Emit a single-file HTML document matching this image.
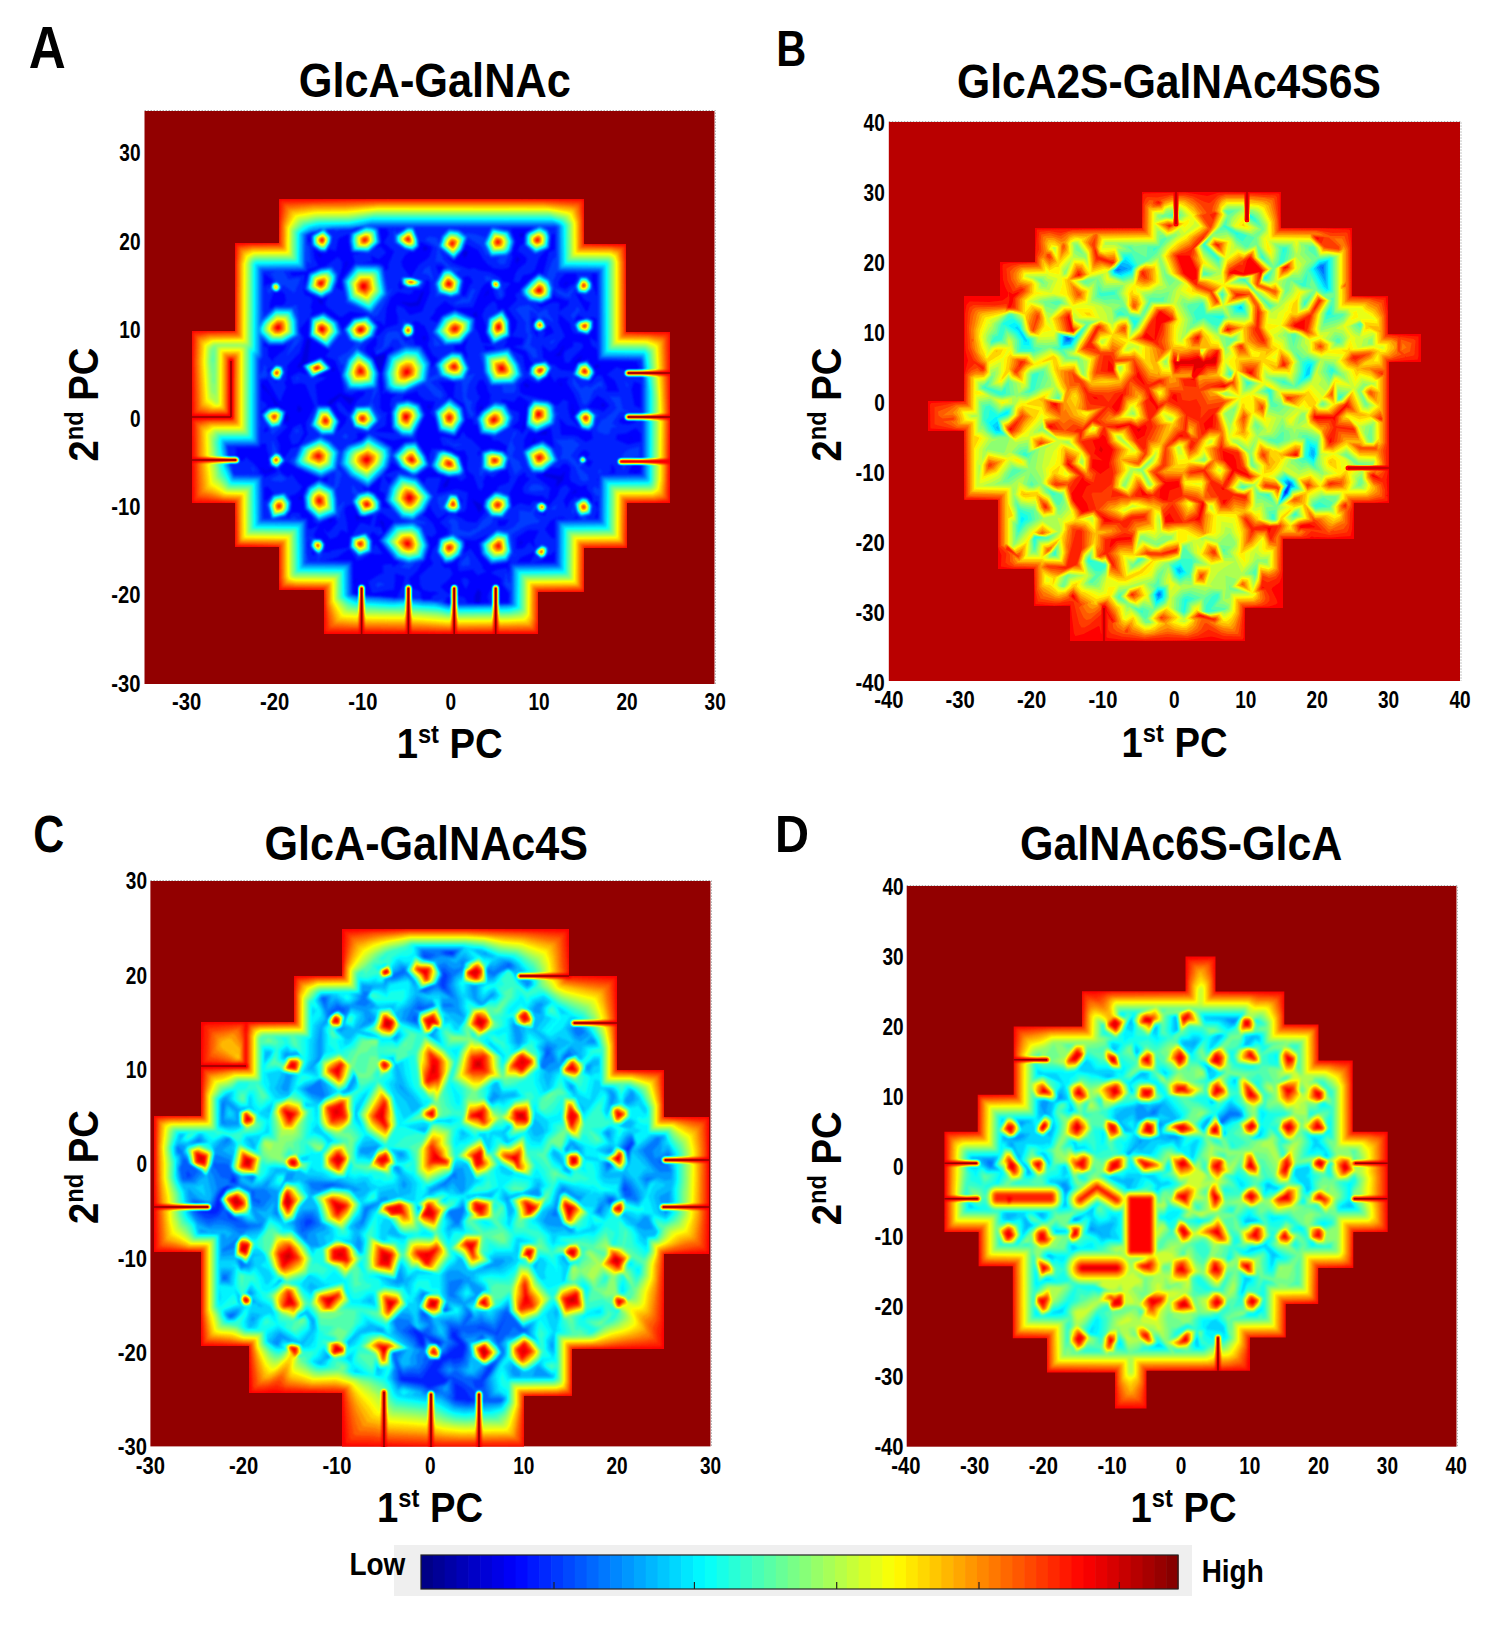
<!DOCTYPE html><html><head><meta charset="utf-8"><style>html,body{margin:0;padding:0;background:#fff;width:1500px;height:1628px;overflow:hidden}svg{display:block}text{font-family:"Liberation Sans", sans-serif}</style></head><body>
<svg width="1500" height="1628" viewBox="0 0 1500 1628">
<defs>
</defs>
<rect x="144.5" y="111.0" width="570.0" height="573.0" fill="rgb(146,0,0)"/>
<path d="M144.5 110.5H715.5V684.0" fill="none" stroke="#b0b0b0" stroke-width="1" stroke-dasharray="1.5 1.5"/>
<defs><clipPath id="clipA"><path d="M279 199 584 199 584 244 626 244 626 332 670 332 670 503 627 503 627 548 584 548 584 592 538 592 538 634 324 634 324 590 279 590 279 547 235 547 235 503 192 503 192 331 235 331 235 243 279 243Z"/></clipPath>
<filter id="fA" filterUnits="userSpaceOnUse" x="144.5" y="111.0" width="570.0" height="573.0" color-interpolation-filters="sRGB"><feGaussianBlur stdDeviation="1.30"/><feComponentTransfer><feFuncR type="table" tableValues="0 0 0 0 0.5 1 1 1 0.5"/><feFuncG type="table" tableValues="0 0 0.5 1 1 1 0.5 0 0"/><feFuncB type="table" tableValues="0.5 1 1 1 0.5 0 0 0 0"/></feComponentTransfer></filter></defs>
<g clip-path="url(#clipA)"><g filter="url(#fA)">
<rect x="144.5" y="111.0" width="570.0" height="573.0" fill="#141414"/>
<g transform="scale(.5)" fill-rule="evenodd">
<path fill="#181818" d="M1428 1368l-1139-1 1-1145 1139 1z"/>
<path fill="#202020" d="M1428 1368l-1139-1 1-1145 1139 1zM1040 475l6-1 2-8-9 1zM848 502l6-3 1-4-5-2-4 2zM930 516l6-11 0-2-8-3-4 8zM642 514l0-3-7-6 3 9zM1032 528l7-9-1-3-6-3zM682 557l13-32-1-4zM1128 569l2 1 5-3-1-3zM968 594l10-9-2-4zM802 605l18 8 18-2 9-26-1-2-3 2-9 19-14 2-16-2zM644 610l1-9-9-4 2 7zM956 642l-3-15 1-7 0 3-7 4-1 4 8 4zM847 681l4-4-1-5-4 1zM596 736l8-1-2-4 13-6 6-44-3-4-4 0-12 47-6 7zM1110 711l10 1 8-23-9 16zM760 744l2-1 10-36-22 7-5-9 0 6 4 6zM1150 729l2 1 2-7 4 0 6-12-13 12zM1189 735l1 2 10-4-8-5zM670 741l-3-6-5-3 4 5-6 4zM1059 771l-9-5-3 3 7 7zM1124 771l-2-6-2 1 0 3zM569 819l-13-10-32-42 0 6 19 20 8 18 5 0zM656 809l6 3 0-3 20-18 18 19 10-15-6 1-20-6-2-4-26 17zM1210 811l-4-5-5 5 7 2zM1146 833l2-6-4-19zM600 824l3-7-7-7-1 13zM862 811l-8 0 4 7zM960 821l5-4-1-8-4 8zM1048 857l4-46-3 2 3 2-5 36-3 4zM574 844l4-7-4-12-5 16zM1094 863l-2-2-16 8 18 0zM1063 887l7-2 0-12zM1265 877l-3-2-4 2zM547 939l-3-2-12 7-12-11 10 13zM1129 943l-7 9-30-5-7 2 3 3 24 7 2 2-2 13 14-13zM1268 945l4 0 1-2-3-1zM876 949l-6-3-9 3zM886 976l9-3 5-16-4 0-9 12zM1038 968l2-6-2 1zM1144 989l10-6-4-3zM596 998l8 2 0-10zM1178 996l-4-6-1 3zM958 1025l7-8-1-8-20-10zM711 1031l3 10 4-3 13 1 1-4-6 1-8-1-4-5zM665 1039l-5 0-3 2 3 4zM770 1061l-3-16-5-5-3 5 4 2 5 14zM1040 1090l5-5-1-4-5 4zM932 1093l8-6-8 0zM708 1167l6-11-6 7zM912 1179l-4-14-2 0-7 8 3 4zM952 1207l8 0 2-22-6-7-7 15 0 10z"/>
<path fill="#282828" d="M1428 1368l-1139-1 1-1145 1139 1zM770 542l7-5 0-10 11-24-21-18 11-18-5-10-15 0 5 28-15 14 12-7 13 13-15 14-16-8 2 12-20 2 36 2 7 4zM1056 744l3-9 7-9-5-3-9-20-26-10 18-4 4-12-25-4 9-16 2-14-18-26 18-17-4-11 10-7 0-3 20-20 18-14 8 4 12-46 12-4 0-30 0-2-8 3-2 27-10 6-11 12-9 25-8 7-16 4-8 15-11-3 4-16 5-9 16-13 2-8-12-11-7-3 5-12 8-4 1-18 3-4 13-8-39 0-4 4 9 22-8 24 2 8-7 21-14 3-18-2-6-6-4-1-10-12-10-18-24-12-5 13-19 21-17-11 15 15 32 12 10-2 13 5 19 3 20 11 6 9 16 2-12 14 1 11-7 9-11-1-6-16 0-4-4-4-3-12-11 6-7 9-16 37-36 1-20-14-19 17-1 6-10 12 1 2 13 6 9-14 27-13 40 18 0 20 6 7 8 22 18 3-11-21 1-14-8-22 6-15 14-13 6 0 4 8 2 10 10-5 14 25 2 32-10 6 3 2-7 14 10-2 6 8 22 10 3 20 3 10zM622 487l-2-16 6-4-1-2-9 10 0 6zM686 661l1-4 19-22 30-6-36-6-16 11-6-1-26-21-1-7 5-12-14 5-26-13-7-6-1-4 10-31 24-10 8-1 26-20 8 10 0 12-12 40 14 7-3-23 27-34-5-16 18-2-17-1-5-3-3-20 0-15-21 9-5 26-14-5-6 8-10 0-16-9 3 20 8 14-1 2-20 6-2 5-34 1 4 7 26-3-3 32 4 10 7 1 7 7-4 16 4 6-5 12 28-10 29 20zM820 553l2 1 16-25 20-14 7-20-23-11-2 1-2 10-10 9-9-1-9 8-7 12 2 10zM878 549l10-14-4-4-12 0zM542 570l0-3 4-2-2-5-16-13 0 26 8-6zM1118 573l14 6 8-8 8-3 6-11-1-10-22 0-10 10-4 8zM1194 593l0-44-2-2-9 0 0 14zM930 593l11-26 5-2-4-8-6-5-11 3 3 6-5 28zM800 579l10-6-7-4-1-10-5 10 1 9zM749 863l41 3-7-9-2-34 2-6-3-6 3-16 11-6-14-1-8-4-6 4-2-1 3-8-4-32 11-38 14-10-4-6-18 12-14 6-5-14 6-6 1-14-4-2 1-2 7-3 14-14 24-8 0-13-4-14 2-11 13 5 13 15 24-7 16-38 0-20-4-5-6 1 1 6-8 12-15 0-4 8-6 2-22-5-14 11-9 22-3 32-2 2-8-8-8-1-6-5 11 16-7 22-19 18 0 10 16 14 12 30-1 14 3 30-1 24 6 9 10 1-3 6-1 20zM540 617l2 1 8-7 14 0 5-4 3-6-3-14-9-6-2 3-10 0-8 21-1 8zM1176 621l5-16-11-4-9-12-5-1-2-4-2 5 20 34zM1138 601l-6 0-20-7-6-6-1 9-21 11-12-1 10 8 22-10 12 0 3 2-1 16 18-13zM1238 783l-8-21-17-13 21-16 8 5 15 3 7 10 2 0 8-6 4-12-5-10-77-1-2-23-11-8-4-16 1-1 14 11 0-47-8-4-8 3 9 4-1 16-10 14-28-4-5-8-3-12-22-19-1 17 13 28-13 14-5 9-12 8-16-13 2 24 16 14 6 0 14 11 22 2 2 2 5-7 3-12 17-4 7-5-1 7 12 16 2 8-11 17-7-1 9 3 12-15 10 0 10 22-1 10zM1150 645l6-5 14-3-14-6-5 6zM1076 676l-1-13-5-2-4-6 1-10 4-6-5-5-2 11 3 18zM568 917l14-21 14-3 7-6 13-20-3-6-1-16 17-32-18-44-9-3-16 3-5-16 17-9 18 6-12-19 36-16 4 0 20 22-32 16 22 2-22 13-1 3 5 38 24 2 20 32-6 21 16-17 4-12-16-13-7-13 7-7 20 24 18-27 12-9 2-7-13 0-15 7-14-5-7-36-11-28-19-8 8-12-42-26 1-39-18 22 0 5 8 12-8 30-25 26-3 30-4 4 5 8-11 26 2 4-6-2-23-42-13 2 0 39 11 7 0 8-11 9 0 4 14-12 20-3 16 10-6 24 10 6-23 22 6 14 0 16zM862 737l14-20-10-6-11-22 4-10-2-10-9-19-6 0-2-5-10-3-7 5 4 2 2 12-1 8-5 4 3 1 4 15 13 2 19 32zM1087 675l21-10-8-14-6 2-7 8 4 2zM807 673l5 8 10-6-8 1zM934 719l0-12-4-10 6-21-12 13-16 2 2 9 14 3zM1130 726l-3-15 3-9 16-9 1-10 13 2 6 4-1 8-21 20-4 8zM574 689l-6 2-30 1-10-7 0 8 7 0 2 20 11 12-1-8 22-18zM966 691l6 10 20-4-8-4zM540 749l-1-6 7-10-11 8zM1160 856l-12-23 12-16-12-29-14-21 0-6 4-6-22 1-6 9-8-12-2-8-4 8-10 6-8 8-9-2-15-9-15 13 1 15 7 5 51 12 12 10 7-2 9-10 10 3 0 15 5 20zM954 832l8-11 17-14 2-18-5-6-2-10-8-14-8 2-6 14 4 14 5 4-8 14-2 10zM555 763l-7-2 2 4zM846 1199l16 0 4-9 12-3-12-4-6 1-14-4-6-9-1-16 0-4 27-24-6-12 6-17 8-10 3-11 19-8 0-10-17-14 19-17 14 2 22 13 18 2 19-22-5-10 3-14 19-16 6-2 2-8 21-8 3-11-6-18-2 4-11 3-15 12-10-5-4 0-6 14 2 7-6 11-6-6-9-25-11-8-2-8 1-20-6-14-15 1-16-9-13-2-5-14 2-5 22 4 6 4 9-5 7-12 9 12 7 3 21 21-9 8 6 5 2-10 18-5 28 5 4 3 2-13-18-11-10 0-5-8-21-4-6-21-6 3-2-12-12-2-6-28-21-14 3-30-10-2-16 0-6 2 6 6 12 20-6 8 10-5 24 19 3 4 4 24-21 33-32-8-2-3-6-26-10-12 5-6 5-16-20-2-12-10-4-9-26 9-3 8 11-1 24 8 11 23-17 34-2 16 19 30 7 16 1-16 5-12 22 1 16 4 18 11 13 42-11 8-9-8-15 0-24-8-12-11-6 0-21 15 13 16 5-12 28 0 1 2-8 30 40-9 22 7-3 30-3 8-14 3-4 3-18-3-18 12-14-19-2-9-14 21 6 2 14 14 7 16 0 4-9 8-10-4 6 22-9 28-7 4-10 18-16 14 4 18 19 8 2 14zM1282 817l0-49-14-5-5 16 6 32zM1206 824l13-13-13-14-12-6-19 24 25 5zM1044 868l8-11 2-42 4-10-18-13-4 2-8 10-23-5-3 4 10 3 8 12 19 7-2 18-14 12 15 4zM524 836l-2-6 0 4zM1272 835l-14-2-16 3-5 7 7 5 14 1 14-5zM1185 877l-2-14 1-4-4 4-16-2-16-8-14-2-14-14-1 2 3 31 30 1 20 13zM584 890l-6-17 8-18 16-8 6 18-11 22zM528 865l9-4-3-8-6 6zM1048 897l38-17 22 16-6-39-4-1-26 11-14-4-9 16zM1232 879l24 10 26-6 0-15-10-12-20 11-18 2zM703 885l20-6 9-11-18-3 1 12zM828 881l-22-4-20 4-34-8 32 20 2 6 4 1 20-17zM552 945l2-6-17-8 2-4-2-10 1-4-4-12-2-14-10 1-1 5-3 2-46 0 0 26 14 1 6-8 18 15 8 10 1 8 8 2 1 6zM1180 933l5-10-12-6 7-10-10-7-6 2-8 11 4 2 6-4 3 2 5 6-5 8 9 7zM740 1051l6-20-18 3-10-1-12-23-8 0-7 5-2 8 5 22 2 21-14-6-7 13-15 6-13-20 1-1 8 8 19-21-6-10-23 8-8 6-10-4-3-10-16-18-3-26 7-16 26-18-47-21-20-13-14 15 7 9 11 7 8-6 12 17 9 8-7 10-8 6-12 4 5 10-1 18-10 14-5 0 8 0 9-10 16 1 2 9 13 2 1 21 6 0 14-8 1 1-9 18 2 6 12 2 7 10-3 17 12 1 4-4 34-6 2-3 2-19 6-2 0-4 14-21 6 0zM768 950l22-9 12-2-18-15-5 11zM1184 991l-11-14 1-7-14 3-18-10-3-8 2-20-9-8-8 2-4 7-18-1-16 12-12 1-2 5 29 22-5 26-12-10-10 1-26-5-3-10 4-8 11-12-8-4-2-9-14 10-18 35 3 4 3 24 3-4 13-7 20 5 5-8 3-1 18 2 8 5 2 5 19-23 6-16 11-6 9 10-14 22 6 16 8-16 9-7 8 2 6-3 12 3 6 8 4 1zM1230 947l0-10-8-9 1 15-7 4zM1282 932l-8-4-10 3-8 14 4 2 21 0zM656 953l-14 6 13 6zM780 1017l0-2-11-14 1-13-12-7 6-28-28 25-12-5 6 8 6-1 15 7 12 16 1 12zM778 968l6-11-14-5-1 3zM1196 962l0-4-3 1zM532 1002l14-15 4 0-6-3-8-11-8 2 0 24zM922 1008l3-7-7-8zM1196 1017l0-14-7 2zM1190 1037l6-1 0-19zM1092 1021l-6 6-10-4-1 2 15 7zM794 1195l12-26 4-16-20-6 0 16-2 17-12 1-32 6-8-24 24-15 6-1 0-18 18-1 2 6 13-9-11-5-31-39 30-38-25-18-8 6-5 22 13 1 4 11-8 9-12-10-2 0-4 7 5 10 1 18 2-8 4-3 14 20-16 1-6-3-22 13-8 2-16-23-24 17-24 6 52 0 3 2 1 64 8 2zM1157 1037l-3-5-7 5zM1102 1075l8 2 0-38 2-2 20 0-6-3-12 1-14 8-10 16zM997 1053l13-2 8-12-23 2zM1078 1061l-22-1-24 16 0 22 15-1 11-13 13 13-3-16zM1017 1207l1-20-14-18 0-11-23-13 13-6 20-3 4 10 0-17 3-10-7 7-32 4-19-19-6-24 21-18-28 12-24-2 3 4 1 8-4 16 14-9 2 0 22 32 2 7 7 6-17 8-8-8 0-4-30 4-3-16 5-12-14 10-8 3-10 0-6-9 2 10 6 7 9-1 7 12-8 12-17 14 15 14 34 8 5 12 37 0 7 0-4-14 5-12 12 1 5 7 3 14-8 4zM618 1098l0-13-2-2 0 14zM628 1112l2-7-6-7 0 12zM1034 1125l26 0 9-16-1-6 2-3-6 6-22 9zM1110 1103l-4 2-2 4-10 2-12 11-17 3 44 0zM932 1179l-8-14 0-9 10 0 5 7zM910 1207l-4-8-10-6-2 2-3 10 5 3z"/>
<path fill="#2f2f2f" d="M1428 1368l-1139-1 1-1145 1139 1zM1020 1207l1-24-12-14 2-18-2-4 4 0 3 18 4 1 2-38 90-1 1-86 51-2-11-14-3-12-2 14-5 0 5-23 16-10 12 2 10 17-4 16-11 4 4 6 23 0 0-48-6 1-7-11 3-9 10 6 2-28 84-1 1-202-3-26-85-2-1-174-82 0-7 16 0 12 3 4-4 3-3 17-21 10-24-4-15-12-1-12 20-20 16-13 16 7 2-10 10-24 6-6 0-58-23 0 8 4 4 12-3 26-28 12-21-20 1-20 4-5 16-10-78 0 26 6 11 23-5 20-7 8-7 18-10 0-7-8 8-6-21 0-4-8-2 4-2 0-9-18-27-17-11 25-17 19-30-23 9 22 13 13 23 7-11 6 14 16-6 29-16 5-18-4-14 2-2-2 2-4-4-20 17-28 8-4-9-10-13-2 4-28-26-16 9-6 16 2 4 12 5-16 15-15 20 3 14 10 2-3 16 2 22 7 10-20-154-1 9 23 1 16-12 10-18-5-20-13-1-16 1-10 6 8 18-12-58 0 3 2 4 28-23 21-35-3-4-20 1-16 22-12-8 0-10 4-22 0-12 5 1-5-19 0 12 14-1 12-11 19-12-1-17-12 0-20 19-12-28 10-1 18 6 8 3 34-8-7-2 20-44 1 9 16 23-4-1 8-9 21-2 2-22-16-4 3 2 2-6 7-8 2-6-4-6 10-4-11 8-5 1-7 7-2-4-12-6-6 11-4-25 0 0 81 2-1 0 10 22-20 30 0 14-4 4 28-1 24 5 12-4 12-24 27 0-3 14-30-22 11-28 0-13-9 0 34-6 6 1 30 7-14 1-9 6 7-2 4 4 12-5 4-9 1-3 3 1 89 2 1-3 8 0 32-3 3-62 0 6 37 5 6-1 6 4 9 42-1 15 2 1 86 15 0-8-28 13-20 25-4 11 18-1 18-9 12-18 4 26 1 6-4 4 0 4 4 19 1 0 66 5 18 17 0 1-14-9-8-7-10 3-12-7-6 8 1 1 3 17 1 7 11-2 10-6 8 3 4-4 2-3 10 66 2 1 63 10 3 22 0 2 2 24 0 2 2 34 1 10-1 4-14 2-1 13 17 17 1 2 2 18 0 12 3 2-3 8-1 0 6 8 1 2 2zM756 631l-10 2-4-4-52-24 2-6-7-38 25-33 48 1 8 4 10 50 10-8zM610 577l8-31 24-10 22-4 12 15-2 14-9 24-21 12-26-12zM866 562l-10-13-12-2 5-10 9-5 2 1 7 28zM1004 594l-5 1-4-14-11-6-3-10 2-6-11 4-4-11 12 1 9 6 9 2 4 8 4 22zM847 563l-7 12-26 0-10-6-1-12 1-3 22 2 16 4zM1174 588l-18-2-7-13 11-20 14 0 9 12 0 14zM1150 575l-9 16 2 4-11 0-16-7-7-9 1-2 11 4 11 6 16-13zM907 607l20-12 7 2 10-20 7 2-11 27-30 3zM1076 715l-10 2-4-8-12-12-7-2 5-2 9-24-4-2-2-10 1-12-21-26 7-6 20-4 18 17 18-9 3 10 10 16-1 1-20-11-4 4 5 4 5 14-10 8-10-2-2-2-3-10 2-6 7-6-2-9-14-8-1 27 2 18 3 6-4 20 12 7zM1146 638l-5-7 11-12 2-8 7 12-5 2-8 13zM986 690l-14-25 4-30 30-17 13 23 1 32zM864 665l20-33 26-12 39 17-2 24-25 28-34 3zM658 698l-40-25 3-38 27-10 28 18 9 26-5 2zM736 864l-28-8-9-23 11-20 23-2 8-6 6-26-53 4-12-30 6-25-6 2-7-15 23-13 12-13-3-4-9-4-11-22 19-23 30-5 20 22-8 20-20 12-8 8-2 4 28 20 12 30-3 34-12 24 4 2 1 6 11 16 4 2-5 12zM806 641l0-5 2 3zM1176 670l-21-7-6-14 7-8 18-5 12 5-1 16zM814 675l-7-4-5-8 6-24 3 6 9 1 7 5 1 12-4 9zM946 833l-4 0-6-8-10-28-3-34-17 0-24-7-19 7-1 2 20 17 5 9-9 10 0-6-8-2-21-24-43 19-24-1-12-8-5-32 10-38 29-16-8-14-10-1-10 15-20 14-3 0-1-4 14-8 4-24 6-7 12-2 8 1 4 4 2 8 9 12 3-1 6 4 22 3 19 32-3 30 16-7 0-5-4-14 14-15 20-11 20 2 16 32-6 14 17-4-14 22-4 22 4 8 7 4-2 14 6 12zM884 691l-14 2-2-1-2-21zM1099 685l5-4 8-2-8 9zM1028 786l-20 0-2-1-2-14-22 1-3-3-12-24-1-14-7-22 5-7 4 2 50-9 22 32 8 24-16 18 0 10zM622 756l-16-26 36-14 21 21zM1076 764l-19-15 3-14 8-9 24-4 12 13-10 18zM1180 762l-18-2-17-11 11-24 18-4 13 16 2 10zM560 760l-10 0-9-7-1-10 12-13 12 2 5 13zM591 757l3-3 7 3-9 2zM1204 778l-4-6-14 11-6 16-6 9-6 2-3-3-7-22-13-16 0-14 2 0 15 22 10-6 8 4 22-14 4 6zM1254 777l-4-18 7 12zM1195 863l-2-6 9-16 8-4 23-20-5-12-10-12 22 0 6 26 15 4-21 1-16 23 10 6-2 2-9 0-5 14-8 0zM910 872l-32-8-10-43 32-26 25 20 4 26zM1072 866l-20-13 3-38 9-14 0-3 34 4 10 7 4 17 6-1-5 8-4 16zM826 876l-24-3-18-16-1-34 8-20 25-3 24 9 9 22zM960 867l-7-30 9-14 28-20 21 4 17 28-9 20-29 18zM848 1122l-19 5-5 7-6 4-14-3-2-2 9-6-22-8-30-38 27-34 30-4-14-4-32-38 7-28 19-27 28 5-26-16-14-22-7 22-12 14-29 27-36-20-24-28 0 10 8 9-7 26-5 7 4 34 12-12 1 3-8 20-3 14-4-6-4-1-32 12-27-25-3-28 8-18 22-13 30 13 3-28-5 0-22 11-6-1-46-21-12-11 4-8 6-2 10-22 40-20-21-20 15-39 26 1 19 30-11 28-22 2 16 9 20 21 12-13 30-10 14-13 44 27 3 13 25-22 23-2 19 30 7 18-30 22 6 2 32 38-17 31-18 15 16 4 5 6-18-2 9 6 14 38zM544 870l-3-11-10-14-8-16 15-13 18-2 14 8 1 3-9 26 2 2zM1180 861l-16-2-15-26 13-14 14-3 12 9 12 6-8 5-3 17zM590 868l1-9 5-2 2 6zM962 955l-4-8 2-6-2-6 4 0 2-32 18-5 26 5 9 8-3-12 14-36 3 0 1 5-8 13 6 16-6 16 14 9 7 15-11 9-4 5-12-33-6 20-32 8-9-3-5 3zM690 879l-6-6 6-6 5 2 1 6zM1170 964l-9-3-10-26-17-16-15 0 5-12 0-12-12-13 0-8 2 6 32-2 14 11-18 22 1 2 7 6 6 10 4-4-2-6 4-5 4-2 7 7-3 6-5 2 1 3-8 5 17 14 3 10zM556 937l-14-5-4-15 7-10-1-4 0-25 9 19 1 8 7 4 9 12zM926 889l-18 4-16-11 0-3 16 10 6-2zM1064 946l-9-13-10-30 21-14 20-7 19 13 13 26-32 25zM1246 942l-2-31 6-8 4-1 1-3 24-6 0 16 3 6-6-1-18 6zM922 952l-24 2-24-8-13-15 7-16 2-14 14-2 20 5 15 9 10 30zM508 948l-5-11 1-4 4 4zM1196 948l1-9 5 0 1 6zM572 959l-8 5-18-2-5-3 19-11 12 9zM1090 977l-2 4-22 2-8-1-1-3 1-4 6-7 16 1zM761 1021l-11 7-22 6-10-3-14-28 5-12-5-6 0-14 2-1 11 15 19-4 13 6 13 16zM873 1103l5-26 25-10-1-18-6-6 6-6 6 0 8 6 2 16 20 5 10-6 4 0 14-18 11-9-10-18 4-14 19-16 10 0 19 8 4 22-15 22-22 1-2 9-6 6-36 22-26-1 12 11 1 8-6 20-21 14-12 2zM924 1017l-12 10-14-1-10-7-6 3-6-16-2-11 24-8 16 1zM963 1109l-4-22 35-28 18 2 14-6 13-14-1-21 24 4 10-18 12-2 9 5 1 8-8 9-8-2-6-6-6 9 6 9 8 5-4 6-10 0-14 5-29 17 3 38-10 16-34 6zM1103 1019l1-4 11-6-4 10-7 1zM764 1065l-2 3-5-5 7 0zM718 1114l-19-19 3-22 30-8 12 16-1 24zM1082 1117l-10-7-3-5 3-6 12-10 12 6 0 10-6 9zM1028 1113l1-4 3-1-2 5zM922 1133l0-6 2-5 12-12 3 7 1 14zM751 1169l7-5 12 5-16 6z"/>
<path fill="#373737" d="M1428 1368l-1139-1 1-1145 1139 1zM1020 1209l3-4 1-74 91-2 1-86 85-2 1-88 85-2 0-188-3-42-4-3-80-1-1-174-83-2-1-86-3-3-30 1 14 8 4 12-2 22-4 3-24 9-20-18 1-18 3-6 23-12-1-1-333 1 7 2 6 4 4 26-24 20-32-2-4-20 2-16 27-14-15 1-10 4-54 1 13 14-2 14-9 16-12-1-16-13 0-18 20-12-4-1-6 4-20 6-3 3-1 68-87 2 1 98 26-24 36 1 9 23 2 32-31 17-28 0-14-12-1 1 0 36-6 6 0 168-3 3-61 1 6 38 8 22 55 2 2 87 86 1 2 85 88 1 2 62 12 3 70 4 4 2 26-2 2 2 26 1 4 3 28 1 22 6zM826 502l-16-4-19-13-1-14 26-17 10 0 10 25 1 14zM1014 511l-34 1-12-25 16-33 35 9 9 20-6 20zM908 519l-31-26 8-22 13-13 20 2 17 13-11 28zM743 627l-48-24-9-42 26-31 44 1 9 4 9 54zM612 578l6-30 26-11 20-2 10 14-1 12-9 23-20 12-24-11zM918 589l-16 5-26-7-6-20 16-28 10-2 6 1 22 21-4 28zM1082 606l-24-4-13-13-2-10 19-19 16-12 21 11 6 18-3 20zM1172 588l-16-3-5-12 11-19 12 0 9 11 0 12zM846 563l-8 10-22 1-11-5-2-12 3-2 18 1zM996 579l-11-4-3-10 2-5 12 0 3 3 2 10zM550 584l-8-7 2-10 10-4 8 12-6 8zM986 689l-13-24 4-28 29-17 12 21 1 32zM866 665l19-32 25-11 37 15 1 2-3 22-23 26-32 3zM656 697l-37-24 3-37 26-10 26 17 7 22-6 10zM700 681l-11-22 17-21 30-6 18 21-7 20-27 14zM1080 662l-10-3-3-8 3-8 8-7 8 5 5 12-1 4zM1176 669l-21-6-6-14 7-7 18-5 11 4 0 16zM814 675l-6-4-5-10 7-14 6-1 10 5 2 12-4 8zM772 778l-5-31 10-36 33-18 30 1 20 33-6 36-48 23-24-1zM752 776l-30 4-26-1-12-28 11-34 19-21 31 23 12 28zM1045 751l-17 18-46 1-13-25-4-38 13-4 40-6 20 32zM928 760l-22 2-26-9-9-24 14-14 19-11 20 3 14 30zM622 755l-16-24 36-14 20 20zM1180 761l-18-3-16-9 10-23 18-4 12 15 3 10zM1076 763l-17-14 2-14 9-8 22-4 11 12-10 18zM560 760l-10 0-8-9-1-8 11-12 12 2 4 12zM910 871l-32-10-9-38 31-26 23 18 5 26zM824 874l-22-3-17-16-1-32 10-17 22-5 22 8 9 20-11 25zM1072 865l-17-10-2-4 3-36 12-15 30 3 9 8 3 20-2 16-18 11zM962 867l-8-30 10-14 26-18 20 3 15 27-7 19-28 17zM668 869l-26 1-21-19 15-38 22 0 20 30zM736 863l-28-8-8-22 12-20 30-1 13 21 1 10zM542 857l-11-14-7-14 14-12 18-2 14 8-4 16-6 14zM1178 861l-14-3-14-25 12-13 14-3 15 12-3 23zM736 974l-36-21-21-24 7-28 10-10 28-9 14-13 42 26 2 14-6 24-12 15zM644 954l-6-1-45-20-6-8 15-33 40-19 18 10 19 20-6 36zM834 949l-8 2-26-16-15-24 25-25 22-2 19 29 6 18zM1064 944l-7-11-10-30 19-13 20-7 18 13 12 25-30 24zM963 937l1-32 18-6 24 4 11 12-7 23-30 7zM922 950l-24 3-22-7-9-9-4-6 12-28 11-3 17 5 15 9 10 29zM554 936l-12-5-3-14 11-12 10 3 9 13zM1164 927l-5-6 2-6 5-3 7 9-3 4zM826 1041l-23-4-31-36 7-28 19-25 36 8 31 37-16 30zM638 1043l-27-26-2-24 7-18 22-14 31 16 4 20 1 32zM720 1032l-15-31 11-14 20-5 12 5 12 16 1 16-13 8-20 6zM1006 1034l-24 0-14-21 4-14 18-15 10 1 18 8 4 20zM544 1038l-9-29 11-19 24-4 12 19-2 16-10 11zM912 1026l-14-1-12-10 5-12 9-15 14 2 5 11 3 16zM1160 1033l-7-10-4-18 15-10 10 2 10 14-4 19zM1086 1025l-8-1-6-9 1-6 9-5 11 7 0 6zM848 1119l-30 8-26-8-31-38 27-34 40-2 15 10 13 36zM982 1127l-17-18-4-22 33-27 24 6 6 39-10 18zM718 1113l-18-18 2-20 30-9 11 15-1 22zM890 1126l-15-21 5-28 26-9 21 15 0 10-6 18-15 11zM638 1109l-10-8-7-10 5-13 16 1 7 10-3 10zM1082 1117l-13-12 4-6 11-9 11 5 0 8-5 11z"/>
<path fill="#3e3e3e" d="M1428 1368l-1139-1 1-1145 1139 1zM1022 1209l4-2 1-74 87 0 3-2 2-86 81 0 3-2 2-88 81 0 3-2 1-188-5-44-3-6-80-1-1-173-3-2-80-1 0-85-8-4-372 0-24 4-2 2-6 0-2 2-52 1-3 1 14 14-3 14-10 15-10-1-14-10-2-12 1-8 21-12-6-1-6 4-10 1-15 6-2 68-83 0-3 2 0 104 1 1 28-27 34 0 10 22 1 32-29 16-28 0-16-15-2 1 0 38-6 6 0 168-4 2-58 1-1 7 6 34 9 24 2 2 52 1 0 83 2 3 86 2 0 81 2 3 88 2 0 59 16 5 24 2 20 0 30 4 24-2 30 3 4 2 16 0 20 3 14 5 62 1zM706 502l-5-19 2-16 29-14 14 2 8 3 4 27-20 18zM836 493l-10 8-16-4-18-12 0-14 22-15 12 0 9 23zM1070 506l-19-17 1-18 4-6 24-12 15 8 4 12-2 22zM1014 509l-32 4-13-26 15-31 33 7 10 20-5 18zM908 518l-30-25 7-20 13-14 20 3 15 13-9 24zM742 625l-46-24-8-40 24-29 44 0 7 5 9 52zM613 577l6-28 23-11 20-2 10 13 0 12-8 22-20 11-24-10zM918 588l-16 5-25-8-5-18 14-26 10-3 6 2 22 20zM1082 605l-23-4-12-12-2-10 33-30 20 10 6 18-2 18zM1172 587l-15-2-5-12 10-19 12 1 8 10 0 12zM845 563l-7 9-22 2-10-5-2-12 18-1zM996 578l-11-3-3-10 4-5 10 1 2 2 3 10zM550 583l-7-6 0-8 11-4 7 10-5 7zM986 687l-12-22 4-28 28-15 11 19 1 30zM890 688l-22-25 18-29 24-11 36 16-3 22-21 25zM656 696l-36-23 3-36 25-10 26 18 6 20zM702 681l-12-22 18-21 28-5 17 20-7 19-24 14zM1080 662l-9-3-3-8 2-7 8-7 8 4 5 12-1 3zM1176 668l-20-5-6-14 6-6 18-5 10 3 0 16zM814 674l-6-4-4-9 5-12 7-3 9 5 2 12-3 8zM774 777l-5-30 10-36 33-17 27 3 19 30-6 35-46 23-22-2zM750 774l-28 4-25-1-12-26 10-32 19-21 31 23 10 26-3 26zM1043 751l-15 16-46 1-12-25-2-36 49-8 20 30zM937 737l-9 21-22 3-26-10-7-22 13-13 18-11 18 2zM622 754l-14-23 34-14 19 20-37 18zM1076 762l-17-13 2-14 9-8 22-3 10 11-10 18zM1180 760l-16-2-16-9 8-22 18-3 11 13 3 8zM560 759l-10 0-7-6-2-10 11-12 11 2 4 12zM910 869l-31-8-9-38 30-24 23 18 4 24zM1056 854l-3-5 4-34 11-14 28 3 10 7 3 20-3 17-34 15zM824 872l-20-2-18-15-1-30 9-18 22-5 22 9 8 20zM964 866l-2-2-7-27 10-14 25-17 20 4 14 25-6 18-28 17zM736 862l-26-7-9-22 11-19 30-1 11 20 2 10zM644 869l-22-18 13-36 23-1 19 29-9 24zM542 855l-10-12-7-14 13-11 18-2 13 9-3 14-6 12zM1178 860l-14-3-13-24 11-13 14-2 14 11-3 22zM736 972l-34-20-20-25 4-24 10-10 28-10 14-12 40 25 2 15-6 22-11 14zM642 952l-46-19-7-10 13-30 40-18 18 10 17 18-6 36zM1066 943l-8-10-10-30 20-12 18-6 17 12 11 24-28 23zM826 949l-24-14-15-24 23-23 20-3 19 28 6 16-21 18zM922 949l-24 3-21-7-9-8-4-6 12-27 10-3 16 5 16 9 8 26zM965 937l1-32 16-5 24 4 10 11-6 22-30 7zM554 935l-11-4-4-14 11-11 10 3 8 12zM1164 926l-5-5 3-6 4-2 7 8-3 3zM826 1039l-22-3-30-35 7-26 17-25 34 7 32 36-16 28zM638 1041l-26-24-2-24 8-18 20-12 30 16 4 18 1 30zM720 1030l-14-29 10-13 20-5 12 6 11 14 0 16-11 7-20 6zM544 1037l-8-28 10-18 22-4 13 18-3 16-8 10zM1004 1034l-22-2-13-19 3-12 18-16 10 1 17 7 4 20zM912 1025l-14-1-11-9 13-26 14 2 5 12 2 14zM1160 1032l-6-9-4-18 14-9 10 1 9 14-2 16zM1086 1025l-8-2-5-8 0-6 9-4 11 6 0 6zM846 1119l-28 6-26-8-29-36 27-32 36-3 16 10 13 35zM982 1125l-17-18-2-20 31-26 22 5 7 37-9 18zM718 1112l-17-17 2-20 29-8 10 14-1 22zM890 1124l-15-21 5-24 26-10 19 14 1 10-6 17-16 12zM638 1108l-10-7-6-10 4-12 16 1 6 9-2 10zM1082 1116l-12-11 3-6 11-8 10 4 0 8-4 10z"/>
<path fill="#464646" d="M1428 1368l-1139-1 1-1145 1139 1zM1027 1209l1-70 2-4 86 0 4-2 0-82 2-4 80 0 4-2 0-84 2-4 80 0 4-2 0-190-5-46-3-6-76 0-4-2 0-172-4-2-78 0-2-4 0-80-10-6-370 0-12 4-6 0-2 2-56 2-16 4-8-2-6 4-12 0-16 8 0 62-2 4-82 0-4 2 0 116 8-12 24-22 34 0 8 22 2 28-28 17-26 0-22-19 0 42-6 6 0 168-4 2-58 0-1 2 6 44 11 26 48 0 4 2 0 82 2 4 82 0 4 2 0 80 2 4 84 0 4 2 0 58 18 5 74 6 24-2 34 5 26 1 24 7 116-1zM706 501l-3-18 2-16 27-13 14 2 7 3 4 26-21 18zM1070 504l-18-15 1-18 5-6 22-11 14 8 4 11-2 20-4 4zM826 500l-16-4-17-13 0-12 23-15 10 1 8 22 1 12zM982 511l-12-24 14-29 32 5 9 20-5 19-8 7zM650 501l-10-1-13-9-2-12 1-8 22-12 14 14-2 12zM908 516l-29-23 7-20 12-13 20 3 14 12-9 24zM742 623l-45-22-7-40 22-28 42 1 8 5 8 48zM614 577l6-28 22-10 20-2 10 14-1 10-9 22-18 10-22-9zM917 587l-15 5-24-7-5-18 15-26 8-1 6 1 21 20zM1082 604l-22-4-11-11-3-10 18-18 14-11 20 11 5 16-2 18zM805 557l17-1 22 7-6 8-22 2-10-5zM1172 586l-14-1-5-12 9-18 12 1 8 11 0 10zM996 578l-11-3-2-10 3-5 12 3 3 8zM550 583l-6-6 0-8 10-4 7 10-5 7zM988 686l-13-21 3-26 2-3 24-14 12 19 1 30zM870 663l17-28 23-10 34 14-2 22-22 24-29 2zM656 694l-35-23 3-34 22-8 26 16 6 20zM702 679l-11-20 17-20 28-4 16 18-7 18-23 14zM1080 661l-8-2-4-8 2-6 8-7 8 4 5 11-1 3zM1176 667l-19-4-6-12 6-8 17-4 10 4-1 14zM814 674l-6-5-4-8 5-12 7-2 9 4 2 12-3 7zM775 775l-4-28 9-34 32-17 26 3 18 28-5 34-45 22-20-1zM750 773l-26 4-26-1-11-25 10-32 17-19 29 21 11 26zM984 768l-13-25-2-34 47-9 19 29 6 22-15 15zM926 758l-20 2-24-9-8-22 12-12 18-11 18 2 14 29zM624 754l-15-23 33-13 18 19zM1076 761l-15-12 1-14 8-7 21-3 10 10-9 17zM1178 760l-14-2-15-9 9-22 16-2 12 14 1 8zM560 759l-10-1-7-5-1-10 10-11 10 1 5 12zM908 868l-28-8-9-37 29-23 21 17 5 24zM1057 853l-3-4 3-32 11-15 28 3 8 6 4 20-4 16-32 15zM824 870l-20-1-16-14-2-30 8-16 22-5 20 7 9 20zM964 864l-7-27 9-13 24-16 19 3 13 24-6 18-26 16zM736 861l-27-8-7-20 10-18 28-1 12 19 3 8zM542 854l-10-12-5-13 11-10 18-2 12 8-3 14-6 12zM666 867l-22 1-20-17 12-35 22-1 18 28zM1178 859l-14-3-13-23 11-12 14-2 14 12-4 20zM736 969l-34-19-18-23 4-22 10-11 26-9 14-11 38 23 2 14-6 22-10 12zM642 951l-46-20-5-8 13-29 38-17 16 8 17 18-5 34zM832 947l-8 0-22-13-14-23 24-22 18-3 18 27 6 16zM1066 942l-7-9-9-30 18-11 18-6 16 11 10 24-26 21zM1010 935l-28 7-15-5-1-30 16-6 24 4 9 10zM920 948l-22 3-20-7-12-13 11-26 9-3 16 5 15 8 8 26zM554 935l-11-6-3-12 12-10 8 3 8 11zM1164 926l-4-5 2-6 4-2 6 8zM826 1038l-22-4-28-33 6-26 18-24 32 8 30 34-16 28zM638 1039l-24-22-3-24 7-16 20-13 28 15 4 18 1 30zM722 1030l-15-27 9-14 20-5 11 5 11 14 0 16-10 6-18 5zM1004 1033l-22-2-11-18 2-12 17-15 8 1 18 6 4 20zM544 1036l-7-27 11-17 20-4 12 17-2 15-8 10zM912 1025l-14-2-10-8 12-25 13 1 5 12 2 14zM1162 1032l-8-9-3-16 13-10 10 1 9 13-3 16zM1086 1024l-8-1-4-8 0-6 8-4 10 6 0 6zM845 1117l-27 7-24-8-29-35 25-30 36-4 15 10 12 34zM984 1124l-17-17-3-20 30-24 22 5 6 37-10 15zM718 1111l-16-16 2-20 28-7 9 13-1 22zM890 1123l-14-20 5-24 25-8 17 12 2 10-7 18-14 10zM638 1107l-9-6-6-10 3-11 16 0 5 9-2 10zM1082 1116l-12-11 4-6 10-8 9 4 0 8-3 9z"/>
<path fill="#4e4e4e" d="M1428 1368l-1139-1 1-1145 1139 1zM1030 1210l0-69 2-3 90-2 0-83 2-3 84-2 0-85 2-3 80-1 4-2 0-188-6-50-2-8-76 0-3-2-1-173-82-2-2-3 0-78-4-4-12-4-362 0-26 6-56 2-14 3-20 1-22 9-2 3 0 60-2 3-82 1-4 2 0 170-6 5 0 169-4 4-59 0 0 14 6 34 13 28 46 0 3 2 2 86 83 0 3 2 2 84 85 0 3 2 1 54 2 4 20 6 72 5 22-2 36 5 24 1 26 7 126-2zM708 500l-4-17 2-15 26-13 13 2 7 3 3 25-19 17zM826 499l-16-4-16-12 0-11 22-15 10 2 8 20 1 12zM1072 504l-18-15 0-18 4-5 22-10 13 7 4 10-2 20-3 3zM1012 508l-30 1-11-22 14-28 31 6 8 18-5 18zM650 501l-10-2-12-8-2-18 22-13 13 13-1 12zM908 515l-27-22 5-18 12-13 18 2 15 11-9 24zM742 620l-8-2-35-19-8-36 23-28 38 1 8 3 9 48zM616 577l6-28 20-8 18-3 10 13-1 10-7 20-18 11-21-9zM916 586l-14 5-23-6-5-18 14-24 8-2 6 1 20 19zM1082 603l-22-4-10-10-2-8 16-19 14-11 18 10 6 16-3 18zM806 557l16 0 21 6-7 9-18 1-12-6zM1172 586l-14-2-4-11 8-17 12 1 7 10 0 10zM996 577l-10-2-3-8 3-7 11 3 3 8zM556 581l-6 1-6-5 0-8 10-3 6 7zM566 684l-26 0-20-19-1-8 7-14 26-24 30 1 9 21 1 28zM988 685l-12-22 3-24 25-15 12 19 0 28zM872 663l16-27 22-10 33 15-3 20-20 23-28 2zM654 692l-32-21 2-32 22-9 24 15 7 20zM704 679l-11-20 15-19 26-5 16 18-8 19-20 12zM1080 661l-8-2-3-8 1-6 8-7 8 5 4 12zM1174 667l-17-6-5-12 5-6 17-4 9 4-1 14zM814 673l-6-4-3-8 5-12 6-1 8 3 2 12-2 6zM776 773l-3-26 9-33 30-15 25 2 17 28-5 32-41 20-22-1zM748 772l-26 3-22 0-12-24 10-30 16-19 28 19 10 26zM1040 749l-14 16-42 1-11-23-3-32 12-4 34-5 18 27zM935 737l-9 19-20 3-22-8-8-22 12-12 16-9 18 2zM610 733l1-2 31-12 17 18-35 16zM1178 760l-14-3-14-8 8-21 15-3 12 14 2 6zM1076 760l-14-11 1-14 7-6 20-4 10 12-8 14zM560 758l-10 0-6-5-2-10 10-11 11 3 3 10zM908 866l-27-7-8-36 25-21 22 16 4 21zM824 868l-20-1-15-14-2-28 9-16 20-4 20 8 8 18zM1058 852l-3-5 3-30 10-14 26 3 8 5 4 20-2 14-32 15zM966 864l-8-27 9-12 23-16 18 4 12 22-6 18-24 14zM666 866l-22 1-19-18 12-32 21-1 17 27zM736 859l-26-6-7-20 9-16 28-2 13 26zM544 854l-10-11-7-12 11-11 16-3 13 8-2 12-7 14zM1178 858l-14-3-12-22 10-11 14-3 13 12-3 19zM736 967l-32-18-18-22 4-22 10-10 24-8 14-11 36 22 3 13-7 22zM642 949l-42-18-7-8 12-28 35-17 17 9 17 18-6 31zM832 946l-8 0-22-13-12-22 22-21 19-1 16 24 6 16zM1066 941l-7-10-8-26 17-12 18-5 16 11 8 22-24 20zM920 947l-22 3-20-7-11-12 11-25 8-3 16 4 14 9 8 25zM967 935l1-29 14-4 22 3 9 10-5 21-26 6zM554 934l-11-5-3-12 12-10 8 4 7 10zM1164 926l-4-5 2-5 4-3 6 8zM826 1036l-22-5-26-30 6-25 16-23 32 8 28 32-14 26zM638 1038l-24-23-2-22 8-16 18-11 28 15 3 16 1 28zM722 1029l-14-26 10-13 18-5 10 5 11 13 0 16-11 6-16 5zM546 1035l-8-26 10-16 20-4 11 16-2 14-7 10zM1004 1032l-22-2-10-17 2-12 16-14 10 1 16 7 2 18zM912 1024l-14-1-9-8 11-25 12 1 6 12 1 14zM1162 1031l-7-8-4-16 13-10 10 2 8 12-2 14-2 3zM1086 1024l-8-2-4-9 2-5 8-3 8 6 0 6zM844 1115l-26 7-24-8-26-33 24-29 34-3 14 10 12 32zM984 1123l-15-16-3-20 28-23 21 5 6 34-9 16zM718 1110l-16-17 3-18 25-6 10 12 0 20zM892 1122l-15-19 5-24 24-7 17 13 1 8-6 16-14 10zM638 1106l-8-5-7-10 5-11 14 1 5 8-3 10zM1082 1115l-11-10 3-6 10-7 8 3 1 8-3 8z"/>
<path fill="#555555" d="M1428 1368l-1139-1 1-1145 1139 1zM1032 1212l2-72 90-1 2-87 84-1 2-89 82 0 3-3 0-176-7-64-2-10-79-2-1-174-82-1-1-79-5-5-14-6-362 0-44 9-62 2-18 3-19 11-1 63-86 1-1 170 0 4-5 2-1 170-3 3-59 1 0 16 5 34 13 30 50 2 1 86 87 2 1 84 89 2 0 54 5 4 18 7 72 4 24-2 36 6 24 0 26 7 118-1zM754 485l-18 16-28-2-3-16 1-14 26-13 12 2 7 5zM1072 502l-17-13 0-16 3-6 22-10 12 6 4 12-2 18zM824 498l-12-3-17-12-1-10 22-15 9 1 8 20 1 12zM1012 506l-28 3-12-22 14-27 28 5 9 18-5 16zM650 500l-8-1-14-10-1-16 19-12 14 14-1 10zM908 513l-26-20 6-18 12-12 16 2 13 10-8 24zM740 619l-40-20-7-36 21-26 38 0 7 4 7 46zM618 577l-1-4 5-22 20-9 18-2 8 11 0 10-7 20-19 10-18-9zM916 585l-14 5-23-7-4-16 13-23 8-2 6 1 19 18zM1082 602l-20-3-12-12-1-6 15-17 14-11 18 9 5 15-3 17zM842 563l-6 8-18 2-11-6 0-10 15 0zM1172 585l-14-2-4-10 8-17 12 2 7 9-1 10zM996 577l-10-3-2-7 2-6 11 2 3 8zM556 581l-6 1-5-5 1-9 8-2 6 7zM566 683l-26 0-18-18-1-8 7-14 24-22 30 2 7 18 1 28zM988 683l-11-20 3-24 24-14 11 18 1 26zM892 684l-19-21 16-26 21-9 31 13-2 20-19 22zM654 691l-31-20 3-32 20-8 22 14 7 20zM704 678l-10-19 14-18 26-5 15 17-7 18-20 11zM1080 660l-8-3-3-6 2-6 7-6 7 4 5 10zM1174 666l-17-5-4-10 5-8 14-3 11 3-1 13zM814 673l-5-4-4-8 5-11 6-2 8 4 2 11-3 6zM779 773l-5-26 10-32 28-14 24 2 16 26-4 30-40 20-20-1zM722 774l-22-1-10-24 9-28 15-16 28 18 9 24-3 22zM1038 749l-14 15-38 1-12-22-2-32 44-7 16 25zM924 756l-18 1-22-8-6-20 10-10 16-10 16 1 14 27zM624 752l-13-19 1-2 28-11 18 17zM1076 759l-14-12 2-12 8-6 18-3 9 11-8 14zM1178 759l-14-3-13-7-1-2 8-18 14-4 12 14 2 6zM558 758l-8-1-5-4-3-8 10-12 10 2 3 10zM908 865l-26-7-8-33 24-21 21 15 4 20zM1059 851l-3-4 3-30 9-12 26 2 8 6 3 18-3 14-30 14zM822 867l-18-2-14-12-2-28 8-15 20-4 18 7 8 18zM966 862l-6-25 8-12 22-14 16 2 13 22-5 16-24 15zM734 859l-24-8-6-18 10-16 26 0 10 18 2 6zM544 853l-10-11-6-11 12-11 14-2 12 7-2 12-6 13zM664 865l-20 1-18-17 12-31 20 0 16 25zM1178 856l-14-3-11-20 11-11 12-2 12 11-3 18zM736 965l-30-17-18-21 4-22 10-9 24-8 10-10 36 21 2 12-5 20zM642 947l-42-18-5-6 12-28 33-15 16 8 16 17-5 30zM1068 940l-7-9-9-26 16-10 16-6 16 10 9 20-23 20zM826 945l-22-12-12-22 20-19 18-3 16 24 6 16-20 15zM1007 935l-25 6-14-6 0-28 14-4 23 4 8 10zM918 947l-20 2-18-6-8-8-3-6 10-22 9-3 14 4 14 9 7 22zM554 934l-10-5-3-12 11-9 7 3 7 10zM1164 925l-4-4 2-5 4-2 6 7zM826 1034l-20-3-26-30 5-24 17-22 30 8 26 30-14 26zM638 1036l-22-21-2-20 6-16 18-11 26 13 4 18 1 24zM722 1028l-13-25 9-12 18-4 10 4 10 12 0 15-10 6-16 5zM1004 1031l-20-1-11-17 3-12 14-12 8 0 17 6 2 18zM546 1034l-7-25 9-15 20-3 9 14-1 14-8 10zM912 1023l-12-1-9-7 9-24 12 1 5 11 2 12zM1162 1030l-7-9-3-14 12-9 10 2 7 11-3 16zM1086 1023l-8-2-4-8 2-5 8-2 8 5-1 6zM842 1115l-24 6-22-7-26-33 22-27 34-2 12 7 12 32zM984 1121l-14-16-4-16 28-23 20 4 6 33-8 14zM718 1109l-15-16 2-16 25-8 9 12 0 20zM892 1121l-14-18 4-22 24-8 16 12 1 8-6 16-13 9zM638 1106l-8-6-6-9 4-11 13 1 5 8-1 8zM1082 1114l-11-9 4-6 9-7 8 4 1 7-3 8z"/>
<path fill="#5d5d5d" d="M1428 1368l-1139-1 1-1145 1139 1zM1034 1214l2-71 91-2 1-86 85-2 1-88 82-1 3-3 0-178-7-66-4-11-76-1-1-174-83-2-1-76-7-7-16-6-360 0-44 8-62 2-18 4-21 13-1 60-87 2-1 174-5 2 0 170-3 3-59 1-1 18 6 34 13 30 3 3 46 1 2 87 86 1 2 85 88 1 1 52 7 6 18 8 72 4 24-2 36 5 24 1 26 6 118-1zM710 498l-4-15 2-14 24-11 12 1 6 4 3 20-16 16zM824 497l-12-3-16-11-1-10 21-14 8 0 8 20 0 12zM1072 501l-17-14 1-14 4-6 18-9 14 7 3 10-2 16-3 4zM1010 506l-27 1-9-20 12-26 28 6 7 16-4 16zM650 499l-10-2-12-10 0-14 18-11 13 13-1 10zM908 512l-25-19 6-18 11-11 16 2 12 11-7 20zM740 616l-39-19-7-34 20-24 36 0 7 4 8 42zM618 576l6-25 18-8 16-2 10 12-9 28-17 9-18-9zM914 585l-12 4-22-6-4-16 12-22 8-2 6 2 17 16zM1082 601l-20-4-10-10-2-6 14-16 14-11 17 9 5 14-2 16zM841 563l-5 7-18 2-10-5 0-10 14 0zM1172 584l-14-3-3-10 7-14 10 1 8 9-1 10zM996 576l-10-2-2-7 2-6 11 2 2 8zM556 580l-6 1-5-4 1-9 8-1 6 8zM564 682l-22 0-19-17-1-8 6-12 24-22 28 1 8 19 0 26zM988 682l-10-19 4-25 22-12 10 17 1 26zM875 663l15-25 20-9 30 14-3 18-17 20-26 2zM654 690l-31-21 3-28 20-9 23 15 5 18zM705 677l-10-18 15-18 24-3 13 15-5 17-20 11zM1080 660l-8-3-2-6 2-6 6-5 7 3 4 10zM1175 665l-17-4-4-10 4-7 14-4 10 3 0 12zM814 672l-4-3-4-8 4-10 6-2 8 4 1 10-2 6zM780 771l-4-24 9-30 27-14 23 2 15 25-4 29-38 19-20-2zM986 763l-10-20-3-30 41-8 17 26 5 18-12 13zM746 768l-24 4-21-1-9-22 8-26 16-17 24 17 9 22zM924 754l-18 2-20-7-7-20 11-11 14-8 16 1 12 26zM612 733l28-12 17 16-31 14zM1076 758l-13-11 2-12 7-5 18-3 8 10-8 14zM1178 757l-14-1-12-8 6-18 14-4 11 13 2 6zM558 757l-8 0-6-6 0-8 8-9 9 1 4 10zM908 863l-25-6-8-32 23-20 20 15 4 19zM1060 850l-3-5 3-26 8-13 24 2 8 5 4 18-4 14-26 12zM822 866l-18-2-13-13-1-26 8-14 18-3 16 5 8 16 0 4zM968 861l-7-22 7-12 22-15 16 3 11 20-5 16-22 14zM544 852l-15-21 11-10 14-2 11 6-2 12-5 11zM664 864l-20 0-17-15 11-30 20 1 14 23zM734 858l-23-7-5-18 8-15 24-1 11 18 2 6zM1178 855l-13-2-11-20 10-10 12-2 11 10-3 18zM736 963l-28-16-18-20 5-22 9-8 22-8 10-9 34 20 2 11-5 20zM642 945l-39-16-6-8 11-24 32-16 15 8 15 16-5 28zM831 943l-7 1-18-11-13-20 21-20 16-2 14 22 6 16zM1068 938l-7-9-8-24 15-9 16-6 16 11 8 18-24 20zM970 935l-1-26 2-2 13-3 19 3 9 10-6 17-24 6zM918 945l-20 2-16-5-9-7-2-6 9-22 8-2 14 4 13 8 7 22zM554 933l-10-5-2-11 10-9 7 3 6 10zM1164 925l-3-4 1-4 4-3 5 7zM826 1032l-20-3-24-28 6-24 14-20 28 6 26 30-13 24zM638 1034l-21-19-2-20 5-14 18-12 25 14 3 16 1 22-1 3zM722 1027l-12-24 10-12 16-3 8 3 10 12 1 14-9 6-16 5zM1004 1029l-20 0-10-16 2-10 14-13 8 0 16 7 2 16zM546 1033l-6-24 8-14 18-4 10 14-1 14-7 9zM912 1022l-12 0-9-9 9-20 12 0 5 10 2 12zM1162 1029l-6-8-3-14 13-8 8 2 6 10-1 14zM1091 1017l-5 6-6-1-5-7 1-6 8-3 7 5zM841 1113l-23 6-22-7-23-31 21-25 31-3 12 8 11 30zM985 1119l-14-14-3-16 26-22 20 4 5 30-7 14zM718 1107l-14-14 2-16 24-7 8 13-1 18zM892 1119l-12-16 4-23 22-5 14 10 2 8-6 15-12 9zM638 1105l-8-5-6-9 4-10 12 0 6 8-2 8zM1082 1114l-10-9 3-6 9-6 8 4 0 6-3 8z"/>
<path fill="#656565" d="M1428 1368l-1139-1 1-1145 1139 1zM1037 1215l2-70 87 0 3-2 2-86 81 0 3-2 2-88 81-1 4-7 0-176-9-74-3-5-76-2-1-173-3-2-79 0-2-76-7-7-18-6-360-1-46 9-62 1-18 4-8 4-14 12-1 58-83 0-4 4 0 171-6 5 0 168-4 2-54 0-3 2-2 10 8 52 15 28 46 1 1 85 3 2 83 0 2 84 3 2 85 0 2 52 7 6 16 8 76 5 22-2 70 6 18 5 120 0zM710 497l-3-16 3-12 22-10 17 4 3 20-16 15zM1072 500l-16-13 1-14 3-5 18-9 13 6 3 10-2 16zM824 496l-12-2-15-11-1-10 20-13 8 1 7 18 1 10zM650 498l-8-1-13-10 0-14 17-10 13 12-2 10zM1010 504l-26 2-9-19 11-25 26 5 8 16-4 15zM908 511l-12-8-12-12 6-16 10-10 14 2 13 10-7 20zM740 613l-6-1-32-17-6-32 20-23 34 1 6 4 7 40zM619 575l5-22 18-9 16-2 8 11-1 10-6 16-17 10-16-8zM914 584l-12 4-20-5-5-16 11-20 8-3 6 2 16 15zM1082 600l-18-3-11-10-1-6 14-16 12-10 16 9 5 13-3 16zM840 563l-6 7-16 2-10-5 0-8 14-1zM1172 583l-13-2-3-10 6-13 10 0 7 9 0 8zM994 577l-8-4-2-6 2-5 10 1 3 8zM552 582l-6-5 0-8 8-2 5 8-3 5zM564 680l-22 0-17-17-1-6 6-12 22-21 26 1 8 18 1 24zM988 680l-9-17 3-22 22-13 9 17 1 22zM894 682l-17-19 15-24 18-8 28 11-2 19-16 18zM654 688l-30-19 3-28 19-7 21 13 5 16zM706 676l-10-17 14-17 24-3 12 14-5 16-19 11zM1080 659l-7-2-3-6 2-6 6-5 6 2 5 9-1 4zM1174 665l-14-4-6-10 6-7 12-3 10 4-1 10zM814 671l-4-3-4-7 5-10 5-1 8 3 1 10-3 6zM782 770l-4-23 8-28 26-14 22 2 14 24-5 28-35 17-18-1zM1034 749l-12 12-34 1-11-19-2-28 9-4 30-5 16 25zM744 767l-22 3-20 0-9-21 9-26 14-15 24 17 8 20zM931 737l-8 16-17 2-20-8-5-16 9-11 14-8 16 1zM626 751l-13-18 27-12 16 16zM1177 757l-13-2-12-8 8-17 12-3 10 12 3 6zM1064 747l1-10 7-7 16-2 9 9-7 13-12 7zM558 757l-8-1-5-5-2-6 9-11 8 1 4 10zM906 862l-22-6-8-31 22-18 19 14 4 18zM1060 848l-2-3 2-26 9-12 23 2 8 6 2 16-2 12-26 13zM822 864l-16-1-14-12-1-24 7-15 18-3 16 6 7 16zM968 860l-6-21 7-12 19-13 16 2 12 19-6 16-20 12zM734 856l-22-5-5-18 7-14 24-1 10 17 1 6zM556 848l-12 3-8-10-6-10 10-9 14-3 10 7-2 11zM644 863l-15-14 9-28 18-1 15 23-7 19zM1178 854l-12-1-11-20 9-9 12-2 11 9-3 16zM642 944l-38-16-5-7 11-24 30-14 14 7 14 15-5 28zM736 960l-28-15-15-20 3-18 8-8 22-8 10-10 33 20 1 10-5 20zM830 942l-6 0-18-10-11-19 19-19 16-1 14 22 5 12zM1068 937l-6-8-7-24 15-9 14-5 14 10 9 18-23 19zM1006 933l-24 6-12-6 0-24 14-4 20 4 6 8zM918 943l-20 3-18-6-8-9 9-22 7-3 14 4 11 7 8 22zM554 932l-10-5-2-10 10-8 6 2 7 10zM1164 925l-3-4 1-4 4-3 5 7zM824 1030l-18-3-23-28 6-20 13-19 28 5 24 28-12 23zM638 1033l-20-19-2-19 6-14 16-10 23 12 4 16 1 22zM754 1017l-10 6-14 4-6-1-12-23 7-10 17-4 9 4 8 10zM1002 1029l-18-2-9-14 2-10 15-13 21 7 2 16zM548 1032l-2-2-5-21 9-14 16-3 10 15-2 12-6 8zM910 1022l-10-1-9-8 11-20 10 1 4 9 2 12zM1162 1028l-6-7-2-14 12-8 6 2 8 10-2 13zM1086 1022l-7-1-3-6 1-6 7-3 7 5 0 6zM840 1112l-22 5-20-6-24-28 20-25 30-4 12 9 11 28zM986 1118l-13-13-4-16 25-21 18 4 5 31-7 12zM718 1106l-13-13 1-14 2-2 22-6 7 12 0 16zM892 1118l-12-17 4-18 20-8 14 10 2 8-4 14-12 9zM638 1104l-8-5-5-8 3-9 12 0 5 7-1 8zM1082 1113l-10-8 4-6 8-5 8 3 0 6-4 8z"/>
<path fill="#6c6c6c" d="M1428 1368l-1139-1 1-1145 1139 1zM1038 1217l2-2 0-64 2-4 86 0 4-2 0-82 2-4 80 0 4-2 0-84 2-4 78 0 5-8 1-176-8-76-6-8-70 0-4-2 0-172-4-2-78 0-2-4 0-70-8-9-24-7-354 0-48 9-62 1-26 7-16 13 0 54-2 4-80 0-6 6 0 166-6 8 0 168-4 2-56 0-4 14 8 54 16 28 42 0 4 2 0 84 4 2 82 0 2 4 0 80 4 2 84 0 2 4 0 46 10 9 14 7 78 5 22-2 70 7 18 5 122-1zM712 496l-3-13 1-12 22-11 10 1 6 4 3 18-15 14zM824 495l-12-2-14-10 0-10 18-12 8 1 7 17 0 10zM1072 499l-15-12 1-14 2-4 18-9 12 6 3 9-2 16zM642 496l-11-7-2-10 1-6 16-9 12 11-2 10-6 12zM986 505l-10-18 10-22 2-2 24 6 7 14-5 15-6 5zM906 510l-21-19 5-14 10-11 14 2 12 9-7 20zM738 612l-34-17-6-30 18-23 32 0 6 3 7 40zM620 575l6-23 16-7 14-1 9 11-7 24-16 9-16-8zM913 583l-11 4-20-6-4-14 12-20 8-1 4 1 16 16zM1082 599l-18-3-9-9-2-6 13-15 12-9 16 8 4 12-2 14zM809 559l13-1 17 5-5 7-16 1-9-4zM1172 582l-12 0-4-11 7-12 9 0 7 8-1 8zM994 576l-8-3-1-6 1-4 10 0 3 8zM552 581l-6-4 0-8 8-1 5 7zM564 679l-22-1-16-15 0-8 5-10 21-19 26 1 6 16 2 24zM990 679l-10-17 3-21 21-11 8 15 1 22zM896 681l-17-18 13-23 18-8 26 11-1 16-15 19zM652 686l-27-17 3-27 18-7 19 12 5 16zM706 675l-8-16 12-15 22-4 13 15-7 15-16 9zM1080 659l-6-2-3-6 2-6 5-4 6 2 4 8-1 4zM1174 664l-15-5-4-8 4-6 13-3 9 3-1 10zM822 668l-8 3-4-4-3-6 5-10 4-1 7 3 1 8zM784 769l-4-22 8-27 24-13 20 2 14 22-4 27-34 17-16-1zM1033 747l-11 12-34 2-9-18-3-28 38-6 14 22zM722 769l-18 0-10-20 8-24 14-16 23 18 7 18-2 20zM922 752l-16 2-18-7-5-18 9-9 12-7 14 1 12 23zM626 750l-12-17 26-11 15 15zM1076 756l-11-9 1-10 6-6 18-2 7 8-7 12zM1176 756l-12-2-11-7 7-16 12-3 10 11 2 6zM558 756l-6 0-7-5-1-6 8-10 8 1 4 9zM906 861l-22-7-6-27 20-18 18 12 4 18zM1074 854l-15-9 2-26 9-11 22 2 7 7 2 14-2 10-13 9zM822 862l-16-1-13-12-1-22 6-13 16-4 18 7 6 14zM970 859l-6-20 6-11 18-13 16 2 10 20-4 12-20 13zM544 850l-13-19 9-8 14-3 10 7-3 10-4 10zM663 861l-19 0-14-12 10-28 16 0 14 20zM734 855l-22-6-5-14 7-14 24-1 8 15 2 6zM1176 854l-10-2-10-19 8-9 10-2 12 9-3 16zM640 942l-34-15-5-6 11-24 28-13 14 8 12 13-4 27zM736 958l-26-14-15-19 3-18 9-8 19-6 10-10 30 18 3 12-5 16zM1068 935l-5-6-7-22 14-10 14-4 12 8 9 18-21 17zM830 941l-6 0-17-10-11-18 18-17 16-1 13 20 4 12zM971 933l1-24 12-4 18 3 7 9-5 16-20 5zM916 943l-18 2-16-5-5-5-3-6 8-20 8-1 12 3 10 6 7 20zM554 932l-9-5-2-8 9-10 6 3 6 9zM1164 924l-3-3 1-4 4-2 5 6zM824 1029l-16-3-23-27 6-20 13-18 26 6 22 26-11 22zM638 1031l-19-18-2-18 5-12 16-10 23 12 3 36zM724 1025l-11-22 9-10 14-3 8 4 9 11 0 12-9 5-14 4zM1002 1028l-16-1-10-14 2-10 14-11 18 4 2 3 2 14zM548 1031l-6-22 8-13 16-2 9 13-2 12-7 8zM910 1021l-10-1-8-7 10-19 10 1 3 8 2 12zM1162 1027l-5-6-2-14 11-7 6 1 7 10-1 12-2 2zM1086 1022l-6-1-4-8 2-4 6-2 6 4 0 6zM838 1111l-20 5-20-7-22-26 20-24 28-3 12 9 9 26zM986 1116l-12-13-3-14 23-19 18 3 5 28-7 12zM720 1106l-14-13 1-14 21-7 9 11-1 16zM892 1117l-11-16 4-18 19-7 14 10 1 7-5 14-11 8zM638 1103l-7-4-5-8 4-9 10 0 5 7-2 8zM1082 1113l-9-8 3-5 8-6 7 3 0 6-3 8z"/>
<path fill="#747474" d="M1428 1367l-1138 0 0-1144 1138 0zM1040 1219l2-2 0-64 2-3 90-2 0-83 2-3 84-2 0-85 2-3 76-1 4-2 3-8 1-174-8-80-8-8-68 0-3-2-1-172-4-2-78-1-2-3 0-68-8-10-26-8-350 0-52 8-64 2-26 6-16 14 0 54-2 3-78 1-5 2-3 6 0 164-6 5-1 171-3 2-56 0-5 14 2 26 7 36 18 24 40 0 3 2 1 85 86 2 2 3 0 81 88 2 2 3 0 46 12 11 14 7 78 4 20-1 38 4 34 2 18 4 122-1zM1072 498l-13-11 0-14 3-4 16-8 11 6 3 8-2 14-2 3zM750 483l-16 14-20-1-4-13 2-13 18-8 12 1 5 2zM824 494l-12-2-13-9 0-10 17-11 7 1 7 16 0 10zM648 496l-6-1-10-6-2-10 2-6 14-8 11 10-1 10zM1008 502l-23 1-8-16 11-23 22 5 7 14-4 14zM906 508l-20-17 5-14 9-10 14 2 10 10-7 18zM622 575l5-22 15-6 14-2 8 10-8 24-14 8-16-8zM738 610l-33-17-6-28 17-21 30 0 7 3 6 36zM912 582l-10 4-19-5-4-14 11-19 8-1 4 2 15 14zM809 559l13-1 16 5-6 7-14 1-8-4zM1082 598l-17-3-9-8-1-6 12-14 11-9 14 7 5 12-2 14zM1170 582l-10-1-3-8 7-14 8 1 6 7 0 8zM994 576l-7-3-2-6 2-4 9 1 2 7zM556 579l-4 2-5-4 0-8 7-1 4 7zM564 678l-20 0-16-15 0-8 5-10 19-17 24 0 6 15 1 24zM990 678l-9-17 2-18 19-12 9 14 1 22zM881 663l13-22 16-7 25 11-1 14-16 19-22 1zM652 685l-26-18 3-24 17-7 18 12 5 15zM708 675l-9-16 13-15 20-3 12 14-6 14-16 9zM1080 658l-6-2-2-5 2-6 6-4 4 3 4 9zM1174 663l-14-4-4-8 4-6 12-3 8 3 0 10zM822 668l-8 2-4-3-3-6 5-10 10 2 2 8zM786 768l-4-21 8-26 22-12 20 2 13 22-4 24-33 16-16-2zM1031 747l-11 12-32 0-8-17-2-25 8-3 26-4 15 21zM742 764l-20 3-18 0-8-20 8-22 12-14 22 16 7 18zM928 737l-6 14-16 1-16-5-6-16 8-10 12-7 14 1zM615 733l25-10 14 14-28 12zM1066 747l1-10 5-5 16-3 8 8-7 12-11 7zM1176 756l-12-3-10-6 6-15 12-4 9 11 2 6zM558 756l-6 0-6-5-2-6 8-10 8 1 3 9zM1074 853l-13-8 1-26 8-10 20 2 7 6 2 14-1 10zM906 859l-21-6-6-26 19-17 18 13 2 16zM820 861l-14-1-12-11-1-22 7-13 14-3 14 5 8 15zM970 858l-5-19 7-11 16-11 15 2 10 18-4 12-19 12zM732 855l-19-6-5-14 8-14 20-1 9 15 1 6zM556 846l-12 3-12-18 10-9 12-1 8 5-1 11zM662 860l-16 1-15-14 9-24 16-1 12 19zM1176 853l-10-2-9-18 8-8 9-2 11 8-3 16zM640 940l-32-14-4-5 8-22 28-13 13 7 12 14-5 24zM734 956l-24-14-13-17 4-18 7-7 20-7 8-8 29 18 2 10-5 16-8 10zM1070 935l-6-7-7-21 13-8 14-5 12 9 8 16-20 16zM830 940l-6 0-16-10-11-17 17-16 14-2 14 21 4 11zM1004 932l-20 5-10-4-2-2 0-20 12-5 18 4 6 7zM914 943l-16 1-15-5-8-10 8-18 7-2 12 3 10 6 6 19zM554 931l-9-4-2-8 9-9 6 3 5 8zM1164 924l-2-5 4-4 4 6zM824 1027l-16-3-21-25 5-18 12-18 24 5 22 25-10 21zM638 1029l-18-16-2-18 6-12 14-9 21 11 3 14 1 20zM724 1024l-10-21 8-9 12-3 8 3 10 11-1 12-21 8zM1002 1027l-16-1-9-13 2-10 13-10 6 0 13 6 2 14zM548 1030l-5-21 7-11 16-3 8 12-2 12-6 7zM910 1020l-10-1-7-6 9-18 10 1 3 7 1 12zM1164 1027l-6-6-3-12 11-8 7 2 6 10-3 11zM1086 1021l-7-2-3-6 2-4 6-2 6 4 0 4zM837 1109l-19 5-18-5-21-26 17-22 28-2 10 6 9 24zM986 1114l-11-11-3-14 22-18 16 3 5 25-5 12zM720 1105l-13-12 1-14 20-6 8 10-2 16zM892 1115l-10-14 4-18 18-6 13 10 1 6-6 14-12 8zM638 1102l-6-3-6-8 4-8 10 0 4 6-1 8zM1082 1112l-9-7 3-5 8-5 6 2 1 6-3 7z"/>
<path fill="#7c7c7c" d="M1428 1367l-1138 0 0-1144 1138 0zM1045 1219l1-67 90-1 2-87 84-1 2-89 76 0 4-3 3-8 2-166-8-92-11-9-69-1 0-170-5-5-78 0-2-71-10-11-28-8-348 0-54 9-62 1-28 7-17 16-1 55-76 0-6 3-4 6-1 164-1 3-4 1-1 170-3 3-56 1-6 14 2 28 8 40 18 23 43 1 1 86 86 1 2 85 88 1 1 47 13 13 10 6 60 5 62 1 52 4 20 5 124-1 14-3zM714 494l-3-13 2-10 19-9 8 1 6 4 2 16-12 12zM822 493l-10-2-12-10 1-8 15-10 7 2 6 14 1 8zM1072 497l-12-10-1-12 3-5 16-8 10 5 3 8-2 14zM648 495l-6-1-10-6-1-9 1-5 14-9 10 10-1 10zM1008 500l-22 3-8-16 10-21 22 5 6 12-3 12zM906 507l-19-16 5-14 8-8 14 2 9 8-6 16zM622 573l6-19 14-6 12-2 8 9 0 8-6 14-14 9zM738 607l-30-13-2-3-5-26 17-20 28 1 5 3 6 34zM912 581l-12 4-16-5-4-13 10-17 10-1 16 14zM837 563l-5 6-14 1-7-3-1-8 12 0zM1082 597l-16-3-8-7-2-6 22-22 14 8 4 10-2 14zM1170 582l-10-3-2-6 6-13 8 1 5 6 0 8zM994 575l-7-2-2-6 3-4 8 2 2 6zM555 579l-3 1-5-3-1-6 2-2 6 0 4 4zM564 676l-20 0-14-13 0-8 4-8 18-17 24 1 5 14 1 20zM990 676l-8-15 2-18 18-11 8 13 1 20zM898 678l-15-17 11-18 16-8 24 10-2 14-14 17zM652 683l-25-16 3-24 16-6 17 12 5 14zM708 674l-8-15 12-14 18-3 13 13-5 13-16 9zM1080 658l-6-3-2-4 2-6 6-3 4 2 3 9zM1174 662l-14-3-3-8 3-5 12-3 7 2 0 10zM814 669l-6-8 4-9 4-1 6 3 2 7-2 6zM428 729l0-30-4 22zM788 767l-4-20 6-24 22-12 18 2 13 20-5 24-28 14-16-1zM1029 747l-9 10-30 1-9-17-1-24 32-6 13 20zM740 763l-18 3-17-1-7-18 6-20 12-14 20 14 8 18zM920 750l-14 1-16-6-5-14 9-10 11-6 13 1 9 19zM626 748l-10-15 24-9 12 13zM1067 747l1-10 6-5 14-2 7 7-7 12-10 6zM1176 755l-11-2-10-6 5-14 12-4 8 10 2 6zM558 755l-6 0-6-5-1-5 7-9 8 1 2 8zM1062 845l1-24 7-11 20 2 6 5 2 14-2 10-22 10zM820 859l-14-1-11-11-1-20 6-11 14-3 16 6 5 12zM906 857l-20-5-6-25 18-15 16 11 3 16zM972 857l-6-18 6-10 16-11 14 2 9 17-4 12-17 10zM544 847l-11-16 9-8 10-1 10 5-6 18zM732 853l-18-4-5-14 7-13 20 0 8 13 0 6zM662 859l-16 1-14-13 10-24 14 0 11 18zM1176 852l-10-2-8-17 8-8 8-1 9 7-1 14zM640 938l-31-13-3-6 9-20 25-11 12 7 11 12-4 22zM734 954l-22-13-13-16 5-18 6-6 18-6 8-8 26 16 3 10-5 16-8 10zM826 939l-18-10-9-16 15-14 14-2 12 18 4 12-14 11zM1070 934l-5-7-6-20 13-8 12-3 11 7 7 16-18 14zM973 931l1-21 10-3 16 3 7 7-5 15-18 4zM554 930l-8-3-2-8 8-8 6 2 4 8zM914 941l-16 2-13-4-5-4-4-6 8-18 8-1 19 9 6 18zM1164 924l-2-5 4-4 4 6zM824 1025l-16-3-19-23 5-18 12-16 22 5 20 23-9 20zM638 1028l-17-17-1-14 4-12 14-9 20 11 3 30-1 2zM726 1024l-11-19 7-10 14-3 6 3 9 10 0 10-7 5zM1002 1025l-16 0-7-12 2-10 11-9 18 5 2 12zM548 1028l-5-17 7-12 16-2 7 10-2 12-5 6zM910 1020l-10-2-6-5 8-18 8 1 4 7 2 11zM1164 1026l-5-5-3-12 10-7 6 1 6 10-2 10zM1086 1021l-6-1-3-5 1-5 6-2 5 3 1 4zM836 1108l-18 5-18-6-19-24 17-21 26-1 9 6 8 22zM988 1114l-11-11-3-14 20-16 16 2 4 26-6 10zM720 1104l-12-11 1-14 19-5 7 9-1 14zM894 1114l-11-13 3-16 18-7 12 9 1 6-4 12-11 8zM638 1102l-6-4-5-7 3-8 10 1 4 5-1 6zM1082 1112l-8-7 2-4 8-6 6 3 0 5-2 6z"/>
<path fill="#838383" d="M1428 1367l-1138 0 0-1144 1138 0zM1038 1227l9-6 1-66 91-2 1-86 85-2 1-88 74-1 6-4 3-9 2-166-8-94-11-9-68-1-2-171-6-4-76-1-1-68-9-12-32-9-346 0-56 8-62 1-30 7-17 17-1 54-76 1-6 3-5 8-1 164-5 2 0 170-3 3-57 1-6 12 0 8 9 66 20 23 42 1 1 86 87 2 2 84 88 2 1 46 20 20 39 4 88 2 52 4 20 4 118-1zM747 483l-13 12-18-1-4-11 1-10 17-9 10 1 5 2zM829 487l-7 5-10-2-10-7-2-8 16-11 6 0 6 15zM1072 496l-12-11 0-10 3-4 15-8 10 6 2 8-2 12zM648 494l-6 0-9-7-1-13 14-8 10 11-2 8zM987 501l-7-14 8-20 20 3 7 13-4 12-5 5zM906 506l-18-15 4-12 8-9 12 1 10 8-6 16zM736 605l-28-14-5-26 15-18 26 0 6 4 5 32zM624 574l4-19 14-6 12-1 7 9-6 20-13 7zM910 581l-10 3-16-5-3-12 9-16 10-1 14 13zM836 563l-4 6-14 1-6-3 0-8 8 0zM1080 596l-14-3-8-8-1-4 21-21 13 7 4 12-3 12zM1170 581l-8-1-4-7 6-12 8 1 4 5 0 8zM994 575l-7-4-1-4 2-4 7 2 3 6zM554 579l-2 1-4-3 0-7 6-1 3 4zM532 663l-1-6 4-10 17-16 23 2 5 12 0 20-18 10-16 0zM990 675l-7-14 2-18 17-10 8 14 1 18zM898 677l-14-16 12-18 14-6 22 9-1 13-13 16zM652 681l-24-14 2-22 16-6 16 10 4 14zM708 672l-6-13 10-13 18-3 11 12-4 12-15 9zM1080 657l-6-2-1-4 1-5 6-4 4 3 3 8zM1179 655l-7 7-11-3-4-8 5-5 10-3 6 2zM821 667l-7 2-5-8 3-8 4-1 6 3 1 6zM430 771l1-76-3-3-6 9-2 22 3 20 2 6-1 12zM789 765l-3-18 6-23 20-10 18 2 11 17-3 22-28 14-14 0zM1028 745l-10 11-28 1-8-16-1-22 31-6 12 18zM740 761l-18 3-16 0-7-17 7-20 10-11 20 13 6 16zM926 737l-6 12-14 1-14-5-5-14 7-8 12-7 10 1zM626 747l-8-14 20-8 13 12zM1069 747l0-10 5-5 14-1 6 6-6 11-10 6zM1176 754l-10-1-10-6 5-14 11-3 7 9 2 6zM558 754l-6 0-6-5-1-4 7-8 8 2 2 6zM1064 845l-2-4 2-20 6-9 18 1 6 4 3 14-3 10-20 9zM820 858l-14-2-10-9-1-20 5-10 14-3 14 5 5 14zM904 856l-17-5-6-22 17-16 14 10 4 16zM972 855l-4-16 6-10 14-10 13 2 9 16-4 11-18 10zM561 829l-5 15-10 3-8-8-4-8 8-7 10-1zM732 852l-18-5-4-12 6-12 18-1 8 13 1 6zM660 858l-14 0-13-11 9-23 14 1 10 16zM1176 850l-10-2-7-15 7-7 8-2 9 9-2 12zM640 937l-28-12-5-6 9-19 24-11 10 6 11 12-3 20zM734 951l-20-11-13-15 3-16 8-7 16-5 8-8 25 16 2 8-5 16zM1070 932l-5-7-4-18 11-7 12-3 10 8 6 14-16 13zM828 937l-4 1-14-9-9-14 15-16 12-1 11 17 4 10zM1002 931l-18 4-9-4 0-20 9-3 16 3 6 8zM912 941l-14 1-14-5-6-8 7-16 5-2 20 8 5 16zM554 929l-8-4-2-6 8-8 6 3 4 7zM1164 923l-2-4 4-3 4 5zM824 1023l-15-2-18-22 4-16 11-16 22 5 18 21-8 18zM638 1026l-16-15-1-14 5-12 12-7 18 9 4 30zM726 1023l-10-18 8-9 10-3 8 3 8 9 0 10-8 5zM1000 1025l-14-2-6-10 1-8 11-10 16 4 2 14zM550 1028l-6-17 6-11 14-3 7 10 0 10-5 7zM910 1019l-8-1-7-5 7-17 8 1 4 7 2 9zM1164 1025l-5-6-2-10 9-7 6 2 5 9-2 10zM1090 1015l-4 5-4 0-4-5 0-4 6-3 5 3zM834 1107l-16 4-16-5-19-23 17-19 22-2 10 7 8 20zM720 1103l-12-12 2-12 18-4 6 8-1 14zM988 1112l-10-11-2-12 20-16 12 3 2 3 2 22-6 9zM894 1113l-10-12 3-16 17-5 10 7 2 6-5 12-9 7zM638 1101l-6-3-5-7 3-7 10 0 3 5-1 6zM1082 1111l-8-6 2-4 8-5 6 3-3 10z"/>
<path fill="#8b8b8b" d="M1428 1367l-1138 0 0-1144 1138 0zM1040 1230l10-7 1-66 87 0 3-2 2-86 81 0 3-2 2-88 73 0 7-6 2-8 3-56 0-110-8-96-2-4-12-8-66-1 0-165-3-6-5-4-75 0-2-68-9-13-36-9-344 0-56 9-64 1-32 7-16 19-1 52-73 0-8 5-4 7-2 163-8 2-60-1-9 10-2 24 5 58 2 5 6 3 2 7 2-102 4-2 48 0 4 3 0 166-4 2-54 1-8 13 0 12 9 66 23 24 40 1 0 83 2 3 86 2 0 79 2 4 4 2 84 1 0 43 20 23 40 5 90 1 52 4 20 4 118-1zM716 492l-3-11 1-8 18-8 10 2 4 16-12 11zM822 491l-10-2-10-8 0-6 14-10 6 1 5 13 1 8zM1072 495l-11-10 0-10 3-4 14-6 8 4 3 8-1 10-2 3zM648 493l-6 0-8-6-1-12 13-8 9 10-1 6zM1006 499l-19 0-6-14 9-17 19 5 4 10-2 10zM906 505l-17-14 4-12 9-8 10 2 9 8-6 14zM625 573l5-18 12-5 12-1 6 8-6 20-12 6zM736 603l-27-14-5-22 14-18 26 0 4 2 5 30zM910 580l-10 3-14-4-4-12 10-16 8 0 13 12zM835 563l-3 5-12 2-7-3-1-6 10-2zM1080 595l-14-3-7-7 0-4 19-19 12 6 4 11-2 10zM1170 580l-8-1-3-6 5-12 8 2 4 6 0 6zM994 575l-7-4-1-4 2-4 7 2 2 6zM552 579l-5-4 0-4 5-2 5 6zM562 674l-16 0-13-13 0-6 4-8 17-15 18 1 6 13 0 19zM992 673l-8-12 2-16 16-11 7 13 0 18zM886 661l10-16 14-7 21 9-2 12-13 15-18 1zM650 680l-20-13 2-22 14-5 14 9 5 14zM1080 657l-5-2-2-4 1-4 6-4 6 8 0 2zM710 672l-7-13 10-12 17-3 10 11-4 12-14 8zM1172 661l-10-2-4-8 3-4 11-3 6 2 0 9zM816 668l-4-1-3-6 3-7 4-2 6 3 1 6-3 6zM1026 745l-8 9-26 2-8-15-2-20 6-3 23-3 11 16zM790 763l-2-16 6-22 18-9 16 1 11 18-3 20-26 13-14-1zM738 760l-16 3-14 0-7-16 5-18 10-11 2-1 16 12 7 16zM918 748l-12 1-12-4-6-14 8-8 10-6 10 1 9 17zM628 747l-10-14 20-8 12 12zM1078 753l-10-8 2-8 4-4 12-2 7 6-5 10zM1175 753l-9-1-9-5 5-14 10-2 6 8 3 6zM556 754l-8-3-2-6 6-8 7 2 2 6zM1074 849l-11-8 2-20 7-9 16 2 6 5 0 20zM904 855l-16-5-5-21 15-14 14 9 3 13zM820 855l-13 0-10-8-1-18 6-11 12-3 14 6 4 12zM974 855l-5-16 5-8 14-10 12 1 8 15-3 10-17 10zM546 846l-7-7-4-8 7-6 10-2 8 6-1 6-5 9zM731 851l-16-4-4-12 7-11 16 0 7 11 0 6zM660 857l-14 0-11-10 7-21 14 0 9 15zM1176 849l-10-2-6-12 6-8 8-2 8 8-2 12zM640 935l-26-11-5-5 8-18 23-10 10 6 10 10-4 20zM734 949l-20-12-11-14 3-12 5-6 17-6 8-8 22 14 3 8-4 14zM1072 931l-6-6-5-16 11-8 10-3 11 7 5 14-16 13zM828 936l-4 0-14-8-8-13 14-14 12-1 14 25zM976 930l-1-17 11-4 12 2 6 6-4 14-16 3zM554 929l-8-4-1-6 7-7 4 1 5 6zM912 939l-14 2-12-4-7-8 7-16 4-1 10 3 10 6 4 14zM1164 923l-1-4 3-3 4 5zM824 1021l-14-2-17-20 4-16 11-14 20 5 17 19-9 18zM638 1024l-14-13-2-14 4-10 12-8 18 10 1 28zM726 1022l-8-18 6-7 10-3 8 3 6 8 1 10-7 4zM910 1018l-8 0-6-5 6-16 8 1 4 7 1 8zM1000 1024l-12-1-7-10 1-8 10-9 16 5 2 10zM550 1027l-5-16 7-11 12-2 7 11-1 8-6 7zM1164 1025l-5-6-1-10 8-6 6 2 5 8-3 10zM1089 1015l-3 4-4 1-4-5 0-4 6-3 4 3zM833 1105l-15 4-16-5-16-21 14-17 22-2 8 5 8 20zM990 1111l-11-10-2-12 19-15 12 3 4 22-6 10zM720 1102l-11-11 1-10 16-5 6 7 0 14zM894 1112l-9-13 3-13 16-5 10 8-2 12-10 9zM638 1100l-6-3-4-6 2-6 8-1 4 5 0 6zM1082 1111l-7-6 2-4 7-5 5 3-2 10z"/>
<path fill="#939393" d="M1428 1367l-1138 0 0-1144 1138 0zM1044 1232l8-7 0-62 2-4 86 0 4-2 0-82 2-4 80 0 4-2 0-84 2-4 70 0 8-5 5-17 1-158-8-102-16-10-60 0-4-2 0-162-3-8-7-4-72 0-2-4 0-62-10-15-38-9-342 0-58 8-64 1-34 7-16 20 0 48-2 4-70 0-10 5-6 13 0 156-4 2-62 0-7 4-5 6-1 26 4 60 2 12 13 12 2-4 0-106 4-2 44 0 4 4 0 160-4 2-54 0-9 12 2 40 7 46 24 22 36 0 4 2 0 82 2 4 82 0 4 2 0 78 2 4 6 2 78 0 4 2 0 42 20 25 42 4 90 1 50 4 22 3 120 0zM718 492l-3-11 1-8 16-7 10 2 2 15-10 9zM822 490l-8-1-11-8 0-6 13-9 6 1 5 12 0 6zM1072 494l-10-9 0-10 4-4 12-5 8 5 2 6-1 10zM648 492l-6 0-7-5-2-8 1-4 12-7 8 9-1 6zM988 499l-6-14 8-16 16 3 6 11-3 10-5 5zM906 504l-15-13 4-12 7-7 10 2 8 7-6 14zM627 573l3-17 12-5 10-1 6 7-4 18-12 7zM736 600l-26-12-4-21 12-16 24 0 4 2 5 28zM909 579l-9 3-14-5-3-10 9-14 8-1 12 11zM812 561l10-1 13 3-5 5-10 1-6-2zM1170 580l-8-2-2-5 4-11 7 1 4 6 0 6zM994 574l-6-2-2-5 2-3 7 1 2 6zM1080 594l-12-2-7-7-1-4 18-18 11 6 4 10-2 10zM552 579l-5-4 1-4 4-2 5 6zM562 672l-16 0-11-11 0-6 3-7 16-14 18 1 5 12 0 16zM992 672l-7-13 2-14 15-9 6 11 1 16zM900 674l-12-13 10-16 12-5 18 7 0 12-12 14zM650 679l-20-14 2-18 12-5 16 9 3 10zM710 671l-6-12 10-12 16-2 8 10-4 12-12 7zM1080 656l-4-1-2-4 1-4 5-4 6 8 0 2zM1178 647l-1 8-5 6-10-4-3-6 3-4 8-2zM816 668l-4-2-2-5 2-6 4-2 5 2 1 6-2 5zM1024 745l-8 9-24 0-7-13-1-20 26-5 11 17zM792 762l-2-17 5-18 17-9 16 2 9 15-3 19-24 12-12-1zM924 735l-6 12-10 1-15-5-4-12 17-13 8 1 3 2zM737 759l-15 2-14-1-6-13 6-18 10-10 16 12 5 14zM628 746l-8-13 18-7 11 11zM1078 752l-9-7 2-8 3-3 12-2 6 7-5 8zM1174 753l-8-2-7-4 3-13 10-2 6 8 2 5zM556 753l-4 0-5-4-1-4 6-7 7 1 2 6zM1066 843l-2-4 2-18 6-8 15 2 5 3 2 11-2 10-18 8zM818 855l-10-1-10-9-1-16 5-10 12-3 12 5 4 12zM904 853l-15-4-5-20 14-12 13 8 2 12zM974 853l-4-14 5-8 13-9 12 2 7 13-3 10-16 9zM546 845l-6-6-3-8 7-6 8-1 7 5-5 14zM730 850l-14-4-4-11 6-10 16 0 6 10 0 6zM660 855l-14 0-9-8 6-20 12 0 9 14zM1176 848l-8-1-7-12 5-7 8-2 8 7-2 10zM640 933l-25-10-3-4 6-16 20-10 10 4 10 10-4 19zM734 947l-18-10-10-14 2-12 6-6 14-5 8-6 22 13 1 8-4 12zM1072 930l-4-5-6-16 20-10 10 7 5 13-15 11zM824 935l-13-8-7-12 12-12 10-2 11 14 4 10-13 10zM1001 929l-15 4-8-3-1-17 9-3 13 3 4 6zM554 928l-7-3-1-6 6-7 8 7zM910 939l-12 1-12-4-6-7 7-14 5-2 16 7 5 13zM1168 922l-5-1 1-4 2-1 3 3zM824 1019l-14-2-15-18 3-15 10-14 19 5 16 20-9 16zM638 1023l-14-14-1-12 5-10 10-6 16 8 3 26zM726 1021l-8-16 6-7 10-3 6 2 7 8 0 10-15 6zM1000 1023l-12-1-6-9 1-8 9-8 15 4 2 10zM910 1017l-8 0-6-6 6-13 8 0 4 15zM550 1025l-4-14 6-10 12-2 6 10-1 8-5 6zM1164 1024l-4-5-2-8 8-7 6 2 4 7-2 9zM1084 1020l-4-2-2-5 6-4 4 2 1 4zM832 1104l-14 4-14-4-16-21 14-16 20-1 8 5 6 18zM720 1101l-10-10 1-10 15-5 5 7 0 12zM990 1109l-10-10-1-10 17-13 12 4 3 19-5 8zM894 1111l-8-12 3-12 13-5 11 7 0 6-3 8-8 6zM638 1099l-5-2-4-6 2-6 7 0 4 4-1 6zM1082 1110l-7-5 2-4 7-4 5 2 0 4-3 6z"/>
<path fill="#9a9a9a" d="M1428 1367l-1138 0 0-1144 1138 0zM1046 1236l8-9 0-62 2-3 90-2 0-83 2-3 84-2 0-85 2-3 70-1 8-4 2-4 3-16 1-52 0-106-7-104-4-4-15-6-58 0-3-2-1-160-3-10-9-4-70-1-2-3 0-60-8-16-18-6-24-4-340 0-62 7-62 1-36 6-16 22 0 48-2 3-70 1-12 7-4 13-1 154-3 2-62 0-12 8-2 30 4 62 2 12 14 12 6-2 1-108 3-2 40 0 4 4-1 156-3 2-54 0-10 11 1 43 7 50 27 20 38 2 2 86 83 0 3 2 1 78 2 4 8 2 76 0 3 2 1 42 18 26 46 4 90 1 72 7 120 0zM822 489l-8-1-10-7 0-6 12-8 6 2 4 10 0 6zM648 491l-6 0-6-5-2-7 1-4 11-6 7 8zM718 491l-2-10 2-8 12-6 10 2 3 14-9 8zM1072 492l-8-7 0-10 14-8 7 4 2 6-1 10zM1004 497l-16 0-5-12 7-15 17 5 3 10-2 8zM906 502l-14-11 3-10 7-7 9 1 8 6-5 12zM628 573l3-16 11-4 10-1 5 7-5 16-10 6zM734 599l-23-12-4-20 13-15 20 0 5 3 4 26zM908 578l-8 3-13-4-3-10 8-13 8 0 10 9zM833 563l-3 5-10 1-6-3-1-5 9-1zM1170 579l-8-2-2-6 4-8 6 0 5 6-1 6zM994 573l-6-2 0-6 6 0 2 6zM1080 593l-12-3-7-9 17-17 10 5 4 10-2 9zM554 578l-5-1-1-6 6 0 2 4zM536 661l0-6 3-6 13-12 19 0 4 10 1 16-14 8-14 0zM992 671l-7-12 3-14 14-7 5 9 1 16zM650 677l-19-12 2-18 11-4 14 8 3 10zM900 672l-10-11 8-14 12-6 18 8-2 10-10 12zM1080 656l-4-2-2-3 1-4 5-3 6 7zM712 671l-7-12 9-11 16-1 7 8-3 10-12 8zM1172 660l-9-3-3-6 3-4 9-2 5 2-1 8zM816 667l-4-2-2-4 3-6 3-1 4 1 2 6-2 5zM1022 745l-8 7-20 1-7-12-2-18 25-5 10 15zM736 757l-14 3-13-1-5-14 5-14 9-10 14 10 6 14zM795 761l-3-14 4-18 16-9 14 1 9 16-2 16-23 11-10 0zM923 735l-5 10-10 2-12-4-5-12 15-11 8 0zM628 745l-6-12 16-7 10 11zM1078 751l-8-6 1-6 5-5 10-1 5 6-5 8zM1174 752l-8-1-8-6 5-10 9-2 6 8 1 4zM556 753l-4 0-4-4-1-4 5-6 6 0 2 6zM1074 846l-9-7 2-18 5-7 14 2 6 5 0 16zM818 853l-10-1-9-7-1-16 6-9 10-2 10 3 5 10zM904 852l-14-4-5-19 13-11 12 8 2 11zM546 844l-6-7-2-6 6-5 8-1 6 4-4 13zM976 853l-4-14 4-7 12-9 11 2 6 12-3 9-14 9zM730 849l-14-4-3-10 5-9 14 0 8 13zM658 854l-12 0-9-9 7-17 10 0 9 13zM1174 847l-6-1-7-11 7-7 6-1 7 6-2 10zM640 931l-22-8-4-6 6-14 18-9 10 5 8 10-3 16zM734 945l-16-9-10-13 2-11 4-5 14-5 8-6 18 11 3 8-4 12zM1072 929l-4-6-4-14 18-9 9 7 5 10-14 12zM828 933l-4 1-12-7-7-12 13-12 10 1 11 21zM978 929l1-16 7-2 12 2 4 6-3 10-13 3zM554 927l-6-2-2-6 6-6 7 6zM910 937l-12 2-13-6-3-4 6-14 6 0 14 6 4 12zM1169 921l-5 1-1-3 3-3zM822 1018l-10-2-15-17 3-14 8-12 18 3 16 19-8 14zM638 1021l-13-12-1-12 4-8 10-6 15 8 2 22zM728 1020l-8-15 6-7 8-2 6 2 6 8 0 8-6 4zM910 1016l-8 0-5-5 7-12 6 0 3 6 1 8zM1000 1022l-12-2-4-7 0-8 8-7 14 4 2 9zM552 1025l-5-14 5-8 12-2 5 8-1 8-4 5zM1164 1023l-5-12 7-6 4 1 5 7-1 7zM1084 1019l-4-2-1-4 5-4 5 6zM830 1103l-12 3-14-4-14-17 12-16 20-1 6 4 7 17zM990 1108l-8-9-1-10 15-12 10 2 3 20-5 7zM720 1099l-9-8 1-10 14-4 5 8 0 10zM894 1109l-7-10 3-12 12-4 9 6 1 6-4 8-8 6zM638 1098l-4-1-5-6 3-6 6 0 3 4 0 6zM1082 1110l-6-5 2-4 6-4 4 2-2 9z"/>
<path fill="#a2a2a2" d="M1428 1367l-1138 0 0-1144 1138 0zM1048 1239l9-10 1-65 90-1 2-87 84-1 2-89 68 0 12-8 3-21 2-128-8-134-3-4-16-7-61-1 0-158-4-12-9-5-70 0-1-61-8-18-9-4-36-6-340-1-62 7-64 1-38 7-15 24-1 49-68 0-14 7-5 16 0 152-63 1-15 9-2 32 5 76 16 13 8 0 3-3 0-108 39-1 3 3 0 152-55 1-14 11 2 48 7 52 29 19 37 1 1 86 87 2 0 76 3 6 12 3 75 1 0 40 19 30 48 4 88 1 72 6 120-1zM742 483l-10 8-12-1-3-9 1-6 12-6 8 0 3 2zM825 485l-5 4-6-2-9-6 1-6 10-7 4 0 5 11zM1072 491l-7-6 0-10 13-7 6 4 2 5-2 10zM646 490l-10-4-1-7 1-3 10-6 7 7-1 6zM1004 495l-14 2-6-12 6-13 15 3 4 8-2 8zM906 501l-13-12 3-8 6-6 8 1 7 5-4 12zM628 571l4-13 18-5 6 6-4 14-10 7zM734 597l-22-12-3-18 11-13 20 0 4 3 4 22zM908 577l-8 3-12-4-3-9 7-12 8 0 10 10zM832 563l-2 4-10 1-6-3 0-4 8-1zM994 573l-6-2 0-6 6 0 2 6zM1170 578l-7-1-2-4 3-9 6 0 4 5 0 4zM1080 592l-10-2-7-9 15-15 10 5 3 8-2 8zM554 577l-2 1-4-3 1-4 3-1 3 3zM560 670l-12 0-10-11 3-10 13-12 16 2 3 10 0 14zM992 669l-6-10 2-12 12-8 6 8 1 14zM892 661l8-14 10-4 16 6-1 10-11 11-12 1zM648 675l-16-10 1-16 11-5 12 7 4 10zM1080 655l-4-2-1-4 5-5 5 7zM712 669l-5-10 7-9 14-3 8 10-3 8-11 7zM1172 659l-9-2-2-6 3-4 8-1 4 1 0 7zM816 667l-5-6 3-6 2-1 4 2 1 5-1 4zM916 745l-8 1-12-5-3-10 13-10 8 0 7 14zM1021 743l-7 8-20 1-6-11-1-16 5-3 18-2 8 13zM734 756l-12 2-12-1-4-12 4-14 8-9 14 11 4 12zM796 759l-2-14 4-15 14-8 14 3 7 12-3 16-20 10-10-1zM628 744l-6-9 1-2 15-6 8 10zM1071 745l1-6 4-4 10-1 4 5-4 7-8 4zM1174 751l-8-1-7-5 5-10 8-1 5 7 1 4zM556 752l-4 0-4-3-1-4 5-6 6 1 2 5zM1074 844l-8-5 2-18 4-5 14 1 4 4 0 16zM818 851l-10 0-8-8-1-14 5-8 10-2 10 4 4 10zM890 847l-4-16 12-11 11 7 2 10-7 13zM976 851l-3-12 4-6 11-8 10 2 6 10-3 8-13 8zM546 843l-7-12 5-4 8-1 5 3-3 12zM730 848l-12-3-4-10 4-7 14-1 6 12zM658 853l-10 1-10-9 6-16 10 0 8 12zM1174 847l-6-2-6-10 6-6 6-1 6 5-2 10zM638 930l-20-9-3-4 7-14 16-7 8 4 8 9-2 14zM734 943l-16-10-8-10 2-10 4-5 20-10 18 11 1 6-3 10zM1072 927l-7-16 8-6 9-3 7 5 5 10-12 11zM828 932l-4 1-10-6-7-12 11-10 9 0 10 18zM979 927l1-13 6-2 10 1 5 6-3 9-12 3zM554 926l-6-2-1-5 5-6 7 6zM910 935l-12 3-10-4-5-5 6-12 5-1 12 5 5 12zM1169 921l-5 1-1-3 3-2zM822 1016l-10-1-13-16 3-14 8-11 16 4 14 17-8 14zM638 1019l-11-10-1-10 2-8 10-7 13 7 3 20-2 3zM728 1019l-7-14 5-6 8-2 5 2 5 6 1 8-5 4zM908 1016l-6-1-4-4 6-12 6 1 2 5 1 8zM1000 1020l-10 0-6-9 2-6 6-5 6 0 7 3 2 8zM552 1024l-4-13 6-8 8-2 6 8-2 8-3 4zM1164 1022l-4-11 6-5 4 0 5 7-1 6zM1088 1015l-2 3-4 0-3-5 5-3zM829 1101l-11 3-12-3-14-16 12-15 16-1 7 4 6 16zM720 1098l-8-7 0-8 14-4 4 6 0 8zM992 1106l-8-7-1-10 13-11 10 3 2 17-4 7zM896 1108l-8-9 2-10 12-5 8 6 0 5-2 7zM638 1097l-2 1-6-7 2-5 6 0 3 3zM1082 1109l-5-6 7-5 4 1 0 4-2 5z"/>
<path fill="#aaaaaa" d="M1428 1367l-1138 0 0-1144 1138 0zM1052 1242l7-11 1-64 91-2 1-86 85-2 1-88 68-1 12-7 4-22 1-128-7-138-2-4-20-7-58-1-1-156-4-14-11-5-68-1-1-60-8-20-45-8-340-1-64 6-64 1-40 6-15 26-1 48-68 1-14 7-5 18-1 150-62 1-16 9-2 34 5 78 2 4 15 9 12 0 3-3 1-108 34-1 3 3 0 146-3 3-52 0-15 9 1 52 7 56 31 17 36 1 2 87 86 1 1 74 3 8 14 3 72 1 1 40 17 32 50 3 90 1 72 6 122-1zM820 488l-6-2-8-5 1-6 9-6 4 0 4 10 0 6zM720 489l-1-14 11-5 8 1 2 12-8 7zM1074 490l-8-5-1-8 3-4 8-4 6 3 2 7-1 8zM646 490l-9-5-1-8 10-6 6 6-1 6zM1002 494l-12 1-5-10 6-12 13 2 4 10-2 6zM906 500l-12-11 3-8 5-5 8 1 6 6-4 10zM630 572l3-13 17-5 4 5-3 14-9 6zM734 594l-20-9-3-16 9-13 18 0 4 2 4 21zM906 577l-6 2-12-4-2-8 8-11 6 0 9 9zM831 563l-2 4-9 1-5-3 0-4zM995 571l-5 1-2-6 6 0zM1170 577l-6 0-2-4 4-9 4 0 4 5-1 4zM1080 591l-10-2-6-8 14-14 8 4 4 8-2 8zM554 577l-2 1-3-3 1-4 5 2zM560 669l-12-1-9-9 4-10 11-10 14 1 4 9 0 12zM992 667l-4-8 1-12 11-7 6 9 0 12zM902 670l-8-9 6-12 10-5 14 6-1 9-7 9zM1080 655l-4-2 0-4 4-4 5 6zM648 674l-15-11 1-14 10-4 12 8 2 8zM1172 659l-8-2-3-6 3-3 8-2 4 3zM712 668l-4-9 8-9 12-2 7 9-3 8-10 6zM819 665l-3 1-4-3 2-8 6 2zM920 735l-4 8-8 1-10-3-4-10 12-9 8 1zM1020 743l-8 7-18-1-5-10-1-14 20-4 9 12zM732 755l-18 2-3-2-4-10 4-12 7-8 12 8 5 12zM798 758l-2-13 4-14 12-6 12 0 7 12-1 14-20 10zM628 743l-5-8 2-2 13-5 7 9zM1073 745l-1-6 4-4 8-1 5 5-3 6-6 4zM1174 750l-8-1-6-4 4-9 8-1 5 6 0 4zM556 752l-4 0-3-3-1-4 4-5 6 2 1 3zM1074 843l-7-6 1-14 6-6 12 2 3 2 0 14zM816 850l-8-1-7-6 0-14 3-6 10-3 8 3 4 8zM902 849l-11-4-4-14 11-10 10 7 2 9zM552 841l-6 1-6-9 4-5 8-1 4 3zM978 850l-4-11 4-6 10-7 8 1 6 10-2 8-12 7zM728 847l-11-4-2-8 5-7 10 0 7 11zM1174 846l-6-2-5-9 5-6 6 0 5 4-1 8zM658 851l-10 1-8-7 6-15 8 0 7 11zM638 928l-16-7-4-4 4-12 16-8 8 5 6 7-3 14zM734 941l-14-8-8-10 2-10 4-4 18-9 15 9 2 6-3 10zM1074 927l-4-4-4-12 8-5 8-3 6 5 5 9-11 9zM826 931l-12-5-5-9 9-11 8-1 10 18zM998 927l-12 3-6-3 0-12 6-2 11 2 3 4zM554 925l-6-2-1-4 5-5 6 5zM909 935l-11 2-12-6 0-4 4-10 10 1 6 4 4 11zM1168 921l-4 1 0-3 2-2zM822 1015l-10-3-11-13 2-12 7-11 16 4 12 15-7 12zM638 1018l-10-10-1-9 3-8 8-5 12 7 2 18zM744 1013l-6 4-10 1-5-13 3-5 10-1 8 7zM908 1015l-6-1-4-3 6-11 5 1 3 10zM998 1019l-8 0-5-8 2-6 7-5 10 3 2 8zM552 1022l-3-11 5-7 8-2 5 7-1 7-4 4zM1172 1020l-7 1-3-3-2-7 6-4 4 0 4 6zM1086 1017l-5 0-1-4 4-3 4 3zM828 1100l-12 3-10-4-12-14 10-12 16-2 6 4 5 14zM720 1097l-7-6 0-8 11-4 5 6 0 8zM992 1105l-8-8 0-8 12-10 8 2 3 16-3 6zM638 1097l-2 0-6-6 2-4 6-1 2 3zM896 1107l-7-8 2-10 11-4 7 6 0 4-3 7zM1082 1109l-5-6 7-5 3 5-1 4z"/>
<path fill="#b1b1b1" d="M1428 1367l-1138 0 0-1144 1138 0zM1055 1245l6-10 2-66 87 0 3-2 2-86 81 0 3-2 2-88 65 0 12-5 3-3 3-24 2-128-7-140-3-5-22-7-56-1 0-153-4-16-14-6-65 0-1-58-8-22-4-2-54-8-330 0-64 6-66 1-42 6-13 27-2 48-65 0-14 5-3 3-5 20 0 147-62 2-16 7-3 38 5 82 2 3 16 9 19-2 1-109 30-1 2 4 0 141-54 1-17 10 2 54 6 60 33 15 36 2 0 83 2 3 86 2 0 73 4 8 16 4 70 1 1 39 15 33 34 4 108 1 74 5 122-1zM740 481l-8 8-10-1-2-11 10-6 6 0 2 2zM824 483l-4 4-6-1-7-5 0-4 9-7 4 1zM1074 489l-8-6 0-6 10-7 6 3 1 12zM648 487l-4 2-6-4-1-8 9-5 5 5zM1002 493l-12 0-4-8 6-11 12 4 2 7zM906 498l-11-9 7-12 8 2 5 4-3 8zM631 571l2-10 2-2 13-4 5 6-4 12-7 4zM906 575l-6 3-10-3-2-8 6-10 6 0 8 8zM732 592l-17-9-3-14 10-12 18 2 4 20zM828 567l-8 1-4-3 0-4 13 2zM1168 577l-4-1-2-5 4-6 4 0 3 4 0 4zM995 571l-5 1-2-5 2-2 4 2zM1080 590l-10-3-5-6 13-13 8 4 2 7-2 8zM552 577l-3-4 3-2 3 4zM560 667l-10 0-9-8 2-8 11-10 12 0 4 8 1 12zM994 667l-5-8 1-12 10-6 5 8 0 12zM648 673l-14-10 1-12 9-5 11 7 2 8zM904 669l-8-10 6-10 8-4 13 6-1 8-7 8zM1080 654l-3-1-1-4 4-4 4 6zM1175 649l-3 9-6-1-4-6 8-4zM714 668l-5-9 7-8 12-1 6 7-4 8-8 4zM816 666l-4-5 4-6 4 2 0 4zM1017 743l-5 5-16 1-5-10-1-13 18-3 8 12zM914 743l-6 0-8-2-4-10 10-8 8 1 5 11zM732 753l-20 1-4-9 4-11 6-7 12 8 3 8zM800 757l-3-12 4-12 11-6 10 0 8 12-2 12-16 8zM629 743l-5-8 14-6 6 8zM1078 748l-5-5 0-4 3-3 9-1 3 4-3 6zM1174 749l-6 0-7-4 3-8 6-2 6 6 0 4zM556 751l-6-2-2-4 4-4 4 0 2 2zM1076 841l-8-4 1-14 5-5 10 1 4 4 0 12zM816 848l-8-1-6-6 0-12 4-6 8-1 6 2 5 7zM902 848l-10-3-3-14 9-8 9 6 2 8zM546 841l-5-8 5-5 6 0 4 3-3 8zM728 846l-10-4-2-7 4-6 10 0 6 10zM979 849l-3-10 4-6 8-5 8 1 4 8-2 8-10 6zM1174 844l-6-1-4-8 4-5 4-1 6 4-1 8zM656 851l-8 0-7-6 5-14 8 0 6 10zM638 926l-18-9 5-12 13-6 13 10-2 12zM734 939l-12-7-8-9 4-12 18-9 14 9 1 4-3 10zM1074 925l-6-14 14-6 5 4 4 8-9 8zM826 930l-11-5-5-8 10-10 6 0 9 16zM552 925l-3-2-1-4 4-4 5 4zM981 927l1-12 13 0 4 4-3 8-10 2zM908 933l-10 3-8-3-3-4 3-10 6-1 10 5zM1166 922l-2-1 2-4 2 4zM822 1013l-9-2-11-14 3-10 7-9 12 3 12 14-6 11zM638 1016l-9-9-1-8 2-6 8-5 11 5 2 16-1 2zM730 1017l-7-10 3-5 8-3 4 2 5 6 0 6zM908 1015l-9-4 5-10 4 0 3 4 1 6zM998 1018l-8-1-4-6 1-4 7-6 9 4 2 6zM553 1021l-3-10 4-6 8-1 3 5 0 6-3 4zM1172 1019l-8 1-3-9 5-3 4 0 3 5zM1084 1018l-4-5 4-3 3 5zM826 1099l-10 2-8-2-12-14 10-11 14-1 5 4 5 12zM720 1096l-6-5 0-8 10-3 4 5 0 8zM992 1103l-6-6-1-6 11-10 8 2 2 12-2 5zM636 1097l-5-6 3-4 4 0 2 4zM896 1106l-5-7 1-10 10-2 6 4 0 4-2 6zM1082 1108l-4-5 6-4 3 4z"/>
<path fill="#b9b9b9" d="M1428 1367l-1138 0 0-1144 1138 0zM1058 1249l6-12 0-62 2-4 86 0 4-2 0-82 2-4 80 0 4-2 0-84 2-4 62 0 15-4 3-4 3-26 1-126-6-146-3-4-25-6-50 0-4-2 0-150-4-19-14-5-64 0-2-4 0-52-7-24-3-3-58-7-328 0-68 5-64 1-46 5-12 31 0 42-2 4-64 0-17 6-5 22 0 146-4 2-56 0-20 8-2 40 4 84 2 4 16 7 22 1 4-2 0-108 2-2 22 0 4 4 0 136-4 2-50 0-18 8 1 60 6 62 37 14 30 0 4 2 0 82 2 4 82 0 4 2 0 70 4 11 18 3 66 0 2 4 0 34 14 37 36 3 110 1 74 5zM820 486l-11-5-1-4 8-6 4 1 3 11zM722 487l0-11 8-4 6 1 2 8-6 6zM1074 488l-7-5 0-6 9-6 6 4 0 10zM646 488l-8-4-1-5 1-2 8-4 4 6zM1002 491l-10 2-5-8 5-10 10 2 3 6zM906 497l-10-8 6-10 6 0 6 4-3 8zM633 571l1-10 14-4 4 4-3 10-7 5zM732 590l-16-9-2-12 8-10 14 0 3 2 3 16zM904 575l-6 1-8-3-1-6 5-9 6 1 7 6zM816 565l0-2 4-2 8 2 0 2-8 2zM994 571l-4 0-2-4 6 0zM1168 576l-4-1-2-4 4-6 6 4 0 4zM1080 589l-8-1-5-7 11-11 7 3 2 6-1 7zM554 576l-4 0 0-4 4 1zM560 666l-10 0-7-7 2-8 9-9 12 1 2 6 0 12zM994 665l-5-8 1-8 10-6 4 6 0 10zM904 667l-7-8 5-8 8-4 10 4 0 8-6 8zM1080 654l-2-1-1-4 3-3 4 5zM648 670l-13-7 1-12 8-3 9 5 2 8zM1165 655l-2-4 7-4 5 2-3 8zM714 666l-4-7 6-7 10-2 6 7-2 6-8 5zM816 665l-4-4 4-5 3 1 1 4zM918 735l-4 6-6 1-9-3-2-6 9-8 6 0zM1016 742l-5 5-15 0-4-8 0-12 16-2 6 10zM730 752l-17 1-3-8 3-10 5-6 11 6 3 8zM801 755l-2-10 3-10 10-6 10 0 6 10-3 12-13 6-8 0zM630 742l-4-8 10-4 6 5 1 2zM1078 747l-5-4 1-4 10-4 4 4-4 6zM1172 749l-10-4 4-8 4-1 5 5 0 4zM556 750l-6-1-1-4 3-4 5 2zM1076 840l-7-5 1-11 4-5 11 2 3 8-2 6zM816 847l-8-2-5-4 0-10 3-7 8-1 6 2 3 6zM902 846l-9-3-3-10 8-8 8 6 1 6zM552 839l-6 1-4-7 1-2 7-3 4 2zM980 848l-3-9 3-4 8-6 6 1 5 7-1 6-10 6zM728 845l-8-2-3-8 3-5 10 0 4 9zM1174 843l-6-2-3-6 3-4 4-1 5 3 0 6zM656 850l-8 0-5-5 3-12 8 0 5 8zM638 925l-14-7-2-3 4-9 12-6 11 9-2 10zM734 936l-12-7-5-8 1-6 3-4 13-7 13 7 2 6-3 8zM1074 924l-5-13 13-5 4 3 4 8-10 7zM824 929l-8-5-5-7 7-7 8-1 8 14zM996 925l-8 3-6-3 0-8 4-2 8 1 4 3zM552 924l-4-5 4-4 5 4zM907 933l-9 2-8-4-2-4 4-8 12 4zM1166 922l-2-1 2-3 2 3zM822 1011l-8-1-10-13 2-8 6-9 12 3 11 12-6 10zM638 1014l-8-7-1-8 3-6 6-4 10 6 1 14zM741 1013l-11 3-6-9 4-5 8-1 6 6zM908 1014l-8-3 4-9 4 0 2 3 1 6zM998 1017l-6 0-5-6 1-4 6-5 8 3 1 6zM554 1020l-3-9 3-5 8 0 3 5-1 4-2 3zM1166 1020l-3-3-1-6 6-3 4 5 0 4zM1084 1017l-3-4 3-2 3 4zM825 1097l-9 3-8-3-9-12 9-10 12 0 4 3 4 11zM720 1095l-6-6 0-4 10-4 3 4 0 6zM994 1102l-6-5-2-6 10-9 6 1 2 14-2 4zM636 1096l-4-5 2-4 4 1 2 3zM896 1104l-5-7 2-6 9-3 5 5-1 6zM1082 1108l-4-5 6-4 2 4z"/>
<path fill="#c1c1c1" d="M1428 1367l-1138 0 0-1144 1138 0zM1060 1252l2-1 4-14 0-60 2-3 90-2 0-83 2-3 84-2 0-85 2-3 62-1 16-3 2-3 3-30 1-124-5-152-3-3-26-5-50 0-3-2-1-148-4-22-16-4-62-1-2-3 0-52-6-26-12-4-54-4-324 0-70 4-64 0-50 6-10 32 0 42-2 3-62 1-18 4-2 2-4 24-1 144-3 2-56 0-18 5-3 3-2 40 4 90 3 4 18 6 28-1 1-109 19-2 4 4-1 132-3 2-50 0-18 5-2 3 1 62 5 66 40 12 33 2 1 80 2 6 82 0 3 2 1 70 4 12 20 2 64 1 2 3 0 34 12 39 40 3 110 1 74 4zM822 483l-4 2-8-4-1-4 9-5zM1074 487l-6-4 0-6 8-5 4 3 1 8zM646 487l-7-4 0-6 5-3 6 5zM724 486l-2-9 8-4 6 1 1 7-5 5zM1000 491l-9 0-3-6 4-8 10 2 2 6zM906 495l-9-6 5-9 6 0 4 4zM634 571l2-10 12-2 2 4-2 8-6 4zM900 576l-8-2-2-5 6-10 9 6-1 8zM732 587l-14-6-2-12 6-8 12 0 4 2 2 14zM828 565l-8 2-3-4 5-1zM992 572l-3-3 1-3 4 3zM1168 575l-4-1-1-3 3-5 5 3 0 4zM1080 588l-8-2-4-5 10-10 6 3 2 5-1 6zM554 575l-2 2-2-4 2-1zM560 664l-8 1-7-6 1-7 8-8 10 0 3 5 0 10zM994 664l-4-7 1-8 9-5 3 7 0 8zM1080 653l-3-4 3-3 3 5zM646 669l-10-8 1-8 7-4 7 4 3 6zM906 666l-7-7 5-8 6-3 10 5-1 6-5 6zM1174 649l-2 7-7-1-1-4 2-2zM716 666l-4-7 5-6 9-2 5 6-2 6-7 4zM816 665l-3-4 3-4 4 4zM916 735l-2 5-6 1-6-2-3-6 3-4 8-3 3 1zM1015 741l-5 5-12 0-5-7 0-10 13-3 6 7zM630 741l-4-6 10-5 5 5 0 2zM728 751l-14 0-2-8 6-12 2-1 8 7 2 6zM804 755l-3-10 3-9 8-5 8 0 6 8-1 10-13 7zM1087 739l-7 8-6-4 1-4 3-2 6-1zM1172 748l-9-3 3-7 4-1 4 4 1 4zM554 750l-3-1-1-4 4-3 3 3zM1076 838l-6-3 1-10 3-5 8 1 3 2 1 10zM808 844l-4-5 1-12 7-3 8 3 2 6-6 12zM902 844l-8-1-3-10 7-7 7 5 1 6zM548 839l-5-6 7-4 4 2-2 6zM732 839l-4 5-9-3-1-6 4-4 6 0zM981 847l-3-8 3-4 7-5 6 1 4 8-2 4-8 5zM1174 842l-6-2-3-5 3-3 4-1 4 3zM656 848l-6 1-6-5 4-10 6 1 4 6zM638 923l-14-8 3-8 11-5 9 9-2 8zM734 934l-10-5-5-8 3-8 12-7 12 7 1 4-2 6zM1076 923l-6-10 10-6 6 4 2 6-8 6zM826 927l-8-3-5-7 7-7 6 1 6 10zM552 924l-3-5 3-3 4 3zM983 925l1-8 10 0 2 2-2 7-6 1zM906 932l-8 2-6-3-2-4 2-6 4-1 7 3zM822 1009l-8-1-9-11 3-8 6-7 10 3 9 10-5 9zM638 1012l-7-7-1-6 2-4 6-4 8 4 2 14zM730 1015l-5-8 3-4 6-2 7 6 0 4-3 3zM908 1013l-6-2 2-8 4 0 2 8zM998 1016l-6 0-4-5 1-4 5-4 8 4 0 4zM554 1019l-2-8 3-4 5-1 4 5-1 4-3 3zM1166 1019l-3-6 5-4 4 4-1 4zM1084 1017l-3-4 3-2 3 2zM824 1096l-8 2-6-2-9-11 7-8 10-1 5 3 3 8zM720 1094l-5-5 0-4 9-3 2 9zM994 1101l-5-6-1-4 8-7 6 1 2 10-2 4zM636 1095l-4-4 2-3 4 0 1 3zM904 1099l-8 4-4-6 1-6 9-2 4 4zM1082 1107l-3-4 5-3 2 3z"/>
<path fill="#c8c8c8" d="M1428 1367l-1138 0 0-1144 1138 0zM1064 1255l5-16 1-63 90-1 2-87 84-1 2-89 60 0 18-3 3-4 3-30 1-124-5-157-3-3-29-5-51-1 0-146-3-24-20-5-60 0-1-55-5-26-2-3-68-6-324 0-70 4-66 0-52 5-9 36-1 43-60 0-23 5-4 28 0 142-57 1-22 5-2 2-2 48 4 93 22 6 32-1 1-108 3-3 15 1 0 4 0 126-53 1-21 7 0 66 4 70 43 10 33 2 0 78 3 8 85 2 0 68 4 14 23 3 62 0 1 37 11 41 44 3 110 1 74 3zM646 486l-6-3-1-2 1-4 4-2 5 4zM724 485l0-8 6-3 4 1 2 6-6 4zM820 483l-6 0-4-6 8-4 3 6zM1074 486l-4-3-1-4 7-5 4 3 0 6zM1000 489l-8 1-3-5 3-6 8 0 2 4zM906 494l-8-5 2-5 4-3 7 4zM634 569l2-6 6-3 6 1 1 4-3 6-4 3zM902 574l-10-1-1-6 5-7 8 5zM730 586l-11-7-1-10 6-7 10 1 2 2 2 12zM827 565l-7 1-2-3 4-1zM992 571l-3-2 1-3 4 3zM1168 575l-4-4 2-4 5 2-1 4zM552 576l-2-3 2-1 1 3zM1080 587l-6-1-4-5 8-9 6 3 1 4-1 6zM552 663l-6-6 1-4 7-7 8 0 3 5 1 8-8 4zM994 662l-3-5 1-7 8-4 2 5 0 8zM1080 653l-2-4 2-2 3 4zM1170 656l-4-1-1-4 5-2 3 2zM646 668l-9-7 0-8 7-3 7 5 1 4zM906 665l-5-6 3-6 6-3 8 3-1 6-3 4zM728 663l-8 3-4-1-3-6 5-5 6-2 5 5zM816 664l-3-3 3-4 3 4zM915 735l-2 4-5 1-6-3-2-4 4-4 8-2zM1013 741l-5 4-10 0-3-6-1-8 12-4 5 8zM630 740l-2-6 8-3 4 4 0 2-6 3zM728 749l-13 0-2-6 2-6 5-5 7 5 2 6zM805 753l-2-8 2-8 9-4 6 1 4 7-1 8-11 5zM1075 743l3-5 4-1 3 2-5 7zM1172 747l-8-2 2-6 4-1 3 3zM554 750l-4-5 4-3 3 3zM1076 837l-5-4 0-8 3-4 8 1 2 3 0 8zM814 844l-4-1-5-4 0-8 3-5 10 1 3 6zM900 843l-6-2-2-8 6-5 6 3 1 4zM550 838l-6-5 2-3 6 1zM726 843l-6-3-1-5 3-3 6 0 3 5zM982 846l-2-7 8-7 5 1 3 6-1 4-7 4zM1172 841l-6-6 6-4 4 4-1 4zM654 847l-4 1-5-5 3-8 4 0 5 6zM638 921l-12-6 4-8 8-3 7 7-1 7zM734 932l-9-5-4-6 3-8 10-5 9 5 2 4-2 6zM1076 922l-5-9 9-5 4 3 2 6-6 5zM826 926l-8-3-4-6 6-5 6 1 4 6 0 3zM552 923l-3-4 3-3 3 3zM994 925l-9 0-1-6 4-3 6 2zM905 931l-7 2-6-3-1-3 3-6 8 3zM822 1007l-6 0-9-10 7-13 8 1 9 10zM638 1011l-6-6 0-4 2-6 4-2 7 4 1 10zM740 1011l-10 3-3-7 7-5 6 5zM908 1012l-4 0-2-3 4-6 4 4zM998 1015l-6 0-2-4 4-7 7 3 0 4zM556 1018l-3-7 3-3 4-1 3 4-1 4zM1170 1018l-5-1-2-4 3-3 5 3zM1086 1015l-2 2-2-4 2-1zM825 1089l-3 6-6 1-6-2-6-9 6-7 8 0 4 3zM720 1093l-4-4 0-4 6-2 3 2 0 4zM994 1099l-5-8 7-6 4 0 3 10-3 3zM636 1095l-3-4 1-2 5 2zM898 1102l-4-4 1-7 5-1 5 5-2 4zM1082 1107l-3-4 5-3 1 3z"/>
<path fill="#d0d0d0" d="M1428 1367l-1138 0 0-1144 1138 0zM1067 1259l4-18 1-62 91-2 1-86 84-2 2-88 60-1 20-3 2-2 3-152-4-166-3-3-30-4-50-1-1-144-3-28-22-3-58-1-1-52-4-30-3-3-70-4-322 0-138 3-56 3-7 39-1 42-60 1-22 3-2 2-3 30-1 140-56 1-25 5-2 52 3 96 24 5 37-1 0-108 3-3 10 1 1 4-1 122-52 1-23 5 3 144 4 2 44 7 30 1 3 86 85 2 1 68 3 15 26 2 60 1 1 34 6 42 3 4 232 5zM818 483l-7-4 5-5 2 0 2 5zM1074 485l-4-6 6-4 3 2 0 4zM646 485l-6-4 4-5 4 3zM735 481l-5 3-4 0-1-5 7-4zM998 489l-5 0-2-4 3-6 4 0 3 4zM904 493l-4-4 4-7 6 3-3 6zM646 570l-4 2-6-3 1-6 9-2 2 4zM826 565l-6 1-1-3 5 0zM901 573l-8-2-1-4 4-6 8 6zM730 584l-10-7-1-6 5-7 10 1 2 10zM992 571l-2-4 3 2zM1168 574l-4-3 2-3 4 2zM1080 586l-6-1-3-4 7-7 6 5 0 4zM552 662l-4-5 1-4 5-5 8-1 1 12-5 3zM996 661l-4-4 1-6 5-4 4 4 0 6zM1082 651l-2 1-2-3 2-1zM1170 655l-4-4 4-2 3 2zM646 666l-8-5 1-8 5-2 5 4 2 4zM906 663l-4-4 4-6 4-2 6 3 0 5-4 4zM718 665l-4-6 4-4 6-2 4 4-1 4-5 4zM816 664l-2-3 2-3 3 3zM913 737l-5 2-4-2-2-4 3-4 5-1 4 5zM1010 741l-2 2-9 0-3-12 10-2 4 6zM632 740l-4-5 8-3 3 5zM726 748l-8 1-3-4 1-6 4-5 6 5 2 4zM806 751l-1-6 2-6 5-3 6-1 4 6-1 6-9 6zM1084 741l-4 4-4-4 6-4zM1172 746l-6-1 1-6 3-1 3 3zM554 749l-3-2 3-4 2 2zM1074 835l-2-2 0-8 4-3 6 2 1 7-5 4zM814 842l-7-3-1-8 2-3 6-1 5 6zM548 837l-3-4 5-2 2 2zM900 842l-4-1-2-6 4-6 4 2 2 4zM726 842l-5-3 1-6 5 0 3 4zM984 845l-3-6 7-6 4 1 2 7-6 5zM1174 839l-4 1-3-5 5-3 3 3zM654 846l-4 0-4-3 2-6 4-1 4 5zM638 919l-10-4 2-6 6-3 4 1 4 4-2 6zM734 930l-11-9 2-6 9-5 8 4 1 3-2 6zM1084 917l-4 4-4 0-3-8 7-3 4 3zM824 925l-6-4-2-4 8-4 5 8zM552 922l-2-3 2-2 3 2zM985 923l0-4 3-2 4 1 2 3-4 4zM903 931l-5 1-5-3 1-6 8 2zM820 1006l-4-1-7-8 5-11 8 1 7 8-3 6zM638 1009l-4-4-1-4 1-4 4-3 6 3 1 8zM732 1014l-4-7 6-3 4 3 1 4zM908 1012l-5-3 3-5 3 3zM996 1014l-5-3 3-5 4 0 2 3zM556 1017l-2-6 6-3 2 3-1 4zM1166 1017l-2-4 4-2 2 5zM1084 1016l-2-3 2-1 2 1zM821 1093l-5 2-4-2-6-6 4-7 8 0 5 7zM724 1090l-4 2-3-3 0-4 5-1zM994 1097l-3-6 5-5 4 1 1 8-1 2zM636 1094l-2-3 2-2 2 2zM898 1100l-4-3 1-4 5-2 4 4zM1082 1106l-2-3 4-2 0 4z"/>
<path fill="#d7d7d7" d="M1428 1367l-1138 0 0-1144 1138 0zM1070 1262l4-19 1-62 87 0 3-2 2-86 79 0 5-2 2-88 57 0 25-4 3-152-3-174-5-3-80-4 0-141-2-30-4-2-78-3-1-51-2-32-3-3-76-3-320 0-198 5-6 41-1 42-57 0-27 4-3 34 0 137-56 1-26 4-2 54 2 102 28 4 36 0 3-2 1-108 1-2 5 0 2 4 0 117-50 1-26 4 2 154 80 7 2 85 86 3 0 67 4 16 85 2 7 82 236 4zM644 484l-3-5 3-2 3 2zM726 483l0-4 6-2 1 4-3 2zM818 482l-6-3 4-4 2 0 1 4zM1074 484l-3-5 5-3 2 5zM998 488l-4 0-2-3 2-5 6 3zM904 492l-3-5 3-4 4 2 0 2zM637 569l1-5 8-1-2 7-2 1zM825 565l-5 0-1-2zM900 572l-6-1-1-4 3-4 7 4zM730 581l-8-4-2-6 4-5 9 1 1 8zM1166 573l-1-2 3-3 2 3zM1083 579l0 4-3 2-4-1-4-3 6-6zM563 657l-5 3-4 1-5-6 5-5 6-1zM996 660l-2-3 0-6 4-3 2 3 1 6zM1172 653l-4 1-1-3 3-1zM646 664l-7-3 1-7 4-1 4 3 1 3zM908 662l-4-3 2-4 4-2 5 2-2 6zM718 664l-2-5 2-3 6-1 2 6-4 3zM816 663l-2-2 2-3 2 3zM910 737l-4 0-3-4 5-4 4 4zM1008 741l-8 1-3-5 1-5 8 0 4 7zM632 739l-3-4 7-2 2 2 0 2zM724 747l-6 0-1-2 0-6 3-3 6 5zM808 750l0-9 6-4 4 1 2 9-8 4zM1083 741l-3 3-3-3 5-3zM1170 746l-4-3 4-4 3 4zM554 748l-3-1 3-4 1 2zM1076 834l-3-3 1-6 6-1 2 7zM814 840l-4 0-3-3 0-6 3-3 6 1 2 4zM900 840l-4-1-1-4 3-4 4 2zM551 833l-3 3-2-3 2-2zM1172 839l-4-4 4-2 2 2zM726 841l-5-2 1-5 5 1 1 2zM984 844l0-7 7-2 2 6-5 3zM652 845l-5-2 3-6 5 4zM638 917l-8-4 6-6 6 4-1 4zM734 928l-9-7 1-4 8-5 7 5-1 4zM1078 920l-3-3 0-4 5-2 3 4zM824 924l-6-5 2-4 4-1 4 7zM552 922l-2-3 2-2 2 2zM993 923l-5 1-2-5 6 0zM902 930l-7-1 1-6 5 2zM820 1004l-4-1-5-6 5-9 6 1 5 6-3 6zM638 1007l-4-6 4-5 4 2 1 7zM737 1011l-5 2-3-6 6-2zM906 1011l-3-2 3-4 3 4zM994 1013l-2-4 5-2 2 4zM556 1016l0-6 4 0 0 5zM1166 1016l-1-3 3-2 2 4zM820 1092l-4 1-4-1-4-5 4-5 6 0 3 5zM720 1091l-3-4 5-2 1 4zM996 1096l-4-5 6-4 3 6zM636 1093l-2-2 2-2 2 2zM898 1099l-2-2 0-4 4-1 2 3zM1082 1105l-2-2 4-1z"/>
<path fill="#dfdfdf" d="M1428 1367l-1138 0 0-1144 1138 0zM1074 1265l2-20 0-60 2-2 88 0 2-4 0-82 4-2 76 0 6-2 0-84 2-4 82-2 1-334-5-3-78-1-4-2-1-172-81-2-2-2-1-82-3-5-398-1-204 2-2 4-2 78-2 4-84 2-2 172-4 2-76 1-5 3 1 162 30 2 40 0 4-2 0-106 2-4 2 4 0 112-4 2-70 1-5 3 2 160 5 2 76 2 2 2 0 80 2 5 82 1 4 2 0 64 2 19 86 1 2 2 2 78 2 5zM818 481l-5-2 3-3 2 1zM644 483l-2-2 2-4 2 2zM728 482l-1-3 5 0 0 2zM1074 483l-2-4 4-2 1 4zM998 486l-4 1 0-6 4 1zM904 490l-2-3 2-3 3 3zM639 569l0-4 5-2 0 6zM900 571l-6-2 2-5 5 3zM728 579l-4-2-2-4 4-6 4 1 2 5zM1168 573l-2-2 2-2zM1078 584l-4-3 4-5 4 5zM551 657l3-6 6 0 0 7-6 1zM996 658l-2-5 4-3 2 6zM1171 653l-3 0-1-2 3-1zM644 663l-3-2-1-6 6 0 2 4zM912 660l-4 1-1-2 1-3 4-1 2 2zM718 662l-1-3 2-2 6 0-1 5zM911 733l-3 3-3-3 3-3zM1008 739l-2 2-6-1 0-7 5 0zM637 735l-5 3-1-3zM724 745l-6-1 2-6 4 3zM1080 743l-2-2 4-2 1 2zM810 749l0-8 6-2 2 4-1 4zM1170 745l-4-2 2-3 4 3zM552 747l2-3 1 3zM1076 833l-2-2 0-4 2-3 3 1 2 4zM814 838l-5-1 1-7 6 2zM548 835l-1-2 3 0zM900 838l-3-1 1-5 3 3zM727 837l-3 3-2-3 2-2zM1172 838l-2-1 0-3 3 1zM986 843l-2-4 6-3 1 5zM652 844l-4-3 2-3 4 3zM640 913l-4 3-4-3 4-4 4 2zM1080 918l-4-1 1-4 5 2zM734 925l-5-2-2-4 7-5 5 5zM826 921l-2 2-5-4 5-3zM992 921l-4 2-1-2 3-2zM901 929l-5-1 0-3 4 1zM820 1002l-7-5 3-7 6 1 3 4zM638 1006l-3-5 3-3 3 1 1 4zM736 1011l-4 1-1-5 5 0zM906 1010l-2-1 2-3 2 3zM994 1012l-1-3 3-1 1 3zM558 1015l-2-2 2-3 2 3zM818 1091l-6-1-2-3 2-3 6 0zM722 1089l-2 1-2-3 4-1zM996 1095l-2-4 4-2 2 4zM898 1098l-1-3 3-2 1 2z"/>
<path fill="#e7e7e7" d="M644 482l-2-1 2-3 2 3zM816 480l-1-1 1-2 2 2zM1076 481l-2 1-1-3 3 0zM642 569l-3-2 3-2 2 2zM900 569l-4 1 0-4 2-1zM728 577l-4-3 2-5 4 2zM1078 583l-3-2 3-4 3 4zM996 657l-1-4 3-2 1 4zM556 658l-3-3 5-3 1 5zM644 662l-3-3 1-4 4 2zM724 661l-4 1-2-3 4-2 3 2zM910 733l-2 2-2-2 2-2zM632 737l0-2 4 0-1 2zM1005 739l-4 0-1-4 4-1zM722 744l-3-1 1-3 3 1zM1170 745l-3-2 1-2 3 2zM812 747l-1-4 3-2 2 4zM1076 831l-1-4 3-1 1 3zM812 837l-3-4 3-2 3 2zM986 841l0-2 2-2 2 2zM638 913l-4 0 2-3zM734 923l-4-4 4-3 3 3zM824 921l-3-2 1-2 3 2zM820 1000l-5-3 3-6 5 4zM638 1004l-2-3 2-2 2 4zM736 1009l-2 2-3-2 3-2zM816 1090l-4-3 2-2 4 2z"/>
<path fill="#eeeeee" d="M728 574l-3-1 1-2 2 0zM1078 582l-1-1 1-2 2 2zM556 657l-2-2 2-2 2 2zM644 660l-2-1 0-2 2 0zM812 836l-2-3 2-1 2 1zM820 998l-3-1 1-4 3 2z"/>
</g>
<path d="M231 361 L231 417" stroke="#e2e2e2" stroke-width="5" stroke-linecap="round" fill="none" style="mix-blend-mode:lighten"/>
<path d="M192 417 L231 417" stroke="#e2e2e2" stroke-width="5" stroke-linecap="round" fill="none" style="mix-blend-mode:lighten"/>
<path d="M192 460 L236 460" stroke="#e2e2e2" stroke-width="5" stroke-linecap="round" fill="none" style="mix-blend-mode:lighten"/>
<path d="M628 373 L670 373" stroke="#e2e2e2" stroke-width="5" stroke-linecap="round" fill="none" style="mix-blend-mode:lighten"/>
<path d="M628 417 L670 417" stroke="#e2e2e2" stroke-width="5" stroke-linecap="round" fill="none" style="mix-blend-mode:lighten"/>
<path d="M621 461.6 L670 461.6" stroke="#e2e2e2" stroke-width="5" stroke-linecap="round" fill="none" style="mix-blend-mode:lighten"/>
<path d="M361.6 588 L361.6 634" stroke="#e2e2e2" stroke-width="5" stroke-linecap="round" fill="none" style="mix-blend-mode:lighten"/>
<path d="M408.4 588 L408.4 634" stroke="#e2e2e2" stroke-width="5" stroke-linecap="round" fill="none" style="mix-blend-mode:lighten"/>
<path d="M454.2 588 L454.2 634" stroke="#e2e2e2" stroke-width="5" stroke-linecap="round" fill="none" style="mix-blend-mode:lighten"/>
<path d="M495.7 588 L495.7 634" stroke="#e2e2e2" stroke-width="5" stroke-linecap="round" fill="none" style="mix-blend-mode:lighten"/>
</g></g>
<path d="M231 361 L231 417" stroke="rgb(146,0,0)" stroke-width="1.6" fill="none"/>
<path d="M192 417 L231 417" stroke="rgb(146,0,0)" stroke-width="1.6" fill="none"/>
<path d="M192 460 L236 460" stroke="rgb(146,0,0)" stroke-width="1.6" fill="none"/>
<path d="M628 373 L670 373" stroke="rgb(146,0,0)" stroke-width="1.6" fill="none"/>
<path d="M628 417 L670 417" stroke="rgb(146,0,0)" stroke-width="1.6" fill="none"/>
<path d="M361.6 588 L361.6 634" stroke="rgb(146,0,0)" stroke-width="1.6" fill="none"/>
<path d="M408.4 588 L408.4 634" stroke="rgb(146,0,0)" stroke-width="1.6" fill="none"/>
<path d="M454.2 588 L454.2 634" stroke="rgb(146,0,0)" stroke-width="1.6" fill="none"/>
<path d="M495.7 588 L495.7 634" stroke="rgb(146,0,0)" stroke-width="1.6" fill="none"/>
<rect x="888.8" y="122.0" width="571.2" height="559.0" fill="rgb(185,0,0)"/>
<path d="M888.8 121.5H1461.0V681.0" fill="none" stroke="#b0b0b0" stroke-width="1" stroke-dasharray="1.5 1.5"/>
<defs><clipPath id="clipB"><path d="M1035 228 1142 228 1142 192 1281 192 1281 228 1352 228 1352 296 1388 296 1388 334 1421 334 1421 362 1389 362 1389 503 1354 503 1354 539 1283 539 1283 608 1245 608 1245 641 1070 641 1070 606 1034 606 1034 569 998 569 998 500 964 500 964 431 928 431 928 401 964 401 964 296 1000 296 1000 262 1035 262Z"/></clipPath>
<filter id="fB" filterUnits="userSpaceOnUse" x="888.8" y="122.0" width="571.2" height="559.0" color-interpolation-filters="sRGB"><feGaussianBlur stdDeviation="0.70"/><feComponentTransfer><feFuncR type="table" tableValues="0 0 0 0 0.5 1 1 1 0.5"/><feFuncG type="table" tableValues="0 0 0.5 1 1 1 0.5 0 0"/><feFuncB type="table" tableValues="0.5 1 1 1 0.5 0 0 0 0"/></feComponentTransfer></filter></defs>
<g clip-path="url(#clipB)"><g filter="url(#fB)">
<rect x="888.8" y="122.0" width="571.2" height="559.0" fill="#141414"/>
<g transform="scale(.5)" fill-rule="evenodd">
<path fill="#181818" d="M2921 1361l-1142 1-1-1117 1143-1z"/>
<path fill="#202020" d="M2921 1361l-1142 1-1-1117 1143-1z"/>
<path fill="#282828" d="M2921 1361l-1142 1-1-1117 1143-1z"/>
<path fill="#2f2f2f" d="M2921 1361l-1142 1-1-1117 1143-1zM2571 986l4-9-4 6z"/>
<path fill="#373737" d="M2921 1361l-1142 1-1-1117 1143-1zM2569 989l5-4 3-12-7 10z"/>
<path fill="#3e3e3e" d="M2921 1361l-1142 1-1-1117 1143-1zM2645 539l1-4-3-2zM2140 677l-5-2-2 4 4 1zM2569 991l6-6 6-16-2-2-10 16z"/>
<path fill="#464646" d="M2921 1361l-1142 1-1-1117 1143-1zM2647 549l1-4 0-14-1-1-6 1-3 4zM2232 541l3 1 8-3-6-2zM2131 681l2 2 6-1 3-5-9-3-2 1zM2567 994l8-7 7-18-3-4-3 0 0 6-8 12zM2317 1193l4-4-2-3-4 3z"/>
<path fill="#4e4e4e" d="M2921 1361l-1142 1-1-1117 1143-1zM2651 563l0-36-10 2-7 6zM2230 541l7 4 19-8-15-6zM2144 677l-15-4 0 12 12-1zM2565 996l11-9 5-14 4-2-2-5-6-4-4 3 2 6-7 12zM2317 1196l5-5-1-7-4 0-4 5z"/>
<path fill="#555555" d="M2921 1361l-1142 1-1-1117 1143-1zM2228 541l3 4 8 2 22-8 2-4-6-6-12-4zM2653 573l0-49-14 4-7 9zM2147 677l-8-4-10-1-2 3 0 12 2 2 12-2zM1997 861l0-4-2-5-3 3zM2627 914l2-11-4-4-2 1-1 9zM2563 999l12-10 6-13 6-3-3-8-9-5-5 5 5 6-8 12zM2362 1143l-3-6-4 2 4 6zM2315 1200l8-5 1-6-1-6-6-1-5 7z"/>
<path fill="#5d5d5d" d="M2921 1361l-1142 1-1-1117 1143-1zM2229 546l12 4 22-9 3-8-15-14-24 22zM2655 579l1-4 0-52-1-2-16 4-11 12 20 36zM2484 615l-3-3-4 3 2 2 4 1zM2053 684l1-3-19-28-5 2 7 6 13 22zM2125 689l2 2 14-2 8-12-10-4-13-2zM2611 753l8-5 2-18-7 9zM1999 863l1-2-5-18-10 8 6 10zM2627 919l4-10-1-12-9-4-3 18zM2563 1001l14-12 6-13 7-3-5-9-10-6-7 5 6 8-7 11-5 17zM2359 1148l8-5-6-10-9 4 3 8zM2313 1202l12-7 1-4-1-10-8-1-7 9z"/>
<path fill="#656565" d="M2921 1361l-1142 1-1-1117 1143-1zM2227 547l16 5 20-7 6-14-14-16-4-1-18 22-7 5zM2653 582l6-3 0-60-20 4-14 16 20 36zM2486 619l-1-6-2-2-10 4 4 5 8 1zM2059 691l-2-12-4-1-14-25-10-8-12 6 18 13 11 17 1 9zM2123 693l20-2 12-20-6 4-10-3-16-1zM2607 758l12-7 5-22-2-2-7 0-4 6zM1993 866l10-1-9-28 3-3 18-6 2-5-4 0-18 11-4 0-13 11 7 14zM2627 923l5-14-1-17-12-5-4 26zM2561 1004l17-15 5-12 8-2-5-12-13-8-7 6 7 10-7 10zM2043 1046l6-7 0-3-6-3-2 8zM2359 1152l12-7-10-16-12 6 4 12zM2313 1207l13-10 2-6-1-12-12-1-7 11z"/>
<path fill="#6c6c6c" d="M2921 1361l-1142 1-1-1117 1143-1zM2506 437l-1-4-6-5-3 1 1 4zM2476 469l1-2-8-2 6 5zM2567 507l2-8-3 0zM2227 549l16 6 20-7 4-11 5-6-13-20-10 0-2 2 0 6-23 22zM2651 584l11-3-1-64-24 4-16 18 19 36zM2529 557l3 0 2-4-5 2zM2489 623l-4-14-15 4-1 2 4 8zM2655 631l6-2 1-2-3-8-5 8zM2447 633l-2-1-21 1 17 5zM2063 698l-3-19-7-4-11-16-1-8-14-13-4-1-17 10 1 4 2-2 24 18 9 14 1 16zM2269 651l6-9-10-2zM2121 695l2 2 20-4 18-28-12 10-27-6-2 6zM2601 763l18-10 8-26-2-2-8-3-8 3-2 4-1 16zM2666 741l-1-2-3 2 3 2zM2540 781l-4 0 3 3zM2007 867l-6-8-5-22 19-7 3-3 1-7-6 1-18 9-15-11-3 16-5 6 9 18 10 9zM2627 927l7-18-1-20-18-8-4 34zM2559 1006l20-16 4-11 11-4-7-14-16-8-8 8 9 10-7 10zM2039 1057l9-12 8-6-1-8-14-7zM2069 1082l2-6 9-1-11-1zM2187 1124l-9-3 3 3zM2361 1156l13-9-13-22-15 8 6 16zM2311 1210l16-10 3-9-1-13-14-3-8 14zM2367 1224l2-2 4-19 4-4-6-1-2 3z"/>
<path fill="#747474" d="M2921 1361l-1142 0-1-1116 1143 0zM2514 445l-3-8-12-9-5-1 2 8zM2354 431l-1-2-7 2 7 2zM2494 471l-23-8-22-13-3 3 23 15 4 6 12 9zM2437 522l1-5-29-28 4-6-7 6 1 4zM2307 503l8-8-9 2zM2558 529l10-6 6-22-1-6-8 0zM2225 550l20 8 20-8 2-11 8-10-12-22-18 1 1 11-14 16-10 8zM2531 521l-8-13 0 7zM2649 587l16-4 0-66-3-2-25 4-20 22 20 36zM2529 559l4 0 3-2 3-10-10 7zM2605 572l8 1-1-2 3-25-10 20-7 1zM2492 563l-3-5-6 1zM2231 589l-2-6-26 3-4-3-1 6 5 4zM2445 592l0-5-3 2zM2609 610l6-10-7 5-1 4zM2435 652l14-19-2-4-36 0-6-22-3 0-15 18 6 16 16-6 16 14zM2491 627l-2-14-2-5-21 5 3 12zM2651 639l26-8-10 0-2-2-2-19-11 17zM2234 627l1 4 15-2-9-7zM2071 701l-4-4-4-18-9-4-10-16-3-12-18-16-6 1-14 15-7 24-7 3-7 11 21-5 8-25 19 14 8 12 1 21 28 1zM2267 656l6-6 6-13-20-4 8 16zM2115 697l8 4 0-2 22-4 24-40-20 19-29-5-2 6 1 20zM2595 769l25-14 10-30-1-2-12-5-13 5-1 20zM2663 750l3-5 5-2-6-7-4-1-4 8zM2059 784l10-5 9-32-3-1-10 3-4 30-4 4zM2461 750l1-3-1-1-2 3zM2500 767l0-2-8-2 3 7zM2575 767l-8-5-5 1 5 3zM2012 787l-1-13-8 10-31-9-1-3-4 3 32 15 6 0zM2543 804l0-23-6-3-5 3 5 4zM2679 799l6-6-6-1zM2009 869l-7-10-4-20 18-8 4-4 1-10-10 2-14 8-18-16-8 2-4 14 0 12 11 22 13 9zM2627 932l8-23 0-24-22-10-4 40-4 2 2 3 4 0zM2057 907l-4 1-2-4-5 1-1 4 8 4zM2557 1009l22-18 4-10 13-4-8-16-17-10-11 8 10 12-5 10zM2112 989l-12-6 7 8zM2539 994l-2-5-8 0zM2628 1011l3 4 24-2-16-9zM2037 1065l14-17 13-9-3-13-22-8-2-3 0 34-2 2 0 12zM2589 1031l4-2-1-2-5 2zM2549 1039l0-10-6-1 0 9zM2069 1097l4-19 14-3-19-2-2 4zM2109 1111l3-4-1-6-4 6zM2211 1134l0-4-32-11 0-4-4 4 2 7 14 16 10 1zM2359 1159l19-10 7-22 0-6-2-3-18-1-22 14 7 20zM2311 1213l18-12 3-10-1-14-2-2-14-2-10 16zM2411 1223l4 1 20-3-13-2 0-2 15-22 0-7-6 1-7 4-12 18zM2367 1227l4-4 4-18 14-8-14-5-6 2-5 5-2 22zM2285 1227l1-6-8 0z"/>
<path fill="#7c7c7c" d="M2921 1361l-1142 0-1-1116 1143 0zM2450 421l7 9 13-9zM2358 431l-3-7-20 7 20 4zM2522 453l-5-13-10-11-12-3-2 1 2 10zM2495 495l14-20-38-14-18-10 2-15-9 15-7 8 2 2 12-1 14 11 6 9 18 14zM2223 551l24 10 18-7 5-17 9-9 18-9 16-13 5-9 16-20-5-2-8 4-2 13-24 1-2 22-24-13-7-9-8 0 11 10-23 2 3 14-14 16-11 8zM2437 527l3-10-29-28 6-10-12 10 2 9zM2551 533l12-5 12-9 4-16-3-10-18 0 2 6-3 22zM2635 515l-6-20-2-2-10 0 0 8zM2541 530l-22-31 2 16zM2585 561l20 13 18 1-4-4 4-15 12 23 12 10 20-3 0-71-8-2-24 4-20 20-12 23zM2527 559l6 3 6-3 6-18-16 12zM2417 547l-10-3-1 5 1 2 6-1zM2503 575l-11-14 0-4-9 0-6 4 14 3zM2169 565l7-2-5 0zM2240 599l-6-12 1-8-30 3-8-11-4 22 2 2 14 5 16-2 14 2zM2445 597l3-8-3-5-4 5zM2607 613l4-2 12-22-16 13zM2285 633l17-30 25 0 2-10-8 3-18-1-4 2-1 6zM2647 647l32-9 8-7 0-3-19-1-1-32-6 2 3 4-14 26zM2545 611l-6-3-16-13 14 19 4 1zM2123 605l-6-4-17 4 13 6zM2451 635l-6-10-32 2-5-20-3-3-27 5-4 4 12 24-1 10 2 1 20-10 26 21 14-22zM2493 629l-2-16-4-7-25 7 5 16 24 2zM2283 635l-24-5-8-12-6-4-15 9 3 12 6-3 18 0 8 17 0 11 8-7zM2085 697l-16-4-3-16-11-4-9-14-3-14-17-16-3-1-7 1-19 22-4 16-8 4-4 14 2 3 16-5 6 0 8-22 14 10 7 10 0 18 3 5 26 0 4 3zM2721 657l2-8-2-3-7 3zM2104 695l14 6 15 12-5-12 18-4 29-48 0-2-26 26-31-6-2 8 0 16zM2587 692l6-21-4-3-7 1zM2681 681l-2-4-4-1-5 5 5 5 5-1zM2460 683l8-4-8 0zM2591 774l30-16 12-35-18-9-10 3-14-13 9 19 0 20-11 30zM2661 758l6-11 10 0-10-14-10-3-5 13zM2051 786l10 1 18-12 9-26-1-7-18 3-6 4-4 28-10 8zM2461 752l3-5-5-5-3 7zM2588 773l-19-14-18 0 14 10zM2021 789l-4-26-14 18-27-8 3-12-15 12 0 4 29 14 12 2zM2504 767l0-2-14-4 3 13zM2551 815l6-4-11-8-1-22-10-5-8 7 10 5 5 25zM2679 800l9-11-11-2-1 12zM2118 797l1-2-4-2-2 4zM2012 871l-9-12-4-18 16-7 6-6 2-13-12 1-12 8-20-17-14 3-1 33 10 18 15 12zM2534 879l21 8 12-6 1-16-3-2-14 15-10-1zM2633 938l-2-11 6-18-2-30-22-9-8 0-2 5 6 1 1 3-2 36-12 4 9 8 8-2zM2064 905l-9 1-2-8-10 2-7 7 21 9zM2014 959l29-18-16-4-5 6zM2557 1011l23-20 5-9 14-5-10-18-20-11-11 11 11 14-5 8zM2063 972l5-3-5-7-4 7zM2495 973l-10-2-4 4 6 2zM2119 1010l6-11-2-9-30-13 22 33zM2547 1005l-8-17-24-1zM2625 1011l6 7 28-3 6-10-18-10-20 11zM2033 1075l19-24 18-12-3-18-26-6-8-10 3 30-1 12-3 2zM2551 1039l0-19-14 3 2 14 6 3zM2587 1034l8-3-1-6-3-1-7 7zM2067 1101l4-2 4-19 20-2 7-5-9 2-24-3-4 7zM2361 1163l14-8 6 1 6-29 6-4-24-28-2 1-6 23-21 10 9 25zM2105 1112l8 0 0-15-9 10zM2449 1104l2-5-6-2 2 8zM2185 1166l26-27 1-8-1-3-29-9-3-7-6 9 4 11 15 17-13 14 1 2zM2268 1129l18-10-8-2zM2511 1152l2-17-9 10zM2309 1217l20-12 5-12-2-18-13-4-1-12-1-2-5 10-5 4 3 6-8 14zM2409 1223l8 2 34-6 1-2-23-4 11-16-1-12-12 0-16 10-3 6zM2357 1221l12 8 5-6 5-17 22-11-22-9-12 3-8 10zM2247 1202l-6-7 2-8-4 1-4 7zM2291 1239l4-6 3-12-13-6-6 3-11-3z"/>
<path fill="#838383" d="M2921 1361l-1142 0-1-1116 1143 0zM2541 561l8-24 32-20 3-12-4-14-3-1-24 1 4 8-3 18-7 15-32-43-1-14 14-16-4-12-9-16-12-7-10 0-2 5 4 11 28 19-16 11-36-11-14-8 4-16 18-16-20-1-11 3 7 10-12 22-13 14 1 1 22-4 14 11 6 11 18 12 22-9 6 26 27 22-17 15-3 5 1 4 6 2zM2363 431l-6-9-8-1-26 10-1 2 3 2 6-1 26 3zM2221 551l26 12 18-6 5-18 7-8 22-10 16-10 7-14 23-24-12 2-8-6-6 2-2 16-2 2-28 1-18 3-4-3-20 1 9 8-15 4 5 16-13 15-13 9zM2439 534l4-17-31-28 11-16-16 13-4 6 4 10zM2167 509l-12-18-4-1 0 10zM2645 654l30-9 12-7 5-9-3-3-16-1-3-2 0-108-11-3-20 2-8-19-4-4-16-1-3 1 3 6-2 8 15 16-12 12-12 22-17 0-9 4-5 15 2 7-2 9 9-9 3-18 2-1 20 14 24 3 0 2-21 18-3 10 2 6 7-4 19-31 31 21-14 26zM2339 572l11-11-19-14-4-11 2 15zM2426 547l-19-6-2 10 12 1zM2339 583l-18 5-14-1-12 6-2 2 3 8-15 29-23-5-20-40 3-13-34 3-12-20-20 2-11 4 5 4 6 2 18-11 1 1-5 38 26 11 10-2 14 3 2 2-14 10 2 17 10-4 16 0 8 15 2 13 10-8 27-49 31-1zM2550 611l-11-6-28-22-16-20-1-6-13 0-10 6 20 3 19 17 31 35zM2088 569l1-2-6-9-8 1zM2445 601l5-12-5-7-6 5zM2127 607l-4-7-10-2-26 5-1 2 3 2 2 5 18 7 12-11zM2455 635l-10-13-16 0-14 3-2-2-4-18-6-5-30 7-4-2-3 4 15 28-2 20 28-15 20 17 8 5 0-7 12-17zM2495 631l-2-18-4-8-32 8 5 18 3 2 26 1zM2183 645l-14-2-2 2 5 4-23 23-33-5-3 21-18 3-22-2-4-12-12-4-9-12-5-20-13-12-11-2-8 4-18 18-3 12-11 12 2 18 16-6 12 1 6-20 10 8 5 7 0 14 5 10 26 0 6 6 32-16 18 8 16 15 22 0 4 9-1-10-21-4-4-10 14-3 8-17 22-34zM2721 662l4-13-4-5-13 7 5 6zM2593 776l28-15 15-40-21-10-6 0-16-16 6-22-10-6-15 2 7 28 17 26-2 20-9 26-18-13-22-1-4 2 20 15 18 4zM2671 689l12-2 3-8-5-7-10-2-7 9 7 6zM2453 693l18-14-1-4-5 2-15-2zM2684 751l-17-23-16-1-5 16 12 22 9-16zM2043 789l14 3 12-6 20-13 7-16-7-20-26 8-3 4-3 26-15 12zM2461 753l4-8-8-8-3 12zM2029 789l-4-24-8-6-14 18-22-6 5-18-1-2-16 17-8 3 0 6 16 10 12 5 16 3zM2509 767l-1-2-21-8 4 21 8-2zM2559 823l11-10-5-1-4-6-12-6-1-19-15-7-11 9 13 6 5 20-1 8 16 7zM2675 801l8-2 10-14-16-2zM2734 811l2-2-3-3-12-22 9 27zM2119 798l2-5-6-7-6 11zM2015 874l-10-15-4-17 14-6 8-7 2-17-14 2-12 6-18-18-18 3-2 4 1 42 3 1 7 11 15 12zM2649 807l-4-2-4 4 6 2zM2467 824l2-7-3 2zM2515 860l5-7-9-8-2 6zM2527 877l12 8 16 5 24-11 2-6-4-12-8-2-4-11-9 17-9 9-8-1-13 2zM2741 884l3-3-1-29-3 1-5 20zM2641 943l-5-12-1-10 3-12-1-34-24-10-14-1-4 11 14 4-2 36-19 6 15 14 12-5 12 8zM2059 929l5-16 8-12-15 4-2-13-16 3-9 10 26 14zM2743 929l-26-3-24-19-5 2 27 22 14 3zM2509 935l0-4-3-4-3-15-2 17zM2005 965l12 0 37-24-29-8-10 12zM2065 974l12-7-16-22-8 24 6 4zM2545 1041l6 0 1-2 3-26 25-20 5-10 15-4-9-20-22-13-14 11 13 16-5 8-10 31-13-25-21-1-7-5 3 17 8 0 26 15-17 2 3 22zM2715 972l6 0 4-7-2-11-5 5zM2498 973l-15-4-5 6 9 3zM2121 1021l8-16-4-16-20-7-18-9 6 12 8 5 15 27 1 4zM2623 1011l8 9 30-1 1-6 11-14 0-6-28-1-20 11zM2031 1083l24-29 23-17-2-8-7-12-28-6-10-13-2 11 5 14-1 22-4 2zM2587 1037l11-6-3-9-6 2-7 7zM2065 1103l6 1 1-1 5-21 20-2 12-11-16 5-25-3-5 8zM2296 1081l-14-6 11 6zM2301 1085l14 4 15-8-17 7zM2457 1110l-3-7 8-10-21-3 6 19zM2361 1167l10-6 12 2-1-14 6-22 12-2-23-24-4-10-7 2-5 25-24 9 10 28zM2101 1113l13 0 1-18-14 14zM2191 1171l7-8 3-10 10-9 2-13-2-5-4 0-24-8-2-10-7 7-2 8 5 15 10 13-12 14 4 4zM2265 1135l24-16-6-3-7 1-9 11-5 1zM2509 1159l5-12-1-19-17 19 11 4zM2291 1246l10-1-6-8 14-17 22-14 5-13-2-20-11-4 0-16 6-17-12 11-8 18-9 4 7 10-7 12 7 27-21-7-9 5-18-5 18 15zM2122 1173l5 1 4-5 4-14 6-4-6-1-4 3zM2478 1181l-18-6 1-4-3 0 1 9 12 2zM2353 1197l-1 22 15 13 10-9 4-15 24-11 1 26 11 4 30-6 9-4-1-4-6-4-11-2 5-10 0-14-20-2-14 9-28-9-16 4zM2255 1208l-13-15 7-11-12 3-5 8 3 6z"/>
<path fill="#8b8b8b" d="M2921 1361l-1142 0-1-1116 1143 0zM2545 561l4-10 2-14 37-24 1-6-6-19-35-1 5 14-2 14-6 11-26-35-1-16 13-14 0-10-14-24-12-7-14 1-2 8 4 13 24 15-14 10-32-9-10-7 2-11 6-9 15-12-3-4-24 0-10 6 6 10-12 22-40 38 6 16 33 32 5-22-10-7-21-21 11-16 10 0 20-4 10 8 8 14 18 9 22-8 5 23 26 22-16 14-4 10 13 4zM2368 431l-5-8-14-5-16 4-6 7-10 0-3 4 5 5 12-3 28 4zM2263 666l13-11 29-49 16 1 19-2 6-24 15-16-27-18-14-34 6-16 9-10 19-16-1-4-20 6-14-11-4 1-1 20-1 4-79 0 12 10-10 2 6 20-11 14-15 10 5 11 28 12 17-7 5-20 8-8 14-7 8 0 16-9 9 42 8 18-11 5-10 0-10 6-13 3-1 2 4 14-12 24-22-3-17-39 5-17-38 1-8-19-26 5-15 6 7 6 10 4 12-7-5 35 39 14 4 29 14-8 14 0 7 15zM2173 519l-2-10-16-22-8 0 2 20 9 6 11 2zM2669 653l18-10 9-14-5-6-18-2 0-108-14-3-20 2-7-17-7-8-24 0 2 12-3 10 13 14-15 26-13 1-19 11-3 10 6 10-6 22 19-20 5-15 16 10 19 3-17 14-3 12 1 11 10-4 20-32 13 11 14 8-15 26-4 32 2 2zM2128 549l4-2 5-15-9 11zM2433 545l-26-8-3 16 17 0zM2097 565l-6-4-4-6-19 0 13 12 2 6 10 2zM2554 611l1-2-14-5-30-23-14-18 0-8-16 0-15 10 27 4 16 15 24 31 8 5zM2445 604l7-15-5-9-2 0-8 7zM2076 603l11 6 6 14 10 4 20-18 7 0 1-2-6-9-14-4-26 5zM2458 635l-13-17-30 4-6-21-8-4-24 5-12-6-5 11 16 32-5 29 8-9 28-13 18 16 10 5 2-10 10-16zM2497 633l-1-20-7-10-36 10 8 23 30 1zM2190 643l-13-2-22 0 15 8-21 22-34-6-4 18-18 3-18-1-4-10-14-4-8-12-4-20-11-10-13-4-9 4-23 18-3 10-10 14-2 10 7 12 16-5 14 0 2-1 0-8 4-7 9 9 2 16 5 10 28 0 6 7 34-16 14 7 12 10 3 6 24 0 13 29 2-9-3-20-9-7-16-3-3-6 10-4 9-18 22-34zM2719 667l2-1 5-17-5-6-19 8 9 12zM2597 778l26-17 17-42-26-12-13-16 4-16-14-9-14 1-6-3-6 7 6 4 6 22 6 6 12 20-2 6 0 14-8 21-14-10-39-1 31 22 12 3zM2685 690l6-13-7-10-15-3-11 15 10 6 1 7zM2451 702l3-3-1-4 14-12 7-2-1-10-10 5-24-5zM2745 689l0-13-8 3-2 10zM2331 726l2-1 0-5-4 3zM2692 759l-4-12-6-4-15-19-18-2-8 23 16 27 12-21 8 1zM1958 779l7 1 19 13 19 4 26-5 3 1 1 3 4-4 18 3 16-7 14-10 16-5 2-8-10-31-24 6-7 3-5 6-2 24-18 14-4-20-14-8-2-4-14 19-18-5 6-20 0-7-8 4-1 5-13 14-10 3zM2463 754l4-9-12-12-4 16 8 6zM2513 767l-28-13 2 27 2 2 12-5zM2735 815l4-6-6-6-11-20 7-10 7-4-9-3-12 15 13 32zM2565 832l16-17-16-5-4-10-9-5-2-14-19-8-14 12 18 7 4 19-2 12zM2674 803l9-2 13-16 1-3-22-4zM2121 799l1-8-9-11-8 17zM2456 789l-6-2 1 2zM2007 906l3-3 9-26-13-18-4-16 14-6 9-8 3-18-1-2-18 3-8 5-20-20-23 6 1 56 6 0 20 19 12 1-14 4-11 14-1 4 2 2 2-4zM2653 809l-3-4-5-2-6 6 4 4 4 0zM2461 848l11-31 1-6-23 16zM2268 827l-3-3-2 3 4 2zM2595 849l14-10 1-12-5-1-6 7zM2648 947l-8-18-1-54-2-4-22-10-22-3-4 9-4-10-13-2-7-20-16 28-5 6-27 3-2-1 12-14-10-12-6-4-2 2-3 10 9 19 22 14 20 7 32-15 18 3-2 34-22 5-2 7 8 4 10 10 18-6 28 15zM2743 885l4-4 0-34-16 6-2 12 7 18zM2097 867l-11-10-1-7-9 11 1 2 8-2zM2513 937l0-6-5-6-5-18 8-27-12 20-29-17 27 22 2 4 2 22 4 4zM2137 887l-2-2-3 0zM2121 1030l10-11 2-6-7-26-21-6-22-14 0-9-12-21 6-34 3-6-21 6-4-18-18 4-13 14 0 2 30 16 3 16-22-3-12-5-13 16-9 17-12 7 34 0 12-10 14-8 1 2-4 14 13 9 8 0 14-6 9 15 9 6 15 26 1 11zM2747 929l0-4-30-2-24-20-11 6 20 12 9 12 16 4zM2411 919l-2-5-8 7 8 1zM2299 971l2-2-16-30 17-16 3-7-22 21-12 2 12 4zM2545 1042l6 0 3-3 1-18 5-6-1-4 22-18 4-8 18-6-12-22-24-14-14 12 0 2 14 16-4 8-8 27-2 0-12-22-22-2-9-9 2 32 13-2 2 2 5 30zM2249 973l3-2 7-22-14 22zM2710 975l13 0 5-8-5-19-10 9 1 6zM2476 975l11 4 19-8-25-4zM2027 1090l5-3 27-32 26-18-12-16-4-9-6 0-22-5-14-18 2-8-2-6 0 34 5 14 0 18-6 4zM2677 991l-28 0-6-2-20 11-2 11 10 11 34-1-1-8 13-16zM2585 1040l8-5 8-2-4-14-8 3-11 11zM2062 1107l11 0 6-23 18-2 11-7 8-10-23 8-16-1-8-3-8 12zM2449 1116l16-1-5-12 11-14 0-4-12-19-15 13-2 4-5 2zM2344 1073l-17-2-16 11-24-11-6 1-2 11 4-4 32 13 29-15zM2237 1203l14 6 4 7 4-2 15 13 9 10 2 6 6 4 12-1-6-9 12-15 23-15 6-12-2-24-8-2-1-12 8-21 2-1 9 24 15 12 6-3 16 2 1-21 7-20 16-2-14-12-10-12-4-15-14 3-4 25-31 11-15 14-8 19-13 7 9 16-5 8 5 21-16-6-10 8-20-8-13-13 11-16-18 3-8 13zM2098 1115l18 0 2-10-1-12-2-2-17 18zM2195 1175l4-2 6-18 6-6 3-18-3-7-4 1-24-8 0-14-10 11-3 7 5 19 7 11-12 16 5 4zM2261 1137l2 1 16-8 13-11-7-4-10 1-8 9-8 0zM2491 1149l12 2 6 13 5-13 3-28 18 4 0-9-16 1-4-2-26 30zM2120 1173l8 2 6-6 4-12 18-6-19-3-10 5-8 18zM2492 1185l-27-10-1-2 9-15-22-7 1 26-3 22 10-3 2-11zM2348 1217l21 17 11-11 3-12 20-10 1 22 13 5 28-5 4 2 9-6 1-10-13-8-1-22-26-2-8 5-26-7-22 5-14 15z"/>
<path fill="#939393" d="M2921 1361l-1142 0-1-1116 1143 0zM2687 693l8-18-8-14-16-4 18-11 11-17-5-8-16-1-3-3-1-105-18-4-16 2-6-15-12-11-24 0-3 17-3 7-8-23-42 0 7 16-2 12-3 6-2 0-19-26-2-18 11-12 1-14-14-24-9-6-18-2-10-5-28 0-10 9 5 10-11 22-40 40 8 18 28 30-28-7-4 13 0 8 20 0 18-6 7-32-13-9-20-19 12-15 16 3 14-3 6 5 6 12 0 7 4-2 18 7 20-10 5 22 26 22-15 14-3 10 13 6 12-6 3-24 40-24 11 14 0 4-8 14-6 0-12 9-19 9-1 4 10 14-10 26-14-5-22-17-10-5-13-17 1-8-22 0-15 10 1 2 30 3 15 15 23 30 11 8 1 3 18-13 21-22 6-8 2-10 13 7 11 3-11 10-3 14 1 13 13-5 19-32 25 18-15 26-5 30 3 8 20-2-10 14 14 9 0 9zM2312 439l3 2 18-4 30 3 10-9-8-10-6-4-22 0-4 1-6 9-14 1zM2501 463l-30-7-7-5 2-6 10-14 11-8 4 20 18 12 0 2zM2261 671l16-14 28-48 37-2 5-2 6-24 12-16-28-18-14-36 11-18 17-16 11-8-5-8-12 7-12 3-20-16-1 26-3 3-98 0-2 6 20 0 8 5-3 2 6 24-11 12-14 10 4 12 23 10-29 2-6-10 0-8-2-1-28 7-10 5-11 3 11 8 10 4 8-2-4 32 23 8 9 15 3 15 9 6 2-3 14-8 14 0 6 13zM2126 551l7-2 10-30 4-4 22 3 6 9-1-18-19-25-11 1 2 8 0 22-21 24zM2109 499l1-4-4 0zM2261 625l-9-16 1-9-7-13 5-16 4-3 12-5 5-22 7-8 14-7 8 1 14-8 6 24 5 28-9 2-14 9-17 3-2 2 7 18-12 24zM2107 561l-12-4-4-5-37 1 12 4 12 10 0 8 3 2 16 3 2-1zM2447 608l7-19-7-13-11 11zM2451 710l8-7-3-8 14-12 7-2 0-12-14 5-24-5 0-12 10-16 8-2 32 2 8-4 2-16-2-10-6-10-42 12 2 9-6-7-28 6-3-16-4-6-13-5-18 4-18-9-8 18 17 32-9 42 20-21 26-10 14 13 16 10 12 24zM2066 603l20 8 11 25 26-24 13-3-7-13-20-5-28 5zM2197 641l-48-4 1 4 18 10-19 19-37-5-3 14-32 1-2-5-17-4-7-12-5-22-8-8-19-4-20 10-15 12-1 6-4 2-7 14-1 14 7 14-1 3 5-5 15-5 19 1 0-10 3-3 4 5 6 24 30 1 10 10 32-17 20 12 6 11 26-1 10 26 8 4 3-30-15-10-12-3-4-3 6-3 8-19 24-36zM2719 673l8-24-8-8-21 12 9 13zM2699 767l-6-22-8-4-13-16 1-6-30-2-26-12-2-12-5-6 0-10-15-11-6-1-10 1-10-6-13 11 0 2 12 8 4 16 10 8 11 18-3 6-1 14-6 16-12-8-32-1-8-5 0 12 22 14 8 7 38 2 24-15 18-43 1 1-7 22 8 14-6 10 14 13 6-7 12-21 6 0zM2723 693l24-3 0-20-20 8zM2206 683l-4 0 3 3zM2253 699l17-8-15 5zM2403 703l3-4-4 0zM2329 730l6 0 0-14-9 7zM2075 1110l1-1 5-23 16-2 15-9 8-10 1-10-6-18 2-2 6 2 15-18-11-35-8 0-14-5-19-12 2-14-4-20 7-36 17-10-47 14-4-22-26 6-12-11-11-13-4-16 13-6 10-10 3-18 9-15 14 3 20-9 12-8 24-8-8 23 20 3 3-11-13-16-16-43-35 11-6 8-2 22-7 6-2 0-3-10-19-9-4-6-14 19-14-4 8-20 0-14-16 7 0 10-12 12-13 3 0 14 6 2 17 12-22 5-2 31-14 2 2 3 12 0 1 29 8 2 14 12-13 22-1 22 11-18 36 8 8-6 32 16 2 12-17-2-15-7-22 32-16 9-17 6 57 2 1 36 6 16 0 14-6 4 1 51 12-7 23-28 25-17 31 21-25 10-24-4-7 12-1 28zM2463 755l4-12-14-14-4 22 8 5zM2239 743l4-6 0-4-6 0zM2518 767l-36-16 2 14 1 21 16-4zM2735 818l10-7-10-8-12-20 8-10 12-5 6 1 0-2-24-6-13 18 14 36zM2657 947l-8-6-5-12-2-18 3-2-4-2 0-32-2-5-16-11-22-6 12-8-2-14 2-7-10-1-11 14-5 15-12-2-5-13 21-20-24-8-6-14-6-5-1-7-25-12-17 14 21 8 4 18-2 17 18 7-11 28-3 2-8 0 3-4-12-16-13-9-6 19 8 16-14 23-22-14-8-1-2 2 3 4 5 2 24 20 4 26 15 8 1-10-8-8-3-16 11-31 20 13 20 7 34-15 15 4-1 28-16 5-10 0-7 15 25 16 22-9 16 9 8 7 4-5zM2673 803l11-2 19-23-28-5zM2465 791l-12-7-9 3 7 4zM1986 797l19 2 18-3 1 1 0 10-15 3-6 3zM2657 809l-6-7-8-1-6 8 4 5 8 1zM2459 862l16-47 0-9-28 21zM2269 831l2-2-2-6-6-3-5 9zM2343 839l0-2-7-2 3 5zM2737 886l8 0 4-5 1-36-3-2-24 10 0 2 10 28zM2115 879l-28-22-2-13-18 19 0 4 18-3zM2257 891l-16-17-6-1 2 4zM2144 891l-7-9-15 1zM2359 900l0-6-3 1zM2727 978l5-11-5-8-2-18 10-6 10-3 3-3 1-7-32-2-24-21-15 10 18 10 10 16 17 6-14 12 2 10-6 14zM2251 976l2-3 14-32 16 5 13 25 5 1 3-3-17-28 18-18 6-14-30 28-19 0-17 28-2 6zM2414 919l-5-10-4 6-10 6 14 3zM2165 929l2-6-4-6-3 8zM1957 958l4-27-4-2zM2605 981l-12-25-28-15-15 14 17 18-4 6-8 26-12-20-23-2-10-12 1-3-20 0-10-4-8 11 6 4 8 2 20-8 4 43 12-4 5 25 17 7 8-1 3-4 1-16 10-8-5-4 21-18 2-6zM2111 1031l-24 5-14-17-2-10-28-5-12-15 6-24 2-1 18 14 10 1 12-6 7 12 13 8 13 24zM2679 989l-28 0-8-4-22 12-3 12 13 15 26-1 10 2 0-12 12-16zM2583 1042l21-9-5-16-10 3-14 15zM2319 1060l1-21-3-4zM2227 1193l9 12 13 6 4 13 8-5 17 16 5 10 8 5 8-1 8-4-7-8 11-14 22-13 6-13-2-28-5-2 0-8 5-13 2 1 5 14 18 14-19 20 0 20 24 22 2 0 13-14 3-10 16-7 2 17 16 6 24-5 6 4 10-5 2-4 2-31 34-1-31-14 16-22 19 2 6 18 8-16 2-28 20 4 0-18-16 1-10-9-6 18-22 22-18-40 9-12 0-12-10-16-2-8-11-3-3 13-15 12-22-5-11 3 5 5 4-5 26 8 14 37 21 1-21 12-13 10-16 24 5 4-12 1-27-3 0-22 5-17 20-1 3-2-26-24-3-20-2-1-19 5-5 27-22 7-12 2-12 12-8 19-48 16-18 2zM2348 1069l-9 1-18-4-10 11-20-9-10 1-5 18 1 2 8-7 24 11 6 1 22-13 10-2zM2097 1116l21 1 2-12-3-18-14 18-8 6zM2201 1180l12-30 2-21-4-6-6 1-20-7 0-16-2 0-12 12-2 8 8 30-10 18 6 6zM2259 1141l20-8 16-14-8-4-12 0-8 7-11-1zM2116 1171l5 4 8 1 6-5 6-12 28-8-32-4-15 8zM2246 1193l11-16 32-10 11 18-3 6 2 12 0 2-10-3-14 9-17-6zM2371 1241l-6 2 4 1z"/>
<path fill="#9a9a9a" d="M2921 1361l-1142 0-1-1116 1143 0zM2689 695l11-22-14-20 17-24-6-11-16-1-3-2 0-104-21-4-16 1-5-13-15-14-24 0-4 13-3-9-3-3-46-1-3 2 8 18-3 14-14-18-3-20 10-10 0-20-13-25-8-6-20-2-12-5-28 0-4 3-7 9 5 8-12 24-39 40 9 23 18 19-18-4-5 16 1 10 30 3 10-3 0-12 7-28-15-10-18-18 10-14 34 6 2 6-4 23 16-11 14 6 20-9 5 19 26 24-13 11-4 13 16 6 14-5 12 17-8 23-14-4-18-15-13-6-11-14 0-12-24 1-20 14 38 5 12 12 21 26 2 6 9 6 0 13 12 2 2-1 4-12 11-8 2-8 15-14 10-17 6 4 8 1-8 8-3 16 1 15 16-5 18-32 24 16-16 26-6 30 6 14 6-1-2 5 18 12-2 10 2 1zM2309 443l2 1 22-6 32 4 13-11-13-14-6-3-14-1-14 4-6 8-14 0-2 2zM2497 460l-29-7 1-3 16-22 6 18 13 9zM1973 709l12-13 12-3 22 1 2-5 6 20 30 1 12 12 34-17 10 4 6 6 6 13 14-3 14 2 9 22 11 7 4-35-18-11-11-3 10-20 25-38 20-9 17 7 5 9 4-9 12-6 12-1 6 11 0 24 18-16 30-50 42 0 16 30-9 30 1 14 8 2 0-6 18-18 22-8 22 18 4 7 6 1 7 16 3 2 4 22 12-12-4-12 12-11 9-3 0-16-19 8-22-6 1-10 9-13 8-4 32 4 10-6 2-19-2-8-8-11-44 11 9-22-9-15-12 13 11 24-27 8-3-14-5-9-14-5-16 3-20-13 8-14-29-20-14-36 9-13 18-18 45-29-9-10-2 8-18 17-8-10-16 10-10 3-24-19-2 1 0 28-2 2-98 0-4 15 26-1 8 26-9 10-17 14-34 7-12 7-14 4 12 10 15 6-5 29-6 1 20 4 11 24-41-1-12-12-1 13 3 5 16 9-16 18-38-5-4 9-28 2-20-6-7-10-5-24-5-6-23-5-33 13-8 6 4 2-3 3-2-1-11 26 2 12 8 18zM2123 553l10 0 14-34 20 2 10 14-2-28-18-25-6 0-9 3 2 26-21 24zM2111 506l1-11-7-1zM2553 562l1-25 37-22 4 22-18 15zM2263 624l-9-15 1-12-5-10 4-12 6-6 7-3 6-25 6-6 12-7 12 1 10-6 5 18 2 26-19 13-21 3 8 24-11 20zM2227 561l-13 0-2-4 1-11 5 11zM2115 559l0-2-18-6-2-3-42 1-3 4 15 6 9 8 3 13 26 6zM2140 611l-9-17-26-6-30 5-18 10 28 10 10 30 6 6-2-12 26-23zM2750 691l0-22-6-4-22 8 6-22-7-11-29 13 11 16 8 6-1 8 5 12 6 1zM2749 811l-14-11-10-17 6-8 12-6 8 4 1-2-1-8-4 1-24-8-14 18-12-31-10-5-12-15 5-8-1-1-30-3-6 3-22-9-3-24-24-16-15-1-14-9-10 10-8 4 3 8 15 9 3 11 13 11 9 17-3 6 0 10-6 13-8-6-32-1-12-8-2 14 4 9 8 3 20 16 44 1 20-13 22 23 13-15 11-21 4 0 31 17-31-4 0 37 12-4 22-26 18 43 12 2zM2207 688l5-9-1-1-8 1-3 4 3 5zM2278 693l-16-6-7 3-5 11 7 1 12-7 8 6zM2767 695l-2-2-7 2 7 2zM2408 699l-7 0 2 5zM2327 734l10 1 0-23-14 11zM2077 1113l2-2 4-23 14-2 19-11 8-14 1-18 17-18-14-42-9 0-12-4-19-12 1-8 4-8-2-14 6-6 10-28 14-17 30 11-10-12-1-4-23-2-28-22-6-20-23 26-3 10-14 2-12 7-12-9-11-14-3-12 12-6 12-12 2-16 9-12 11 1 24-10 10-7 18-5-6 17 26 4 2-14-11-14-12-32-3-15-40 13-7 8-1 20-2 2-26-12-6-8-14 18-9-2 8-20 0-18-1-3-21 11-1 14-10 11-16 3 0 18 8 1 10 7-18 6 0 31-19 3 5 7 14 2 0 27 10 4 9 8-14 22-1 20-3 2-1 4 0 48 68 3 0 33 7 18 0 10-7 4 0 50 6 5 18-11 18-23 22-17 27 18-21 9-14-1-10-3-9 13-2 30 1 2zM2463 756l6-13-18-18-5 26 11 7zM2239 747l7-8-1-8-10 2zM2479 748l3 17 1 26 18-6 21-18-23-8zM2551 1044l6-5 2-13 14-11-8-6 18-14 4-7 21-7-12-22 0-4 25-10 22 17 6-10 17-5-13-9-5-11-1-12 9-6-13-4-1-28-2-8-25-18-3-20 5-10-16-2-34-12-10-24-28-14-21 18 25 10 3 14-4 22 11 4-8 19-12-14-16-10-7 23 6 16-11 18-18-12-17 0 5 9 8 2 20 17 4 8 1 18 5 7 16 8 2-15-9-8-4-16 9-27 18 11 24 8 30-16 16 3-2 27-14 5-14-1-4 4-8 18-15 14 17 20-10 30-10-18-25-4-8-10 5-10-10 7-16-2-12-4-8 13 6 5 10 2 18-7 3 16-1 24-2 4 6 3 10-3 4 20 18 6zM2474 793l-19-11-14 5 10 5zM1994 801l23-2 0 6-14 4zM2661 809l-8-8-10-2-8 12 6 5 10 1zM2459 871l7-14-1-8 13-34-1-14-28 20-4 6 10 28zM2253 831l16 3 4-3-2-10-6-7-2 1zM2579 847l-3-8 23-18-16 26zM2347 837l-4-3-15-5 7 12 8 2zM2747 886l5-7 0-34-7-5-24 10-6-1 18 37zM2184 859l3 0 1-4-3 1zM2059 873l26-7 28 15 0 2-48 17-2-1zM2270 901l-25-24-3-6-10 0 3 8 29 20 1 2zM2415 888l8-2 2-5-6-1zM2365 909l-4-16-4-1-4 3 4 14zM2731 979l4-10-6-12-1-16 17-8 5-10-1-4-32-2-24-21-20 11 18 12 12 19 11 3-10 10 3 12-6 16zM2242 973l11 5 4-7 10-26 16 5 11 21 7 4 5-6-17-28 18-16 7-20-3-1-3 5-27 27-14 0-8-2-2 7-14 22zM2416 919l-7-14-7 8-13 8 1 2 19 3zM1959 965l4-36 14-23 38 9 12-4 21 12 1 6-2 1-10-2-18-8-23 31-18 10-17 6zM2167 932l1-11-5-11-5 15zM2442 941l-3-3-2 3 4 2zM2109 1029l-22 5-12-15-4-17-14 2-14-4-9-11 5-17 2-1 14 10 14 0 8-4 7 10 15 10 12 20zM2682 987l-31 0-8-6-24 12-3 16 15 17 26-1 12 3 0-15 12-16zM2247 1021l18-7 9-1-9-3-14 11zM2427 1022l-3-11-4 0 0 6zM2582 1045l13-8 12-2-6-20-12 3-17 17zM2273 1097l12-12 24 10 8 0 18-11 16-4 1-15-15 2-14-3-3-27-1-6-4-1-2 9 2 24-6 7-14-5-16 2zM2186 1043l-1-9-14 3 8 2 6 6zM2224 1193l11 14 11 6 5 19 12-8 11 11 5 10 12 8 8-1 10-6 2 1-9-10 11-13 23-13 1-3 1 5 26 24-6 6 11 2 7-4-5-2 0-2 14-14 3-8 11-5 0 11 8 5 12 4 22-4 6 7 4-1 13-11 2-30 31 0 3-2-2-4-29-12 16-20 15 4 5 18 2 1 9-21 3-26 20 5 1-1 0-24-15 0-8-8 0-10-16 14-3 18-11 13-16-29 5-10 2-18-8-14-5-18-22-4-2 22-10 9-17-3-23 10-2-2-26 8 0 10-4 17-20 7-20 3-8 8-8 20-36 11-12 6-18 2zM2447 1125l-26 6-27-24-1-21 8 13 10-19 24 7 12 34zM2095 1118l24 1 4-14-4-22-16 21-12 9zM2216 1129l-5-8-6 2-17-6-3-21-15 15-3 12 6 26-34-4-20 10-6 14 6 9 8 1 11-8 3-8 28-8-7 14 7 8 20 5 10 4 8-3 6-26zM2256 1145l23-9 19-15 0-2-13-5-12 0-6 5-14-2zM2413 1171l-25-2 0-20 5-15 28-2 1 11zM2343 1180l-2 0-2-13-2-2 2-9 4 7 7 6zM2248 1193l11-16 28-8 9 18-1 12-4-2-16 12-16-5z"/>
<path fill="#a2a2a2" d="M2921 1361l-1142 0-1-1116 1143 0zM2553 1045l6-6 2-9 19-15-1-2-10-6 15-12 3-6 23-6-13-24 1-2 25-7 18 17 10-13 24-7-20-14-3-8 1-9 14-7 13 10 3 21 8-10 8 10 7 3-6 6 3 16-6 18 34 0 2-2 4-10-7-14-1-14 8-5 9-3 4-4 2-6-3-9-32-2-24-22-26 15-20-3-2-3-1-24-3-12-23-16-4-18 5-13-9-3-3-6-8 6-32-10-6-21 46 0 12-8 19 23-6 12 7 7 16 0 10-9-11-10-10-2 14-18 13-21 13 7-13 0 0 42 14-4 22-22 16 40 14 4 15-12 0-2-17-14-8-14 6-7 10-5 12 6 0-16-6 1-6-5-22-7-10 13-9-22-11-4-12-14 8-14-32-3-12 5-20-8-1-20 19-7 18 11 0 14 34-4 8-17 6 17 4 1 38-3 20 6 2-10-18-2 0-22-12-6-15 4 4-14-9-12 24 0 8 3-4-6-20-13-6-8-38 0-4-2-2-40 2-6 0-58-26-4-12 1-5-11-17-16-80-1-2-3 0-30-14-27-9-5-19-2-12-4-30 0-10 8-2 8 4 6-13 26-37 38 8 24 10 12-8-1-2 2-4 27 19 2 27 9-2-23 8-26 22-16 14 5 20-10 4 17 26 24-12 10-4 16 18 6 10-5 12 15-8 20-10-3-17-13-15-7-11-13 1-13-16 2-12-1-25 16 45 6 11 10 20 26 2 6 8 6-1 24 25 4-22 10 9 14 0 8 14 8 2 6 16 12 9 16-4 8-3 15-2 1-6-4-28 0-16-13-2 1-3 18 3 15-28-9-23-12 4 20 0 26-1 2-22-13-8 3-14 2 16 9 26 1 1 2-17 14-12 8-6 8 10 30 4 21 6 9 10 3 18 15 4 10 1 16 7 8 20 10 2-18-12-10-3-14 9-23 16 10 26 8 28-16 14 3-1 24-13 4-16-2-5 4-11 18-12 12-9 4 13 4 15 16-9 27-10-17-22-2-8-10 6-15-16 10-14-1-12-5-11 15 8 6 11 2 16-6 3 12 0 22-5 8 10 9 8-2 2 13 22 7zM2051 1115l30 0 4-25 12-2 22-13 8-14 1-16 10-4 8-8-17-53-12 1-12-4-12-8-2-8 8-12-1-10 12-10 4-14 1-14 8-12 34 13 2-1-16-16 0-6-28-3-25-19-4-18 2-6-5-6-10 16-21 22-21 14-12-7-8-11-4-14 10-4 14-14 2-14 10-9 6 0 46-20 2 1-4 10 30 5 4-15-9-14-12-32-5-19-32 10-12 6-8 9-2 19-24-11-6-8-14 17-5-1 9-20 1-26 13-17 6 11 30 1 12 14 34-17 4 0 9 6 7 17 16-4 12 0 9 21 17 10-2-12 6-28-29-14 8-18 25-38 18-7 15 7 7 14 8-15 10-6 10 0 5 11-1 26 22-18 29-50 37-1 4 3 11 28-8 20 0 20 2 6 13 2 2-2-1-8 15-15 22-8 10 11 7 4 5 11 10 2 5 11 3 2 3 24-5 30 14 8 6-2 7-16-12-14 0-6 10-10-7-16 11-10 12-2-1-20-2-1-20 9-20-4 0-8 9-14 7-3 32 5 12-7 2-21-2-8-8-13-42 11 6-20-10-17-14 13 6 10 5 16-23 6-3-12-5-10-18-7-10 2-14-9 6-8-2-4-32-22-14-36 6-10 19-18 47-30-4-8-13-12 1-2-14-14-10-6-22 0-10 6-4 6-18 1-1 51-1 3-99 1-4 22 29-2 7 22-9 11-14 9-4-1-30 9-16 10-16 2 0 2 15 12 13 6-4 23-28 8-11-19-15-6 6-20-1-10 11-3 14-32 18 2 12 19-2-38-18-25-10 0-9 7 1 22-20 23-2 17-20-4-6-7-2 8-41 1-3 9 18 5 6 6 1 16 15 4-14 2-10 6-10 8 2 10 6-6 22 8 8 22 2 12 10 10-2 2-16 4-6 7-18-3-7-10-6-28-23-9-6 1-45 16-10 26-2 10 5 20 6 12-2 2 2 5 16-17 8-2 18 2-9 18-27 14-1 18-9 10-19 2 0 22 9 2 6 4-12 3-2-2-1 33-1 3-22 1 7 14 16 2 0 28 9 2 6 6-14 24-1 74 3 2 62 0 3 2 0 28 9 26-9 6 0 50 9 9 23-13 15-20 20-17 22 15-18 8-12-1-10-4-11 17-2 26zM2310 447l23-8 34 5 13-7-3 10-8 8-4-4-20 13-10 3zM2495 456l-20-5 10-13 2 1 2 8 8 6zM2541 509l-7-10-3-24 11 26zM2451 515l-16-10-16-16 8-12 31 6zM2113 513l1-20-9 0-5 4 5 2zM2555 560l2-25 32-18 2 21-14 12zM2263 623l-7-12 1-16-2-8 3-8 11-12 5-26 7-7 10-4 12 1 8-4 4 14 2 24-18 12-16 2-11-4 2 10 5 2 6 20-8 18zM2619 679l-20-13-8-3-10 0-20-12 9-26 5-4 4-14 9-8 11-16 2 2-5 22 1 18 18-6 20-32 20 14-17 28-5 30 6 14zM2147 669l-37-8-7-24 24-22 16 0 4 27 17 11zM2191 635l-26-2-15-16 27 0 7 2zM2703 640l-2-1 6-10-2-4 8-4 4 14zM2203 690l8-1 7-14-16 2-4 6zM2285 693l-28-10-11 18 3 4 8 0 12-6 14 11zM2410 699l-9-1 1 7 3 1zM2509 707l-5-2 1 3zM2542 715l9 4 4-14zM2327 738l12 2-2-17 2-16-20 18zM2241 751l8-12 0-8-2-1-13 1 0 6zM2550 777l-7-2-11-6 1-1 10 3zM2321 787l1-2-3-2-1 2zM2493 883l-14-8-14-2-1-2 7-14-3-10 13-34 1-16 17-7 2 2 2 9 0-12 28 10 3 12-4 24 2 4-1 5-24-16-2 1-8 28 5 12zM2010 805l-5 2-2-2 6-2zM2247 833l16 1 6 2 8-5-3-10-5-6 1-6-9 3zM2350 837l-3-5-20-8-4 3 9 16 13 1zM2747 888l8-9 0-34-12-8-24 8-18-8 15 16 15 34zM2181 862l8-1 2-6-6-1zM2271 905l1-4-24-24-4-8-15 0 5 12 26 18-1 7zM2062 875l23-6 26 14-44 15-2-1zM2411 892l14-5 3-10-9 0-6 6zM2371 918l-7-23 0-4-7-1-7 5 7 25zM2238 973l15 7 7-7 9-25 12 3 12 22 4 3 6-1 5-6-17-28 19-16 5-12 2-12-2-2-6 2-3 8-25 25-12 1-16-4 1 10-13 20zM2418 919l-11-20-7 12-21 12 30 4zM2169 935l1-14-7-15-7 19zM1963 960l2-31 11-20 39 9-20 28zM2045 926l-6 0-14-7 10-2 8 4zM2441 947l3-6-7-6-4 6zM2135 952l2-3-9-8-1 8zM2404 967l-1-2-23 2 23 5zM2107 1027l-20 4-9-12-7-21-18 1-10-4-5-6 3-12 12 6 24-2 3 6 17 10 11 20zM2685 985l-6-2-26 2-12-7-23 11-4 20 17 19 26-1 14 5 1-1-1-18 14-16zM2381 1009l1-2-5-2 0 4zM2241 1021l8 3 14-7 22-4-20-5zM2431 1029l-5-20-9 0 1 10zM2581 1048l14-9 15-4-7-23-14 4-20 21zM2271 1103l16-16 20 9 10 0 18-9 20-6 0-20-18 4-14-4-2-29-2-5-6-2-3 12 1 24-2 3-10-3-21 4zM2189 1037l-4-6-21 8 13 3 10 10zM2108 1171l9 10 8 1 8-3 8-8 2-5 20-6-5 11 7 8 16 5 16 8 16-5 4-13 14-1-9 20 13 17 7 3 6 26 3 0 14-9 6 5 5 12 15 9 10-1 13-8-10-10 10-12 21-11 24 21-7 8 13 6 6-1 10-7-8-4 15-14 3-6 6-2 0 6 10 6 14 4 20-4 6 10 4 0 10-6 5-8 3-29 34-1 8-4-4-2-2 2-4-4-30-12 0-2 12-15 14 1 8 27 11-25 3-26 18 4 6-4 0-28-2-2-12 1-5-5 1-22-16 18-19 12 1 16-1 2-11-12-3-6 3-5 1-29-4-10-7-27-34-5-2 1-1 33-5 4-10 0-22 8-20-8-1 12-14 6 2 10-3 15-18 7-28 4-4 4-6 13-9 9-23 7-18 9-16 0-22-10 2-26-6-10-6 2-17-6-1-23-17 17-5 14 5 22-1 1-28-3-26 12zM2091 1119l30 2 4-16-4-26-19 24-16 12zM2445 1122l-22 6-23-19 12-26 23 8zM2254 1149l25-10 22-18-1-2-12-6-17 0-4 3-18-3zM2411 1169l-21-2-1-16 6-15 24 0 1 7zM2099 1165l1-8-9-4 0 11zM2250 1193l9-14 26-7 8 19-20 16-14-5z"/>
<path fill="#aaaaaa" d="M2921 1361l-1142 0-1-1116 1143 0zM2016 1089l13 11 24-14-2 23-4 8 2 1 36 0 4 3 34 2 4-18-4-30 7-16 0-12 17-6 3-4-4-16-6-8-6-18-4-16-13 1-10-4-12-7-1-8 9-12 1-6 17-13-5 17 15 7 4 0 5-5-19-20 1-30 5-7 32 14-4 21 14 11 2-3 0-18-6-12-19-20-1-8-34-5-21-17-3-16 11-4-9-6-6-15-29-5-1-2 38-16-2 6 36 6 4-20-7-10-13-32-4-22-18 5-4-1 24-12 5 4 7 19 30-3 9 18 7 6 14 7-1-15 5-30-28-12-1-2 7-14 24-38 16-8 14 6 10 20-24 5-5 11 7 8 10-1 22-43 8-4 10-1 4 9-2 25-20-3 17 10-9 16 2 6 14 0 10-5 20 17 1-2 0-24-31-12 20-18 30-50 34-1 6 5 7 22-8 12-1 30 2 8 22 4 2-4-2-10 14-14 18-7 14 15 6 14 14 2 2 6 6 4 1 20-4 16-2 16 15 9 8-1 10-18-3-20 3-6-9-22 9-7 14-3-1-24-25 11-18-4 0-7 8-13 6-2 32 6 14-8 1-25-1-6-8-14-41 10 6-16-9-18 46 4 26 32 4 9 7 5-4 32 14 20 1 15 11 7-25 20 20 8 2-1 5-25 3-1 16 13 9 14-7 19-2 0-4-1-26-1-21-17-4 26 2 12-25-7-24-14-2 1 5 22-1 24-18-11-10 4-16 3 18 10 23 2-25 19-8 11 10 32 3 20 6 10 13 3 17 13 4 12 1 14 6 9 21 11-17 14-12-1-16-6-12 17 10 7 12 2 14-5 2 1 0 31-7 10 8 4 9 8 2 0 2 6 24 8 14-1 8-13 18-14 1 2-16 16 14 14-2 6 3 0 0-6 14-10 18-4-8-27-18 5-1-2-14-6 13-11 2-5 25-8-12-24 21-7 19 21-25 14-3 22 19 21 24 0 14 7 12-6-7-4-1-14 9-12 6-4 1-10 42-1 8-7 2-8-9-14-1-14 18-7 5-5 1-6-4-12-32-1-12-9-14-14-26 15-20-3-1-22-5-16-22-17-3-15 7-16-5-2-9-13-12 13-28-8-7-18 1-2 46 1 8-4 16 23-3 6 7 8 18 1 14-11 18-6 18-20 16 40 18 5 18-15-20-16-8-14 5-6 9-4 14 7 0-21-6 1-8-7-24-7-6 7-6-14-14-5-11-13 10-16-9-4 12-1 4-6 1 5 5 1 42-3 11 4 3 3 10 0 4-7 0-9-19-1-2-22-15-8-8 2 0-8-2-7 26 3 0-8-10-12-14-8-6-7-41-1 0-32-3-2 0-4 3-6 0-60-29-4-10 1-5-9-21-19-76-1-1-30-14-30-11-5-18-2-14-4-32 0-10 10-2 9 4 6-13 26-37 40 11 30-6 20 0 14 17 2 26 10-12 14 8 12 3 12-19 6-8-21-31-11 0-6-9-10-29-20-14-34 7-12 16-14 18-10 5-6 27-18-17-20 2-4-3-1-14-14-12-6-14-1-18 6-4 7-21 3-1 52-99 2-5 20 2 6 6 2 22-3 7 19-7 10-12 8-8-2-26 8-5-42-14-20 1-4-10-3-6 1-8 4-4 6 2 20-20 21-2 6-6 0-12 7-8-9-2 11-42 2-2 13 18 5 5 6-1 18-17 14 0 24 13-15 20 7 6 18 0 18-12 17-16-3-5-8-6-30-25-7-6 0-8 3-41 10-10 26-2 12 5 22 8 17 0 4 4 1 15-18 16 0-5 10-24 15 0 21-8 9-21 3-1 64-23 2 5 16-1 2 19 2 1 28 10 4 0 2-10 20 0 82 67 2 1 26 9 22 0 3-9 5zM2313 447l22-6 33 6-25 16-8 2zM2490 453l-7-2 4-5zM2449 512l-14-9-15-14 7-10 28 5zM2115 520l1-27-13-4-5 10 6 2zM2555 599l-10-3-17-13-15-6-9-12 1-14-18 3-14-1-24 14-2-22 8-24 22-15 12 4 18-10 4 15 26 24-11 10-5 16 20 8 10-4 10 14zM2557 557l1-22 29-16 2 18-14 12zM2147 609l-12-20-6-30 6-2 5-8 9-23 16 1 13 20 0 2-13 8-22 4 20 16 10 4 1 2-3 18zM2271 570l4-27 6-7 10-5 19 2 3 20-1 12-15 9-14 1zM2275 623l-12-2-5-10 1-24 6-8 2 8 10 4 6 16zM2564 651l15-24 5-2-2-4 4-14 9-10 0 30 22-8 18-30 18 12-17 28-6 30 5 13-16 5-18-12-10-3-10-1zM2147 669l-33-8-8-24 23-20 14 0 4 28 14 8 0 2zM2184 631l-10 0-6-6 11 0zM2655 701l-12 7-18-7 0-17 16-6 16 11zM2518 713l3-8-12-3-10-6 5 17 11 1zM2405 709l7-10-1-2-10 0 0 8zM2325 743l16 1-3-21 3-20-25 22zM2749 723l8 0 0-16-9 14zM2045 763l-21-10-5-10-14 15-2-1 8-16 4-26 6-7 4 4 30 1 13 16-13 8-7 8zM2241 757l11-16-1-13-16 1-2 2 0 8zM2669 808l-14-11-8-2 12-14 10-18zM2324 787l-1-6-9 2 5 8zM2151 795l0-5-3 3zM2527 837l-19-12-1-33 24 9 2 12zM2242 835l21 1 8 3 9-6-4-16-4-4 3-10-16 6-4 10zM2491 878l-10-6-11-3 5-10-4-14 14-38 4 0 1 8 13 12-9 32 4 8zM2010 859l-2-10 9-4 15-14 3-14 10-6 34 10-8 16-24 28-17 12-11-7zM2345 847l8-12-6-6-20-8-7 8 8 14zM2180 825l-18-2 3 5 8 4zM2748 889l10-12-1-32-16-11-22 5-18-8-8 0-1 2 23 21 6 19 9 16zM2178 865l13-3 3-7-9-3-7 7zM2271 909l4-6-24-26-5-10-20 0 5 14 25 18-3 11zM2065 877l18-5 23 11-38 14zM2356 929l17-2 4-2 32 4 12-10-12-24 18-6 5-14-13 0-8 6-14 28-20 12-11-26 1-6-8-2-11 8zM2528 947l0-16-13-12-2-10 6-20 2-1 12 8 8 1 6 5 2-2 12 5 30-16 11 2-1 22-12 3-18-2-8 5-12-12 9 10 1 4-9 14-9 9zM2237 974l18 9 7-10 9-21 10 3 12 19 4 4 6 0 8-9-8-11-9-17 18-16 5-10 2-20-12 2-4 12-23 24-11 1-21-7 3 14-12 19zM1967 953l0-24 10-18 32 8 1 2-17 23zM2674 939l-15-9-3-5 1-5 8-4 7 5zM2441 950l6-9-4-6-8-4-5 10 5 6zM2695 943l5 22-7 16-40 1-12-9 10-17 30-6 12-11zM2555 997l-8-15-22-2-8-9 10-18 22 6 14 14zM2406 967l-3-6-32 1-2 3 2 5 28 4 4 3zM2105 1026l-18 2-9-11-7-24-20 2-6-2-4-4 2-8 8 4 24-1 2 3 18 11 11 17zM2377 1015l6-3 2-5-8-4-5 4zM2236 1021l11 6 16-8 30-4 1-2-21-7-10 0-10 7-8 1zM2088 1165l3 4 10 1 16 15 14-2 11-10 3-4 10-3-1 7 9 10 8 2 22 13 26-7 14 20 6 4 6 24 8 3 14-8 6 15 16 10 10 0 12-6 6-6-10-10 8-10 18-10 22 18-11 10 21 8 8-1 12-11-9-4 17-17 13 7 15 4 18-2 8 13 6 1 10-8 7-12 1-26 34-1 7-7 1-3-7-1 11-24 4-26 16 4 8-4 1-34-13-2-2-2 0-10-4-12-2-1-18 19-24 14-2-2 2-38-10-37-2-2-36 0-8-22-12 1 2 4-1 10 11 10-4 34-22 9-4 0-26-14-10-2-24 5-12-3-4-34-2-3-10-4-1 38-1 2-30 3-9 47 21-19 16 8 12 0 16-8 24-6 3 15-3 12-16 6-34 5-18-10-44-2 8 43 26-11 26-21 1 2-21 23-34 16-14-1-20-9 1-23-7-11-8 2-13-5-1-28-21 22-5 16 5 16-1 3-26-3-29 14-7 16 1-14-17-9zM2190 1057l1-20-6-7-28 9 18 6 14 14zM2103 1065l-14 6-10-1-10-5 16-14zM2085 1113l2-21 10-2 22-12 0 1-18 24zM2443 1120l-20 5-19-16 11-23 18 5zM2409 1167l-18-2 0-14 4-13 22 1 0 6zM2501 1183l-28-12 10-13 11 1 2 2zM2252 1193l7-12 22-7 8 17-18 14-12-5z"/>
<path fill="#b1b1b1" d="M2921 1361l-1142 0-1-1116 1143 0zM2031 1102l18-11 1 2-1 18-5 8 1 2 38 0 2 2 40 1 4-19-3-24 2-12 5-10 0-10 18-6 20 4 20 20 3-30-7-8-32 9-2-1-5-16-7-10-10-34-16 1-8-3-11-8 1-6 12-14 18 9 8 1 8-6 0-2-8-6-11-14 4-30 3-3 24 13-3 18 19 14 2-24-6-12-18-20-2-10-36-4-20-16-2-16 16-4-14-10-6-20-7-6 7-3 30 7 12 0 4-22-5-6-13-34 0-13 4 11 32-5 6 13 8 8 18 10 1-2-2-16 7-31-31-13 5-12 26-40 14-6 12 5 7 17-19 4-8 14 10 11 12-1 10-19 22 13-7 14 2 6 19 0 8-4 18 16 14 17 6 2-1-7-5-10-2-28-36-16 18-15 29-49 3-1 26-1 9 8 6 18-10 12-1 30 4 13 16 0 10 3 5-4-4-14 13-13 16-5 18 32 14 0 9 6 0 24-8 22 2 6 17 11 10-4 7-11 4 18-1 19-16-9-10 6-22 2 22 13 19 3-19 15-10 13 11 34 3 21 6 9 16 4 13 10 5 16 0 10 7 10 18 10 0 2-15 10-10-1-16-6-14 19 12 9 14 2 12-5 1 26-10 14 1 2 10 4 10 12 28 9 14-1 8-8 13 12-3 8 12 2-2-10 14-9 18-5-8-28 2-2 22 26 20-1 16 11 12-7 4-7-7-4 0-14 9-10 5-2 1-8 1-2 41 0 8-6 4-8-11-18-1-12 6-4 12-4 6-5 1-9-6-12-33-2-26-24-27 16-17-2-1-20-5-17-22-16-3-13 9-23 10 11 20 1 16-13 14-4 16-18 16 38 16 6-16 2-24-6-5 4-1 4 8 2 17 18 7 24 6 10 20 2 10-8 2 3 1-3 0-36-21-16 21-16-1-14-2 8-20-15-6-11 4-4 8-3 16 8 1-1 0-24-1-2-6 2-12-11-22-7-4 2-4-6-17-6-8-10 13-19 18 0 28-3 10 4-9 14-16 8-6 6 36-4 1-18 14-4 6-8 0-6-4-6-17 0-1-2-1-18-24-14 24 2 0-16-11-14-14-8-4-6-38 0-4-2-1-28-4-2 0-4 4-8 0-60-1-2-6 3-26-4-8 0-3-7-23-22-73 0-1-2-1-28-13-32-10-4-22-2-12-4-34 0-8 5-4 5-2 10 3 8-12 26-16 20-21 20 10 32-4 18 0 16 14 1 27 11-10 12 8 12 3 12-16 4-3-10-7-12-24-9-20-21-22-14-13-34 5-10 7-4 11-10 16-9 6-7 18-11 8-9-17-22 3-2-4-5-22-18-12-2-14 1-12 6-6 7-22 3 0 48-2 4-96 0-6 24 2 6 10 5 20-2 6 15-6 9-10 6-12-2-22 7-6-40-12-18 5-8-1-1-2 2-20-2-8 3-6 8 2 8-1 12-17 17-1-29-9-8-10 0-3 6 1 8 7 4 11 23-16 10-10-11-4 16-38 0-5 8 1 11 20 6 1 3 0 16-17 16-1 24-27-4-8 3-2-1-40 7-5 3-9 28 0 14 6 30 13 18 1 22-8 8-16 0-5 2-1 62-2 2-20 0-3 6 5 14 0 6 18 0 2 2 0 134 4 2 62 0 2 2 0 102zM2318 449l1-2 16-5 29 5-21 14-6 2zM2447 509l-12-7-13-13 7-9 23 5zM2554 595l-7-1-15-11-19-8-7-8 1-17-20 3-16-1-20 13-3-20 7-20 22-15 10 3 10-7 10-4 3 13 13 14 12 10-10 10-4 18 22 8 8-3 8 11zM2559 554l1-19 25-14 2 16-12 10zM2149 605l-9-16-6-28 8-12 9-21 14 2 10 19-12 8-23 4 22 18 9 4-2 16zM2273 567l4-24 4-5 10-5 18 4 0 26-12 8-10 1zM2531 711l1-8-20-4-17-10 6 26-25 0-9-22 8-6 13-2 2-2-3-28 18-12 1-28-2-6-9-14-36 9-2-1 5-12-7-16 42 4 24 30 4 10 6 4-3 32 13 22 1 18 4 4zM2274 621l-9-1-5-9 3-21 12 4 5 15zM2568 651l14-22 13 1 22-9 18-31 16 11-17 28-7 30 5 10-1 2-14 3-14-9-12-5-8 1zM2075 668l-14-3-3-4-6-26 2-6 11-15 16 5 6 16 0 15zM2147 668l-29-7-8-24 19-18 14 1 4 28 12 7zM2253 675l-24-8 7-16 9-5 7 1 3 6zM2444 665l0-6 6-10 7-3 29 7 1 2-26 14zM2653 699l-10 6-14-5-1-15 13-4 13 8zM2405 711l10-15-15 1 1 10zM2323 747l18 2 2-2-4-24 4-24-29 26zM1996 701l-3 4-2-2 2-2zM2583 725l-6 14-26 0-15-12 17 5 8-30 16 13zM2355 722l1-1 1-12zM2043 759l-18-8-6-12-2 1 4-25 32 0 12 14-10 5-10 11zM2521 761l-22-6-23-14 2-20 25-3 20 3-4 28zM2241 762l15-21-1-14-23 2 0 10zM2233 763l-24-2-23 4 25 1zM2667 803l-16-10 16-24 1 6zM2325 791l2-4 0-7-8-2-7 3 7 13zM2151 814l5-17-2-8-3-4-6 2-4 10zM2614 789l-21 21-24-7-5-16zM2527 834l-17-11-1-24 2-3 18 7 3 10zM2234 837l29 0 8 4 11-6-3-19-5-5 5-14-22 9-4 13-12 14zM2027 875l-14-14-3-10 9-5 15-15 3-11 8-6 22 21-18 20-6 10zM2489 872l-13-5 3-6-5-18 11-28 15 14-8 30 1 8zM2186 823l-11 0-23-4 5 11 14 6zM2337 864l19-29-6-8-21-9-7 5-6 8 9 14 16 4zM2175 867l16-2 5-10-11-4-9 8zM2273 912l5-9-7-10-16-14-7-14-25 0 5 16 24 18-5 16zM2345 936l16 1 8-1 8-8 4-1 28 3 14-11-9-22 16-8 5-17-16 0-11 9-13 26-18 11-9-23 1-9-10-1-14 10 6 34zM2067 879l16-5 18 9 0 2-30 10zM2235 975l22 10 7-10 9-19 8 2 14 21 9 0 9-12-10-12-7-12 19-17 6-23 0-13-16 4-4 15-22 24-8 0-27-10 3 18-10 17zM2541 938l-8 2-1-9-15-14-2-10 6-16 12 7 6 1 2 13 10 12zM2599 914l-10 2-20-4-6 2-6-7 7 0 27-16 10 2zM1969 949l0-20 8-15 27 7 1 2-14 19zM2663 927l-3-2 1-2 2 0zM2443 954l7-13-5-7-12-6-7 13 7 8zM2696 965l-5 13-36 2-11-7 9-15 28-5 10-6zM2405 983l4-18-4-6-30 1-6-5-2 10 3 8 27 5zM2555 993l-6-12-24-2-6-8 8-15 24 6 10 11zM2615 983l-13-22 19-5 16 17zM2064 989l-17 1-3-3zM2575 1005l14-13 23-5-3 19-2 2-18 3zM2103 1024l-14 3-9-10-7-28 22 12 9 14zM2377 1020l8-5 2-8-12-6-7 6zM2085 1169l4 3 10 4 18 13 14-4 18-13 12 14 28 17-1 2 5 4 0-6 24-8 18 22 8 24 8 5 14-7 4 12 20 11 20-3 16-12-7-2-8-8 7-9 14-8 18 15-10 10 10 7 14 4 10 0 9-7 7-8-9-6 15-13 26 10 16-2 6 9-2 6 16 3 8-9 7-14 1-24 1-2 33 0 6-6 1-6-5-4 9-20 3-24 16 3 8-3 3-4 0-36-12-4-8-22-5-1-4 1-14 18-20 11 1-39-11-32 7-6-11-4-4 3-30 1-8-21-17 1 4 6-2 12 8 8-4 34-15 6-30-14-18-1-18 4-12-3-4-37-46-16-12 0-8 6-10 0-16 9 18 11 18-9 40-5 0 37-30 8-9 46-23-2-3 2 9 48 3 2-17-1-17-7 1-20-8-13-8 3-11-4-1-47-5 19-19 21-5 17 3 16-20-2-36 15-22-10-2 3zM2100 1065l-13 5-9-1-6-4 13-11zM2087 1109l2-15 8-1 16-10 1 2-14 18-11 7zM2360 1099l-3 10-14 6-36 4-16-8-20 0 18-18 16 6 12 1 14-7 26-6zM2441 1118l-16 4-18-15 8-18 18 4zM2409 1165l-16-2 0-12 4-11 17 1 1 6zM2497 1180l-22-9 10-11 9 3zM2253 1191l8-10 18-4 7 14-15 12-10-4z"/>
<path fill="#b9b9b9" d="M2921 1361l-1142 0-1-1116 1143 0zM2287 1265l8 1 14-4 21-13 0-2-11-4-6-6 4-6 12-7 15 11-11 12 16 10 14 3 10 0 13-9 4-10-8-6 13-11 26 9 14-1 5 7-5 8 12 5 14 1 6-8 8-18 1-24 31-1 8-5 3-12-7-2 8-18 4-24 14 4 14-8 0-42-14-4-8-22-12 1-13 17-16 8 1-34-11-28 11-8 12 4 12 13 6 0 20 7 16-1 8-6 9 9-4 12 21 1-3-13 12-8 20-4-5-25 18 21 17 0 9 9 8 4 14-6 4-5 2-8-1-4-6-2 0-12 7-8 8-3 2-8 40-1 10-6 5-6 0-4-15-20-1-10 21-7 5-5 1-8-6-16-2-2-34-1-22-21 24 1 6 6 20 0 8-6 2 4 2 0 4-5 0-40-19-12 15-13 4 3 0-68-8 2-14-14-21-6 33-6 10 0 1-20 12-2 12-12 0-4-7-10-19-2-1-16-5-4 5 0 0-26-11-16-13-7-6-5-41-2-1-28-4-1-1-3 5-8 0-64-2-2-10 5-30-3-3-6-22-20-1-5-72 0-2-27-10-32-12-7-38-6-34 0-8 4-6 7-3 12 4 8-12 26-15 20-21 20 9 34-3 32 1 2 12 1 25 11-8 10 9 14 2 9-12 3-10-22-24-8-22-22-19-12-13-34 3-8 11-6 8-7 16-9 9-10 25-18-18-24 2-4-8-12-18-12-20-2-20 7-6 8-25 1-1 53-97 1-5 24 4 11 14 5 16-2 4 14-4 6-10 6-14-4-18 6-2-2-4-36-10-14 5-10 4-4-7 2-24-2-10 4-7 10 3 8-1 8-13 15 0-27-12-8-12-1-4 7 1 10 3 5 6 2 9 19-13 9-13-13-2 2-1 17-38 1-7 8-1 8 4 8 20 6-1 16-16 14-1 24-24-3-6 2-4-2-44 6-5 3-9 32 0 16 6 28 10 15 6 5 1 18-7 7-16 0-9 5 0 60-23 1-5 9 6 12 1 10 20 1 1 3 1 133 67 3 0 100 21 17 16-8-1 15-7 12-5-2 3 3 42 0 3 1 1 6 6-6 36 2 6-22-2-20 7-34 15-5 20 4 14 17-3 22-16 18-6 18 3 14-18-2-30 14-10-2-22-11 0 35 28 18 6 1 14-4 16-13 16 17 20 12-2 3 4 2 8 1 2-1 0-4 20-7 18 21 10 27 6 5 14-7 4 10zM2321 449l14-5 21 3 2 2-21 12zM2445 506l-10-6-11-11 5-7 20 3zM2553 593l-40-19-5-7 1-18-22 4-18-2-16 11-3-17 5-16 24-16 8 2 18-11 4 12 24 23-8 9-6 19 26 10 6-3 6 9zM2561 551l0-16 22-12 1 14-9 8zM2139 559l14-28 10 2 10 16-10 7zM2287 569l-12-6 4-21 10-7 16 3 1 23-9 6zM2166 597l-16 4-6-12-4-24 28 20zM2539 698l-24-2-20-13-2-28 13-10 1-34-10-17-36 8 3-11-5-14 38 4 7 6 15 22 4 10 6 6-4 30 14 22zM2571 651l12-18 12 0 24-11 16-29 14 8-17 28-7 30 3 10-11 3-15-9-19-4zM2273 620l-8-2-4-7 4-16 9 4 4 10zM2313 724l-2-1-7-28-38-16 16-14 31-50 24 0 10 7 6 17-13 10-1 32 3 16zM2071 667l-8-2-3-4-4-18 3-14 10-11 12 4 4 13 0 10-4 10zM2147 667l-25-6-7-24 16-16 10 0 6 29 10 6zM2245 1153l-12-1-14-7 1-16-9-15-8 3-10-4-1-18 3-6 1-20 17-4-2-2-16-2 1-24-9-11-32 9-5-14-9-14-9-32-17 2-8-4-8-6 0-4 10-12 14 8 12 1 11-9 0-2-11-8-9-12 5-29 22 12-3 15 15 13 8 4 2-15 0-14-6-10-18-20-2-12-38-4-19-14-1-14 20-4 1-2-19-12-6-22 2-2 38 6 6-26-12-28 0-10 27-4 5 10 8 8 24 16 28 0 28-5 18-23-1-18-25 1-2 13 7 18-1 3-34-3-18 4-2-14 7-32-1-2-18-5-12-7 30-50 10-5 11 5 6 14-15 3-10 15 12 15 14 0 8-15 17 10-5 10 2 8 22 1 8-3 14 12 18 24 14 4 2-6 4 8 20 1 2 4 2-1-4-32 4-26 18 5 20-5 16 0 2 11 4 4 14-15 16-1 7 3 0 24-9 25-18 5-16 0 38 0 18 10 10-3 4-8 2 1 2 12 0 15-12-7-12 7-27 3 27 15 16 1-16 12-12 16 11 36 3 22 4 6 20 5 10 9 8 27 8 12 14 9-12 9-10-2-18-7-15 22 15 10 14 2 10-4 1 22-11 14-18-4-8 7-24 0-8-20-20 1 3 8-2 14 5 6-5 36-5 2-30-15-24 0-18 4-8-2-6-41-14-6-4 1-26-8-14 0-8 5-12 0-22 12 24 13 20-9 38-4-1 30-27 8-10 46-24-2-5 6 3 6zM2253 671l-20-6 5-12 7-4 6-1 3 5zM2445 663l6-12 6-3 26 7-24 12zM2383 695l-5-18 9-9 14-6 6 11-8 22zM2649 699l-6 4-11-4-2-2 0-10 11-4 9 6zM2497 711l-20 0-8-18 8-6 13 0 5 14zM2690 719l11-15 40-3 9 4-7 11-16 8-12 11-18-6zM2575 738l-21-1 9-30 12 9 5 9zM2355 723l2-2 0-13-4 13zM2027 750l-7-11 5-22 28 0 8 10-9 6-10 12-1 10-2 1zM2518 759l-19-5-19-11 1-18 20-3 18 2zM2667 800l-13-7 13-20zM2319 797l8-3 3-5-1-12-10-2-11 6zM2753 803l-16-12-4-6 2-4 6-3 15 7zM2171 841l20-20-16 1-19-5 4-14-2-14-5-9-10 2-10 21 15 28zM2606 791l-15 16-2 1-18-6-5-13 15-1zM2230 839l11 2 22-2 10 5 13-9-5-22-3-4 5-12-1-4-5-4-2 6-20 8-5 16-9 12-12 6zM2651 897l-2-18-6-20-22-16-2-10 8-17 10 7 22 1 18-15 11-4 13-14 15 36-23-2-7 8-1 6 14 2 13 14 7 26-26-1-28 19zM2527 830l-14-9 0-21 16 6 1 7zM2231 975l26 13 10-13 6-15 8 1 14 20 10 0 11-12-18-26 19-16 6-26 1-12 23-34 5-4 1-8 6-10-7-8-23-10-16 18 9 14 12 2-14 36-18 6-3 18-20 22-8 0-30-12 32-3 8-11-10-15-13-11-9-18-12 3-16-1 6 20 21 16-8 18 3 26-8 13zM2027 873l-8-6-6-8-2-6 25-22 3-9 6-4 17 15-13 16-8 14zM2487 867l-5-2 1-4-6-20 10-22 10 12-8 34zM2172 871l21-4 5-12-13-6-12 12zM2385 868l0-9-6-4-1 8 3 4zM2333 942l32 2 14-13 8-1 22 2 16-13-4-10-2-12 13-6 6-20-1-2-18 0-14 12-12 24-14 8-2-1-7-17 2-10-13-2-17 12 5 21-1 13zM2070 881l13-5 16 9-26 9zM2600 897l-2 16-9 2-22-4-1-2 25-15zM2538 933l-19-17-2-9 6-12 15 8 0 22 2 4zM1971 946l0-17 6-11 24 5-12 16zM2443 958l9-17-7-10-14-6-8 16 8 10zM2405 989l7-24-7-9-30 1-8-8-2 16 4 12 28 6zM2647 973l0-2 8-12 18-4 8 1 8-5 4 14-6 11-30 2zM2615 981l-11-18 15-5 13 15zM2555 989l-6-9-24-3-3-6 5-10 26 4 8 10zM2579 1003l10-9 14-4 3 1-2 14-15 3zM2101 1022l-12 3-7-10-5-23 18 11 7 12zM2375 1025l12-7 3-11-17-8-10 8zM2095 1065l-10 4-9-2-1-2 10-7zM2089 1107l2-12 6 0 12-7 0 1-10 14-8 5zM2359 1099l-2 9-30 8-22 1-14-7-14-1 14-13 12 5 16 0 12-6 26-6zM2439 1115l-14 4-14-12 7-16 13 4zM2407 1163l-13-2 3-18 15 0 1 4zM2493 1177l-15-6 7-9 7 3 2 10zM2255 1191l6-8 16-4 5 12-13 9-8-3z"/>
<path fill="#c1c1c1" d="M2921 1361l-1142 0-1-1116 1143 0zM2247 1256l12-7 6 10 26 10 16-2 28-11 18 6 20 3 12-6 7-8 4-12-11-4 10-10 28 9 12 0 3 5-7 8 0 2 16 7 18 2 5-7 8-24 1-22 30-1 11-7 0-12-7-4 7-14 3-22 16 3 10-5 5-6 0-44-15-4-10-23-14 1-12 17-12 5 2-28-5-8-7-20 10-5 8 3 12 14 10-1 18 6 18-1 4-4 8 6-6 14 2 1 26 0 1-1-3-14 10-7 22-5-4-14 2-1 10 12 14 1 14 14 6 2 23-12 2-16-1-2-6-2-1-10 7-7 8-1 2-8 38-1 14-6 6-5-1-10-7-4-10-14-1-8 5-4 12-3 2 2 8-7 1-10-7-20 0-5 0 3-38 0-15-14 3-2 12 2 6 4 24 0 6-4 2 10 9-14 0-40-7-3-11-9 13-10 4 7 1-1 0-74-1-2-8 2-18-18 26-2 2-22 12-1 10-9 4-8 0-9-10-6-18-1-1-44-10-20-21-11-40-1-1-28-7-2 7-10 0-62-5-9-3 7-7 4-30-5-2-3-21-20-3-7-70-1-1-26-9-34-8-5-46-6-34 0-9 3-5 6-6 16 5 6-12 28-15 20-21 22 5 14-1 8 6 12-3 14 0 18 9 2 26 12-5 8 9 14 2 6-1 2-8 2-10-21-26-10-22-21-16-10-13-34 3-7 34-19 9-12 13-8 13-12-18-24 4-4-12-16-17-11-20-2-20 5-10 11-16 1-4-3-5 3-1 52-98 1-3 27 4 12 17 7 14-1 3 10-11 10-18-5-14 4-2-1-4-33-8-13 7-12 4-4-1-1-40 1-6 2-10 11-6 2-16-8-14 0-4 9 3 18 9 2 7 16-9 7-12-13-6 4 0 16-38 1-6 5-4 6 0 10 4 8 20 6 0 12-17 16-1 22-20-2-6 2-2-3-50 5-4 1-3 5-7 32 2 28 2 12 12 20 8 6 1 14-5 6-16 0-11 6-1 60-22 1-11 11 8 8 2 6-2 4 3 6 20 1 2 3 1 134 67 2 1 102 5-2 20 18 11-6-1 10-4 9-8-5-2 2 6 9 44 1 0 46 8 10 24 12 8 1 14-5 14-13 8 9 6 9 15 9 0 2-2 2 5 6 6 3 12-6-1-5 19-6 16 22 7 20-1 4zM2324 449l13-4 18 4-18 10zM2443 503l-8-5-10-9 5-6 16 4zM2123 509l-1-16 2-6 3-2 4 4 1 10zM2552 589l-3 1-10-7-25-10-4-6 1-19-24 4-18-2-14 9-3-14 5-14 24-15 6 1 10-8 7-2 4 10 23 22-7 8-5 22 26 9 6 0 4 5zM2563 548l-1-13 19-10 0 12-7 6zM2142 557l11-22 10 1 8 13-10 6zM2289 565l-8-2-5-4 3-16 8-6 13 2 3 20-8 6zM2163 595l-11 2-4-8-3-16 2-1 17 13zM2535 695l-18-2-13-8-6-8-1-22 11-8 2-34-11-20-36 6 3-8-5-10 2-1 36 3 19 26 4 12 4 4-3 30 13 24zM2574 651l11-16 8 1 26-12 18-30 10 7-18 28-7 30 3 8-10 2-10-6-20-5zM2271 618l-5-1-2-4 1-13 8 3 2 6zM2317 717l-5-20-11-7-30-11 0-2 12-10 30-49 20-1 12 8 6 14-14 10-2 32 3 16zM2069 665l-8-4-3-14 6-18 7-8 9 4 2 14-6 18zM2147 666l-21-5-7-26 14-12 8 0 6 30 8 4zM2241 1148l-10-1-10-5 0-13-10-16-10 3-7-3 0-14 5-6 1-22 23-6 2-2-2-4-24 0-1-20-11-14-30 8-4-12-11-14-9-34-20 2-11-6 0-4 7-9 12 5 14 1 15-11 0-2-15-11-8-9 4-22 2-2 18 10-4 12 16 14 10 6 1-2 3-16 0-15-24-31-1-12-45-6-14-10-2-10 1-2 29-6-25-16-5-20 36 6 0 16 4-5 10 16 28 12 27-27-21 2-12-2 2-10-3-18-7-16-16 3-4 8 0-9-6-14-1-20 19-4 4 8 10 9 11 7 9 11 6 1 28 0 26-4 21-26-1-20-2-2-26 2-3 2 0 12 5 18-34-3-14 2-2-11 8-32-22-8-10-6 28-46 10-5 8 3 5 12-13 2-10 20 14 16 16-1 6-10 12 6-4 9 4 9 32-2 10 9 20 30 16 4 22-1 2 13 14-3-2-9 30-2 0-6-35 2-4-26 5-21 8 3-3 18 5 0 2-17 16-2 10-4 14 0 2 10 6 4 10-13 6-3 17 1 2 10-1 14-8 22-16 2-4 4-14 0-2 4 2 7 8-4 32-1 14 8 12-3 4-8 2 11 0 11-8-5-14 8-26 0-8 4 6 10 14-2 14 8 10 2-10 8-14 18 11 38 3 22 4 6 22 5 8 7 8 28 9 12 12 8-11 7-28-8-15 23 13 10 18 3 8-3 1 18-9 11-20-5-8 10-20 0-10-20-22 2 4 8-3 18 2 4-5 34-26-14-32 1-14 3-8-2-6-42-14-6-6 1-22-6-16 0-6 3-14 0-12 7-10 1-8 8 32 16 18-9 34-4 2 1 0 24-27 8-7 43-16-2-10 2-8 9 5 8zM2251 667l-14-4 4-10 6-3 4 0 2 5zM2447 663l4-10 6-4 21 6-19 11zM2385 692l-5-15 9-8 12-4 4 8-6 18zM2647 697l-6 3-7-3-1-8 8-3 7 5zM2493 707l-14 0-7-14 5-4 10-2 5 12zM2693 719l10-13 36-3 6 2-4 8-18 10-8 8-16-5zM2573 736l-17-1 7-25 11 9 5 8zM2028 749l-5-10 3-6 3-14 4-2 18 1 7 9-7 4-12 14-2 8zM2515 757l-16-5-16-9 2-15 16-2 14 1 1 2-2 20zM2319 801l10-5 4-7-1-12-1-2-12-2-14 6 6 12zM2219 839l20 4 22-2 12 5 16-9-8-30 5-10-2-8-13-9-2 13-16 8-5 18-7 9zM2665 796l-8-5 8-12 1 6zM2749 797l-12-8-2-4 2-3 4-2 10 5zM2599 793l-12 12-15-4-4-10 29 0zM2653 895l-2-14-5-18 2-8-7-1-18-13-2-8 6-13 2-1 6 6 26 1 16-15 12-4 10-12 12 28-2 1-16-1-11 10 1 10 18 2 11 12 5 19-30-1-2 8-20 13zM2525 826l-9-7 1-15 11 5 1 6-2 10zM2259 990l11-15 5-12 6 2 12 16 10 3 16-17-14-16-5-8 19-14 3-8 4-30 24-34 6-4 1-12 5-8-7-10-24-11-10 8-11 15 8 12 10 4-14 32-13 4-5 22-19 22-23-8 21-4 8-14-11-16-11-10-10-20-14 3-19-1 6 22 19 16-8 22 4 22-7 12-3 20zM2025 870l-10-9-2-8 6-3 19-19 2-6 5-3 12 11-10 12-10 18zM2487 860l-7-21 7-16 8 8zM2169 873l24-4 7-16-15-6-14 14zM2389 871l-1-16-9-5-3 13 5 6zM2329 947l36 1-1 17 5 16 26 5 10 8 2-1 6-30-8-11-28 3-7-10 9-11 12-2 16 2 21-15-4-22 10-6 7-24-22-1-15 13-13 24-12 7-6-15 2-12-16-2-20 14 3 16-1 20-16 12zM2073 883l10-4 11 6-19 7zM2599 899l-1 12-2 2-7 1-17-3-1-2 20-12zM2535 927l-15-12-1-6 4-11 12 6zM1973 942l-1-11 5-10 2-1 17 5-9 12zM2443 961l12-20-8-12-18-7-10 19 10 12zM2649 971l7-10 31-4 2 10-4 7-28 2zM2557 985l-2 0-4-6-24-3-3-5 4-8 25 4 7 8zM2627 973l-12 6-8-14 12-4zM2583 1003l0-2 6-6 12-2-2 10-10 2zM2099 1021l-10 2-6-8-4-16 2-2 14 9 5 9zM2373 1031l16-9 4-15-22-9-12 9zM2083 1135l8-8 36 2 1-2 5-22-1-16 4-26 5-12 8-2 20 4 11 12-3 26-12 14-6 20 2 10-14 0-30 13-14-3zM2091 1065l-4 3-9-1 7-6zM2358 1099l-3 8-28 7-24 0-10-4-12-1 12-10 8 3 18 1 10-5 26-7zM2092 1105l1-8 10-4 1 2-5 7zM2436 1113l-11 2-10-8 6-13 10 3zM2407 1160l-11-1 3-14 10 0 1 4zM2491 1174l-10-5 4-5 4 1zM2256 1191l5-6 12-4 5 10-9 7-8-3zM2339 1235l-10 9-9-3-4-6 11-8z"/>
<path fill="#c8c8c8" d="M2921 1361l-1142 0-1-1116 1143 0zM2087 1192l24 7 10 0 14-6 6-9 6-3 7 8 7 12 10 6-5 6 8 12 5 2 10-3 10-9 0-8 14-4 18 26 4 14-4 4 4 8 12 7 10-9 6 11 24 7 20-1 28-7 34 6 14-4 12-8 8-18-14-5 8-8 26 9 10 0 2 4-5 6-12-2 21 15 14 5 17 0 10-34 1-20 4-2 26 0 10-4 4-6 0-6-2-8-6-2-1-2 5-10 4-22 12 5 12-5 7-8 1-66 2-4 40 0 7-4-3-4-6 4-2-1-3-13 7-5 25-5-1-10 8 8 8 0 18 19 4 1 28-13 1-3 1-22-8-4-1-6 5-5 6-2 4 8 2-1 0-12 2-2 36 0 22-8 1-8-2-10-11-5-8-12-1-7 13-5 2 6 10-7 4-10-6-30 8-16 0-134-2-1-8 3-13-12 11-2 12 0 0-22 2-2 10 0 13-8 1-24-12-6-14 0-2-2 0-42-10-24-20-8-38 0-4-2 0-100-11-22-15 0 13 14-1 9-4 1-28-4-24-22 0-6 22 2-7-4-9-2-76 0-2-4 0-22-8-36-2-3-16-4-40-3-34 0-10 3-6 5-5 10-2 10 6 6-12 28-16 22-19 20 3 12-2 8 8 16-2 32 33 14-4 4 12 20 0 2-6 2-12-22-26-9-35-29-13-36 2-4 34-17 12-14 23-19-17-26 6-6-14-18-14-9-14-3-20 1-18 7 1 2-5 7-14 1-6-6-8 6 0 48-2 4-144 1-10 2-14 10-22-7-12 1-3 3-1 10 3 22-9 10-1 14-3 2-34 1-9 5-5 8 0 10 8 14 6-1 12 3 0 10-16 16-1 20-23 0-2-3-54 3-6 3-4 9-5 28 1 18 4 1 0 3-3 4 1 10 11 22 4 6 10 6 1 12-6 4-12-3-10 4-6 7-1 56-1 2-22 0-27 20 19-1 6 4 1 5-5 5-2-2-3 1 13 10 20 0 1 2 1 134 4 2 60 0 3 2 1 98 4 3 4-3 20 17 8-3 0 6-4 6-10-7-2 1 1 10 5 7 42 1 3 2 1 46zM2329 449l8-2 15 2-15 8zM2223 531l-22-6-12 3-5-31-6-10 9-16 6-4 2 4-3 22 5 16 22 8 10 1 1 7zM2441 500l-14-11 4-5 13 3zM2125 502l-1-9 3-5 3 3 0 4zM2099 523l-8-8 0-8 10 0 5 10zM2551 587l-36-15-3-3 2-22-27 5-20-3-12 6-1-10 3-9 46-28 3 9 24 24-5 4-8 24 34 12 1 2zM2564 545l0-10 15-8 1 8-7 7zM2146 555l9-17 6 1 7 10-7 5zM2298 559l-9 3-10-6 1-13 7-4 9 2 2 6zM2687 573l4-5 1 1-2 4zM2161 592l-7 1-4-14 12 8zM2533 692l-12-2-9-5-10-14-1-16 8-6 2-36-12-23-32 8-2-1 3-6-3-9 34 3 17 24 8 16-3 30 13 24zM2578 651l9-12 6 0 27-14 17-29 8 5-18 28-7 30 1 7-6 1-10-6-19-4zM2271 616l-4-1-2-2 2-8 5 4zM2323 709l-4-10-15-10-30-12 10-8 30-50 15-1 16 10 4 11-16 10-3 34 3 16zM2067 664l-4-3-1-10 6-20 5-6 6 2 1 10-8 22zM2147 665l-15-2-2-2-8-26 11-10 6 0 1 2 6 26 7 6zM2237 1143l-14-4-1-10-11-18-10 4-5-2 1-10 5-6 1-22 1-2 17-3 13-7-5-8-28 0 0-16-12-15-30 7-4-10-12-17-8-33-22 2-9-4 1-4 6-5 8 4 18 0 16-13-17-14-7-8 4-19 14 7-2 10 28 24 6 2 0-6-2-4 2-30-24-30 0-14-24-4-26-2-11-8-2-8 1-2 26-5 8 7 12-9 28 13 34-34-26 3-7-1 1-6-3-24-9-18-16 2-2-2-3-26 3-2 8 0 14 15 8 5 10 14 8 3 30 0 26-5 22-29-1-23-5-1-29 3-1 14 4 15-36-4-8 2-1-9 9-32-34-12 28-46 8-4 6 4 3 8-10 2-12 22 15 17 20 1 4-6 7 4-2 6 5 10 34-1 21 27 7 13 12 3 12-3 12 1 0 14-2 1-12-2-16 9 14 24 14-4 5-10 1-13 22-3-2-17 26-1 0-12-20 0-6 4-9 0-5-24 4-18 8 3-3 15 5 0 2-14 16-2 12-4 12 0 1 8 7 5 8-10 10-7 12 0 3 2-1 22-6 18-16 2-7 6-12 2-3 4 4 15 12-7 18 0 12-3 12 6 12-3 2-3 2 5 0 6-6-2-14 8-26 0-15 6 10 18 21-4 14 6-19 24 9 36-24 1-18 15-12 21-10 5-4-10 2-14-20-1-21 15 2 10-1 26-16 12-1 2 11 6 32 1-1 13 6 20 25 5 14 10 5 9-6 48-1 2-22-11-38 2-10 3-6-2-6-36 4-6-20-9-8 3-16-5-40 1-10 5-16 3-11 12 15 9 22 9 20-9 33-3-1 18-24 5-7 11 6 4-5 29-28 2-11 13 7 12zM2251 664l-9-3 1-6 4-2 4 2zM2448 661l4-8 5-2 16 6-14 7-10-1zM2387 688l-4-11 8-7 8-3 4 6-6 15zM2803 701l10-6-8-9zM2479 703l-5-10 5-4 7 0 4 12-1 2zM2641 697l-5-2 0-4 5-3 4 5 0 3zM2697 719l6-11 34-2 4 1-3 4-19 10-6 7-12-5zM2571 735l-12-2 6-18 11 12zM2029 747l-3-6 5-10 3-12 15 0 5 6-17 19-2 6zM2512 753l-1 2-10-3-15-9 1-10 14-3 12 1zM2215 843l24 3 22-4 14 6 17-11-8-30 6-10-3-11-22-15-1 20-12 6-6 22-7 9-12 5-8-4-8 10zM2665 793l-5-4 5-7zM2745 792l-6-4-1-5 3-1 5 3zM2593 793l-10 10-10-3-3-7zM2655 893l-6-26 5-12-3-5-12 0-14-9-2-8 6-11 6 5 28 1 17-17 9-3 8-9 2 1 9 21-15-1-14 13-1 12 25 4 8 8 2 14-30-3-3 15-17 11zM2121 832l-22-14-5-15 29 4zM2525 822l-6-3 0-11 8 3zM2259 993l13-16 5-10 4 1 12 15 12 3 17-19-15-17-4-7 18-14 8-38 23-30 8-4 2-20 4-6-11-12-24-9-11 9-13 18 8 12 6 2-13 30-10 4-4 24-17 20-13-4 11-2 11-16-22-28-11-22-18 4-18-4-2 2 7 26 17 14-8 22 4 24-4 8-4 22zM2023 868l-7-7-2-6 31-29 7 7-19 30zM2487 849l-4-12 4-9 5 5zM2765 842l-4 0-10-7 10-8 5 10zM2393 873l-2-23-14-7-2 20 8 10zM2167 877l28-6 8-18-18-7-16 15zM2457 1016l-16 0-8-19-23 0-1-2 7-32-11-14-26 3-6-7 8-8 14-3 12 2 14-10 1 1-6 14 11 14 18 9 13-23-9-13-17-9-4-22 8-4 7-20 2-1 4 21 26 7 6 5 9 28 9 13 10 7-8 5-29-9-16 28 15 9 18 3 6-1 1 13-7 8-20-6zM2076 891l1-8 6-1 6 3-1 2zM2754 899l-1 2-34-1-9-9 9 0 6 3 24 0 4-2zM2597 901l0 10-2 2-19-2-1-2 16-9zM2533 921l-11-8-1-4 4-7 7 5zM1975 939l0-10 4-6 12 4-6 8zM2653 971l3-8 11-2 12 1 4-1 2 4-2 6-24 3zM2615 977l-5-10 7-3 7 7zM2559 975l-2 7-4-4-24-2-3-5 5-5 22 4zM2371 1035l20-11 5-17-25-11-16 9 0 2zM2595 997l0 4-9 0 3-4zM2097 1019l-8 1-4-5-3-14 11 6 5 8zM2552 1087l-13-2-8-21-18 1-12 16-6 4 1-24-7-12-5-14 7-4 6 3 14 14 14-1 14 4 18-1 4-3 4 6-13 24zM2089 1135l-1-2 5-4 34 2 3-2 6-26-1-10 3-10 5-29 6-2 16 3 9 8-1 30-10 12-6 20 1 8-9 0-26 12-22-4zM2087 1067l-7 0 5-3zM2356 1099l-1 7-30 6-24 0-14-5 6-6 8 3 20 0 34-10zM2433 1111l-6 2-8-8 4-8 8 2 3 10zM2094 1103l1-4 4-1-1 3zM2405 1158l-7-1 1-9 8-1 1 2zM2487 1171l-4-2 2-2 2 0zM2259 1191l4-6 8-2 3 6-7 7zM2327 1241l-6-2-3-4 9-5 7 5z"/>
<path fill="#d0d0d0" d="M2921 1361l-1142 0 0-1116 1142 0zM2081 1197l28 6 12 0 18-7-1-5 9-7 5 5 9 17 4 3-7 6 9 20 6 5 8-2 24-21-4-8 10-4 18 27 3 11-7 4 2 10 7 6 13 5 14 1 28 6 46-7 40 4 20-7 8-7 6-11 4-1 30 19 14 3 18 0 2-3 6-34 1-20 27-1 11-3 6-4 3-6-4-15-9-3 3-8 4-20 14 5 12-4 7-9 3-71 40 0 4-2 7-7-9-4-6 3-3-11 7-4 24-4 2-5 8 4 22 23 4 0-1-2 7-3 2 2 18-4 8-11 0-24 6-10 2-13 34 0 27-7 1-12-3-12-15-7-7-9 0-4 9-4 1 4 7 2 9-8 4-10-4-32 5-16 1-166 11-2 20-8-7-6-1-26-25-4-1-42-6-25-24-8-41-1-1-100-8-25-28 0-16-7-12-3-76 0-2-25-6-38-2-3-58-6-38 0-10 3-9 8-6 12-2 10 5 0 5 4-13 30-18-26 9-4 1-2-12-16-16-12-18-5-24 0-22 8 3 5-3 5-8 1-7-4 1-6-8-1-9 11-1 51-144 1-8 1-16 8-22-6-16 3-2 14 2 20-7 12-1 14-34 1-13 5-8 8 2 16 9 16 0 2 10-4 9 4-1 6-16 14-1 20-17 1-4-5-60 2-6 4-4 10-3 28 3 38 8 20 6 8 14 9 0 7-2 3-6 0-6-6-12 5-8 8-2 59-22 1-35 14 1 8 8 6 22-2 1 2-1 3-20 3 0 1 26 12 20 1 2 136 66 2 1 96 9 7 4-6 18 17 5 2-1 4-23-14 6 8 0 14 9 8 44 2 1 46zM2332 451l7-3 7 3-7 4zM2433 605l-12-21-28-11-32-26-13-36 3-3 30-14 15-17 21-17 0 3-10 14-19 20 1 8-3 10 11 22-2 30 30 14-1 4 12 18zM2678 499l-28-4-19-16-5-8 32 4 21 19zM2223 529l-24-7-8 2-5-29-3-6 8-16-1 20 6 18 25 9 6 0 2 5zM2439 497l-10-8 2-3 9 3zM2099 518l-6-5 2-5 4 0 4 7zM2528 541l-5 6-8 22 2 3-3-3 2-22-1-1-28 5-20-3-10 5-1-8 3-8 42-26zM2567 543l-2-8 12-6 1 6zM2295 557l-6 1-8-6 2-10 4-1 5 2zM2151 554l-2-1 6-12 6 1 4 7-4 3zM2468 585l32 4-31 6 1-4zM2159 589l-2 1-2-3zM2583 653l-2-2 6-8 6-1 28-15 16-29 6 3-18 28-8 30 1 4-3 2zM2531 688l-8-1-7-4-10-16-1-10 6-6 4-41 6 15-2 30 12 26zM2327 701l-22-15-27-9 7-6 14-26 18-25 12 1 16 11 2 5-2 4-15 6-2 22-5 14 6 16zM2065 661l8-30 4-2 0 6-10 26zM2147 664l-12-1-2-2-6-26 8-8 4 0 6 26 2 4 3 2zM2233 1138l-10-3 0-6-12-20-12 4-1-2 8-12 1-23 18-4 18-9-10-13-30 1 0-12-14-17-29 7-3-8-13-18-9-34 22-18-20-15-6-7 3-14 11 6-2 6 25 22 4 6 11 4 3-10-7-8 1-30-22-28-1-16-26-6 16-13 18 7 42-40-33 4-5-30-10-23-10-1-5-20 21 18 14 19 10 2 28 1 28-7 23-31-1-26-4-2-34 4-1 16 3 11-40-3 9-38-34-12 13-18 14-26 4-2 5 2 1 4-6 4-13 24 17 20 26-1 4 15 37 0 29 43 8 2 14-6 10 1-2 10-8-2-20 10 8 16 10 14 16-6 6-12 0-9 28 1-7-24 25-2-2-4 2-11-22-1-8 6-6 0-4-22 2-13 6 1 0 13 5-1 3-11 16-2 14-4 8 1 0 4 8 7 8-9 4 0 10-9 8 0 2 5-2 18-4 13-2 2-16 1-9 10-9 2-4 6 6 21 16-10 28-5 8 5 16-5 0 2 0 2-4 0-14 9-28 0-20 7 14 26 34-6-17 24 5 20 0 13-18 1-21 18-11 19-6 4-4-9 3-12-1-2-20-2-26 18 0 36-18 14 16 10 30 0-1 10 7 24 24 5 16 8 3 7-7 44-16-8-58 4-4-28 12-14-12-1-18-10-10 3-12-4-24 0 18-24 14 15 12 2 20-21-19-22 18-16 7-36 24-29 10-5 4-28-10-13-26-12-14 12-16 21 11 14-13 26-5 2-3 26-8 11-2-1 6-10-21-26-12-26-21 4-23-4 8 30 14 14-7 24 5 22-3 6-4 26 35 18-19 1-8 4-18 2-17 17 21 12 24 9 20-10 30-3 0 2 0 11-12 3-12 0-13 18 11 6-4 22-26 1-16 17 9 14zM2249 659l-3-2 3-3zM2450 661l5-7 14 3-12 6zM2389 685l-3-8 5-5 8-2 2 5-4 10zM2820 703l3-17-21-7-2 22 9 7zM2487 698l-6 1-4-6 1-2 7 0zM2643 693l-2 2-3-2 3-2zM2700 717l5-7 29-1-23 15-8-3zM2571 733l-9 0 3-14 8 8zM2028 743l8-14 1-8 12 1 2 3-18 22zM2509 753l-18-8 0-10 18 0zM2766 749l-3 2-8-6 6-3 6 1zM2211 847l26 1 24-4 14 7 20-11-9-35 7-8-4-15-28-19-2 2-1 24-9 6-6 24-6 8-8 3-12-8-15 17zM2586 795l-5 5-6-1-3-4 5-2zM2657 891l-5-18 9-18-4-9-20 0-10-6-2-7 4-8 4 4 32 0 19-18 13-9 6 15-10 0-16 16-2 16 30 4 5 6 1 7-34-3-3 20-11 8zM2119 826l-18-11-2-12 21 4zM2525 819l-3-2 1-6 3 4zM2016 859l1-4 28-25 1 3-16 28-7 5zM2489 837l-3-2 3-3zM2763 841l-8-4 6-6 4 6zM2396 877l-2-30-17-9-4 25 10 13zM2129 861l-26-1-7-5-2-6 1-2 20-3zM2163 879l34-6 9-20-21-9-19 19zM2453 1013l-10 0-8-18-13 0-8-14 5-18-14-17-24 3-4-4 4-4 18-4 8 1 8-6-3 9 13 17 20 11 15-28-11-16-12-6-4-20 5-4 5-14 4 14 28 6 4 4 9 28 11 15 7 5-5 4-4 0-26-10-18 30 16 10 24 3 1 1 0 8-5 4-22-5zM2078 887l3-3 5 3-7 2zM2753 897l-32 0-5-2 35 1 2-1zM2596 905l-1 7-15-1 0-2 11-7 4 1zM2529 916l-5-5 1-5 5 3zM2281 924l-2-1 4-5zM1977 935l-1-4 3-5 6 2-3 5zM2107 969l4-5 22 5-20 3zM2655 969l3-4 7-2 17 4-23 5zM2621 971l-6 3-3-5 5-2zM2557 977l0 3-4-3-25-4 3-5 24 5zM2371 1040l22-13 5-20-29-13-18 11-1 2 19 33zM2095 1017l-4 1-4-3-2-8 2-1 6 3 2 6zM2693 1018l-8-3 0-4 6-5 3 3zM2562 1053l-14 24-1 7-8-3-6-19-22 0-12 17 0-20-8-12-4-10 4-3 4 2 14 16 18-3 12 3 22-2zM2092 1133l3-2 36 1 11-45 3-30 18 0 6 6 0 32-7 8-7 28-6 1-22 9-28-4zM2291 1107l4-3 26 2 34-10 0 3-2 6-28 6-26-1zM2431 1109l-4 0-5-4 3-5 4 1 3 6zM2401 1156l-1-5 5-2-1 6zM2261 1191l1-4 5-1 3 3-3 4zM2433 1239l-4 4-39-10 7-6 26 9 8 0zM2323 1238l-3-3 3-2 5 2zM2249 1265l2-5 4-3 2 7-2 2z"/>
<path fill="#d7d7d7" d="M2921 1361l-1142 0 0-1116 1142 0zM2163 1255l6 0 10-6 30-26-6-12 6-3 6 7 15 28-5 3-8-9-1 14 1 10 6 6 20 6 46 5 44-4 42 2 22-5 20-12 30 13 34 1 6-59 38-3 9-4 5-6 0-8-8-14-8 0-2-2 4-18 10 6 18-8 7-10 2-8 1-64 40-1 10-3 10-9 36 8 34-5 3-4 3-10 1-26 4-10 1-12 34-1 30-5 1-18-5-14-18-7-5-7 1-3 4-1 17 10 9-20-2-34 3-16 0-164 3-2 32-6 2-3 2 2 14-3 2-3 2-27-4-3-26-4-2 2-4-3-22-3-1-39-5-31-26-4-40-2-1-99-5-28-2-2-28 1-32-6-74-1-5-64-3-4-62-3-38 0-15 3-15 14-4 1-10-3-20-10-16-4-26 0-30 6-20-1-4 3-4 12-1 50-141 1-24 6-24-4-18 2-2 13 1 22-5 14 0 13-34 2-15 3-11 6 2 24 11 22 17-6 4 2-17 18-1 18-14 1-2-8-22 3-44-1-8 5-3 10-2 28 2 44 11 24 20 13 1 3-3 2-16-12-3 4-9 8-6 12 0 53-22 2-40 8 0 34 4 2 36 8 22 2 1 135 67 3 0 95 14 14-2 18 6 5 12 4 41 1 1 46 5 22 37 4 26-5 8 1 11 44zM2322 405l-3 3-4 0-5-3 5-4zM2426 439l-7-10 12-4 1 2zM2335 451l4-1 4 1-4 3zM2393 571l-29-24-13-36 12-5 8-1 12-7 26-27-2 5-22 23-3 14 13 26-1 30zM2643 487l-12-10-3-4 20 2zM2437 494l-6-5 2-2 5 2zM2228 525l-3 2-28-8-4 1-4-19 2-2 5 14zM2526 541l-7 18-1-14-31 5-20-2-10 1 2-8 20-12 6 1 2-7 14-10zM2567 539l0-4 9-4 0 4zM2291 555l-8-7 2-5 3 2zM2162 549l-3 3-6-1 4-7zM2471 593l2-6 20 2zM2629 620l-1-3 11-17 2 1zM2527 684l-5-3-12-20 0-4 3-4 2-35 4 7-2 30 12 26zM2317 691l-9-6-19-6-6-4 34-52 6-2 22 16-2 3-16 7-2 14-9 22 2 6zM2145 664l-8-3-6-26 6-6 2 0 6 26 4 6zM2585 651l4-6 4 0 28-16 1 2-8 30-1 1-24-7zM2171 695l22-40 5-2 2 2-3 2-15 28 9 13zM2452 661l3-5 7 1 0 2-5 3zM2391 681l-1-6 7-4 2 4-2 5zM2483 694l-2 0 0-3 2 0zM2369 772l-4-13 21-2-2-4 1-18-24 1-10 7-5-20 3-10 4 1 0 10 6-1 2-8 16-1 18-5 12 11 6-7 6 0 13-12 5 0-2 22-3 10-19 3-10 11-7 4-5 6 2 17zM2227 747l-26-4 6-32 15 0 5 10 1 24zM2704 717l3-5 14 1-10 7zM2037 733l4-10 6 0-8 11zM2569 732l-5-1 3-8 4 6zM2287 900l-16-19-14-29-22 5-24-4 48-7 18 7 21-12-8-38 7-8-6-16-17-12-9-10 7-10-1-18 24 39 4 1 20-9 5 1-1 4-4 0-22 10 8 20 12 16 10-4 0 2-10 8-16 22 5 14-13 26-2 18zM2506 749l-3 1-10-5 1-6 13 0zM2765 749l-4-2 4-1zM2458 769l-9 6-29-2 25-7 6 3zM2161 879l-2-14-11-2 7-6 10 2 47-46-31-4-6-10-2-10-6-14 2-1 8 11 12 4 16 1 12 14 12-17 16-4 8-10-1 16-5 4-6 26-3 4-8 4-13-13-23 25 8 8-1 1-16-6-21 21zM2344 883l12-16 13-6 3-32-13-15-23-11 7-19 18 2 4 14 14 2 14-4 9 17-1 22 16-18 22-5-9 13 3 12-2 18-12 1-14 12-2-1-5-26-23-11-4 31 8 12-20 0-12 8zM2579 797l-4 0 0-2zM2115 819l-11-6-3-8 15 2zM2659 888l-4-11 12-22-6-14-26 1-8-5 0-4 2-5 4 3 34 0 28-26 4 10-6 0-19 18-3 18 4 2 32 4 2 4-36-5-5 27zM2763 840l-4-3 2-1 2 1zM2021 863l-3-6 17-15 1 1-10 18zM2117 859l-16-1-6-5 1-4 13-2zM2253 1056l-6-1-8-9-32 2-2-9-16-20-26 9-20-31-3-22 10-16 10-8-25-20-2-4 2-8 6 4 1 6 25 22 4 7 16 7 5-18-11-10 1-26-20-28 35-8 12-22 8 32 13 14-8 26 5 22-4 21-20 17-18 0-2 4 9 28-1 2 26 15 26 9 20-10 27-2-1 5-24 3zM2381 898l-2-5 4-13 8 5-6 10zM2449 1010l-6-1-6-16-3-2-14-24 1-6 2-1 22 12 18-31-12-17-9-5-4-20 5-9 2 7 32 8 6 28 8 6 8 12 4 2-6 2-28-10-19 32 17 11 24 4 2 3-4 3-22-7-15 18zM2595 906l0 5-10 0 0-2 6-4zM2327 933l0-6 1 4zM2422 959l-1 2-14-18-24 3-2-1 28-6zM2365 992l-19 9-1 3-19-1-19-12-12 5-24-3-1-4 11-15 12 14 14 2 20-23-16-18 2-2 18 12 28-1zM2669 967l-11 2 3-3zM2222 995l3-15 23 11zM2396 1001l-1 1-10-3 2-1zM2373 1043l22-13 6-23-6-4 2-2 10 2 2 6-8 38-10-5zM2691 1015l-4-4 4-3 1 3zM2093 1016l-4-1 0-6 4 4zM2366 1045l-35 2-3-20 17-18zM2556 1053l-13 26-2 0-8-20-24 1-6 7-1-8-12-20 4 0 13 16 22-4zM2645 1061l-42-4-4 2-2-6 4-4 28-5zM2112 1135l21-2 19-72 5-1 5 1 2 2 0 34-11 32-22 9zM2225 1132l-12-23-9 0 5-6 1-24 18-4 21-9 16 4-2 14-28 2-19 21 11 18 2 8zM2027 1106l-14-6 0-5 4 0 10 10zM2322 1107l31-9 1 3-5 3-22 4zM2429 1106l-2-3 2 0zM2158 1207l-11-7-6-7 4-6 5 4zM2265 1191l-3-2 3-1 1 1zM2430 1239l-3 1-33-7 5-4z"/>
<path fill="#dfdfdf" d="M2921 1361l-1142 0 0-1116 1142 0zM2485 1279l2-4 2-58 2-2 47-2 13-4 4-3-2-7-10-20 2-4 14-10 4-10 2-14 0-62 2-2 38 0 28-3 28 1 40-3 3-13 3-52 2-2 40 0 26-3 0-9-3-2 3-2-2-30 4-26 0-208 2-2 56-4 2-6 0-40-60-4-2-2 0-42-4-30-66-2-2-2 0-96-3-34-3-2-58-2-76 0-2-2-2-66-2-2-106-2-16 1-20 6-44-7-82 2-3 2-1 16-1 48-1 4-209 2-4 64-1 2-48 1-14 2-2 3 1 28 4 14 6 12 0 8-11 8-26 3-40-1-6 7-3 17 0 54 1 20 5 20-7 28-1 52-1 2-64 3-3 3 1 48 66 4 1 2 1 134 2 2 62 0 3 2 0 92 7 18-1 22 25 4 40 0 1 2 3 69 38 3 32-2 7 58 3 5 16-4 30-16 2 1 3 14 5 6 10 3 24 3 48 2 86-1 48-7 26 6zM2320 405l-5 0 2-2zM2637 479l-2 0-4-4 5 0 2 2zM2393 558l-8 3-18-14-13-36 25 0 14 30zM2524 541l-3 10-1-6-3-1-26 5-30-2-2-2 10-6 18 7 7-25 5-6zM2574 533l-3 4-2-2zM2156 551l1-3 2 0-1 3zM2016 615l3-18-2-12 2-1 6 4 12-4 1 1-11 10-2 12-4 8zM2311 681l-2-2 3-44 7-12 2 0 18 12 2 4-18 8zM2145 663l-4-2-6-26 2-4 9 30zM2610 639l-1 20-20-6-1-2 3-3zM2459 659l-4 1-2-1 2-2zM2310 681l-7 0-17-6 7-10zM2395 678l-2-1 2-3 2 1zM2351 738l-4-15 2-7 2 1 0 6 6 1 2-1 2-5 18-1 18-5 10 10 6-6 8-1 14-12-1 20-3 8-18 1-24 25 0 4-9-2 8-2-4-4 3-21-26 0-8 6zM2227 743l-10 0-2-2 2-21 8 11zM2503 748l-5-1-1-4 7 0zM2289 771l-16-17 2-9 2-1 12 23zM2453 771l-4 3-12-1 10-3zM2233 824l-9-9 0-2 18-24 5-2-9 32zM2313 820l-3-7-11-13 0-14 18 29zM2355 805l-12-9 4-8 6 1zM2197 799l-8-1-5-5 9 1zM2113 813l-6-3-2-3 8 0zM2694 811l-23 22-2 9-4-5-32 1-5-3 1-3 38 2 26-25zM2411 861l-4-14 20-20-2 28-6 0zM2294 855l-5 16-14 8-16-29-24 6-5-3 31-5 16 8 14-7zM2107 855l-8 0-2-4 6 0zM2021 861l-2-2 4-4 1 2zM2365 869l1 4-10 0 3-3zM2201 948l-17-13 1-17 20 3-17-14 3-10-6-16 14-4 6-8 6 5 4 13 11 12-8 28 1 8zM2661 886l-2-1 0-4 4-7 0 9zM2499 953l-30-11-8 13-2-2 6-14-18-20-2-18 22 9 5 11 2 16 21 11zM2593 911l-4 0 0-2 4-1zM2145 937l-10-8 1-4 10 10zM2759 958l-12-4-4-3 4-1 12 7zM2165 1025l-19-24-3-14 22-33 4 7 13 8-9 4-9 20 10 14 4 14zM2457 961l-2-2 4-6 1 2zM2319 995l1-16 10-12-5-6 8 3 24-2 2 12-20 7-4 20-8-1zM2449 980l-4 0-4-5 6 0zM2296 991l-12 0-3-13zM2446 1007l-1-7 10-1-6 8zM2389 1040l8-7 7-26-2-2 5 0 0 7-8 29zM2331 1045l-1-10 9-9 10 17zM2228 1043l-19 1-1-5-6-8zM2630 1053l-1 2-28 1-2-3 4-3 16-2zM2539 1067l-4-10-10-2 18 0zM2219 1093l3-14 19-4 18-1 4 2-2 3-28 3-12 13zM2523 1177l2-4 4 2zM2151 1200l-8-7 2-4 3 2zM2221 1237l-16-26 4 2 13 22zM2409 1233l-2 1-10-3 2-1zM2227 1243l-5-4 1-4z"/>
<path fill="#e7e7e7" d="M2349 725l2-2 8 1 2-3 18 0 18-5 10 8 4-3 10-2 8-6 4 1-2 13-20 1-6 7-12 2-6 10 1-18-1-1-26 0-4 3-6 0zM2282 859l-5 5-4-5 8-2zM2203 905l-5-4 3-9 5 7z"/>
</g>
<path d="M1176 192 L1176 224" stroke="#e0e0e0" stroke-width="5" stroke-linecap="round" fill="none" style="mix-blend-mode:lighten"/>
<path d="M1247 192 L1247 220" stroke="#e0e0e0" stroke-width="5" stroke-linecap="round" fill="none" style="mix-blend-mode:lighten"/>
<path d="M1348 468 L1389 468" stroke="#e0e0e0" stroke-width="5" stroke-linecap="round" fill="none" style="mix-blend-mode:lighten"/>
<path d="M1104 608 L1104 641" stroke="#e0e0e0" stroke-width="5" stroke-linecap="round" fill="none" style="mix-blend-mode:lighten"/>
<path d="M1312 539 L1312 566" stroke="#e0e0e0" stroke-width="5" stroke-linecap="round" fill="none" style="mix-blend-mode:lighten"/>
</g></g>
<path d="M1176 192 L1176 224" stroke="rgb(185,0,0)" stroke-width="1.6" fill="none"/>
<path d="M1247 192 L1247 220" stroke="rgb(185,0,0)" stroke-width="1.6" fill="none"/>
<path d="M1348 468 L1389 468" stroke="rgb(185,0,0)" stroke-width="1.6" fill="none"/>
<path d="M1104 608 L1104 641" stroke="rgb(185,0,0)" stroke-width="1.6" fill="none"/>
<path d="M1312 539 L1312 566" stroke="rgb(185,0,0)" stroke-width="1.6" fill="none"/>
<rect x="150.4" y="881.0" width="560.1" height="565.4" fill="rgb(146,0,0)"/>
<path d="M150.4 880.5H711.5V1446.4" fill="none" stroke="#b0b0b0" stroke-width="1" stroke-dasharray="1.5 1.5"/>
<defs><clipPath id="clipC"><path d="M342 929 569 929 569 976 617 976 617 1070 664 1070 664 1117 709 1117 709 1254 664 1254 664 1349 572 1349 572 1396 524 1396 524 1447 342 1447 342 1393 249 1393 249 1346 201 1346 201 1252 154 1252 154 1116 201 1116 201 1022 294 1022 294 976 342 976Z"/></clipPath>
<filter id="fC" filterUnits="userSpaceOnUse" x="150.4" y="881.0" width="560.1" height="565.4" color-interpolation-filters="sRGB"><feGaussianBlur stdDeviation="0.90"/><feComponentTransfer><feFuncR type="table" tableValues="0 0 0 0 0.5 1 1 1 0.5"/><feFuncG type="table" tableValues="0 0 0.5 1 1 1 0.5 0 0"/><feFuncB type="table" tableValues="0.5 1 1 1 0.5 0 0 0 0"/></feComponentTransfer></filter></defs>
<g clip-path="url(#clipC)"><g filter="url(#fC)">
<rect x="150.4" y="881.0" width="560.1" height="565.4" fill="#141414"/>
<g transform="scale(.5)" fill-rule="evenodd">
<path fill="#181818" d="M1422 2894l-1121-1 1-1131 1121 1z"/>
<path fill="#202020" d="M1422 2894l-1121-1 1-1131 1121 1z"/>
<path fill="#282828" d="M1422 2894l-1121-1 1-1131 1121 1z"/>
<path fill="#2f2f2f" d="M1422 2894l-1121-1 1-1131 1121 1zM906 1905l-10 0 8 3zM1254 2299l2 1 6-9zM468 2364l2-3-4-6-2 8zM398 2420l8 5 20 4 8-3 5-7 3-10-4-10 16-23 5-1-5-1-6 3-12 18-6 21-32-4-3 3zM846 2692l2-3 0-8-3-12-15-9-4 3 7 8 8 18zM802 2761l44 6 12 8 32-10 6-6-6-2-16-16 12-18 14-7 6 3 18-4 6-20-1-6-17-18 0-7-8 0 0 9 15 16-19 14-4 5-14 7-2 5-11 1-25 36-14-3-24 0-4-3zM878 2685l-19-8 17 11zM970 2754l10-14 0-3zM948 2801l-8-6-10-16-20-13 1 33 21 2 2 2z"/>
<path fill="#373737" d="M1422 2894l-1121-1 1-1131 1121 1zM910 1903l-20 0-2 4 18 3zM859 1913l-11-2-1 2 5 2zM892 1979l-2-6 5-22-7-8-3 2 1 4-4 10-1 12 5 6zM681 2021l-1-2-4 0zM1256 2308l1-7 9-14-2-5-14 16 3 3zM378 2355l4-4-6-10-3 4 1 10zM473 2367l-1-10-8-10-3 18zM396 2426l14 10 10 2 18-6 9-15-8-18 15-21 11-5-11-1-10 5-9 14-8 22-21-2-14-4-3 8zM1252 2382l1-3-3-4-2 2 2 5zM1222 2404l2-3-2-1-2 3zM478 2444l-27-23 7 16zM610 2453l2 1 14-9-4-7-8 0-5 5zM890 2620l-3 3 4 0zM1013 2631l-21 35-28-13-11 2 5 2 6-1 28 12 2 3zM883 2685l-7-5-24-11 0-4-6 2-20-12-11 8 15 13 7 15 11 5 2-7 0-17 16 14 6 0 6 5zM967 2801l-21-22-22-16-18-9-13-1-12-12 7-13 12-6 8 6 10-2 9-7 6-20-1-10-14-16 0-14-16-4-2 20 11 12-13 10-5 8-11 6-2 8-21 2-8 14-11 13-20-2-14 3-8-10-1 20 5 4 42 8 14 8 11 0-1-4 22-8 12-11 2 1 2 36-2 4 6 5 24 5zM951 2777l15-2 1-12 15-21 6-14-12 6-16 25-15 2z"/>
<path fill="#3e3e3e" d="M1422 2894l-1121-1 1-1131 1120 1zM915 1901l-31 0-3 6 13 5 12 1zM871 1909l-25-7-2 11 4 3 12 1zM1007 1937l11-4 4-4-4-2zM900 1988l-5-17 8-22-15-15-7 5 4 12-10 18 9 10zM786 1954l23-11-1-2-22 11zM841 1981l9 1 18-9-5 0zM650 2009l1-14-8 0zM728 1999l2 0 0-3zM833 2017l0 2 7 2 25-8-19 1-8-4zM658 2033l12-10 8-2 10 6 2-10-8-2-6-4-15 12zM834 2044l0-10-6-4-4 11zM1090 2119l6-8 4-2-2-10-2-1-3 3zM1128 2119l4-5 5-1-2-4-5 4zM1256 2316l3-15 9-14-4-10-4 2-14 18 6 4zM1316 2323l8 6 6 0-1-6 9-4 0-7zM382 2360l14-17-4-6-14-9-6-9-4-2-2 1-2 11-4 6 4 23 4 2zM476 2370l0-14-12-11-6-15-6-3-18 0-6-4-2 10 6 5 10 17 16 4 0 9zM1220 2330l-1-3-4 0 1 5zM1264 2393l-3-14-6-8-7-6-3 14 5 12 2 2zM673 2371l-9-3-23 3 13 4zM501 2451l-7-1-18-13-8-2-19-18-9-16 14-22 18-7-16-2-16 7-6 9-10 24-16-2-20-6-4 15 11 16 21 14 24-8 24 8 12 9 14 1zM518 2408l4-5-4-4-10-2 2-14-6-2-2 2 2 18zM1222 2408l2-5 3-2-3-4-6 1-2 5zM603 2465l19-9 12-9-10-16-12 0-13 12zM452 2554l-6 1 0 3 6-1zM894 2623l-4-7-4 7zM794 2760l8 8 4-1 38 8 10 7 16 2 9-1-3-8 14-5 10-8 1 25-6 6 13 13 8 2 18 3 42-8 2 2 24-1 4-3-4-3-24-1-6-18 0-20 12-16 12-24-24 14-8 14-10 9-26-1-16-15-10 8-6 1-9-10 5-7 8-3 12 9 18-13 6-24-2-14-11-14 1-11 12 6 28-5 24 8 8 17 16-18 5-1 9-15 2-1 12 12 11-2 1-4-6-1-32-37-6 4-18 33-26-14-8 4-28 4 15-21-5-6-1 4-15 24-22-5-2 1-1 28 6 8-7 5-6 13-6 3-6 12-20 0-6-9-5 8 0 8-9 14-12-1-20 6-8-11-8-22 3-6-7 1 8 29zM856 2640l-3-11-9-6 0 9zM466 2629l-6 2 0 2 5 0zM887 2685l0-2-9-6-17-8-3-13-14 8-24-15-16 12 24 21 5 11 15 7 4-11 0-11 11 9 9 0 8 7zM956 2679l11-2-3-8z"/>
<path fill="#464646" d="M1422 2894l-1121-1 1-1131 1120 1zM841 1913l7 4 12 3 22-8 26 3 11-16-75 0-2 1zM838 1983l14 3 20-10 4 0 8 7 25 14-9-26 8-19 18-15 1-10 2-4-3-1-3 3 1 10-16 4-10-5-8-9-14 6 8 18-10 19-28 10zM974 1945l12 8 28-17 8 3 6-8-12-7-6 1-22 17-12-4-2 2zM776 1957l8 1 8-1 20-9 10 7-11-14 0-4-5-2-7 6-13 7-2 6zM1056 1969l0-2-4-1 2 4zM730 2013l10-8-8-8 6-13-12-1-1 8-4 2 2 4-12 10 1 2zM640 1997l13 26 2 14 15-13 6-2 16 9 6-12 0-6-14-1-10-7-20 16 2-28-10 0zM815 2041l21 8 0-22-12-8 18 2 26-10-2-4-16 2-14-8-14 18-9 20zM885 2009l1 4 4 2 20-2-10-7-14 1zM738 2045l5-4-5-7zM1169 2065l1-2-10-8-8-3-6 7 5 10 7 4zM1190 2083l-4-4-3 4zM1088 2139l10-11 12-5-6-18 1-10-11-4-6 8 2 6-9 30zM1124 2125l8-9 14-5-7-10-12 12zM634 2125l6-5 0-3zM650 2191l-10-30-28 18 8 7 25 9zM446 2247l7-2-8-2 5-43-7 9 0 36zM1258 2322l2-19 9-16-5-15-8 4-13 19 9 7zM1342 2343l-8-20 5-4 0-12-3-2-10 7-17 5-4-16 12-12 4-14-7 0-29 26 17 24 18 19zM444 2291l14-10 0-3-5 1zM389 2285l13-2-4-4zM388 2364l16-19-26-18-2-8-11-12 1-5-10-9-3 2 1 10 8 4 0 18-4 12 4 20 4 5zM522 2453l2-6-4-3 0 5-24-3-17-11-11-2-19-18-8-16 13-19 24-8 23 13 3 25 6 4 15 1 18-22-9-12-8-4 2-2-4 3-20 0-24-9-2-10 1-4-3-4-10-6-6-10 2-14-24-10-8-2-5 20-5 12 7 10 7 26-12 30-38-10-4 14 1 8 6 12 9 11 22 12 12-5 18 1 12 4 22 15 12-9zM1214 2340l9-9-7-6-5 2zM876 2373l14-2 16-17 7 5 0-14-5 0-18 19zM509 2353l-15 0 12 8zM1289 2359l5 5 2-3 12-6-14 0zM1274 2402l1-3-6-18-9-14-12-10-5 22 5 16 4 2zM618 2367l6 11 14 4 26-9 31 2-23-10-50-1zM1123 2383l7-2-4-4zM1222 2411l2-7 7-3-5-7-10 0-5 9zM721 2449l5-3 10-27 15-10-21 7-6 26-5 5zM1196 2425l4 0 6-16-8 8-3 6zM556 2430l-2-17-3 14zM909 2449l9-2 10-27-2-8-4 4-25 7 1 4 12 18zM1104 2432l12 1-4-17-9 13zM612 2480l2-1 1-12 27-16-6-13-10-14-18 1-16 16-2 4 7 20zM444 2504l24-7 2-10 8-12-34 24zM495 2531l-15-11-3 1 5 14zM456 2561l0-13-8 0-4 2 0 11zM900 2594l15 3-7-10 19-26-5-3-24 5-1 24zM845 2595l5-8-2-1-4 5zM886 2623l10 0 1-2-5-11zM1006 2802l2-3-6-5-20-1-5-24 0-12 31-50 0-7-7-11 11-15 20-3 16-7 10 5-3-6 2-8-11 2-28-32-2-11-14 9-14 26-18-7-8-7-8 6-14 2 6-10-4-8-10-10 1 12-13 20-20-5-8 1-2 2 4 8 0 31-28-17-1-16-6-18-17-14-2 8 2 12 17 10-17 13-8-4-11-9-5-9-22-4-8 7 7 18 29 26 5 8 12 6-8 10 1 19-28 9-6-8-5-14 9-14-19 4 6 28-3 8 0 14 10 15 8-2 38 10 4 5 6 2 30 3 22 19 12 4 22 1 32-7 24 0zM455 2631l3 5 7-1 5-4 2-6-8 1-9 3zM932 2751l-11-12 13-8 5-24-2-20-7-10 26-5-6 9 20-4-2-6 2-2 14 4 20 32-11 14-19 13-6 1-4 6-14 13zM551 2689l3-1 4-11zM879 2717l-22 0-8-14 5-20 5 4 13 1 10 9 8-10 2 2-8 13zM900 2744l-6-3 4-6 7 4zM888 2786l-3-11 11-7 0 13z"/>
<path fill="#4e4e4e" d="M1422 2894l-1121-1 1-1131 1120 1zM928 2035l-10-20-1-14-11-32 5-14 15-11 2-17 8-6-8-8-12 8-1 4-5 1-14-7 15-2 12-18-1-2-83 0-1 14 8 7 20 4 15-1-9 4 10 24-10 19-26 9-10 6 20 6 12-6 12 0 18 12-1 2-13 1-1 13 3 7 10 7 12 0zM980 1909l-4 0-6-5-4 1 2 3zM974 1951l6 7 8-2 8-9 19-10 13 5 6-7-12-12-16-3-18 13-8-2-7 8zM765 1971l5 0 6-10 8 1 14-3 14-7 12 9 4 8 2 1 1-3-3-6-16-20 2-7-12-4-8 9-8 4-2 10-13 4-2 12zM1060 1969l2-4-12-12-12-1 2 5 14 16zM620 2137l4 1 1-5 15-12 4-12-1-54 11-11 5-11 9-7 10-3 11 8-3 21 6-19 10-18 25 8 3 16-13 18 25-11 8-7 0-4-14-16 8-2 6-6-17-16 13-22 9 0-31-3-1 19-9 2 3 6-15 12-16-1-14-10-12 10 1-17-17 0-6 8 11 24 3 16-12 16-6 30 0 30zM989 1989l-1-2-4 0-20 20-11-12 1-22 2-2-13 0-1 8 4 18 16 12 3 0zM838 2053l-2-12 3-18 27-9 4-3-6-9-10 1-20-11-15 21-12 8-4 18zM1066 2022l8 5 8 0 0-12 5-6-5-4-8 2-6 8zM1038 2089l4-4 2-14-6-18-8-4-2-4-2 6 6 34zM1179 2071l-11-16-8-7-10-3-11 14 9 16 12 8zM674 2059l8 6 6-6 7-2-9-3zM868 2076l-1-9 8-10-3-1-9 11-5 2zM790 2077l4-2 0-4-6 4zM1192 2085l-10-12-11 14 19 0zM1081 2135l13 7 4 5 2-3 18-9 16-20 20-6 2 4 0-6-14-14-18 18-6 18-9-24 3-11 4-3-22-8-10 14 4 8-8 24zM569 2113l3 2 2-3 24-3 0-2-20 1-4-3-4 3zM1172 2139l6 2 6-14-11 6zM576 2183l7-32-11-3-4 15-6 12 4 7zM690 2183l10-4 10-18 0-7-2 0-14 25zM642 2201l17-12-8-22-11-9-16 11-12 4-6 6 20 17zM820 2195l-20-26-2 4zM1146 2181l-1-8-6-4 0 4zM1222 2210l2-1 7-14-2-8-11-8 3 12-1 18zM1254 2207l6-1 9-7-1-12-4-6-13 18-1 4zM982 2204l18-11-12-11-8 19zM478 2250l-1-27 5-2-6-2-20-18-2-8-8 4-4 6 0 46 8 3zM472 2242l-22-4 0-15 4-14 18 14 1 18zM1218 2276l2-11-4-3-6 3zM1258 2329l4-26 9-16-7-19-12 5-13 22 13 8zM1292 2373l6-10 18-8 14 6 12-2 3-18-5-16 3-8-1-10-6-10-10 8-4 2 1-24 5-10-17 0-35 28 0 2 14 15 20 27-19 2-9 10zM380 2287l27-4-7-10zM442 2513l26-3 3-23 11-16 12-6 24-4 6-6 7-16-19-18 20 2 16-20 1 4-5 20 16 10-5-14 1-38 2-2-23-8 5-17-16 14-20 3-22-12-1-6 3-4 20 13 2-1 5-12-5-2-24 2-16-10-5-10 3-21-20-11 19-14-1-8-8-4-11 6-14 18 1 6-6 24-9 22 9 38-4 14-6 0-16-6-22-20 2 42 4 10 14 20 22 10 34 0 14 8-14 11-1-9-9-2zM1159 2301l-1-4-14-13-13 15 1 3 3-1 9-14 8 12zM392 2368l8-9 10-6 0-2-9-10-22-14-3-12-9-10 4-12-5-3-10-1-4 6 0 8 2 5 5 5 1 12-4 14 4 21 4 6 4 2zM719 2305l16 4 19-12 2-6-32 4-4 5zM1226 2299l-4-3-12 7 10 3 4-2zM808 2311l-4-6-10 0 6 9zM1112 2309l-2-4-2 0zM1212 2346l14-13-4-6-8-4-7 2zM802 2350l-6-17-7 0 1 5zM926 2335l-16 3-6 11-14 13-29 17-2 6 27-10 6 2 14-12 14 18 4 2 6-6 1-22zM1137 2341l0-2-6-4 1 4zM568 2366l4-4 13-3 5-14-16 0zM1276 2406l5-9-3-14-14-21-18-14-6 31 5 18 5 0 2 3zM609 2363l6 6 8 20 41-15 36 3 8 7 15-5-47-18-8 2-48-5zM806 2377l6-2 2-8-8-8-3 10zM514 2444l-18-2-13-9-13 0-19-16-10-18 13-18 24-8 22 12 4 34zM1146 2463l-2-4-19-10-11-26 5-34 11-6 28 18 7-8-11-3-24-16-6-1-7 12-9 30-11 8-11 20 10 8 22 3 8-1 14 10zM1080 2389l-4-13-22 11 24 5zM1332 2429l3-2 5-26 0-19-20 10-2 3 11 32zM1191 2425l11 5 10-21 10 4 2-8 10-4-6-9-16-1-3 6-11 11zM716 2460l11-9 13-30 18-12 4-5 15-5-4-6-13 3-2 7-30 10-6 25-14 13zM1018 2410l-3-11 3-2-6-3-1 3zM901 2455l19-2 1-2 0-8 9-20-4-18-6 10-22 6-4 8 11 16zM838 2421l2-6-2-2zM639 2493l-8-26 20-8-1-8-9-6-5-18-6-9-26 2-8 8-6 13-8 4 6 6 4 12 30 30zM1306 2458l-10-23-6-2-14 14-5 0 7 8 12 5zM417 2463l-17-5-1 5 1 2 14 0zM434 2465l-13-2 1 2zM720 2503l3-16-7-16-5 18zM473 2519l9 19 8-3 6 1 6-5-2-11-8 9-12-10zM966 2535l2 2 20-4 8 1 14-11-4-5-14 0-5 3 1 4zM794 2568l14-5-8-26-8 24-10 0zM1002 2809l8-12-10-7-13-1-6-32 17-32 12-16 0-12-4-10 8-10 14-2 19-10 15 8-3-8 4-16-17 6-26-30-4-16-10 9-11 5-10 18-13-5-10-9-12 9-6-12-15-15 23-14 15-16-26-18-1-8-4 1-20-14-15 1-7 4-2 4 0 36 4 16 30 8 2 17-10 15-16-4-23 4 10 16 1 18-16-8-1-10-9-22-24-18-3 10 2 16 11 8-10 8-6-2-9-8-1-12-6-9-14-2-19 17 5 14-1 8 39 34-8 18 1 12-13 4-4-2-4-10 14-22-29 6-1 13 5 15-5 14 1 12 11 18 10-4 36 10 2 4-2 2 40 7 28 19 24 3zM459 2565l3-22-14-2-6 3 0 20zM928 2606l-13-19 13-18 8-4 16 26zM502 2590l3-3-5-6-4 6zM842 2604l8-15 8-2-14-3-6 9zM504 2606l5-3-5-6zM482 2608l-4-7-1 2zM886 2624l10 0 5-3-7-17zM451 2629l7 9 8-1 9-8 3-8-2-2-10 2-14 6zM504 2644l6-7-1-2-5-1-2 7zM626 2651l2-8-8-9 5 9zM766 2663l-2-3-13-3 4 4zM543 2685l13 7 8-15 21 6-25-17-6 5zM936 2747l-6-6 7-6 5-24-3-28 9 1 26-7 0-3 8 2 3 7 10 10 8 12-9 12-20 14-10 0-18 17zM1106 2699l0-17-4 7 1 6zM879 2717l-21 0-8-14 6-14 16-1 11 11zM652 2717l6-2-2-6zM1040 2753l1-8-15-14-4 10 3 8 4 4zM1102 2753l-26-20-6 8-4 10 2 2z"/>
<path fill="#555555" d="M1422 2894l-1121-1 1-1131 1120 1zM613 2141l18 4-2-14 12-10 7-16-1-50 9-9-1-5 5-8 10-8 8-2 11 10-5 20-12 6 22 20 6-1 12-14 28 6 3-1-28-8 27-12 8-7 3-11-10-12 16-2-23-22 0-2 8-15 18-2 8 3 8-14 6 0 32-8 6 6 6 16 1 8-15 22-22 16 0 6 8 12 40 14-4-16 3-16 29-10 3-4-7-13-6 0-16-9 16 2 8-2 15 0 0 22 3 9 18 15-2 2-10-2 0 4 14-2 14 13 2-1 8-10 3-8-7-16 0-18-6-9-7-19 4-10 11-8 4-24 12-8-12-14-10 6 7-14-1-2-91 0 0 16 11 8 24 6 11 22-9 20-26 9-11 5 1-8-7-12-16-20 3-10-16-6-16 15 0 12-15 5-3 10-14 1-4-2-6 2-20-2-1 21-13 2 3 8-11 9-11-1-19-14-4 4-2-6-20 0-4 2-5 10 10 20 3 16-15 14-6 36-1 30-9 12zM989 1913l-27-13-12-1 3 6 11 7 22 3zM1065 1969l-7-15-16-16-8-11-14-8-22-3-10 8-4 0-11 13 1 21 2 4 12-1 11-14 17-9 12 7 17 24 9 7zM993 1989l-5-8-6 3-16 15-8-10 1-16 7-4-28 0-3 16 2 10 23 16 6-1 16-14 6 0zM1096 2177l10-30 14-7 0-7 13-16 21-7 4 9 3 0 4-6-2-6 3-15 28-3-4-10-18-25-14-12-12-5-15 20 15 25 3 3-5 1-26-12-12 8-12-6-22-17 16-22-2-22 10-10-10-7-16 6-11 15 6 6 5 12-4 21-12-1 14 6 21 18-10 14 6 12-6 16 0 8 3 6 7 4-2 12zM787 2013l-1-2-21 4 17-1 4 6zM708 2058l-20-9 6-16 8-14 18 7 2 7zM1038 2095l4-7 5-3 4-28-1-2-19-6-3-10-6 12 4 34zM874 2081l1 0-3-16 5-8-5-2-10 12-6 2zM792 2082l8-9-4-8-10 12zM1118 2117l-4-10 2-6 26-16 1 2-21 22-2 8zM566 2106l0 9 4 3 6-6 20-2 8 5-10-12-14 2-6-5zM530 2121l10-12 1-4-1-2-8 0-3 8zM787 2121l-1-3-6 1zM1170 2142l10 5 8-15 10-2 0-10-10-1-16 12zM824 2225l18-12-31-40-15-42-6-3 3 35-5 6 5 14 20 20zM578 2191l10-42-24-4-14 32 10 13zM685 2187l13-3 7-5 8-14-2-10-3-6-14 28-9 6zM636 2208l12-11 18-10-5-14-21-16-12 7-16 5-12 8 11 12zM1152 2191l-5-20-13-8 4 14zM977 2201l5 6 16-8 6 1 6-4 18-2 6-3-6-6-24 4-10-24-2 0-5 4zM1214 2228l8-17 10-4 3-6-4-16-9-8-13 0 6 6 3 10zM1256 2211l10-2 12-10-11-16-5-4-2 0-11 18-2 8zM474 2255l7-4-2-4-1-24 18-6-18-1-18-17 0-12-15 8-5 6-1 50 13 5zM1166 2224l3-7-11-13zM714 2235l-2-8 8-17-9 13-1 8zM466 2235l-12-2 2-17 11 9zM534 2223l4 1 2-8zM1074 2273l12-6 3-6-9-14-12-10-1 10-5 10 5 14zM1267 2245l-7-4-8 2-12 8 12 4 10 1zM1003 2267l3 1 14-15zM854 2257l-4-4-15 4-1 2 16 5zM1222 2285l3-22-7-5-11 7zM931 2267l-5-4-3 2 3 6zM1332 2434l2-5 3-2 6-14 2-12-2-24 4-16 1-20-3-16 1-18-9-16-3-1-5 3 0-8 2-6-1-8-25 0-39 31 6-15-8-22-2-1-10 4-16 25 15 10 4 26-9 15-28 1 10-9-5-9-7-4-11 0-2 2 2 26 5 5 6 1 24-2 1 2-4 24 5 16 6 0 4 6 24 7 10-13 1-12-17-26-9-8-8-12 6-10 5-25 2 1 29 32-7 3-13 17 15 25 10-17 10-5 20 9 1 2-19 12-4 10 10 34zM742 2377l-4-2-8-13-18 6-32-11-10 3-18-2-10-5-24-2-2 1-20-11-4 1-16-2-4-2-22-1-4 10-22 19-16 4-2-1 6-17-6-2-24 2-15-9-5-10 6-28 0-5-5-3 5-4-1-10-7-8-8-2-18 10-8 10 3 12-5 24-12 23-10-12-22-13-4-16-7-8 7-13 37-5-11-16-2 0-12 10-14 8-16-2 9-16-7 0-1 10-9 16 1 14 6 6 0 10-3 6 1 20 3 10 12 20 6 44 16 22 5 20 41 1 1 3 1 50 30-1 12 20 6-2 10 2 10-9-2-18 20-4-22-1-10 19-2 1-10-9-12-4 2-28 10-15 10-3 4 2 20-3 10-11 12-27 28 15-10-22 1-34 15-26 10 1 18-4 10 11 8 22-18 22-12 26-15 6 11 7 3 7 33 32 4 8 2-5 16-2 11-7-5-14 12-6-3-14-14-8-9-32-12-20 42-17 36 3 18 17 10-4zM1017 2285l-9-16-1 2 7 14zM508 2298l2-9-5-12-9 0-1 2 9 16zM1164 2309l0-14-6-3-10-9-7-2-11 16 2 7 6-3 4-7 5 7 7-1zM744 2316l17-25-15-10-18 3-10 13 0 14 8 0zM1228 2295l-6-5-22 11 18 8 6-4zM812 2315l-1-8-3-4-21-2 11 18 8-1zM1138 2346l3-5-13-12-11-22-9-6-3 6 3 6 18 16 3 12zM855 2389l7 0 6-5 16-5 12 3 8-6 9 11 11 1 7-5 17-20-1-10-11-23-6-3-20 4-6 16-10 10-36 19zM720 2506l4-3 2-18-8-20 12-11 14-31 12-8 6-10 59-18 3-20-10-13-7-5-7-16-10-1-3 5 1 3 12 13-4 18 2 21-10-15-28 7-4 17-18 7-12 1-6 24-20 20 9 12-6 22zM540 2371l11-24 19-3 2 1-4 16-10 17zM1018 2435l10-14-11-22 27-11 34 5 4-2-3-16 2-4-3-6-4 0-3 8-25 13-28 7-10-8-2 12 6 6zM412 2394l-25-21 9 0 10-6zM1148 2466l1-1-3-8-4 1-16-9-12-30 6-30 10-5 30 21 14-18-22-6-20-10-10-2-8 14-8 28-19 12-9 16 10 13 18 14 24-5 8 6zM508 2439l-12-1-10-6-16 0-18-15-10-18 12-17 24-8 21 11 4 30-1 8zM988 2385l-12 3-30 3 0 2 8-2 28 3zM1189 2427l15 7 2-1 10-18 4 2 4-11 13-7-7-9-20-3-4 6-14 6 4 1 0 3-8 22zM898 2465l3-6 11-3 12 1-1-14 10-18-7-26-10 15-18 6-4 5-2 8 8 12-6 12zM838 2422l3-7-5-4-1 6zM1314 2465l-13-24-2-10-13-1-10 10-26-13-4 0-2 2 19 20 7 3 18 26 4 1 2-7 16-1zM801 2473l1-2-4-2-14-19-9 17 23 7zM1036 2507l0-16-2 12zM796 2785l2 0-2-4 10-5 24 7 2 2-7 4 1 2 26 6 28 3 26 18 24 4 62-7 10-3 9-11 1-7-12-8-9-1-5-32 14-26 12-16 1-18-2-8 3-4 12-3 22-12 21 11-5-10 4-22-22 8-26-30-2-20-14 12-15 6-7 12-8-4-6-6-10 0-8 6-15-18 15-9 6-11 10-10 4 0-2-7-19-13 1-14 36-8 14 2 28-20-6-9-30 0-9 5 2 8-39 18-11-2-11-23-6-3-1 4-7 10-16 11-8 9 1 36 6 18-8 18 3 3 8 0 2-2 6-1-4-14 22 6 2 10-8 12-12-3-36 5-30-22 0-4 12-20 10-4-16-7-12 17 4 14-2 16 2 20 5 6-5 3-5-3-4-22-11-15-8 3-27 26 4 10-1 14 21 18 15 10-34 7-3 3 0 14 4 12-7 22zM1136 2532l1-5-9-16-4 1 0 8zM1072 2539l5-18-9 10zM826 2551l-13 6-11-28-10 30-25-4 15 14 14 4 12-5 6 8 3-11zM462 2569l4-31-18-3-8 3 0 29zM553 2567l10-6-3-2zM637 2575l-15-10-2 0-4 10 8 8 2-4zM930 2600l-9-13 9-13 6-3 11 18zM502 2592l8-5-10-12-6 12zM484 2609l-4-6 0-9-4-5 2 10-2 4zM528 2614l-16-11-8-8 0 13 8-2 6 8zM744 2605l-2-8-7 4 0 2zM449 2627l9 12 10 0 11-10 4-14-15 2-18 7zM1112 2639l4-14-2-8-7 6zM538 2684l10 7 13 4-1-4 6-10 12 4 8-1 20 6 25-35-2-16-15-17-17 11 5 0 10-7 10 17 0 20-20 22-16-6-28-18-10 6-6 9-6 3zM498 2655l3 0 9-7 4-9 8-10-20-4-6 16zM696 2690l5-3 19-20 26-5 26 5-6-10-26-9-4 4-20 13-21 20zM884 2668l-3-1-5-14 2-1 7 11zM1106 2706l2-3 0-34-10 16 1 12zM1002 2705l-11 14-17 11-8 0-22-17-3-26 23-7 14-2 16 14zM878 2717l-16 1-4-2-7-13 6-14 15-1 10 11zM634 2727l9 2 5-8 14-6-10-12-8 16-10 6zM940 2743l4-22 1 18-3 4zM806 2727l2-3 0 3zM1108 2753l-12-7-18-18-20 14-10 2-24-18-7 5-2 6 5 14 4 4 80 0zM754 2746l5-7-3-3-2 1z"/>
<path fill="#5d5d5d" d="M1422 2894l-1121-1 1-1131 1120 1zM606 2145l8 1 22 7-3-24 8-8 9-17 3-1-1-4 1-30-3-10 1-4 7-6-2-8 4-8 10-7 6-3 12 10-5 20-7 4-6 0 2 6 18 16-3 4 3 8 10-5 16-19 22 6 21 2-15-8-21-6 21-10 6-7 5-19-3-4 3-2 27-3 18 29 42 16-5-20 2-16 34-12-7-16 12 2 4 22 9 10-6 2 3 13 14-2 8 15 4 2 15-20 5-12-5-14 1-20 28 17 9-1 13-11 10 0 8-9-8-13-2-1-10 4-10 10-5-6 0-10 11-7 16-4 13-17 13-8 10 6 4 9 11 15 13 10 12-8-1-14-28-32-8-6-9-4-24-2-32-15-28-1-2-2-2 1-6-3-96 0 2 18 14 10 22 3 12 23-9 20-31 10-10-18-16-18 6-17-8 1-16-6-13 16 1 17-16 5-2 7-12 0-2-4-14 4-18-2-1 23-18 2 4 10-7 5-7-1-17-14-32 0-11 14 11 20 1 10-16 18-4 28-4 2-1 40zM928 1990l-7-11-4-12 3-6 6-3 2-19 3-4 0-8 18-10-15-18 2-1 24 13 6 6 19 2-13 16 2 31-4 2-20 1-18-2zM762 1935l11-4-3-1zM820 1967l-1 24-9 15-16 10-2-10-36 4-19-17 7-12 14-1 14 6 8-17 36-8zM1088 2185l15-8 10-28 7-4 0-10 14-18 18-6 5 8 6 2 8-10 1-16 22-1 3-3-4-12-19-28-14-12-12-5-8-1-16 26-22 14-8-3-11-9 20-24-13-6-1-14 13-14-14-12-22 9-12 17 9 6 6 14-5 20-32-9-6-13-7 2-1 16 2 32 8 8 1 8 12-6 4-6 7-2 4-21 10 5 15 12-7 10 8 16-4 12 3 18-3 22zM1136 2029l-20-16 6 15zM624 2033l8-12-8-6zM706 2054l-16-7 5-14 7-9 13 7zM882 2087l-6-24 3-4-7-4-10 11-9 3zM792 2086l13-15-7-10-8 10-9 6zM1006 2115l1-2-17-20-10-10-4 6zM562 2103l0 14 7 4 7-8 20-2 9 4-11-14-12 1-8-8zM528 2128l12-15 5-10-1-2-16-2zM838 2219l2-4 8-2-10-17-19-23-9-24-4-26-14 6-4-8 0-7-16 3 12 3 5 11-4 8 2 18-9 10 10 28 20 43zM1168 2145l16 7 4-5 12-2 0-30-12-1-8 9-9 6zM578 2193l8-12 9-32-19-2-16-6-27 6 7 22-2 8 13 20 13 0zM684 2188l10-1 15-8 6-10-3-16-4-7-15 29-13 8zM634 2242l1-31 14-14 26-14-33-27-32 9-16 12 32 30-16-1 1 7 20 0zM1239 2205l-5-23-8-7-24-1-2-12-11-3-9 41-24-12-5-17-22-12 3 14 3 6 12 12-2 2 7 2 14 35 23-29 13-22 2 0 8 7 3 7-6 30 5 10 10-22 14-4zM974 2197l10 13 14-7 8 4 12-9 23-5-9-12-28 2-8-20-4 0-11 8 0 8zM1294 2225l-2-10-7-8-6-14-10-12-11-6-10 15-2 17 12 8 12-1 6-4 12 17zM456 2260l14 0 10-4 3-3-3-6 0-24 20-6 12 7-8-13-2-17-4-1-2 20-16 0-16-14 2-16-14 4-14 12-1 54zM724 2255l-10-28 22-43-8 5-18 24-1 24zM517 2227l19 11 2-2 8-31zM1080 2285l11-18 5-4 1-20-25-18-2-5-5 29-11 14 10 18zM460 2228l-3-1 1-4zM1106 2488l3-1 6-16 23 0 44-8 6 1 8-11-6 0-5-6-5 9-26 10-6-11-6 2-16-10-11-28 5-28 8-6 26 16 14 12 20 2-4 12 24 11 14-21 2-10 16-8 8-1 4 8 26 8 14-21 8-22 6-6 4 2-1 2-3 2-9 22 11 34 24 11 9-9 6-14 1-12-1-24 5-20 0-18-2-8 1-24-16-26-3-13-2-1-30 0-26 22-6-22 14-8-14-6 5-10-1-2-12-7-17 13-9 0 8 5 16 5-11 6-15 26 1 2 18 10 4 24-11 16-14-3 0-3-6-10-10-6-14 1-6-6-18-4-6 1-1-20-16-10-14-6-3 10-8 10 2 9 12-5 12 0 16 17 28 5 1 32 9 11 16 3 12-1-1 13 3 10-2 2-6-8-20-2-8 5-14-5-6 5-2-1 3-4-1-2-62-16-8 14-9 28-19 13-14 19 16 18 15 12zM863 2245l29-2 6 2 7-4-5-2-26 1zM650 2296l10-12 7-1-21-19-10-13 0-7-2 5-7 8-1 6 20 9 11 13zM857 2251l-3-4-6-2-35 8 37 13 5-7zM495 2293l17 8 0-6 9-22 3-4 13-4-1-17-4 15-10 7-30 4-3 7zM957 2271l6 2 15 28 2-4 5-28 17 5 7 11 7 2 18-12-16 4-7-12 11-12-2-4-4-1-10 11-22 2-4 2-4 17-4-15-12 0zM1214 2311l11-6 6-12-3-14 3-18-9-7-8 2-11 9 15 22-26 12 1 2zM920 2281l6-1 14-9-16-12-6 4 1 10-2 6zM347 2295l2 14 5 8-2 14 0 20 3 10 12 22 5 38 3 10 15 18 5 20 39 0 3 2 1 99 24 3 5-2 4-38-11-4-14 0 26 0 10 13 6-1 10 3 14-10 15 21 3 13 6 1 9-14-7-14-17-10 11-10-3-12-7-7-6-4-10 1-3 10-9 17-2 1-10-9-10-3-2-2 2-24 10-16 10-3 10 7 10 0 16-18 10-23 2 0 20 11 7 8 17 5 33 33 9 14 2-8 14-4 24-14 0-4 2-4-3-18-21-12-8-30-12-20 40-16 32 3 6 3 21 24-5 21-10 10-12 17 7 8-3 16-17 2 21 7 16 20 6-3 3-22-6-16 9-9 16-33 6-4 8-14 36-12 26 8 6-3 4-33-10-14-16-10-6-10-12-2-4 2 0 10 9 10-5 14-32 7-15-7-7-12-12-1-14 5-15-6 1-9-3 9-3 2-18 2-10-1-18-11-12-2-10-8-8 13-16-8-4 1-18-1-4-4-30-1-6 14-14 13-10 2 3-11-9-4-22 2-16-9-4-9 8-42-2-8-10-9-12-3-26 16 6 20-5 22-11 22-10-12-21-12-5-19-5-7 3-7 5-3 39-6-13-18-8 0-11 10-12 7-12-3 10-14-14 0zM742 2320l14-23 8-4 0-2-26-18-8 0-15 22-1 10 1 10 13 1zM818 2317l-4-12-4-4-24-3-4 1 14 25 12-1zM1140 2349l4-8-8-4-7-8-1-12-5-8-11-9-6-2-5 9 5 12 18 13 2 10zM618 2311l-18 5 2 6 13-1zM842 2399l12-7 12-1 4-4 14-5 16 6 2-2 2 3 22 1 12-9 14-15 6-3 1-4-7 0-17-32-11-6-14 3-7 23-7 6-36 20-5 0-3 11zM1028 2347l0-2-24-14-5 2 3 13 16 6zM548 2368l6-17 15-2-1 10-8 14zM1018 2452l12-29-11-24 27-10 32 5 6-3-2-14 6-6-8-14-12 0-3 18-21 10-7 0-17 5-16-13-4 22 11 8 3 10 2 32zM568 2447l-11-24 1-36 14-23 12 2 14-2 7 7 3 10 9 12-17 20-12 27zM502 2434l-14-4-18 1-17-14-10-18 11-16 24-8 19 10 2 4 3 26-3 10zM725 2405l14-20 17-10-2 24-14 5zM929 2391l7 8 18-7 30 4 13-19-21 8zM1238 2396l-2-3 2-1zM886 2401l2 0 6-6-8 4zM898 2478l8-16 22-1-2-18 10-16-5-10-1-12-4-11-13 19-15 5-9 15 5 12-4 16zM836 2426l6-11-8-6zM1294 2492l0-17 16-2 6-10-12-20 0-14-20-3-8 5-14-7-14-1-7 10 13 16 12 5 10 15 3 12 9 9zM814 2473l-16-7-19-27-11-2-7 14-1 28 6 3 6-1 2-10 24 7 12-1zM696 2695l13-6 14-20 23-5 18 2 51 29 1 2-32 7-2 3 0 18 2 8-9 24 5 6 10 23 6 6 54 10 26 3 28 17 24 4 50-4 26-7 10-14 0-8-17-12-5-28 2-8 6-13 14-21 0-26 34-18 27 16-7-16 5-26-3 0-24 10-25-28-3-25-18 16-16 6-4 5-8-4-18-1-6 4-7-9 9-8 6-15 10-10 7 1-2-12-14-10 0-10 25-5 24 1 26-19 4-7 4 0-4-4 3-20-1-12 18-2-16-6-6 0-8 28-34 0-14 9 5 9-37 18-10-2-11-22-13-7 1 7-4 6-13 9-15 19 1 34 2 8 8 10-8 18 4 4 20-4-2-8 12 3 1 7-3 5-28 1-20 7-19-13-10-10 11-22 16-4-26-10-13 22 1 6-12 1-1 5-36 34 2 10-3 16-10-16-12-4-22-11-3 9-16 10-23 26 3 4zM1126 2563l3 0 9-32 4-4-5-2-7-12-4-3-8 1 1 16 5 6 0 24zM1084 2560l8-3-3-12 5-18-8-10-8-2-2 4-11 12 12 22zM867 2547l-33-7-18 12-6-17-8-10-12 33-32-6-7 1 9 2 4 7 10 9 24 5 8-4 14 20 4-25 12-18 30-1zM1258 2529l3 0-1-4zM603 2571l19 18 6-9 34-11-6-1-4 2-20-14-14-7-12 14zM543 2575l13-5 9-9-3-3-4 1zM494 2657l15 0 5-4 5-14 9-8 12-5 8 7-1-10-5-9-23-13-8-10 3-6-12-15-10 17 9 6 3 8-3 8 2 4-3 4-9 26zM438 2605l4-10-4-20zM458 2641l12-1 13-13 5-11 6-3-9-2-4-8 0-10-11-16 6 22-2 4 7 6-1 2-12 2-20 8 0 10 5 8zM932 2594l-5-7 5-8 4-1 5 9zM1244 2585l2-2-2-3zM752 2611l-6-20-8 0-16 12 1 2zM1106 2714l4-9 0-40 4-4-1-4 7-28-4-11-6-8-18 19 7 22 7 12-12 18 1 18zM534 2683l18 14 10-1 6 3-4-8 4-6 6 2 10-2 16 4 4 6 15-2 9-12 2-14 4-6-4-24-16-18-16 11-2 6 14-7 2 1 7 13 0 16-21 21-42-25-22 15zM1201 2623l-1-2-12 4 10 0zM1000 2705l-11 14-15 10-8 0-21-16-3-26 22-7 14-1 15 14zM860 2717l-9-14 7-14 14 0 10 12-4 16zM626 2725l16 6 8-1 5-11 9-4-13-14-1-3-4 3-8 14-12 8zM702 2725l4-18-14 8zM1110 2751l0-4-4 1-20-15-3-10 4-2-3-1-25 19-11 4-18-13-8-8-2-1-13 12 11 24 88 0zM752 2752l8-1 4-4 2-8 0-2-4 1-4-2-4-8zM725 2747l-15-10-2 8zM801 2783l5-4 14 4-14 9z"/>
<path fill="#656565" d="M1422 2894l-1121-1 1-1131 1120 1zM452 2642l4 1 14-1 17-15 3-6 4-1-1 9-8 14 2 12 7 4 20 0 4-2 7-18 5-5 8-2 16 17-22 12-1 22 19 16 8 2 8-3 6 3-4-10 16-6 16 4 4 10 14 1 12-3 3-4 4-28-4-28-15-20-6-1-4 7-10 5-5 9 10-2 7-5 7 11-1 14-22 19-38-26-5-23-5-6-4-11-17-11-5-12-18-21-13 23 9 4 4 4 1 6-2 10-13 1-7-9 1-13-9-13-2-10 3-29 2 0 4 5 20 5 8-6 10 13 5 26 11 3 18-9 12-11 5-1-7-7-5 1-9 10-2-2 6-10-14-24-7-22-21-20-16 36-2 1-10-9-11-4 1-24 10-16 10-2 14 12 4 1 18-21 12-22 22 14 2 8 20-1 31 31 11 21 7-15 11-3 30-17 30 10 16 22 8-3 4-29-4-10 6-6 30-57 34-10 34 11 0 12 4 10 7-14-9-8 20-14 16 0 4-4 12-3 12 5-14 8 0 3 6 2 10-9 18 1-9 17-11 4-6 6-6 16 3 4-5 18 14 28 11-24 8 0 9 4 8-5-4-7-2-14 10-14-6-12 0-12 2-3 20-9 32 4 10-13-1 15 13 8 3 8 2 22-4 10 13 13 1-1 1-12 8-20-1-8-10-20 25-10 32 6 8-4-2-10 11-10-19-32-4-2-8 17-4 0-32-10-26-16-6-6 2 7-8 10-1 6 7 28-22 10-36 4-1-2 15-14 10-2 7-10-3-4-14 2-16-31-22-10-4 3-8 27-44 25-6-1-8 13 0-16-14-16-2-8-6 2-12-6-3-6-13-4-9 4-2 12 6 6-3 10-18 3-8-6-10 3-8-13-10 3-12-4-10 4-10-4 4-16-2-5-12 28-22-1-24-16 0-32 18-20 10-2-18-16-6-3-10-15-1-38 13-13 28-14 8 6 15-3 13-8 4-6-5-20-5-9-2 1-3 10-11 20-14 7-32-25-7-2-1-30 10-14 25-8-15-14 0-14-4-14 2-6 4-4-3-8 4-10 15-9 12 9-6 20-14 4 3 8 14 12-11 4 6 20 24-12 14-18 42 7 2 7 22-2 10 7 16-19-8-14-2-1-11 15-9 6-16-1-18-11-14-4-1-2 17-9 5-9 5-20 4-2 20-2 20 33 42 15-6-24 2-15 34-13 0-5 2 0 11 31-1 14 12-4 7 12 13 3 2-1 0-6 10-14 8-20-4-8 1-12 19 11 14-2 10-8 14 0 10-13-12-19-14 6-6 5-2-8 6-3 16-3 22-26 6-3 4 3 14 24 18 15 16-11-1-12-3-9-27-29-13-8-30-4-32-14-16 0-20-4-102 0 0 12-2 4-10 6-14-1-10 5-10 16 4 18-12 4-6 0-2 5-6 0-4-7-20 7-16-2-2 26-74 1-6 4-8 12 7 14-1 1-12-9-1 68-10 2 1 22-2 26-10 24-24-3-11-3-7-6-31 6 4-14 12-14 6-14-9-6-14 0-1 70 19 34-24 19-9-11-5-20-8 0-2 2-2 21-12 0-13-11 2-20-21 6-15 14 1 58 22 8 10-1 13-5 5-6-6-6-1-22 3-2 18-5 14 9 2 6 16 10-6 18-10 6-26 3-7 15 5 6 26 13 1-11 8-20 11-4 7 0-1-34 9-32 27-7 14-16 23 21-6 2 3 11 4 2 12 1-1 6 2 18-5 6-3 24 11-2 14 6 10 12-12 17-14 2-6-5-1 6-23 8 4 8 22 0-12 22-12-7-6 3-16-2-8-6-20-2-15 2-6 16-9 8-4 1 1-5-11-4-22 1-14-7-5-8 7-37 3-9-1-4-12-11-16-5-20 10-16-14-14 0-20 15-7-1-1-2 8-11 5-1-26 0-10 30 1 14 5 12-1 30 3 12 11 22 6 44 4 8 13 14 6 20 39 0 3 2 1 138 6 2 26-26 5 16 4 4-33 13 1 11zM869 1967l-27 10-11-18-15-18 14-29 16 10 22 3 10 22zM928 1965l-2-2 2-24 4-4 1-8 23-12-2-2 2-1 12 11 10 1-7 11 1 31-22 2zM754 1935l4 5 4-4 10-3 2-4-4-2-8 6zM926 1974l-4-7 2-3 3 3zM810 1995l-4 6-6 5-2-4-48 1-11-10 5-9 8-1 22 11 6-11 30-4zM1080 2191l30-16 4-12 8-14-1-14 13-17 18-6 4 7 9 4 13-16 0-8 22-4-3-14-20-32-13-13-18-7-17-12-15-6-16-16-12-7-24 8-8 12-7-13-7-6-3 8-20 20-3 12 12-4 16-17 6 9 14 6 6 14-3 18-15-1-19-7-5-15-14 5-1 16-33 14 12 1 6 5 16-8 2 22 5 4 2 16 23-12 2-4 11-4 3-11 13 9-3 6 8 18-1 12 2 14-11 12 1 20zM698 1997l-4 1-6-5 4-3 4 1zM1096 2065l-2-2 22-24 0-2-22-8 0-12 12-11 7 11 8 20zM704 2049l-11-4 7-18 10 6zM888 2093l-7-26 1-8-10-5-12 13-9 2zM1006 2127l7-16-17-20-8-4-14-15-7 11 36 30 1 12zM559 2101l0 18 9 5 8-10 20-3 10 8 1-2-15-19-8 1-10-10zM912 2115l2 0 6-20-20 4zM1294 2505l2-6 0-22 16-2 6-12-10-18 0-12 22 8 4-1 12-11 4-12 3-14-1-24 4-22-2-52-15-22-7-16-34-1-2-18-6 1-12-4 1-2-5-4 4-6 6 5 12-5 0-14-14-28-12-12-15-6-9 12-4 15-5-19-8-8-27-2 0-60-14-2-18 18-1 10-4 10 14 8-7 30-2 2-14-8-4-10-26-16-2 2 4 18 14 18-5 2 15 4 16 41 21-29 19-20 3 6-6 26 9 17 10-26 18-5 18 12 0 14-18 16-12 0 19 10-5 3-6 11-2 0 0-14-12-9-10 3-14 12 12 20-22 10-46-17-6-5-5 14-7 10 3 12-23-15-8 15 7 16 9 8 6 2 3 8 19 9 4-11-9-4-7-8-2-18 12-7 14-2 14 15-3 16-4 4 0 2 13 6-5-12 3-10 14 3 5 17 1 14 12 17 27 7-29 0-16-11-8 2-20-5-10 2-10-4-20-4-9 16-9 28-14 8-14 22-9 4 0 8 11 4 10 11 11 9 2 12 9 12 6-6 23-2-16-4 3-8 32-1 20-5 14 3 12-13 8-14 17-16-5-6 5-16 23-9 4 11 26 9 6-7 2 2 2 8-10 2-28-4-12 16 14 17 8 3 9 12 3 18zM917 2241l1-2-14-5-14 5-16 0-14 7-14-4-44 6 36-25 4-7 9-3 9-10 0-2-14-3-18-25-4-12-7-46-25 11-3-7 1-8-23 4-1 2 17 4 5 10-7 12 1 8-14 14 5 12 13 16 11 56-5 10 6-5 6-1 46 15 8-11 4-12 24 0 16 4zM594 2169l8-19 10 0 13 5-1 2-16 5-12 9zM1046 2193l-12-16-28 2-8-17-10 1-15 12 2 10-4 12 13 16 12-5 12 6 18-14zM920 2210l2-11-1-8-19-26-1 4 9 36 6 6zM714 2321l16 0 12 2 16-27 10-3 0-2-36-25-16-37 28-55-10 4-15 11-11 16-1 38 21 26-15 24-2 14zM953 2275l9-1 14 29 2 1 3-1 8-12 3-14 8 2 4 6 12 4 32-21 12 23 8 2 14-1 11-21 11-8 1-16 19-6 0-26-10 14-20 6-20-13-2-16-6 7 2 14-3 20-17 19-28 9-5-10 8-10-1-4-8-4-10 9-16 1-10 7-20 1zM910 2296l10-8 12-1 18-12-12-12-14-9-10 4-6 21zM412 2350l-10-11-20-12-9-28 3-4 15-6 23-2 10 11 3 9-5 22zM823 2319l-5-16-4-4-38-4 12 16 6 17 16-1zM1254 2327l-10 15-12-5-12-13-8-4-10-1-7-12 19 6 12-8 6-11 18 9zM556 2365l-2-2 4-9 8-2 0 7-4 8zM1005 2373l23-18 32 6 0 14-16 9-9-1-13 4zM570 2445l-13-24 2-34 13-22 16 4 8-1 19 25-17 20-12 26zM497 2429l-27 1-16-13-10-18 10-15 24-8 18 10 2 3 3 26zM694 2473l-18 0-4-16-26-14-9-32-10-18 37-14 30 2 6 2 21 24-5 16-23 34 5 6zM733 2401l9-13 10-5-1 14-9 4zM1173 2453l-19 7-4-7-8 3-15-9-11-28 6-29 8-3 24 15 25 25zM829 2471l-19-2-10-4-19-26-27-10-1 48 13 6 13 0 1-6 16 5 6 6 6 0 6-13zM1209 2443l-1 2-18 1-8-15 2-1zM982 2450l-2-3-10-6-10 0 6 6 10 4zM865 2469l-17-10-11 10 3 2 22 2zM694 2701l22-10 13-20 17-4 18 1 49 27-1 2-28 6-3 4 1 26-11 26 7 9 9 23 5 5 8 3 74 10 22 13 16 6 20 2 36-5 14 1 22-7 12-18 0-19-14-11-2-14 4-15 7 17 5 5 4-5 86 0 6-4 0-15-6 4-6-3-10-8-1-8 17-4 6 2 0-5-2-3 2-8 0-38 2-3 10-3-4-14 3-14-6-18-9-15-30 33-32 14-24-26-4-30-20 18-20 9-14 1-18-4 10-24 10-9 11-1-4-16-8-6 0-6 17-3 27 3 21-15 8-16 10 1-11-8 4-30 23-1 2-5-22-10-15 2-7 26-26 1-10-3-1 6-11 8 7 12-35 16-9-2-13-23-20-11 4 12-12 12-16 21-46-10-8 2-8 5-3-8-11-17-6 9-8 27-36-7-18 4 22 6 2 2 2 14 6-2 30 5 6-2 14 21-8 2 4 11-38 37 0 9-2 2-4-6-42-21-4 16-10 6-8 14-15 16 3 6zM1062 2531l14 24 20 23 38-15-3-2 8-30 13-8-14 2-10-16-14 1-2 1 2 36-3-12-19-22-14-2-3 8zM728 2545l1-2-5-12 0-10-6 8zM1265 2533l0-8-5-2-4 8zM1276 2549l3-2 1-12-10 1zM753 2613l-3-27-2-2-12 0-16 13-8 1-8-1-9-20-3-18-4 1-20-20-20 20-14-10-12-3-6 2-12 14-10 4-1 2 6 2 5 8 18 18 6-16 60-17 3 17 10 22-1 5 16 1 36 7zM887 2625l-19 9-27-19 0-4 10-20 11-3 13-1-18-4-19-9-9 13 1-18 6-9 22 0 4 17 16 1 2 11 11 14-8 18zM1246 2587l5-6-5-21-6 17 1 8zM542 2571l4-6 1 2zM1172 2590l4-13-8-9-4 3 5 6zM936 2587l-2 0 0-2 2-1zM1162 2641l12-8 26-3 6-5-2-10-18 4-14 7-1 3-5 2zM914 2621l-2 2-3-2 3-3zM1048 2741l-18-12-12-13-4 1 2-4 1-28 31-17 22 13 8 9 1-1-2-10-5-10 8-30 17 26-7 14 1 20 10 16-17-1-4 7-10 9-12 8zM665 2681l-1-2-6 0zM999 2705l-11 14-16 10-6-1-19-15-4-24 21-8 14-1 14 14zM878 2716l-16 0-4-2-6-11 6-13 14 0 9 9 0 4zM632 2732l10 2 12-2 6-13 4-2 1-2-13-14-2-9-11 7-6 12-7 5-5 7zM739 2749l-32-22 1-12 6-19-20 11-2 6-9 4 12 6 7 8-3 12 9 4 12 0 2 2zM602 2711l-7 2 5 0zM768 2757l7-22-15 1-6-11-2 1-4 25z"/>
<path fill="#6c6c6c" d="M1422 2894l-1121-1 1-1131 1120 1zM986 2830l20-8 12-19 0-38 2-3 88-1 6-4 0-23-10 6-10-7-1-4 11-3 10 2 0-59 16-2 3-4-16-48-11-20-28 38-32 14-22-24-4-37-25 23-17 10-14 1-14-3-2-2 8-21 12-10 12 1-4-20-3-4 1-2 40 3 14-11 10-24 16 0-9-8-7-2 5-26 15-4 10 0 5-10-23-12-18 1-4-1 0-20 6-14-2-12-9-20 23-8 32 5 10-5 0-8 15-12-12-22 0-6-14-18-15-12 8 18-8 22-32-9-28-17-12-13 6 15-15 16-3 11-6-6-18 6-2-1-16-30-22-12-1-2 20-20 27-16 16 30 8 0 14-20 20 5 30-20 6 25 3 6 27-2 12-24 16-14 1-10 13-4 0-54-18 26-6 6-12 3-13-9-1-22 39-22 7-12 2 10 12 16-7 4 21 4 13 28 5 21 25-33 11-10-2 18 10 20 2 1 2-5 2 0 4 10-16 8-24 2 16 13 8 13-14 6-10-4-10-15-6-1-6 13-16-5-8-8-7 20-4 6 1 10-20-13-2 0-10 17 10 23 6 4 8 2 3 7 21 11 10-13-14-6-7-8-1-18 10-6 14-2 13 14-3 16-12 10 26 14 1 2-9 3-8-2-16 4-30-7-9 16-9 28-10 6-8 16-10 12-14 4-1 16 1 2 22 5 10 11 6 16 10 14 10-11 18-2 9-5-11-3 0-3 24 0 14-3 18 5 26-28 18 12-6 20 2 5 6-1 6-18 0-30 22 22 7 28 23 22 8-12 0-22 14-2 8-12 0-5-8-13 0-9 16 7 4 0 10-6 10-12 4-22 0-24 3-24-1-52-17-24-7-16-32 0-4-2 0-46-14-28-10-10-16-8-6 0-10 17-4-11-7-6-27-2 0-64-16-2-4 5-2-1 4-6 16-3-3-19-19-32-16-16-16-6-16-11-16-7-28-22-9-2-19 8-6 6-3-6-17-14-4 20-10 8-9 12-5 16-8 2 6 4 0 14-24 10-17 10-5 6 43 34 3 23 14-25 30-18 16-6 11 24 3 24-26 24-24 13-20 2-7-13-13 0-21 18 2 16 17 21 8-4 14 9 22-19 23-7-5-9 14-3 7 12-7 8 5 24-3 20-14 17-26 8-6-7 7-8-2-6-13-8-6 7-14 2-10 10-16 2-8-1-4 6-2 0-9-8-19-12 2-15-14-4-22 6-12 1-16 8-10-3-4-3-32 5 25-19 4-8 9-3 12-11-27-30-9-64-34 15-3-3-1-13-16 2-14-3 0 10 22 4 6 10-12 16-19 14 28 32 9 58-22 40-38-26-15-38 33-62 0-2-18 8-23 18-4 6 0 34-3 18 17 24-10 18-2 20 3 17 28 1 16-28 12-3 4-4 15 19 4 18-7 4-3 14 2 6-8 2-11-10-18-2-12 3-18-6-8 2-5-3 3-8-4-9-12 30-14 1-30-16 0-31 16-19 14-1 3-3-31-22-8-12-2-38 12-12 28-13 8 5 16-3 18-11-7-26-7-11-5 15-10 18-13 8-32-26-4-1-1-31 3-4 34-13 7 3 5-6 18-10 5-10 9-9 14 3 12-1 11 3-1 14 28-3 8 5 21-26-7-12 38 12-8-28 3-14 35-13 10 25-1 18-3 1-10-4-12 12-12 3 43 30 19 24-17 54 8 32 11 12 12-1 1-19 2-6-3-17-22-17 18-59 5-9-1-2-10 0-20 4-9-28 0-8 11-4 5 8 9 3 14 2 0-13 6-8 11-26-1-10 8 4 12 0 10-2 6-5 16 1 14-16-9-18 11-6-6-10 14-17 4 1 12 24 22 18 20-14-2-16-4-11-26-26-14-8-30-3-32-14-28-2-10-2-104 0-13 12-5 1-22 12-5 15 4 12 0 10-21 6-6-10-24 9-16-4-1 27-1 3-72 1-7 4-9 13-7 5 0 68-16 2-1 14 2 23-12-15-6-1-9-9-3-12-13 0 9 10-15 14 0 20 13 8 7-12 21-3 12 10 0 3-8 22-20-1-13-3-3-5-10-5-21 4 2-8 10-12 8-20-13-5-16 0-1 69-4 4 20 30-17 14-6-8-6-21-14 0-4 26-10 0-8-7 2-18 16-2 7-14-21 0-12 12-18 6-15 16 1 63 6 0 22 7 20-6 6-8-7-8-1-22 18-7 16 11 0 8 11 8-3 12-12 8-24 2-6 13-4 2-18-12-14-4-8 4-8-7-74 0-11 32 1 14 5 14-1 30 2 10 10 22 7 46 5 10 11 10 7 20 4 2 36 0 3 2 0 136 8 12 2 10 7 11 6 2 16-3 13-10-5 12 0 6 12 10 36 1 2 23 12 13 10 6 8 1 6-5 6 2-1-11 13-5 16 4 6 14 22 0-11 19 15 12 8 2 18-2 10-18-8-6-7-10-1-12-2-2-6 2 2-11 8 3 16 0-2-4-23-8 3-5-8-1-6-30-15-20-7 0-4 8-10 6-7 10 1 3 18-7 4 8 0 9-22 19-21-14 1-8-1-2-13-4-3-16-7-6-4-14-14-14 4-1 4-5 14-7 12-12 8-1-10-10-6 0-14-22-10-26-15-16 0-10 13-15 10-20 16 11 4 8 24-1 32 33 10 22-2 10 8-4 22 12 1 2-9 11-12-6-6 0-12 4-8 8-26 9-1 2 17 5 8 16 14 15 10-21 56-16 2 1 2 14 10 22-8 10 62 7-2-39 16-7 34 6 5 7-2 4 8 18-41 40-51-26-3 22-6 5-10 17-14 16 6 6-3 24-18 4 21 10 4 6-2 8 2 3 10 5 36 4 4 3 20 7 9 12 7 20 10 8 78 11 22 12 18 6 20 2 36-4zM760 1919l5 0 12-12zM868 1966l-26 9-10-18-15-16 13-27 14 8 24 5 9 20zM928 1964l1-25 4-4 1-6 26-13 12 13-2 6 2 30-22 3zM747 1931l11 13 3-7 11-4 5-4-7-3-6 3zM724 1945l-2-1-2 4 4 0zM763 1995l-17 1-6-5 2-4 4 0zM1112 2030l-14-5-1-6 7-7 5 7zM1064 2054l-14-1-18-7-4-17 12-13 12 2 9 5 7 14zM780 2075l-16 0-10-8-18-8 12-6 6-12 4-18 4-3 19-1 20 32-12 18zM664 2079l-6-14 4-12-5-12 5-8 8-6 6-2 11 8-4 18-7 5-10 1 4 9 9 9zM700 2044l-5-3 5-9 5 3-3 9zM950 2073l-1-4-6-4 3 6zM1010 2099l-9-10-12-6-7-8 2-2 6 0 12 10 4-2 4 10zM1162 2174l-14-11-25-14-1-14 14-17 16-5 2 6 13 8 1 10-6 12 6 4zM756 2157l2-14-5 6zM603 2159l3-5 4 1zM472 2343l-6-10 7-34 5-11 40 19-1-14 8-18 9-3 11 1-3-40 8-28 24-8 6-4 6-8 18 13 4 16 6 5 8 0-4 10-7 50 19-5 14 5 8 10-10 14-12 2-19-18-1 20-14 4 6 13 18 1-8 16-12-4-6 3-16-2-8-7-20-3-20 2-6-6-2 21-4 7-12-4-22 1zM1228 2248l-4-3-5-18 5-14 18-5 16 10 0 16-16 14zM787 2293l23-20 26-6 14 3 14-22 16-1 24 7 8-3 2 2-7 4-2 28 6 28-9 32-46 24-6-3-18-17-4-28-7-20-5-4zM372 2275l5-6 9-3 3 1-11 9zM412 2349l-8-10-22-12-7-28 1-2 20-8 8 0 20 12 2 6-5 22zM1244 2341l-10-4-11-12-18-10 7 0 13-8 9-13 14 8 2 3 3 20zM580 2307l-2-1-2 3 4 0zM811 2333l0-2 13-6 3 0-13 10zM561 2361l1-4 2-1 0 5zM948 2382l-1-1 7-7 13-1 11-15 6 17-10 5zM1054 2369l0 8-12 6-10-1-8 2-11-9 15-12 24 4zM570 2444l-12-25 1-30 13-23 22 5 18 24-15 18-10 24zM494 2428l-24 1-15-12-10-18 9-14 22-8 19 10 3 4 2 24zM690 2467l-8 0-2-8-31-16-10-32-9-18 34-13 28 2 8 3 19 22-5 14-24 38 2 4zM1163 2451l-9 4-2-4-10 4-14-8-11-30 6-26 7-3 24 15 24 24-11 12zM741 2397l5-6 3 0-1 5zM647 2525l-2-28 27-17 30 9 11 12 7 12 10-3 5-33-2-6 13-24-1 26 2 2 19 9 26 1 12 15 4-3 8-20 18-4 30 1 3-7-23-13-2 0-2 7-8 6-8-2-14 2-10-5-16-23-29-12-1-2 10-18 34-10 31 10 2 12 3 12 2 0 8-16-9-8 19-13 20 0 10-4 8 3-11 8 3 3 8 3 8-6 11 2-6 10-7 2-7 8-7 18-4 22 19 36 4 14-25 34-38-7-6-4-14 2-16-23-7 12-7 27-44-8-10 3-8-16 2-21-14 17 10 18 0 10 8 9 8 2 0 7-34 12-7-14-3-22-8 8-20-22zM938 2536l-12-22-26-17 16-21 2 1 12-10 16-2-14-14-1-10 8-12-6-12 1-14 20-9 33 5 4 2-4 10 1 8 6-6-4-10 2-2 16 10 2 18-9 14 9 12 16 14-8 26-20 0-18-9-2 1-3 16-6 4 9 16-32 14zM1234 2437l-13-14 3-14 6-5 18-5 4 13 3 1-5 4-6 10zM1196 2439l-4 1-3-3zM990 2453l-8-10-6-4-24 2 14 14 6 3zM492 2524l-9-7-11-4 1-26 9-13 8-2 4 1 15 14-8 22zM1059 2531l15 26 32 38 12-23 20-8-4-3 0-8 7-22 11-6 4 2 4-10-8 5-12 3-14-19-19 3-1 9-8-8-20-4-4 13zM1274 2559l0-4 7-8 2-12-1-4-12-2 0-6-8-4-6 8 0 8 8 2zM500 2611l-12 0-7-10 3-12-5-8-4-24 3-14 2 3 22 6 4-2 3 5 2 10-1 1-6-7-2 1-15 27 9 3 5 5 2 6zM1248 2589l8-10-5-22-5-7-8 23 1 12zM1208 2559l4-1 1-3-3-1zM1172 2603l8-26-5-8-9-8-8 8 10 8zM868 2633l-18-11-9-9 11-22 10-3 16 0 12 15-8 18 2 4zM466 2607l-1-2 5-5 2 2 0 2zM1156 2652l4-1 18 11-1 5 7-1 6-4 2-5-8-2-14-12 6-5 24-3 10-7-2-19-34 9-4 9-9 4-6 8zM1220 2641l11-8-1-2 10-11-10-1-8-4 4 6 7 4zM528 2651l-2-2 3-8 5-4 7 8zM1046 2739l-15-10-12-14-1-28 30-18 22 13 14 18-7-29 3-17 9 15-4 8 3 28-2 0-6 14-11 10-13 9zM713 2721l0-8 5-14 10 0-9-6 15-20 28-5 18 8 31 19-29 8-2 8 0 21-19 3-3-2-6-16-6 30-18-12zM998 2705l-12 14-14 9-6-1-18-14-4-24 20-7 12-1 16 14zM878 2716l-16 0-4-3-5-10 5-12 14-1 8 9 1 4zM603 2711l-3-1-5 3 5 1z"/>
<path fill="#747474" d="M1422 2893l-1121 0 1-1130 1120 0zM990 2835l18-11 12-21 0-36 2-3 86-1 8-6 0-86 23-2 4-4-11-26-4 0-10-25-11-19 13-23 12-5 15-2-10-4 0-12 5-16 8-6 6 4 2-1 9-17 1-12 7-4-15-6 5 20-11 9-14 4-14-20-19 1 11-11 12-1 6-4 12-4-4-2 16 0 26 6 26-26 12 28 21 0 5-34 2 2 2 10-5 24 13 5 9 9 17 11 12-17 0-20 14-2 8-12 1-10-4-2-4-10 13 5 18-9 10-12 4-24 0-24 3-24-1-52-26-42-32 0-4-2 0-44-17-34-9-8-16-6-9 0-7 7-3-3 5-4-34 0-4-2 0-68-6-24-18-32-14-16-50-23-26-20-12-7-4-4 0-18-4-12-6-10-22-18-14-8-30-3-36-13-36-4-104 0-16 7-34 10-21 17 14 2-19 3-5 5 1 4-14 13-2-8-14 7-1 30-1 3-70 1-8 4-9 12-7 6-1 68-28 2 5 6 1 18-10-8-5-16-33 0 10 10 0 2-7 6-10-3-18 0-1 73-3 2-42 0-12 12-16 4-17 18 0 62-3 2-77 0-4 8-7 26 6 30-1 28 2 10 10 24 6 46 7 12 9 8 8 18 5 4 36 0 3 2 0 136 7 10 4 13 6 11 26 4 16 12 36 1 2 23 12 13 12 8 8 0 8-7 5 0-1-10 10-4 18 4 5 16-10 6 7 1 2-3 6 2 4 4-2 6 4 5 16 11 16 1 21-5 5-12 16 5 4 5-2 8 6 6 10 5 34 5 24 12 9 12 7 19 10 9 78 10 22 11 18 6 22 2 34-4zM868 1965l-24 9-11-17-15-16 12-24 2-1 12 8 22 3 10 18-2 8zM970 1965l-20 2-22-5 1-23 6-4 1-7 22-11 11 14 3 30zM764 1954l-6-7 2-8 16-9 2 1 4 10 1 8-11 5zM950 2264l-26-17 0-8 4-10 0-28 4-8-1-10 1-4-27-20 16-56 8-14-1-2-16 0-15 2-8-26 3-2 16 8 20 1 1-1-1-16 16-36 30-4 18 1 19-21-5-8 20-12-2 22-6 5-13 19-3 8-16 5-6-6 6 12 9 5 2 10-41 23-7-9-10-6 5 12 36 24 19 16 1 18 6 12 2-14 10-16 24-15 8-3 24 18 2 22-26 22-30 11-10 1-7-10-15 0-28 22 2 14 6 1 18 23 6-2 14 9 4-2 20-21 28-7 8 29-3 22-13 15-24 6-4-5 4-4-2-9-16-9-6 4-8 1-16 15-14 2-10-2zM1077 1975l-3 2-1-2 3-2zM848 2068l-9-27 2-12 33-14 11 24-2 18-13-4-10 12zM1062 2054l-24-5-6-4-3-14 13-15 18 7 7 14zM1104 2023l-3-2 3-3 1 3zM780 2074l-16-1-22-14 6-4 6-11 5-21 3-2 18-2 20 32-12 18zM664 2055l-6-14 4-8 8-6 6-1 10 7-3 18-7 4zM672 2073l-6 1-4-7 2-9zM765 2101l25-3 4 1 26-30-2-4 2-1 13 5-9 30-11 4 3 8-22 11-2-18zM862 2244l-10-2-8-5-14 2-3-2 13-8 4-10 9-4 9-10 4 0-2-7-4-1-21-24-6-68 15-33 42 28 18 23-11 38-11 26 5 24 12 14-1 2-18 7-6 1zM642 2153l2-31 34-14 15 9 8-14 10-6 7-14 6-6 10 3 14-2 9 3-3 18 4 20 6-2 17 4 6 10-11 14-6 2-12 9 2-11-4-7-9 11 1 9-22 12-6-1-6-19-8-13-7 18-9 17-12 7-30-24zM608 2123l-10 24-30-4-4-7-12-7-10 2-2-2 10-17 2 10 14 9 12-16 18-2zM1154 2164l-30-15-1-14 13-16 14-5 16 15 1 8zM772 2288l-38-26-14-33 36-65 28 30 8 47 1 10zM526 2199l-4-3-8-23-3-2 3-3 20 25zM1080 2217l-1-10 7-14 30-16 8 2 5 8-1 2-13 2-7 12-17 16-5 2zM489 2203l-5 0-5-4 1-11 10-1zM780 2349l-34-9-12 1-26-8-6-14-14 33-12-1-28-14-2-4 1-26 17-19 12-1 12-4-10-7-4 1-12-10-12-6-8-12-2-6-1-30 11-12 28-13 8 4 18-3 1 2-1 30 2 8-3 20-5 6 5 2 13 18-7 12-3 20 3 22 29 2 18-30 12-4 4-3 14 17 4 18-4 0-4 4zM472 2342l-5-9 7-34 4-8 2-2 40 21 2-1-2-18 6-14 6-2 17 2-4-48 7-23 16-5 14-10 20 9 5 15 10 8-5 14-6 40-7 8 1 20-5 4 3 10 6 8 11 0-5 11-8-3-8 4-16-1-8-9-20-5-16 2-10-7-6 30-14-2-18 1zM1100 2339l-16-21-11-9 1-2 12-1 12-27 22-18 0-6 8-2-3-18 3-40 22 3 13 27 6 26-9 28-16-4-10-8-12 32-18-11-13 23 10 24zM1228 2246l-8-19 5-14 17-4 15 10 1 14-16 14zM486 2264l4-7-9-12 0-20 17-6 15 10 0 12 6 6-1 6-14 9zM854 2366l-21-19-3-38-3-8-8-6 0-2 25-12 21-32 11 0 27 10-1 26 7 30-8 28zM1200 2281l-4 2-5-2-13-18 2-1 17 13zM1060 2351l-31-8-25-16-18-20 14-20 18 5 28-19 2 1 7 33 13 24zM954 2354l-2 0-14-29-22-12 0-2 18-19 26-15 2 0 12 28 10 4 10 20-18 18zM650 2291l-8 11-10 1-18-18 14-6 16 5zM412 2347l-8-9-21-11-7-28 2-2 22-7 23 11 2 6-4 22zM1244 2340l-10-4-10-11-14-8 16-10 8-12 14 7 4 23zM572 2311l2 2 14-6-10-7zM1150 2341l-12-5-6-7-1-18 11-6 12-2 11 12 1 4-3 14zM1100 2339l2-2 12 4 2 4 19 10-1 1-20-3-6 11-9-15zM570 2442l-12-25 2-28 12-22 21 6 18 22-15 18-10 23zM1048 2375l0 4-6 3-16-1-5-4 7-6zM494 2427l-24 2-14-12-11-18 9-12 22-9 17 9 4 6 2 22zM1033 2455l-1-12 4-8-2-12-8-24 20-7 32 5 10-4 2-6 10-7-4 16-6 5-10 20-12 15-19 3-1 17zM686 2461l-36-20-9-30-9-16 1-2 31-12 26 2 10 4 17 20-4 14zM1142 2454l-14-9-11-28 5-23 8-5 24 16 22 22-22 22zM736 2544l-3-7 0-26 5-40 27 14 25 2 16 23 10-31 18-4 28 2 4-2 3-8-21-12-10-8-1 12-3 3-24 2-10-5-16-22-4 0-25-12 9-17 34-10 29 9 7 29 10-21-7-8 17-12 24 0 6-2 4 2-8 6 2 3 12 6 8-2 0 3-13 14-14 38 5 12 17 24 2 12-22 34-36-6-7-5-12 2-14-19-2-5-9 13-9 28-44-10zM940 2535l-14-23-24-15 28-29 29-1-25-22 0-4 7-12-7-12 1-14 19-8 34 6-2 10 2 16 12-12 1-4 6 4-1 6-12 18 13 18 7 6 5 10-5 16-14 0-28-14-7 30 11 16-28 14zM1234 2435l-12-12 2-12 6-6 16-5 2 1 3 14-7 12zM998 2457l-15-18-39 2 24 24zM614 2549l-40 15-12-10-6-1-13-20-9-26-7-8-1-24 10-15 10-4 12 10 8 2 16-3 28 28 14 26zM492 2523l-8-7-12-5 2-24 8-12 8-2 4 1 13 13-6 22zM1039 2517l1-13 4-13 14-3 14 1 8-16 18 30 0 2-22-5-3 19-7 7-8 3-11-12zM724 2570l-14 4-2-1-4-30-14 13-19-21-22-10-2-28 27-16 29 10 9 10 2 7 8 9-8 14 5 10-2 20zM1272 2566l12-17 1-20-21-14-9 12-2 10 8 4zM950 2616l6-21 10-9 17 1-1-14 10-6 26 3 6-5 16-36 18 3 16 29 28 34-25 36-31 14-21-22-5-41-18 15-12 3 1 9-13 10-12 1zM643 2539l-1 2-5-2zM484 2578l-4-29 8 2zM1250 2591l11-14-3-12-12-16-6 2-5 18 2 18zM1200 2568l12-2 4-11-6-6-2 2zM1180 2669l12-6 9-8-10-2-13-10 22-3 15-11 1-10 7 10-13 18 6-1 4-3 4 0 10-8 2-8 5-6-1-2-10-1-4-7-22-13-26 7-1-4 7-24-6-10-14-12-12 10 16 14 5 34-5 14-17 6-2 4 1 22 2 2 8-2 11 8 1 2zM586 2642l-24-6-3-9-11-10-4-19-6-5 2-5 8-5 18-16 8-1 23 7 13 27 8 9-6 1-6 11-10 6zM670 2717l-9-6-7-10-2-16 22-4-4-7-16-5 13-16-27-3-4-19-16-22 10-26 56-15 3 13 9 20-14 16 28 4-1 18-4 4 3 2-25 38 8 8-2 20zM772 2647l-8-8-31-16 22 0 1-10-3-30 15-7 22 3 10 4 11 26-25 26zM500 2610l-12 1-6-8-1-6 5-10 10 3 5 5 2 6zM884 2624l-14 8-4 0-23-17 0-4 9-18 10-4 16 0 11 14-7 16zM1256 2599l4-2 0-5-4 3zM583 2659l5-16 20-8 4 6-2 6-20 15zM718 2713l2-6 27 2-25-16 12-10 6-9 22-4 18 8 29 17-27 8-3 8-1 20-16 3-4-3-6-17-2 1-6 23zM1048 2738l-16-10-12-13 0-29 28-16 21 13 15 20-6 16-12 10zM997 2705l-12 14-13 8-6 0-17-14-4-24 21-7 10-1 14 14zM878 2715l-14 1-5-3-6-10 6-12 13 0 7 8 1 4zM1099 2733l3-3 5 3-5 2z"/>
<path fill="#7c7c7c" d="M1422 2893l-1121 0 1-1130 1120 0zM994 2839l16-12 12-23 0-35 2-3 84-1 10-6 0-84 2-3 32-1 8-3 6 3 16 0 12-6 16-13 16-5 12-8 4-8-2-8 1-4-11-2-7-12 1-10-12 2-20-16-4 0 0-4-8-13-18-15-14 14-6-2-2-16 3-12 7-4 8 7 4-7 14-12-6-8 1-6 11-5 26 16 3-5-1-5-21-7-1-2 24-23 9 19 25 4 18 16-11 18-1 12 5 2 11 30-2 2-20-27-10 3-4 10 3 26 16 6 5 7 5-3 7-12-3-6 1-4 6-1 15-25 2-22-3-2 7-8 8-14 1-20 12-2 5-4 11-24 21-10 9-14 4-22 0-24 3-26-1-52-6-14-13-14-9-15-36-3 0-42-16-36-10-7-16-7-48 0-4-2 0-66-6-24-17-34-15-18-52-24-34-24-3-4-3-27-10-17-22-16-12-6-34-5-34-11-38-4-104 0-16 7-36 10-14 8-28 26-17 9-3 33-70 1-8 4-17 20 0 64-1 3-88 1-7 6 0 82-3 2-40 0-14 11-19 7-14 18 0 60-3 2-76 0-3 4-9 32 5 32 0 28 11 32 4 42 7 18 8 6 11 18 6 6 36 0 3 2 0 134 16 36 29 5 16 11 34 1 2 22 18 20 8 5 10-2 8-8 4-2-2-8 1-2 11-4 16 4 4 16-9 6 6 2 3 7 12 11 14 9 10 1 36-4 3-2 3-7 6 2 2 3-2 8-2-3-2 1 12 8 10 5 34 8 24 13 8 10 8 20 10 9 76 9 26 12 18 5 22 2 34-4zM867 1965l-23 8-10-17-14-15 3-10 9-14 12 8 10 0 13 4 8 16zM930 1962l-2-5 2-18 6-4 2-7 20-10 11 15 1 30-20 3zM764 1954l-5-7 2-8 16-8 5 10 1 8-11 5zM1008 2007l-2-2 6-7 1 1zM991 2025l-5-6 8 0 12-14 2 2-10 16zM956 2074l-6-8-18-15 3-12 11-21 26-3 17 30 0 8-17 13zM848 2067l-8-26 1-12 33-13 10 25-2 16-12-5-10 13zM1062 2053l-8-2-4 1-16-7-4-14 12-14 18 6 6 14zM780 2073l-16-1-16-13 14-37 18-1 19 28 0 4-11 15zM664 2054l-6-11 5-10 7-6 6-1 10 9-4 16-6 3zM1050 2261l-22 4-2-2 1-4-3-10-20-12-6 3-19 19-15 3-12-3-26-12-1-8 7-26 0-12 10-18-34-26 15-54 11-18-2-2-32 1-4-16 12 4 26 1-2-18 2-2 9 22 15 7 39 31 1 20 8 21 3-23 12-20 27-15 25 17 2 20-25 23-32 2-8 4-4-5-20 1-33 27 3 12 12 1 18 23 18 9 7-5 19-20 28-6 7 32-3 16zM546 2083l-2 2-16-2 10-7zM862 2243l-10-2-14-8 4-4 3-10 9-4 8-8 7 0-5-13-4 1-20-24-6-60 1-6 15-30 38 26 18 22 0 6-11 32-16 36 3 18 3 6-3 10zM644 2152l2-29 32-14 22 16 26-44 24-2 6 2-2 11-12 1-8 11-10 2-8 5-7 22 7 12 15 2 9-35 14 1 2 8 8-3 16 3 6 10-10 13-10 3-6 4 0-6-4-12-2 1-14 20-6 3-16-1-12-22-2 2-6 19-9 16-11 6zM808 2093l-1-2 8-8-3 8zM598 2146l-18-1-13-4-3-6 12-18 20-3 11 9zM1150 2159l-24-10-3-12 13-17 14-5 4 6 11 6 1 10-6 12zM772 2286l-36-25-14-32 34-61 2-1 25 28 8 44 0 12zM1090 2201l7-12 9-4 6 2-7 2-13 13zM686 2350l-10 0-26-13-2-4-1-24 17-19 26-5 6 10 1-16-1-2-16-5-8-1-20-11-8-11-3-10 0-28 11-10 28-12 6 4 18-2-1 28 2 10-3 18-17 18 15 1 9 13-3 6-3 28-15 36zM486 2200l-2-1 0-4 2 0zM592 2339l-15-2-9-11-18-5-10 1-15-11-2-20 3-10 4-3 23 3 0-18-6-38 7-18 8-2 18-10 22 7 3 13 9 8-1 8-7 12-5 30-15 14 2 10-2 1-6-5-2 0-11 16 5 8 8-6 12-4 12 21 7 1-3 6-6-1zM1098 2293l4-12 28-23-4-23 3-38 19 2 9 20 5 6 5 22-8 30-15-4-10-9-2 0-10 31-18-10zM1256 2233l-14 13-14 0-7-19 4-12 15-5 17 11zM494 2260l-12-15 0-18 2-3 14-4 15 11-2 12 2 6-3 4zM854 2364l-19-19-1-44 32-50 4-1 30 11-1 24 3 6 3 20 3 4-8 27-23 9zM1058 2350l-28-8-4-4-22-13-16-16 12-20 14 4 6 0 26-18 8 34 11 22zM954 2353l-2-1-14-29-20-10 0-2 16-17 26-16 2 1 11 22 1 7 9 3 9 18-17 16zM648 2293l-6 9-8 0-13-13 7-4 14 3zM412 2346l-8-9-6-1-14-9-6-29 20-7 24 11 2 5-4 22zM516 2349l-12-3-18 1-14-7-4-7 7-32 5-10 43 22zM731 2335l7-2 20-33 10-1 4-4 13 16 4 16-7 4-4 17zM1244 2338l-10-3-9-10-14-8 16-10 7-11 14 9 4 16-1 6zM1150 2340l-12-5-5-6-2-18 11-6 12-1 10 11 1 4-3 14zM1106 2347l4-3 9 5-7 0-2 4zM570 2441l-11-26 1-23 12-23 18 4 19 22-13 16-11 24zM494 2425l-24 3-13-11-11-18 8-11 22-9 16 8 4 6 2 20zM715 2409l-3 10-26 39-34-17-10-32-8-14 30-12 24 2 11 4zM1142 2452l-13-7-11-28 5-22 7-5 24 16 19 19-20 22zM1038 2445l-3-26-7-19 20-8 20 3 8 4 14-6 1 4-11 24-8 10-5 4-23 4-2 5zM1092 2395l-2-2 2-2 1 2zM897 2413l-9 12-15 36-3 3-22-10-14-13-2 17-22 3-10-5-13-19-7-1-4-3-20-8 10-17 32-9 29 10 1 12 6 17 11-23-6-8 15-11 28 1-4 6 4 4zM938 2441l-1-2 6-10-8-12 1-14 18-7 32 5-1 10 3 24zM1234 2434l-11-11 2-12 6-6 15-5 4 15-6 12zM1010 2485l-6 0-22-12 24-9 6 13zM612 2547l-38 15-11-9-7-2-11-18-9-26 9-30 1-10 4-2 16 5 16-3 26 26 13 24zM898 2511l-24 33-32-6-8-6-12 1-14-22 10-30 16-4 28 2 4-2 6-11 22 31zM974 2521l-28 13-6-1-14-24-22-12 26-28 34 0 2 2-4 32zM492 2522l-8-7-10-3-1-3 1-22 8-11 8-2 4 1 13 12-7 22zM788 2552l-28-6-23-7-2-28 5-37 24 12 26 3 13 20-8 16zM690 2554l-17-19-23-12-3-24 25-16 6 0 24 8 8 10 2 8 7 8-8 14 1 6-2 1-2-3zM1115 2503l5-6 8-2 10-6 16-3 8 13 2 10-12 11-12 3-14-21zM1040 2516l0-11 6-14 14-3 14 4 6-5 7 10-5 0-6-3-3 23-9 9-6 2-7-11zM1046 2643l-20-22-5-44 19-45 18 4 12 19 2 7 28 35-24 33zM1192 2576l20-2 7-21-11-8-10 12zM1144 2649l-6-12-10 0-9-24-10-18 11-21 14-5 16-3 17 13 4 34-3 13-24 7zM588 2639l-22-9-14-11-10-28 26-23 27 5 16 34-5 12-10 6zM640 2637l-3-8-14-20 7-24 20-7 36-9 2 12 9 20-21 22 13 2-15 9-12 4zM772 2644l-17-15 3-14-4-30 14-7 22 2 10 5 10 22-26 28zM950 2615l6-19 12-10 17 5 5 18-12 9-12 1zM500 2610l-13-1-5-8 4-13 10 3 4 4 2 6zM884 2623l-14 8-4-1-22-15 0-6 9-16 9-3 16 0 10 13-7 16zM597 2649l2-8 9-4 0 5zM1192 2647l16-7-6 10zM670 2716l-8-5-6-8-2-18 24-4-6-10-7-4 11-13 19 9-12 18 9 9-2 22zM807 2695l-25 6-4 10 0 18-16 4-4-4-8-20-25-16 21-18 16-3 18 7zM1046 2737l-14-10-10-12-2-26 28-18 19 12 16 20-5 13-7 7-17 12zM995 2705l-12 14-11 7-6 0-16-13-4-22 19-8 11-1 14 14zM876 2715l-10 0-7-2-5-10 6-12 11 0 7 8 2 6z"/>
<path fill="#838383" d="M1422 2893l-1121 0 1-1130 1120 0zM998 2843l13-12 13-26 0-34 2-3 84-1 8-4 2-4 0-82 2-3 56-1 10-2 24-16 19-6 9-6 6-6 2-6-3-6-5-7-9-1-6-10 3-17-16 1-7-6-1-2 8-1 11-29-17-12-13 16-5 13-6-9-22-20-12 19-4-1-2-16 2-8 6-3 10 9 24-18-11-18 1-2 6-2 24 19 8-11 0-10-13-6 13-13 6 11 10 3 16 1 19 18-11 16-1 14 7 14-2 2-10-12-14 4-2 6 3 30 17 7 6 7 13-6 5-18 16-26 3-28 11-20 0-18 12-2 11-12 3-12 6-5 20-9 8-14 4-24 0-24 3-26-2-54-5-15-26-29-30 0-4-2 0-42-15-36-11-7-18-7-46 0-4-2 0-66-6-24-16-35-16-21-50-20-34-24-4-6-3-28-9-15-36-22-34-5-34-10-38-4-108 0-16 6-26 6-25 12-27 26-18 12-1 28-1 3-68 1-9 4-17 20-1 64-1 3-86 1-6 4-3 4 0 80-3 2-38 0-18 11-16 5-15 22 0 58-3 2-76 0-5 6-7 32 5 32-2 16 2 20 10 26 4 42 7 19 6 5 20 24 36 0 3 2 0 134 7 12 8 24 30 5 18 11 32 1 2 21 18 23 8 5 8 0 10-8 7-8-2-8 11-5 14 3 5 16-9 6 5 2-1 8 23 18 17 5 40-4 26 13 10 2 26 10 24 17 14 27 10 9 76 8 26 11 20 5 22 1 34-3zM865 1965l-21 6-9-16-14-14 11-22 10 6 12 1 12 3 7 16-2 10zM932 1962l-3-5 2-18 7-4 0-6 20-10 10 14 2 27-4 4-14 1zM764 1953l-5-6 2-8 15-8 6 10 0 8-10 4zM956 2073l-6-8-17-14 2-10 11-22 24-3 4 4 14 25-1 6-15 14zM850 2066l-9-25 1-11 32-12 10 23-2 15-12-4-10 12zM1062 2052l-8-2-4 1-14-4-2-4-4-12 12-13 10 2 8 5 6 12zM780 2072l-16-2-14-11 12-35 16-2 4 7 6 3 10 17-1 4-9 13zM664 2053l-6-10 5-10 7-5 5-1 10 8-3 15-6 4zM1004 2155l-20 3-34 26-39-27 14-52 13-24-2-2-32 0-2-4 2-2 34 4 2-3 1 3 11 7 6 0 37 29 1 20zM872 2208l-6-16-8-1-17-20-6-54 2-12 13-28 38 26 16 20 0 8-10 30zM754 2083l-2 3-23-1 23-4zM1008 2155l2-24 13-20 25-14 24 17 2 19-24 21-12 2zM678 2175l-33-24 1-26 34-15 24 21-8 24-8 14zM598 2145l-16 0-15-4-1-6 12-19 18-1 9 8zM1148 2157l-22-9-2-11 14-18 12-3 3 5 10 6 2 10-6 12zM762 2148l-9-23 11-7 16 4 5 9-9 12zM772 2283l-36-26-12-28 34-60 24 26 8 44 0 12zM652 2258l-8-11-2-8 1-28 9-9 28-12 6 4 16-2-1 27 2 10-3 19-20 19-10-1zM592 2339l-14-2-10-14-28-8-12-13-3-13 3-7 4-2 25 5 0-22-9-38 7-16 25-12 22 8 3 12 7 6-1 8-11 18-4 20-14 13-6 0-6 5-8 22 6 11 12-9 13-2 5 12 8 10zM1158 2275l-14-3-12-13-5-24 3-37 18 3 8 18 5 6 5 24zM1000 2235l-22 23-14 2-10-2-27-13 9-46 18 2 14-2 20 27zM1030 2262l-6-15-21-12 0-2 9-6 2-4 16-17 26-5 2 1 6 23-3 22-11 13zM862 2243l-10-3-10-9 4-11 8-4 10-8 9 3 4 8 1 12-8 8zM1228 2245l-6-18 4-12 14-4 16 10 0 11-16 14zM494 2258l-11-13 0-20 13-5 14 9 2 4-2 16zM854 2360l-17-17-1-42 32-48 29 10-1 24 4 5 3 19 4 6-7 24-7 0zM1056 2349l-26-7-4-6-22-12-14-15 12-18 12 4 6 0 26-17 6 32 11 23zM954 2351l-12-20-3-8-19-12 16-16 24-15 2 1 10 20 1 8 8 2 9 18-16 15zM676 2349l-26-15-1-25 16-18 25-4 11 24-4 16-11 22zM645 2295l-3 6-4 0-12-10 16 1zM412 2344l-8-8-8-2-11-7-6-28 19-7 23 11 2 4-4 22zM514 2348l-10-3-20 1-12-7-2-6 6-32 4-8 42 21zM739 2335l1-4 18-29 8-1 6-5 11 13 5 18-8 4-3 14zM1242 2338l-8-4-8-9-14-8 16-9 6-11 13 6 3 14-1 10zM1150 2339l-12-5-5-5-1-18 10-5 12-1 9 10 1 4-2 12zM572 2439l-13-22 1-24 12-23 18 4 17 23-12 14-11 23zM494 2423l-6 3-18 1-12-10-11-18 7-10 10-6 12-3 12 6 7 7 2 20zM714 2409l-4 10-12 19-14 18-31-17-9-30-8-14 28-11 22 2 12 4zM1142 2451l-12-6-10-28 4-22 6-3 24 15 18 18-21 22zM1040 2439l-3-20-7-19 18-7 18 3 10 4 12-5 2 2-11 24-11 12zM870 2462l-22-10-14-13 12-26-5-6 15-10 24 1-4 5 6 5 12 7-8 10zM939 2439l6-10-9-12 2-14 14-6 24 3 9 3-1 8 1 24zM830 2455l-20 4-10-6-12-17-8 0-4-5-17-6-1-2 7-14 35-9 24 8 7 31zM1234 2433l-10-10 1-12 8-6 13-4 4 14-6 11-6 6zM612 2543l-40 17-8-8-6-1-12-18-8-26 14-39 16 4 14-3 24 24 13 24zM895 2511l-23 32-30-6-8-7-10 2-14-23 9-26 15-4 28 2 4-2 6-10 21 28zM971 2521l-25 11-6-1-13-22-20-14 23-24 34-1-3 33zM492 2521l-8-7-10-3 1-24 7-11 6-1 6 1 12 11-7 22zM786 2550l-26-5-21-8-2-26 5-35 22 11 24 3 13 19zM690 2551l-16-18-8-2-15-8-2-24 23-15 6-1 22 8 9 10 2 8 6 8-8 14zM1140 2522l-16-23 14-10 16-1 8 11 0 12-10 9zM1064 2525l-6 2-6-11-12-1 6-23 14-3 14 6 0 12-3 10zM1044 2641l-17-20-4-40 17-46 16 2 12 19 2 8 26 31 1 4-23 30zM588 2637l-24-10-13-10-6-26 23-22 8 0 18 6 15 32-5 12-8 5zM1129 2635l-19-40 10-18 16-7 14-2 16 11 4 34-4 12zM638 2625l-14-18 8-22 52-14 11 30-23 24zM774 2643l-15-14 1-14-4-30 12-5 20 2 10 3 11 22zM952 2615l-1-2 5-16 11-10 17 4 5 18-11 8-10 2zM500 2609l-13 0-5-8 4-12 9 2 5 4 2 6zM882 2623l-12 7-4-1-21-14 0-6 8-16 9-3 16 1 9 12-7 16zM1046 2736l-12-9-11-12-2-6 1-21 26-16 18 11 15 20-5 12-22 18zM764 2731l-5-2-7-21-24-15 20-16 12-4 20 7 25 15-23 5-5 11 0 16-1 2zM690 2711l-20 4-7-4-7-8-1-18 27-3 10 9zM994 2705l-12 14-10 7-6-1-14-10-3-8-2-16 19-7 9-1 14 14zM876 2715l-16-2-5-10 5-10 10-2 6 6 3 8z"/>
<path fill="#8b8b8b" d="M1422 2893l-1121 0 1-1130 1120 0zM1002 2847l11-12 13-30 0-32 2-3 82-1 10-4 2-6 0-80 2-3 56-1 8-1 26-15 22-8 15-12 2-6-3-8-10-8-8 0-7-14 3-10 6-4 16 5 6 8 4-1 8 1 5-3 5-20 15-28 2-26 11-22 0-16 11-2 7-5 14-22 20-9 11-18 3-24 3-50-2-54-6-18-27-28-30 0-4-2 0-40-14-38-10-6-22-8-44 0-4-2 0-64-6-26-16-38-14-20-54-20-14-8-15-14-4-6-5-30-8-16-38-20-36-5-34-10-38-3-108 0-16 6-36 8-22 12-22 22-18 14-2 31-66 1-8 2-8 6-13 18 0 62-1 3-86 1-9 8 0 80-3 2-38 0-18 11-17 5-13 22-1 56-1 3-78 1-7 8-5 36 4 28 0 28 10 36 4 42 7 20 27 28 36 0 3 2 0 132 7 14 8 25 30 4 18 11 32 1 2 20 18 26 10 6 12-4 7-7 5-8 2 0-2-11 10-4 14 3 4 16-8 4 2 4-2 10 4 6 30 17 10 2 38-4 38 14 6 5 18 8 23 18 14 24 11 10 76 8 26 10 22 5 22 1 34-3zM864 1964l-19 7-9-16-14-14 10-21 10 7 12 0 12 4 6 14-3 10zM933 1961l-4-4 1-16 9-6 1-6 18-8 10 12 2 24-3 6-17 2zM764 1953l-4-6 2-8 14-7 5 9 1 8-10 4zM850 2065l-9-24 2-10 29-12 11 22-2 14-11-4-10 12zM956 2071l-4-6-17-14 2-10 11-21 22-2 17 27-1 6-16 14zM1062 2051l-8-2-4 2-13-4-2-4-4-12 11-12 10 1 7 5 6 12zM780 2071l-16-2-14-12 7-12 5-20 16-2 3 6 7 4 9 16-9 16zM664 2052l-5-9 5-10 10-6 11 8-3 14-6 4zM872 2203l-6-15-8 1-16-20-5-50 2-14 13-24 34 23 15 19 0 10-9 28-18 41zM952 2181l-4-1-35-25 14-50 15-24 10 6 8 0 31 24 3 24 7 18-17 3zM1010 2153l1-22 14-20 23-13 23 17 1 18-23 20-11 2-4-2zM678 2173l-32-24 2-23 32-14 22 19-8 24-6 12zM597 2145l-19-2-10-3-1-5 11-18 18-1 8 7zM1150 2156l-24-9-1-10 13-17 12-3 2 4 10 6 2 10-6 12zM764 2146l-9-19 9-8 14 3 7 9-9 11zM772 2281l-34-25-11-27 31-56 2 0 21 24 7 38 1 16zM653 2257l-7-10-3-10 1-26 8-8 28-12 6 4 14-2 0 24 2 14-3 16-21 18-8-1zM562 2275l-1-14-11-36 5-14 23-12 22 7 3 11 7 8-1 6-15 24-3 10-7 5-16 0zM998 2235l-20 21-14 3-10-2-26-12 0-2 8-40 18 0 14-2 20 28zM1156 2274l-12-4-11-11-5-24 4-36 16 3 7 17 6 8 4 20zM1030 2260l-5-13-20-12 1-2 8-5 1-5 15-15 26-5 7 22-2 22-11 11zM862 2242l-10-3-9-8 3-10 9-4 9-8 8 2 2 4 3 16-8 8zM1240 2245l-12-2-5-18 4-10 13-3 14 9 1 10zM494 2256l-11-11 0-20 13-5 15 13-3 16zM854 2357l-15-16 0-42 27-42 27 8 0 22 5 6 3 20 5 4-6 22-10 1zM1055 2347l-24-6-5-6-22-13-13-13 11-16 12 4 6-1 24-15 2 1 4 21 1 10 10 20zM542 2301l-2 1-10-10-2-5 2-4 16 4zM954 2350l-12-19-3-10-17-10 14-14 24-15 2 0 9 19 1 9 8 3 8 16-16 14zM676 2348l-21-11-4-4-1-22 16-19 22-3 11 24-2 12-11 22zM412 2342l-8-7-8-2-10-6-6-26 1-2 17-6 22 10 2 6-4 20zM514 2347l-10-2-16 1-15-7-2-6 6-30 3-8 41 20zM642 2299l-6-2 6 0zM740 2334l16-30 10-2 6-5 10 12 5 18-8 4-3 13zM1242 2337l-8-4-7-8-13-8 14-8 8-11 10 5 4 14-2 10zM1150 2338l-10-3-6-6-1-18 9-4 12-1 8 9 1 6-2 10zM604 2331l-12 7-12-1-4-3-7-11 11-11 12-3zM572 2438l-12-23 1-22 11-22 16 4 17 22-11 14-10 21zM494 2421l-6 4-18 1-11-9-11-18 8-11 20-7 12 6 7 8 2 18zM712 2409l-14 27-14 18-29-15-9-30-7-14 25-10 22 2 12 5zM1142 2450l-12-7-10-28 4-19 6-3 22 13 17 17 0 2-19 21zM1041 2437l-3-18-7-18 17-7 18 3 10 4 13-4-11 24-11 12zM870 2460l-22-10-12-11 11-26-5-6 14-9 22 1-3 4 5 6 13 6-8 10zM983 2435l-41 2 4-8-8-10-1-14 15-8 32 6zM828 2453l-20 2-6-3-12-17-10 0-4-5-16-6 6-14 34-9 23 8 6 30zM1234 2432l-10-10 1-11 9-6 12-3 2 15-5 10-5 5zM610 2541l-8 5-30 12-8-8-6-1-10-16-9-26 13-35 4-1 14 3 12-2 21 21 14 24zM894 2509l-22 32-2 1-26-5-10-9-10 1-12-20 8-24 14-4 26 2 8-4 4-8 19 26zM946 2531l-6-2-12-22-20-12 22-23 32 0 1 3-3 30 9 14zM492 2520l-18-11 1-22 7-10 6-1 6 1 11 10-6 22zM786 2549l-26-5-20-7-1-24 5-35 20 10 24 3 12 18zM692 2548l-2 0-14-16-10-2-14-7-2-24 20-13 10-1 20 7 7 9 3 10 5 6-6 12zM1142 2522l-6-9-6-4-3-10 11-9 16-1 7 10 0 12-9 8zM1175 2551l8-16 10-8-15-20 2-1 16 16 6 4 12-17-1-14-4-4 3-2 14 6 17 2 18 16-10 16-2 18-5-2-16 7-26-17-16 26zM1058 2526l-6-11-11 0 1-10 5-12 11-3 14 4 1 11-4 14-5 5zM1148 2548l-3-9 3-6 3 4zM1044 2639l-16-18-3-36 1-10 16-37 14 2 11 17 2 10 25 32-20 28zM588 2635l-24-9-12-11-4-24 20-20 8-1 16 5 15 32-4 10-8 6zM1130 2634l-18-39 10-17 14-6 14-3 15 12 4 30-3 12zM640 2625l-14-18 7-20 15-6 36-9 9 27-23 25zM774 2641l-14-14 1-12-4-28 13-6 16 2 12 4 9 20zM976 2618l-8 1-17-6 6-16 11-9 15 3 4 18zM498 2609l-10 0-4-6-1-6 3-7 8 1 6 4 2 6zM880 2623l-10 5-6 0-18-13 1-8 7-14 8-2 14 1 9 9zM764 2730l-4-3-8-21-22-13 18-14 12-4 20 6 23 14-21 4-5 12-1 16zM1046 2734l-12-8-9-11-3-6 0-18 26-17 16 9 16 20-4 10-22 19zM690 2709l-22 5-11-11-1-18 22-3 4 2 9 9zM966 2725l-13-10-3-8-2-16 18-7 8 0 14 13 5 8-13 14-8 6zM876 2714l-10 0-7-3-4-8 7-11 8 0 6 5 3 8z"/>
<path fill="#939393" d="M1422 2893l-1121 0 1-1130 1120 0zM1006 2851l10-14 12-32 0-30 2-3 80-1 12-5 2-5 0-80 2-3 54-1 10-2 26-13 26-9 15-12 1-6-4-10-11-8 3-4-4 4-11-2-5-10 2-10 6-5 16 5 6 8 14 4 5-2 4-6 3-18 14-28 2-26 10-23 0-15 10-2 14-11 8-13 22-10 11-22 3-22 3-70-2-38-6-20-29-26-30 0-4-2 0-40-14-39-10-6-24-7-42 0-4-2 0-64-6-28-18-43-10-15-54-19-18-9-15-18-4-30-9-18-40-19-36-5-36-9-38-3-108 0-56 14-16 8-12 8-33 34 0 26-1 3-66 1-16 8-13 18 0 62-1 3-84 1-6 3-5 7 0 78-3 2-38 0-18 10-16 4-15 26 0 54-1 3-78 1-7 8-5 38 3 28 0 28 9 36 4 44 8 22 28 26 36 0 3 2 0 132 7 14 6 24 8 4 24 2 20 10 30 1 2 19 17 28 7 7 10 1 14-11 9-13-3-10 10-4 15 4 3 12-8 6-3 16 3 8 34 17 10 1 38-4 34 13 40 27 10 11 16 25 8 6 76 7 26 9 22 4 24 2 32-3zM864 1963l-19 6-7-14-8-7-7-9 9-17 10 6 12 0 11 3 6 12-3 12zM935 1961l-5-4 1-16 9-6 2-6 16-6 9 12 1 23-4 5-12 1zM764 1952l-4-7 3-6 13-7 5 9 0 8-11 4zM958 2070l-22-21 2-8 10-20 20-2 6 5 11 21-4 10-10 8zM852 2065l-10-24 1-8 29-13 10 21-2 14-12-4-8 11zM1062 2049l-6-1-8 2-9-3-4-6-3-10 12-12 8 2 6 4 6 12zM780 2070l-16-3-12-10 6-12 6-20 14 0 2 5 8 4 8 15-9 16zM664 2051l-5-8 6-10 9-5 10 7-4 16-4 1zM874 2199l-6-13-10 1-15-18-4-46 2-18 11-22 34 23 13 17 0 12-8 24zM954 2177l-6 0-32-24 12-46 14-23 8 5 10 0 29 22 3 24 6 18-16 2zM1012 2151l1-20 13-20 22-11 22 15 2 16-24 22-10 1-4-3zM678 2172l-30-23 2-22 30-14 20 18-7 24-7 12zM596 2145l-18-2-10-4-1-4 11-18 16-1 9 7 0 6zM1150 2155l-22-8-2-10 12-16 10-3 12 9 3 10-5 11zM763 2145l-7-18 10-8 13 4 5 8-10 12zM772 2278l-24-16-10-9-9-22 31-56 20 22 6 34-1 12 2 8zM654 2255l-6-8-3-12-1-22 8-8 28-12 6 3 13-1-1 22 3 14-3 15-16 15-6 2zM588 2261l-24-1-12-35 5-14 19-10 24 7 2 9 7 8-2 6zM1154 2272l-10-3-10-10-5-24 3-35 14 3 7 16 7 8 4 18zM994 2237l-18 19-10 2-18-5-19-10 9-38 14 1 16-3 17 22 1 5zM1030 2258l-4-11-19-12 8-6 1-6 14-14 26-4 6 20-1 20-11 12zM862 2241l-10-3-8-7 3-10 9-4 8-7 8 3 2 4 2 14-8 8zM1230 2244l-5-13-1-8 4-8 12-2 14 9 0 9-14 13zM494 2255l-10-10 0-20 12-4 13 10 1 4-2 13zM856 2354l-15-15 0-40 25-39 25 9-1 18 6 8 3 18 6 4-7 21-12 1zM954 2348l-11-17-3-11-16-9 14-14 18-11 6-2 8 17 1 10 7 3 7 15-13 13zM1053 2345l-3 1-18-5-6-8-22-12-11-12 11-14 10 3 8-1 22-14 5 20 0 12 9 18zM676 2347l-19-10-5-6-1-20 17-17 20-3 10 20-2 14-12 22zM412 2341l-7-6-9-2-9-6-5-27 16-5 22 10 1 4-4 20zM512 2346l-28-2-10-7-2-4 5-24 5-13 38 19zM742 2332l14-27 10-2 6-4 9 10 5 17-9 5-3 12zM1242 2336l-6-3-7-8-14-8 14-8 7-11 10 6 3 11-1 10zM1150 2337l-10-3-6-7 0-15 8-5 12 0 8 10-2 14zM578 2335l-8-10 1-4 9-8 12-3 11 21-11 7zM572 2436l-11-23 1-19 10-21 16 4 15 20-9 12-11 22zM470 2425l-10-8-11-18 7-10 20-7 10 5 8 8 2 18-4 8-4 3zM710 2409l-12 24-16 18-26-14-9-28-6-12 23-10 18 1 16 6zM1042 2435l-3-18-7-16 16-6 16 2 12 6 11-4-9 21-12 13-22 4zM1140 2449l-9-6-10-28 3-16 6-5 22 13 16 16-19 22zM943 2437l5-8-9-10 1-15 12-6 30 6 1 25-3 6zM870 2458l-22-9-12-12 12-24-4-6 12-8 20 2-2 4 6 6 10 6-6 8zM827 2449l-19 3-6-3-10-14-12-1-4-5-16-6 8-13 32-8 21 7 6 28zM1232 2430l-8-9 2-10 10-6 10-2 2 14-10 14zM602 2544l-30 11-8-6-6-2-9-14-8-26 12-32 5-2 12 3 12-2 21 21 12 22-6 20zM892 2508l-22 33-26-5-8-9-10 1-12-19 8-22 12-3 26 1 8-4 4-8 17 24zM967 2519l-19 9-6 0-14-23-17-10 0-2 21-20 30 0-4 32zM492 2519l-6-5-10-4-2-3 2-20 6-9 4-1 8 1 10 9-6 22zM786 2547l-26-5-17-5-2-22 3-34 2-1 18 9 24 4 10 16zM692 2545l-15-14-9-1-14-7-2-24 18-12 10-1 18 6 7 7 3 12 5 6-6 12zM1142 2521l-5-8-6-4-3-10 10-8 16-1 6 11 0 10-8 7zM1064 2523l-6 2-6-11-11 1 2-10 5-12 10-2 14 4 1 10-4 12zM1248 2546l-6-1-14 5-27-19 14-22-1-16 28 5 18 15-10 16zM1044 2637l-15-16-3-32 3-16 13-33 14 3 8 14 4 12 21 26 2 6-17 24zM1130 2632l-16-37 8-15 16-7 12-2 14 10 4 30-2 10zM588 2633l-18-8-6-1-10-9-5-20 2-6 19-17 20 3 16 32-4 10-8 6zM642 2624l-14-19 6-18 50-12 8 24-23 24zM774 2640l-12-13 0-12-3-26 1-2 10-4 16 2 12 4 8 18zM976 2617l-8 1-16-5 5-14 11-10 12 2 6 18zM498 2609l-10 0-5-10 3-9 8 1 6 5 2 5zM880 2622l-10 5-6 0-17-12 1-8 8-14 20 0 8 8-5 16zM1046 2733l-11-8-9-10-2-6-1-18 25-16 14 8 16 20-4 10-16 14zM764 2729l-4-4-6-18-21-14 0-2 17-12 10-3 20 6 19 13-18 4-3 4-2 8 0 14zM668 2713l-10-10 0-17 22-2 11 9-2 14-1 2zM966 2724l-12-9-3-8-3-14 18-8 8-1 17 21-9 12-10 7zM876 2714l-16-3-4-8 6-10 8-1 5 5 3 8z"/>
<path fill="#9a9a9a" d="M1422 2893l-1121 0 1-1130 1120 0zM1008 2855l4-2 4-8 14-38 0-30 2-3 80-1 11-4 3-8 0-78 2-3 54-1 10-2 26-12 24-7 12-6 8-7 1-10-9-16-8-4 0-3-6 4-8-1-5-10 1-10 6-4 16 5 6 9 8 5 10 1 5-2 4-8 4-20 11-26 3-28 9-22 0-14 9-2 10-6 17-19 22-9 9-22 3-24 2-70-2-40-6-22-32-24-28 0-4-2 0-38-14-42-36-12-40 0-4-2 0-62-6-31-12-34-9-19-7-8-54-16-17-8-15-20-3-30-8-18-43-19-38-4-36-8-38-3-108 0-44 9-28 10-17 11-29 34-2 29-64 1-10 3-10 7-11 16 0 62-1 3-84 1-7 4-4 8 0 76-3 2-36 0-21 10-17 4-12 26-1 54-1 3-76 1-8 4-7 44 4 30 0 28 8 36 4 48 7 20 31 24 35 0 3 2 0 130 7 16 6 25 8 3 24 2 22 10 28 1 2 18 17 31 7 8 4 2 6-1 18-15 7-12-3-12 8-3 10 1 6 2 3 10-1 4-7 4-4 10-1 12 3 6 37 16 46-2 34 12 37 30 17 23 20 18 74 7 28 9 24 3 22 2 34-2zM863 1963l-17 5-8-15-6-4-8-10 8-15 9 5 13 0 10 2 5 12zM937 1961l-6-6 0-14 10-6 3-6 12-6 11 12 1 21-6 6-12 1zM766 1952l-5-5 1-6 14-8 5 14-9 5zM958 2069l-4-6-16-14 10-26 18-3 8 6 10 21-4 8zM1060 2048l-4-1-8 2-8-3-4-5-3-10 11-11 8 1 6 4 6 14zM852 2064l-9-23 0-8 29-11 9 21-1 10-12-3-8 11zM780 2068l-16-2-11-9 5-10 6-20 12-2 4 6 8 5 7 11-2 8-7 10zM676 2052l-12-1-4-8 5-10 7-4 11 6-2 14zM874 2195l-6-13-10 3-14-16-4-42 3-10 1-12 10-19 30 21 13 16-1 16zM956 2173l-10-1-27-19 11-46 12-20 8 5 12 0 25 19 3 24 5 16-13 2zM1014 2149l1-20 13-18 12-7 8-3 21 16 1 14-22 20-8 2-8-4zM678 2170l-29-23 2-18 29-14 18 16-7 24-5 10zM596 2144l-13-1-14-4-1-4 10-16 16-2 8 6 0 6zM1150 2154l-22-8-2-7 12-17 10-4 10 9 4 12-4 8zM766 2144l-5-5-4-12 9-7 12 3 5 8-8 10zM772 2276l-23-15-9-9-9-21 29-52 18 18 7 32-2 14 3 8zM656 2255l-6-9-4-13-1-20 7-7 28-12 6 3 10-2 2 2-1 18 3 16-2 13-14 14-8 3zM586 2259l-20-1-13-33 5-13 18-9 22 7 3 9 6 6-2 6zM1154 2269l-10-2-10-10-5-22 5-33 12 2 6 15 8 8 3 18zM992 2237l-16 17-10 2-18-5-18-10 8-33 14 0 16-4 15 21 1 7zM1030 2256l-4-11-17-10 9-6 0-6 12-12 26-5 6 26-2 13-10 11zM864 2240l-12-3-7-6 4-10 9-4 6-6 8 4 2 4 1 14zM1230 2243l-5-18 3-9 10-2 15 9 0 8-15 13zM494 2254l-10-9 1-20 11-3 12 9 2 4-2 12zM856 2351l-13-12 0-40 23-36 22 8-1 16 7 10 2 16 7 4-5 20-15 0zM954 2346l-10-15-4-12-13-8 11-12 24-13 7 15 2 12 5 2 7 14-11 10zM1051 2345l-19-5-6-8-20-11-11-12 8-12 11 3 8-1 22-14 4 20 0 12 8 16zM676 2345l-17-8-5-6-2-18 16-18 18-3 11 23-2 10-11 20zM412 2339l-24-12-6-26 14-5 23 9 1 4-3 18zM511 2345l-27-2-9-6-2-4 9-36 36 18zM1242 2334l-6-2-6-7-13-8 13-8 6-10 10 6 2 10-1 10zM743 2331l13-25 8-1 8-5 8 9 5 16-9 6-2 10-18-4-6-4zM1159 2331l-11 6-9-4-4-6 1-16 6-3 12-1 7 10zM601 2331l-9 6-10-1-5-3-6-10 9-10 12-2zM572 2435l-11-22 1-16 3-10 7-13 14 3 15 20-9 13-10 21zM492 2420l-8 4-14 1-9-8-12-18 7-9 20-7 10 5 7 9 2 14zM709 2409l-13 24-9 8-5 8-24-12-9-30-6-10 21-9 18 2 14 5zM1044 2435l-3-18-7-16 14-5 14 2 12 5 11-2-8 18-11 12zM1140 2448l-8-5-10-28 3-16 5-3 22 12 14 15-14 14-4 7zM980 2433l-32 3-2-1 4-6-10-10 0-14 12-6 28 5 1 23zM870 2456l-22-9-11-10 12-24-4-4 1-2 10-7 18 1-2 4 8 8 8 4-5 8zM825 2447l-17 3-6-4-9-13-13 0-4-5-14-7 6-11 32-8 19 7 6 26zM1232 2429l-8-8 2-9 8-5 10-4 4 14-10 14zM572 2553l-8-6-4 0-9-14-8-26 9-26 8-6 10 2 12-1 19 19 12 22-7 20-10 7zM965 2519l-17 8-6 0-14-24-15-10 19-19 28 0-3 31zM890 2507l-22 33-24-5-8-10-10 0-10-16 7-20 11-3 26 1 8-4 4-8 16 22zM492 2517l-17-10 1-20 6-8 4-1 8 1 10 8-6 21zM784 2545l-24-4-16-6-1-18 3-34 2-1 16 8 16 2 8 3 9 14zM692 2543l-14-13-12-2-11-7-2-22 17-11 10-1 16 5 8 9 2 10 6 8zM1142 2520l-4-7-7-4-3-8 10-9 16-1 6 10-1 10-7 6zM1062 2523l-4 1-4-9-12-2 2-8 6-11 12-2 10 5 0 8-4 12zM1246 2545l-4-2-14 5-25-19 14-20-1-14 24 4 17 14-8 16zM1044 2635l-13-14-3-30 3-18 13-30 10 2 9 14 3 12 20 24 2 8-16 22zM588 2631l-16-8-8 0-8-8-5-18 3-8 16-16 20 4 14 30-3 8-7 6zM1130 2630l-15-35 8-14 17-7 12-1 11 8 4 30-2 8zM643 2623l-13-18 6-17 46-12 8 21-22 25zM774 2638l-11-11 1-10-4-26 2-3 8-4 26 6 8 15-22 26zM498 2608l-10 0-5-9 3-8 8 1 6 5 1 4zM970 2618l-17-7 5-13 12-8 10 3 4 16-8 8zM879 2621l-9 5-8-1-14-10 1-10 7-11 20 0 7 7-5 16zM1046 2731l-10-6-8-10-3-8 0-14 23-17 12 7 16 20-3 8-15 14zM764 2728l-3-3-7-20-18-14 14-10 10-3 10 4 8 1 18 10-1 2-15 4-5 12 0 14zM688 2708l-20 5-9-10 0-16 17-3 6 2 8 7zM970 2724l-4-1-11-8-4-10-2-12 17-7 6-1 14 13 4 7-10 12zM876 2713l-8 0-8-2-3-8 6-10 7-1 4 5 4 8z"/>
<path fill="#a2a2a2" d="M1422 2893l-1120 0 0-1130 1120 0zM1012 2859l7-10 13-42 0-28 2-3 78-1 13-4 3-10 0-76 2-3 52-1 10-2 28-11 26-7 13-6 9-6 1-8-7-18-1-6 19-2 7-8 4-24 11-28 2-26 8-24 0-12 20-8 18-17 20-7 11-26 3-26 2-70-1-38-7-28-34-22-28 0-4-2 0-36-12-44-38-12-40 0-4-2 0-62-9-40-17-48-4-6-58-15-16-7-13-20-4-32-7-18-48-19-36-3-38-8-38-2-108 0-46 8-30 10-17 10-27 37-2 28-64 1-20 9-10 17-1 62-1 3-82 1-9 4-3 8-1 76-3 2-36 0-22 10-16 3-13 29 0 52-1 3-76 1-10 6-5 40 3 34 0 26 8 38 4 52 6 20 33 22 35 0 3 2 0 130 7 16 5 26 9 3 24 2 22 9 28 1 2 17 16 34 8 10 6 2 6-3 23-21 5-10-5-12 7-3 15 3 3 10-1 4-6 4-6 8-2 16 3 9 38 14 48-2 30 10 37 37 15 20 24 19 74 6 36 9 34 4zM938 1960l-6-5 0-14 10-6 2-4 12-7 10 11 1 20-4 6-13 2zM861 1963l-14 4-7-14-8-5-7-9 7-13 8 4 16 0 8 3 4 10-3 12zM766 1952l-4-5 1-6 13-8 5 14-11 5zM1060 2047l-4-1-6 3-8-2-6-8-2-8 12-11 9 3 8 14zM852 2063l-9-22 1-6 26-13 11 21-1 10-12-3-8 11zM958 2067l-19-18 5-16 6-10 16-1 8 6 8 15 0 4-4 8-10 8zM780 2067l-16-3-9-7 4-10 4-18 3-2 10 0 2 4 10 6 6 10-2 8-6 8zM676 2051l-12-1-3-7 5-10 6-4 8 4 2 4-2 12zM874 2191l-4-10-2-1-10 3-13-14-4-38 4-12 1-14 8-17 30 21 11 14-1 18zM958 2169l-12 0-25-18 10-42 11-18 8 4 12-2 24 20 2 24 4 14-12 1zM1016 2147l-2-2 3-16 13-18 12-7 6-1 20 14 1 12-21 21-8 1-8-4zM678 2168l-27-21 0-14 8-8 21-9 17 15-7 24-6 10zM595 2143l-25-4-1-4 10-16 15-1 6 5 0 8zM766 2143l-4-4-4-10 1-4 7-5 10 3 6 8-8 10zM1150 2152l-22-7-1-6 11-16 10-4 9 8 4 12-4 8zM772 2273l-20-13-10-10-9-19 29-50 16 18 5 26-1 16 2 10zM656 2253l-5-8-4-14 0-18 7-6 26-11 6 2 10-1-1 18 4 16-2 12-13 12-10 4zM586 2257l-18 0-13-34 4-10 17-8 22 7 2 8 5 5-2 6zM1152 2268l-8-3-9-8-5-22 4-31 12 3 4 10 9 12 3 14zM988 2239l-14 15-8 1-34-13 6-32 12 1 18-5 13 17 0 10zM1032 2254l-5-9-15-10 6-4 1-8 11-11 26-3 5 24-2 12-9 9zM864 2240l-12-5-5-4 3-9 8-4 6-6 7 3 2 4 1 14zM1238 2243l-8-1-4-17 2-8 10-2 14 8 0 9zM494 2253l-9-8 1-20 8-3 15 13-3 12zM856 2348l-11-11 0-40 21-30 18 6 0 16 8 10 2 14 8 6-4 16-16 0zM954 2345l-9-14-3-12-13-8 11-11 22-12 7 15 1 12 6 2 5 12-11 10zM1049 2343l-17-4-5-8-21-12-8-10 6-9 18 1 20-12 2 1 3 15-1 14 7 14zM676 2344l-15-7-7-8 0-16 14-16 16-3 12 21-2 8-11 20zM412 2338l-2 0-4-4-10-2-8-5-4-26 12-4 22 9 1 3-3 18zM510 2343l-19 0-15-6-1-4 7-33 2-1 32 16zM744 2330l12-22 8-2 8-5 7 8 5 16-10 6-2 9-16-4-4-4zM1240 2333l-22-16 12-7 6-10 9 5 2 8-1 12zM1148 2336l-8-3-3-4-2-16 7-4 12-1 6 7-1 14zM600 2331l-8 5-10-1-5-2-5-10 8-9 12-1 8 14zM572 2432l-10-19 1-16 2-10 9-12 10 3 15 21-8 10-9 20zM492 2417l-9 6-13 1-8-7-12-18 6-8 20-7 9 5 7 8 2 14zM707 2409l-11 21-16 17-20-12-10-28-5-10 19-7 16 1 16 6zM1045 2435l-8-34 13-4 12 2 12 6 10-2-8 16-11 12zM1140 2447l-8-5-9-29 3-14 4-2 22 12 11 12-11 13-5 9zM977 2433l-29 2 3-6-7-5-3-5 0-14 11-6 28 6 0 20zM870 2454l-22-9-9-8 1-6 9-18-3-4 10-8 14 1 2 1-2 2 7 8 9 5zM822 2445l-14 2-4-2-9-12-14 0-5-6-13-6 6-10 31-8 16 6 4 8 3 18zM1232 2428l-7-7 1-7 8-7 10-3 3 7-1 8-6 9zM948 2525l-6 0-12-22-15-10 17-18 26 0 2 2-4 29 7 11zM492 2516l-17-9 2-20 5-8 4-1 10 3 7 6-5 20zM570 2551l-6-6-4 0-8-12-7-26 8-24 9-6 10 2 10-1 16 17 13 22-5 16-14 10zM888 2505l-22 33-20-4-10-11-8 0-10-14 6-18 12-3 24 1 8-4 4-7 14 19zM784 2544l-24-4-14-5-2-18 4-32 16 6 14 2 8 3 10 13zM692 2541l-12-12-14-2-10-6-1-22 15-10 14-1 13 5 5 6 4 14 4 6zM1062 2522l-4 1-4-9-11-1 7-19 12-1 9 4 0 8-4 12zM1143 2519l-4-6-7-4-3-8 9-8 14-2 7 10-1 10-7 6zM1246 2543l-4-1-12 4-26-17 14-20 0-13 22 5 17 14-10 16zM1044 2633l-12-12-3-26 3-22 12-27 11 3 7 12 3 12 18 22 2 8-13 19zM588 2628l-14-6-8 0-9-7-4-16 3-10 16-15 16 3 14 30-2 8-6 4zM1130 2628l-13-33 7-12 16-7 12-2 10 9 4 28-2 8zM644 2621l-13-18 5-14 46-12 6 21-21 23zM774 2636l-9-9-3-36 8-5 26 5 7 14-21 25zM496 2608l-6 1-6-8 0-4 4-6 6 1 6 6 0 7zM970 2617l-16-6 4-12 12-9 9 3 4 18-7 5zM1250 2612l-4-1-6 5-7-1-5-12 1-8 5-3 16 5 5 10zM878 2621l-8 4-8-1-13-9 1-10 6-10 6-2 14 2 6 6zM1046 2730l-8-5-9-10-3-8 0-14 22-16 12 7 15 19-7 11-12 11zM772 2725l-8 1-10-23-15-10-1-2 14-10 8-2 8 4 10 1 16 9-13 4-5 6zM688 2707l-20 5-9-9 1-16 16-3 6 3 8 8zM970 2723l-4-1-9-7-5-10-2-12 22-7 17 19-10 12zM876 2713l-8 0-8-3-2-7 6-10 6 0 4 4 3 10z"/>
<path fill="#aaaaaa" d="M1422 2893l-1120 0 0-1130 1120 0zM1016 2863l5-10 13-44 0-28 2-3 76-1 15-4 3-12 0-74 2-3 50-1 12-2 28-10 28-6 16-7 8-6 1-7-6-20 3-3 14-3 5-8 4-26 10-28 2-28 7-24 0-10 21-8 19-15 21-7 10-28 3-26 2-74-1-36-6-30-37-22-28 0-4-2 0-36-12-45-40-11-38 0-4-2 0-60-5-28-11-42-10-26-2-3-58-13-17-6-12-22-5-34-6-18-52-16-34-3-36-7-40-2-110 0-60 10-18 6-19 10-26 40 0 24-1 3-62 1-22 8-10 18-1 62-1 3-80 1-10 4-5 10 0 74-3 2-34 0-24 9-17 3-12 30 0 52-1 3-76 1-10 4-5 42 3 36-1 26 7 40 3 44 6 30 38 20 33 0 3 2 0 128 11 44 6 4 30 2 22 8 26 1 2 17 16 38 8 12 6-1 10-5 25-24 2-10-5-12 6-3 14 3 3 10-9 13-4-3-3 4-1 22 2 8 42 14 46-1 30 8 16 22 20 23 10 16 12 5 18 14 74 5 38 9 34 3zM940 1960l-8-6 0-11 12-8 1-4 11-5 10 11 0 16-6 8-10 1zM860 1962l-12 4-7-13-14-14 5-10 2-1 6 3 16 0 7 2 3 10-3 14zM766 1951l-3-4 0-6 13-6 4 12-10 5zM1060 2046l-4-1-6 3-8-2-5-7-2-8 11-10 8 2 8 14zM854 2062l-10-21 1-6 25-11 10 19-1 8-1 2-12-3-6 10zM960 2066l-20-17 10-24 14-2 8 4 9 18-4 10zM780 2066l-14-2-10-7 10-29 8 0 4 4 8 4 7 11-4 10zM678 2050l-12 0-4-5 4-11 4-4 4 0 8 7-2 12zM874 2186l-4-10-12 4-12-13-3-34 4-12 1-16 8-14 26 19 10 13 0 20zM960 2165l-14 0-22-16 9-40 9-15 6 4 16-2 20 17 2 24 4 12-11 2zM1018 2145l-2-2 2-14 13-18 15-8 21 16 1 10-21 20-7 1-8-5zM594 2143l-18-3-6-3 10-18 14 0 5 4 0 8zM678 2166l-26-21 2-13 9-7 17-7 15 13-7 24-5 8zM766 2142l-5-5-3-8 1-4 7-5 9 3 7 8-8 9zM1150 2151l-10-2-12-6 0-6 12-14 6-3 9 7 5 8-3 10zM772 2271l-18-12-12-12-7-16 27-46 15 14 4 26-1 16 3 10zM658 2252l-5-7-5-16 0-16 6-5 27-11 13 1 0 15 4 18-2 11-10 10-12 4zM584 2256l-16-2-12-31 4-9 14-7 22 6 3 8 4 4-2 6zM1150 2266l-6-2-7-7-6-22 5-30 8 2 5 10 10 12 2 12zM986 2239l-12 13-8 2-32-13-1-6 5-22 12 0 18-5 11 15 1 12zM1032 2252l-4-7-13-10 5-4 1-8 9-9 25-3 4 14-1 20-6 7zM864 2239l-12-5-4-5 2-6 16-9 4 1 2 4 1 14zM1232 2242l-4-9-1-10 3-6 8-1 12 7 1 8-13 11zM494 2252l-8-7-1-8 2-12 7-2 14 12-2 11zM856 2344l-9-9 1-38 18-27 16 7-1 12 8 10 3 14 9 6-5 15-18 0zM954 2343l-8-12-4-14-11-6 10-10 21-12 6 14 1 12 5 3 4 11-8 8zM1048 2341l-4 1-11-3-5-9-21-11-8-8 6-10 17 1 20-11 4 14-1 16 6 12zM676 2343l-12-6-8-9-1-13 15-17 14-2 11 19-2 8-11 20zM412 2336l-2 1-4-4-10-2-7-4-5-24 12-5 21 9-2 20zM509 2343l-17-1-15-5-1-4 4-22 4-10 31 16zM1240 2332l-20-15 10-6 8-10 7 4 1 8-1 12zM746 2328l10-19 6-1 10-6 6 7 5 14-10 8-1 6-2 1-12-3-6-5zM1158 2330l-10 5-8-3-3-5-1-14 6-4 12 0 5 6zM599 2331l-7 5-12-2-7-9 0-4 7-6 12-1 7 13zM574 2431l-12-20 4-24 8-11 10 3 14 20-8 10-9 18zM470 2423l-7-6-12-18 5-7 18-7 9 4 9 9 1 13-3 6-8 5zM705 2411l-9 16-16 18-18-10-14-38 16-6 14 1 18 7zM1046 2433l-2-16-6-14 2-2 10-3 10 1 14 7 8-2-6 15-12 12zM1140 2445l-8-4-8-28 2-12 4-3 22 12 10 11-10 10-7 12zM975 2433l-23 2 1-6-9-6-2-4 0-14 10-5 26 6 1 17zM870 2451l-22-8-9-8 11-22-3-4 9-7 14 1-1 4 8 8 7 4-4 6zM821 2441l-1 2-12 1-4-1-8-11-14 1-8-8-9-4 5-10 28-7 16 5 4 8zM1232 2427l-6-6 0-6 10-8 8-2 3 12-3 7-6 4zM960 2518l-12 5-5 0-13-22-13-10 15-14 26 0-1 16-3 8 1 8zM492 2515l-16-10 2-18 6-7 12 1 6 6-5 20zM570 2549l-10-6-6-10-8-26 8-21 10-6 18 1 14 14 13 22-5 14-14 10zM886 2505l-22 32-18-4-10-12-8 0-8-12 6-17 10-2 22 1 10-4 4-6 13 16zM782 2542l-22-4-12-4-2-15 4-33 14 6 12 1 10 4 8 12-10 32zM708 2519l-16 20-10-11-14-2-11-5-1-22 14-8 10-2 15 4 6 6 3 14zM1150 2517l-6 1-4-5-8-5-2-7 8-8 14-1 5 7 1 6-1 6zM1062 2522l-4 0-4-9-10 0 6-18 8-1 12 3 0 8-4 12zM1244 2542l-14 3-23-16 12-20 1-11 18 3 17 14-9 16zM1044 2631l-11-12-2-20 4-26 9-24 10 1 6 11 4 15 15 19 3 10-12 17zM588 2626l-12-5-10 0-7-6-4-14 5-14 12-12 15 4 14 28-3 8-4 2zM1130 2626l-12-31 6-10 18-8 10-1 9 7 4 28-2 6zM646 2621l-13-18 5-13 42-11 6 18-20 22zM776 2634l-9-9-4-34 7-3 26 5 5 12zM496 2608l-6 0-6-7 0-4 4-6 6 1 6 6 0 6zM970 2617l-15-8 3-9 12-9 8 2 4 18-6 5zM1254 2608l-8 1-6 6-6 0-6-12 2-8 4-2 15 4zM878 2619l-8 4-8 0-12-8 1-10 5-10 20 0 5 6-4 16zM1046 2728l-14-11-5-10 0-12 21-17 11 7 14 18-5 9-12 11zM772 2724l-8 1-8-22-15-12 11-8 8-2 8 3 10 1 14 8-12 4-4 5zM668 2711l-8-8 1-16 15-2 13 10-1 10zM968 2722l-10-7-5-10-2-10 15-8 6-1 15 19-9 12zM876 2712l-8 0-8-3-2-4 6-11 6-1 3 4 4 10z"/>
<path fill="#b1b1b1" d="M1422 2893l-1120 0 0-1130 1120 0zM1020 2867l4-8 12-50 0-26 2-3 76-1 15-4 3-12 0-74 2-3 50-1 72-17 24-11 1-6-6-20 3-4 13-4 4-8 4-28 9-30 1-26 6-20 1-14 26-10 18-12 20-5 3-9 8-36 3-64-1-60-6-34-21-12-19-8-27 0-4-2 0-34-11-48-43-10-36 0-4-2 0-58-4-30-10-44-10-28-2-2-76-17-11-23-4-34-6-18-55-16-36-2-36-6-40-2-112 0-72 12-28 12-22 42-2 27-60 1-25 8-10 20 0 60-1 3-80 1-11 4-4 12 0 72-3 2-34 0-16 6-26 5-11 33 0 50-1 3-74 1-13 4-4 44 2 64 6 38 3 46 5 32 41 18 32 0 3 2 0 128 10 46 9 3 28 2 24 7 24 1 2 15 16 46 6 9 14-4 28-21 2 4 1 20 5 5 42 11 46-2 28 7 16 28 26 38 16 6 14 10 8 3 68 3 40 8 36 2zM941 1959l-8-6 0-10 12-8 2-4 9-4 9 10 1 14-8 10zM860 1961l-11 4-8-14-13-12 6-10 6 3 22 2 3 7zM766 1951l-3-6 1-4 12-5 4 7 0 4-10 5zM1060 2045l-4-1-6 4-6-2-6-7-2-8 10-9 7 1 8 14zM960 2065l-19-16 9-22 12-2 10 4 8 14-5 12zM854 2062l-9-21 1-6 24-9 9 17 0 8-13-2-6 10zM782 2064l-8 1-10-4-6-4 8-28 8 0 3 4 9 4 5 8-2 10zM678 2049l-12 0-4-4 4-10 4-4 4 0 7 6zM874 2181l-4-7-14 4-9-11-3-28 5-16 0-16 7-14 26 19 8 11 0 22-14 35zM469 2105l-7-6 6 7zM962 2162l-16 0-18-13 5-32 9-19 6 2 16-2 18 15 1 24 4 10-9 3zM1018 2142l1-11 14-20 13-7 20 15 0 10-20 19-6 1-10-6zM478 2116l0-4-8-5 3 6zM594 2142l-18-2-5-3 9-17 14 0 4 3 0 8zM678 2165l-25-20 1-10 12-10 14-6 13 12-7 24-4 7zM768 2141l-6-4-3-8 1-4 6-4 8 2 7 8-7 8zM1150 2150l-20-6-1-7 12-14 5-2 8 6 5 10-3 9zM772 2268l-14-9-14-13-7-15 27-44 12 14 4 22-2 16 3 12zM658 2250l-8-23 0-14 4-4 28-11 10 1 1 14 4 18-2 10-9 9-14 4zM1150 2264l-6-2-6-5-6-22 4-28 8 1 4 9 10 12 2 11zM584 2254l-14-1-12-30 3-8 13-7 22 8 5 9-1 6zM982 2241l-9 10-7 1-12-6-8-1-12-6 4-22 30-8 10 14 0 13zM1052 2251l-20 0-4-8-10-6 4-6 0-8 8-8 24-3 2 3 3 22-2 8zM864 2238l-10-4-5-5 2-6 15-8 4 1 2 4 0 13zM1232 2241l-5-18 3-5 6-2 14 8 1 5-13 12zM494 2250l-7-5 0-18 7-3 13 13-1 8zM858 2341l-9-8 1-36 14-23 15 5-1 10 9 12 2 12 11 8-4 12-20 0zM954 2341l-7-10-4-14-10-6 9-9 20-11 5 12 1 14 4 2 4 8-8 9zM1045 2341l-11-3-6-10-20-10-7-7 5-8 18 1 18-11 3 12-2 18 5 10zM676 2342l-10-5-9-10-1-12 14-15 12-2 6 11 6 6-2 8-11 18zM411 2335l-21-8-4-25 10-3 20 8 1 4-3 18zM508 2341l-16 0-8-2-6-4 6-33 30 15zM747 2327l9-17 16-7 6 8 4 12-11 8-1 6-12-3-6-6zM1240 2331l-19-14 10-6 7-9 6 3 2 8-2 12zM1157 2329l-11 5-6-3-3-4 0-14 5-3 12 0 4 5zM598 2331l-8 4-10-2-6-8 0-4 8-6 10 0 6 12zM574 2430l-11-21 4-22 7-10 8 3 13 19-15 28zM490 2415l-10 6-10 1-6-5-12-18 4-6 12-5 8-2 6 4 9 9 1 10zM703 2411l-9 16-16 15-14-7-14-36 14-7 12 1 20 8zM1080 2407l-5 12-11 10-14 4-2-1-2-15-6-14 10-4 6 1 18 8 6-3zM1140 2444l-7-3-8-28 1-10 4-4 20 11 9 9-14 22zM974 2431l-10 3-11-1 1-4-11-10 0-14 9-4 25 6 1 14zM819 2439l-11 3-4-2-6-9-16 1-8-9-8-4 4-7 30-7 12 4 5 10zM868 2449l-20-7-8-7 11-22-2-4 7-5 10 0 10 13 6 3zM1230 2425l-4-5 1-5 10-8 7-2 2 14-6 8zM958 2517l-14 5-14-24-11-7 13-13 25 1-1 14-3 8 0 8zM492 2514l-15-9 1-18 6-7 12 2 5 7-5 18zM570 2547l-8-4-7-10-7-26 8-19 10-6 14 0 14 13 13 22-5 12-16 11zM885 2503l-20 32-3 1-14-3-12-14-7 0-7-10 6-15 8-2 22 1 12-5 2-4 11 13zM782 2541l-22-4-11-4-1-14 4-31 12 6 10 0 12 5 7 10zM706 2519l-14 17-8-9-16-2-9-4-1-22 12-7 12-2 12 3 6 6 2 14zM1144 2518l-3-5-8-4-3-6 10-10 12 0 5 8-1 10-6 5zM1061 2521l-3 0-4-9-9 1 1-6 6-11 12-1 5 4-4 18zM1244 2540l-13 3-21-14-1-2 12-18-1-8 2-2 14 3 17 13-9 16zM1044 2629l-10-10-1-20 3-14 1-14 9-19 8 2 5 9 3 15 14 17 3 10-9 15zM588 2624l-12-5-10 0-6-6-2-12 4-14 12-11 11 3 14 28-2 6zM1132 2624l-12-29 4-8 20-9 8-1 8 6 4 26-1 6zM647 2619l-12-18 3-10 42-10 5 14-21 24zM776 2632l-8-7-3-32 5-4 24 5 6 11zM496 2607l-6 1-5-7-1-4 4-5 6 1 6 6 0 4zM974 2616l-4 0-15-7 3-8 12-9 7 3 4 16zM877 2619l-7 3-10-1-9-6 1-10 6-10 18 1 5 5zM1252 2607l-6 1-6 7-6-1-5-11 1-6 4-3 14 3 4 4zM1046 2727l-13-10-5-12 0-10 20-16 10 6 13 18-5 8-13 12zM770 2723l-6 0-5-18-5-6-11-8 11-7 6-2 6 3 12 1 12 7-10 3-5 5zM688 2705l-20 6-7-8 2-16 13-1 12 9zM968 2721l-9-6-6-12-1-8 14-7 6-1 14 18-10 12zM590 2715l-11-14-2-8 7-2 13 4 1 6-1 6-5 4zM876 2711l-6 1-10-4-2-3 6-10 6-1 2 3 4 10z"/>
<path fill="#b9b9b9" d="M1422 2893l-1120 0 0-1130 1120 0zM1024 2870l3-5 11-54 0-26 2-3 74-1 17-4 3-14 0-72 2-3 48-1 84-18 19-8 1-4-6-20 2-4 12-6 3-6 5-34 7-28 1-28 6-32 29-10 17-9 20-5 4-9 8-41 1-62 0-62-5-38-20-10-24-8-26 0-4-2 0-32-10-51-44-9-36 0-4-2 0-58-6-44-14-60-4-3-78-15-9-24-4-34-5-20-60-13-112-9-112 0-50 6-32 7-23 9-19 44-2 27-60 1-27 8-8 20 0 60-1 3-78 1-13 4-3 12-1 72-3 2-32 0-45 10-10 34 0 50-1 3-74 1-14 4-3 46 1 64 12 120 4 3 40 13 32 0 3 2 0 126 9 48 4 3 32 3 26 6 24 1 3 17 17 56 6 1 10-3 28-19 2 3 2 16 6 6 42 9 46-1 28 5 16 36 20 36 22 5 20 11 70 4 42 6 36 2zM944 1959l-10-7-1-9 16-12 6-2 9 8 1 12-7 11zM858 1961l-8 3-7-13-14-12 5-8 4 2 18 0 5 2 3 6zM767 1951l-3-4 1-6 11-4 4 9zM1050 2047l-7-2-6-12 3-5 8-6 7 3 6 14-1 5-4 0zM854 2061l-8-20 0-5 22-10 10 17 0 8-12-3-7 11zM962 2063l-19-14 9-22 10-1 10 5 7 12-5 12zM678 2049l-12-1-3-3 7-14 11 6zM782 2063l-6 1-10-3-7-6 7-24 8 0 2 2 10 5 5 9-3 8zM480 2118l0-20-18-21-6 0-14 6-2 8 1 4 33 24zM876 2176l-4-5-16 5-8-9-2-24 6-18 0-18 4-10 24 16 8 10-1 24zM984 2147l-6 1-14 10-18 0-16-11 5-30 7-15 6 1 18-2 13 10 3 28zM1020 2140l0-9 15-20 11-5 19 13 1 8-20 20-6 0-10-6zM594 2141l-22-4 8-16 8-1 9 3 0 8zM678 2163l-22-18-1-8 13-11 14-5 9 8-6 26zM768 2141l-6-6-2-6 6-8 7 2 7 8-7 8zM1152 2148l-12-1-10-5 0-5 12-14 4-1 4 3 8 12-1 4zM772 2266l-13-9-15-14-5-12 25-41 11 11 3 18-2 20 4 12zM660 2249l-4-6-5-18 0-12 31-13 9 1 0 10 5 20-2 8-8 8-16 5zM1148 2262l-10-7-5-20 5-27 6 3 2 6 11 12 2 10zM582 2252l-11-1-11-28 2-7 10-6 22 7 5 8 0 4zM980 2241l-8 9-6 1-12-7-8-1-9-4-2-4 4-16 9-1 20-7 8 10 0 16zM1052 2250l-20-1-4-7-8-5 4-4 0-10 6-6 24-2 4 22-2 8zM864 2237l-10-4-4-4 2-5 14-8 5 5 0 12zM1236 2241l-5-2-3-16 2-4 6-2 13 8 1 4zM492 2249l-5-4 1-18 4-3 15 13-3 8zM896 2331l-24 0-14 8-6-6-1-10 1-28 12-18 11 4 0 8 10 14 2 10 12 8zM954 2340l-6-9-4-15-9-5 7-7 20-11 5 10 0 16 4 2 3 6-6 7zM1044 2339l-10-1-6-11-20-11-5-5 5-6 16 0 17-8 2 8-1 20 4 8zM410 2335l-4-3-12-3-5-4-2-22 9-2 20 8-2 20zM676 2341l-8-4-10-11-1-9 14-16 11-2 11 18-13 24zM1240 2330l-18-13 10-6 6-8 5 2 2 6-2 14zM506 2341l-22-3-5-3 5-30 28 12zM748 2325l8-14 16-7 5 7 4 12-9 6-4 7-8-2zM1142 2332l-4-5 0-14 4-2 12 0 3 4 0 12-10 6zM596 2331l-6 4-10-3-4-5-1-6 7-5 10 0 5 9zM574 2428l-10-19 4-22 6-8 7 2 13 20-14 24zM470 2421l-17-22 3-5 18-7 6 3 10 10 1 9-1 5-12 7zM701 2411l-7 13-16 16-13-7-13-34 12-5 10 1 20 7zM1049 2431l-2-14-5-14 8-3 8 1 16 8 4-2-3 10-12 12zM1140 2443l-6-3-9-29 2-8 3-2 20 10 8 8-8 9-7 13zM972 2431l-17 2 1-4-12-10 0-14 8-3 24 6 0 11zM868 2447l-20-7-7-7 10-20-1-4 6-4 10 0 0 3 14 13zM817 2437l-9 2-10-9-16 2-8-10-7-3 3-6 30-7 10 3 5 10zM1230 2424l-4-5 2-5 10-7 5 0 2 12-5 8zM954 2517l-10 3-13-23-10-6 11-12 24 1-1 11-4 8 1 10 4 6zM492 2513l-15-8 2-18 3-5 14 1 5 6-5 18zM568 2544l-6-3-5-8-7-26 6-15 12-8 12 1 11 10 13 22-4 10-17 12zM882 2503l-20 32-14-4-12-14-6 0-6-10 6-11 28-1 12-6 2-3 2 0 8 11zM782 2539l-31-6-1-12 4-31 32 11 5 8zM704 2519l-12 14-8-7-18-3-6-4 0-20 8-5 16-3 10 3 4 5 3 16zM1150 2516l-6 0-2-3-10-6-1-4 7-8 14-1 4 5-2 12zM1060 2520l-2 0-4-8-8 0 6-16 10 0 7 3-5 18zM1242 2540l-10 2-22-15 12-18 0-8 14 3 16 12-9 15zM1042 2627l-7-8-1-16 4-16 1-16 7-17 6 1 5 8 4 18 12 14 4 12-9 12zM588 2621l-10-4-12 1-5-5-2-10 6-16 9-9 10 2 13 27-1 6zM1132 2623l-11-26 5-9 26-10 7 7 3 29zM649 2619l-12-18 3-10 40-8 3 12-21 23zM776 2631l-6-6-4-32 6-2 22 5 4 9zM494 2607l-5 0-5-8 2-4 4-3 4 1 6 7-2 5zM974 2615l-17-6 3-8 10-8 6 2 3 16zM874 2619l-4 2-10-1-8-5 2-12 4-7 18 1 4 4zM1252 2606l-16 8-4-5-1-12 3-3 14 4 3 3zM1044 2725l-9-8-6-12 0-8 19-16 8 4 14 18-2 4-15 14zM770 2722l-6-1-4-16-4-6-10-8 8-6 6-1 18 3 10 6-8 2-5 6zM668 2710l-5-5 1-16 2-1 9-1 13 9-2 9zM968 2721l-8-6-7-18 1-2 16-7 15 17-10 12zM590 2714l-10-13-2-8 6-1 12 3 0 12zM874 2712l-14-5 0-4 6-8 6 2 4 10z"/>
<path fill="#c1c1c1" d="M1422 2893l-1120 0 0-1130 1120 0zM1028 2874l2-3 10-60 0-24 2-3 72-1 19-4 3-16 0-70 2-3 60-2 76-14 20-8-5-25 11-8 4-8 10-64 1-28 5-32 30-9 20-8 18-4 4-5 7-40 1-24 1-110-5-44-46-14-26 0-4-2 0-32-8-52-48-8-34 0-4-2 0-56-3-32-15-78-2-2-80-12-9-26-3-36-4-19-64-12-114-7-112 0-66 7-40 10-4 3-16 47-2 26-58 1-30 8-7 20 0 60-1 3-76 1-15 4-4 14 0 68-1 3-34 1-46 8-8 36-1 50-1 3-72 1-17 4-3 48 2 64 10 124 2 2 46 12 30 0 3 2 0 126 8 50 3 2 36 3 26 5 22 1 11 55 7 22 16-2 28-16 5 16 7 5 44 7 46-1 26 5 16 47 14 31 26 3 22 10 70 3 42 5 38 2zM945 1959l-11-8 0-8 20-13 10 9 0 10-6 10zM857 1961l-7 2-6-13-14-11 4-7 4 2 22 1 3 6zM768 1951l-3-4 0-6 9-4 6 8zM1048 2046l-3-1-7-12 2-4 10-6 4 2 7 14-1 3zM856 2060l-10-21 2-3 20-9 10 18-1 4-1 2-10-3-6 9zM962 2062l-17-13 4-16 5-5 6-1 12 6 6 10-6 12zM782 2062l-6 0-10-3-6-4 8-24 4 0 14 8 4 6-3 10zM678 2048l-12 0-3-3 7-13 10 5zM482 2120l0-29-12-22-4-2-30 10-3 18 1 6 38 20zM876 2173l-4-5-16 5-7-8-2-18 7-20 0-20 4-8 22 16 6 8-1 26zM981 2145l-15 9-20 0-14-9 5-28 5-11 24-3 11 8zM1042 2146l-12-7-9-2 0-6 15-20 8-4 19 12 2 6-14 16zM592 2141l-19-4 8-16 11 0 4 3 0 9zM678 2161l-20-16-2-6 2-3 12-9 12-5 8 7-7 26zM771 2139l-3 0-7-8 1-6 4-3 6 1 7 6 0 2zM1152 2147l-14-2-8-4 1-4 13-14 2 0 4 4 6 10 1 4zM772 2263l-26-21-5-11 25-38 8 9 2 13-2 22 4 14zM660 2247l-8-25 1-9 29-12 8 1 5 31-1 5-6 6-18 6zM1148 2259l-4 0-5-4-6-20 5-25 4 1 14 18 2 6zM582 2250l-9-1-12-26 2-6 9-5 22 7 4 8zM976 2243l-6 6-4 0-10-6-18-5-2-3 4-15 8 0 20-7 6 8 0 18zM1052 2248l-20-1-4-6-6-4 3-4-1-8 6-7 24-2 3 21 0 6zM870 2233l-4 4-12-5-3-3 1-4 16-7 2 3zM1236 2240l-4-1-3-16 2-4 3-1 15 9-1 4zM492 2248l-4-3 1-18 3-2 14 12-2 7zM896 2329l-26 1-12 5-4-4 1-36 9-15 8 3 1 8 11 14 1 8 13 8zM954 2338l-5-7-5-16-7-4 7-6 18-10 4 8 0 16 6 8-6 6zM1042 2338l-8-1-6-12-20-10-3-4 3-4 16 0 16-8 2 6-2 20 3 8zM676 2340l-8-5-9-10 0-8 13-15 8-1 12 16-13 22zM410 2334l-2-3-14-3-4-3-2-20 1-2 7-1 18 7 2 2-3 16zM1240 2328l-16-11 8-5 8-8 2 1 2 6zM504 2340l-20-3-4-2 4-26 2-3 25 13zM760 2332l-10-9 6-10 16-8 4 6 4 12-10 6-2 5zM1156 2328l-10 4-4-1-3-4-1-14 4-2 12 1 2 3zM595 2331l-5 3-10-2-4-5 0-6 8-5 8 1 4 8zM574 2427l-10-20 5-20 5-7 6 2 12 19-14 24zM490 2411l-12 8-8 2-16-22 2-4 18-7 15 13zM700 2411l-6 11-16 16-11-5-13-34 10-4 8 1 22 8zM1051 2431l-7-28 10-2 20 9 2-1 1 2-5 9-11 9zM970 2431l-12 0-1-2-11-8 0-16 6-2 23 6 0 10zM1140 2441l-6-2-8-28 2-8 2-1 20 10 6 7zM815 2435l-7 2-8-8-18 2-13-14 3-4 26-6 9 2 6 12zM868 2445l-20-7-6-5 11-22-2-2 5-3 6 0 16 17zM1230 2423l-4-4 2-4 15-8 2 12-3 6zM946 2519l-2-2-8-15-12-12 8-9 23 0-1 10-4 8 1 12 3 4zM492 2511l-14-8 1-16 3-5 14 2 4 5-5 18zM568 2543l-9-10-7-26 4-11 14-9 10 0 9 8 13 22-2 6-20 15zM827 2509l3-11 28-1 16-9 7 11-13 24-8 11-11-3-13-16-4 0zM701 2521l-9 10-6-6-23-4-2-2 0-20 7-4 16-3 9 3 4 4zM780 2538l-20-4-8-3 1-28 3-11 28 10 6 7zM1148 2516l-4-1-12-10 8-10 12 0 3 4 1 4-3 8zM1060 2520l-6-9-8 0 7-14 15 2-5 18zM1240 2538l-8 1-19-12 10-18 1-6 10 2 17 12zM1042 2625l-5-6-2-12 5-18 1-18 7-14 4 1 4 6 4 19 9 12 5 14-6 8zM588 2619l-8-3-12 1-5-4-2-8 6-18 7-8 9 2 13 26-1 4zM1132 2621l-10-24 4-7 26-10 6 5 4 24-2 4zM650 2617l-12-18 2-6 6-2 12-1 20-6 4 10-20 23zM494 2607l-4 0-5-8 5-6 4 1 6 7zM776 2629l-4-4-4-31 4-2 22 5 3 6zM974 2615l-17-8 3-5 10-8 4 1 4 16zM874 2618l-14 1-7-4-1-2 6-16 18 1 3 3zM1238 2614l-4-2-3-9 0-6 3-2 14 3 3 5zM1044 2724l-7-7-7-14 0-6 18-15 6 3 14 18-18 18zM768 2721l-2 1-2-3-3-14-5-8-8-6 8-5 22 2 8 5-7 2-5 6zM663 2705l2-16 9-2 13 10-1 7-18 5zM968 2720l-7-5-7-18 16-8 13 16-10 12zM590 2713l-11-14 0-6 17 2-1 12zM874 2711l-13-4-1-2 6-10 5 2 4 12z"/>
<path fill="#c8c8c8" d="M1422 2893l-1120 0 0-1130 1120 0zM1032 2878l10-65 0-24 2-3 72-1 20-4 2-18 0-68 2-3 62-2 94-15 5-4-4-22 1-4 8-8 3-8 13-126 54-15 18-3 2-2 7-46 2-136-4-48-38-10-41-4 0-30-6-52-2-4-48-6-34 0-4-2 0-56-3-32-12-82-85-12-7-28-2-34-4-20-67-10-116-6-114 0-66 6-44 8-2 2-14 51-2 26-56 1-33 6-5 22-1 60-1 3-76 1-16 4-3 16 0 66-1 3-32 1-50 8-6 38-1 48-1 3-72 1-18 4-2 50 1 64 9 128 2 2 48 10 30 0 3 2 0 124 7 54 4 2 36 2 28 4 20 1 12 71 4 9 18-2 24-13 4 2 5 12 7 4 46 5 46 0 23 3 19 71 6 14 32 2 26 8 66 2 48 5 42 1zM946 1958l-12-9 0-4 20-14 9 8 1 6-8 14zM856 1960l-6 1-6-12-13-10 3-5 26 2 1 5zM768 1950l-3-7 9-6 5 8zM1048 2046l-10-13 12-10 3 2 7 14zM856 2059l-9-20 20-10 10 16 0 4-13-1-5 9zM962 2061l-17-14 9-18 5 0 13 6 4 6-6 14zM678 2048l-12-1-3-2 7-13 9 5zM782 2061l-6 0-14-6 6-22 4-1 16 11-2 12zM484 2122l0-35-8-26-6 0-40 9-4 37 42 16zM876 2169l-2-4-18 6-6-6-1-16 7-20 0-22 2-5 9 5 12 10 4 6 0 26zM978 2145l-10 5-22 1-10-6 3-28 3-7 24-4 9 5zM1042 2145l-19-10 3-9 12-15 6-3 18 11 2 6-15 16zM592 2140l-18-3-1-2 9-14 10 1 3 3zM770 2139l-8-8 4-9 4 1 8 6 0 2zM678 2159l-20-16 0-4 15-12 9-4 6 6-7 26zM1152 2146l-21-5 1-4 12-13 5 3 7 12zM772 2261l-26-22-2-6 22-37 7 7 2 10-2 24 4 16zM662 2246l-9-31 29-12 6 0 6 30-1 4-5 4-20 7zM1146 2258l-6-4-6-19 4-23 2-1 16 18 1 4zM582 2248l-8-1-9-18-2-8 2-4 5-3 22 7 4 6zM974 2243l-4 5-4 0-10-8-17-3-2-2 3-11 6-1 22-8 5 6-1 20zM852 2229l2-4 12-7 3 3-1 14-4 0zM1054 2246l-6 1-16-2-2-4-6-4 2-2 1-12 3-3 24-2 3 21zM1234 2239l-4-16 4-4 14 8 0 2zM492 2247l-4-6 1-14 3-1 13 13-1 4zM894 2329l-26-1-8 4-5-3 2-34 7-11 5 3 1 4 12 16 1 6 13 8zM954 2336l-4-5-5-16-5-4 22-14 3 6 0 18 5 6-4 5zM1040 2337l-6-2-6-11-18-9-2-5 18-2 14-7zM410 2333l-19-8-1-21 4-1 21 8zM676 2339l-16-16 0-4 12-14 6-2 13 14-13 21zM1238 2327l-13-10 7-4 8-9 3 7-2 14zM502 2339l-21-4 5-28 24 12zM762 2332l-11-9 5-9 16-8 7 15-13 12zM1142 2330l-2-3-1-14 15 0 2 14-10 4zM592 2333l-12-2-3-6 3-7 4-1 8 1 3 7zM576 2425l-11-18 5-20 4-6 5 2 10 18zM470 2420l-16-21 2-3 18-7 14 13 1 7-13 10zM698 2411l-4 8-18 17-8-5-11-32 7-3 6 1 24 9zM1075 2413l-3 6-12 10-6 1-8-27 4-2 6 2zM967 2431l-7 0-13-10 0-16 5-1 21 5 0 8zM1138 2441l-3-4-8-26 3-8 20 10 4 4-13 22zM868 2443l-25-10 1-4 10-18-1-2 3-2 6 0 14 16zM813 2431l-5 3-6-5-20 1-12-13 6-4 26-5 5 3zM1228 2420l0-4 14-9 2 14-2 3zM951 2515l-5 2-9-16-12-12 7-7 22 0-1 7-4 10zM492 2510l-13-7 3-20 14 2 3 4-4 18zM568 2540l-8-7-6-26 4-9 14-9 8 0 7 6 12 18 1 4-2 4-22 16zM828 2507l4-7 24-1 18-8 5 8-15 26-6 7-8-2zM700 2521l-6 7-6-4-24-4-3-7 2-14 5-3 18-3 6 2 3 4zM780 2536l-26-5 1-28 3-9 26 9 4 6zM1148 2515l-15-8 0-4 7-7 12 0 2 3-2 12zM1060 2519l-6-8-7 0 7-13 10 0 3 3zM1240 2537l-6 1-19-13 11-21 6 2 17 11zM1042 2623l-4-4-1-10 6-20 0-18 5-11 4 1 2 4 4 20 8 10 5 14-5 7zM588 2617l-6-3-14 1-3-2-2-6 7-22 6-5 6 3 12 24 0 4zM1132 2619l-9-22 2-4 23-11 6 0 3 3 3 27zM652 2617l-11-18 1-6 16-1 20-7 2 8-20 23zM492 2607l-7-8 5-6 9 8zM776 2627l-3-4-4-28 3-1 20 4 4 5zM874 2617l-4 1-16-3-1-2 5-16 18 2 2 2zM974 2614l-16-7 2-4 10-8 3 2 4 14zM1250 2603l-14 10-5-14 3-3 14 3zM1044 2723l-6-6-7-18 17-16 5 2 13 18zM768 2720l-2 0-4-17-11-12 5-3 22 2 4 3-4 2-5 6zM686 2703l-18 5-4-3 2-16 8 0 10 6 3 4zM968 2719l-6-4-7-18 15-8 12 16zM590 2712l-11-17 1-2 15 2-1 12zM874 2711l-13-4 1-4 6-8 6 12z"/>
<path fill="#d0d0d0" d="M1422 2893l-1120 0 0-1130 1120 0zM1036 2882l2-3 8-91 70-1 22-3 2-19 0-68 2-3 60-2 84-9 22-5-3-23 7-13 2-9 10-128 76-14 2-2 6-76 1-112-3-52-2-2-28-5-52-5 0-28-6-59-88-7-2-90-9-84-87-8-6-28-3-44-2-14-71-8-116-4-116 0-70 4-46 7-12 56-2 26-56 1-34 5-5 25 0 58-1 3-74 1-17 2-4 18 0 68-3 2-30 0-51 6-5 40-1 48-1 3-72 1-16 2-2 2-2 52 1 66 6 130 3 3 50 7 30 0 3 2 0 124 6 56 89 7 12 83 20-1 24-10 4 2 6 9 6 2 48 5 46-1 22 2 2 4 15 84 3 4 36 1 30 6 64 2 50 3zM952 1959l-16-10-1-4 19-13 8 8 1 5-7 12zM856 1959l-4 2-6-12-12-9 0-4 25 1zM768 1950l-2-7 8-5 5 7zM1048 2045l-9-12 9-8 4-1 7 15zM856 2057l-9-18 19-9 10 19-12-2-5 10zM964 2059l-17-12 7-17 18 7 3 4-6 14zM678 2047l-14-2 6-12 8 4zM782 2059l-4 1-15-5 5-21 20 9zM486 2124l0-43-6-26-56 9-3 15-1 35 46 11zM856 2168l-5-3-1-10 8-24 0-24 2-3 20 17 1 30-5 13-2-2zM976 2143l-6 4-26 0-6-4 3-28 3-4 24-3 5 3zM1044 2144l-20-11 14-20 6-4 19 14zM592 2139l-16-2-2-2 8-13 12 3zM770 2138l-7-7 2-6 3-2 9 8zM678 2158l-19-17 23-16 5 4zM1155 2141l-3 4-16-3-4-3 12-14 3 2zM772 2259l-26-26 22-34 4 4 2 10-3 22 5 18zM664 2245l-3-2-7-28 32-11 6 31-4 3zM1144 2256l-3-3-6-20 5-20 15 16 1 4zM580 2246l-4 0-10-20-1-7 5-3 22 7 2 4zM971 2245l-3 2-12-9-16-2 1-9 27-11 3 5zM853 2229l1-3 12-7 2 2 0 12-2 2zM1054 2245l-6 1-16-3-5-6 1-14 2-2 23 0 3 18zM1234 2238l-3-15 3-3 13 9zM502 2243l-12 2 0-18 3 0 11 11zM894 2327l-36 1 1-35 3-4 4 0 13 18 1 6 16 10zM954 2335l-4-4-4-18-4-2 20-12 2 4 1 18 3 6zM410 2331l-18-6-2-20 4-1 19 7zM676 2337l-14-14-1-4 13-14 4 0 12 12zM1038 2335l-3 0-7-13-18-9 0-2 16-1 13-5zM1238 2326l-11-9 6-4 7-8 2 4-2 15zM763 2331l-11-10 4-5 16-9 6 14zM502 2337l-18-2-2-2 4-23 22 9zM1154 2327l-10 3-3-1 0-16 13 1zM591 2333l-11-3-2-3 2-8 4-1 8 2 2 5zM576 2423l-11-16 6-20 3-5 4 3 10 18zM470 2419l-15-20 19-9 14 14 0 5zM676 2433l-6-2-11-30 5-3 28 9 4 4zM1058 2429l-4 0-6-24 2-3 24 11-2 4zM966 2429l-4 2-14-11 0-15 4-1 20 6 0 5zM1138 2440l-10-31 2-4 18 8 4 4zM811 2429l-3 2-4-3-22 1-11-12 3-3 26-6 5 3zM868 2441l-20-6-5-4 13-23 4 1 13 14zM1242 2408l1 13-1 3-14-5 0-2zM492 2509l-13-8 3-17 14 2 3 3zM948 2515l-2 0-8-15-10-11 4-6 20 0 1 2-5 12zM566 2538l-4-5-7-26 3-5 17-11 5 0 17 22 1 4-24 18zM831 2507l3-6 22 0 18-8 3 4-19 34-7-2zM698 2521l-4 5-4-3-26-4 0-18 4-4 18-2 6 1zM780 2534l-20-2-4-3 2-32 10 1 18 9zM1148 2514l-14-7 0-3 6-7 13 2-2 12zM1060 2518l-5-7-7 0 6-13 10 1 2 2zM1236 2537l-19-12 11-19 19 13-8 16zM1042 2621l-3-2 0-8 6-20 1-22 2-6 2 0 3 4 4 20 7 10 4 14-2 3zM588 2614l-4-1-16 1-2-2 7-27 3-3 4 1 12 24 0 4zM1132 2617l-7-20 1-2 24-11 6 1 3 22-1 4zM642 2597l2-3 14-1 18-6 3 4-21 25-6-1zM492 2606l-6-7 4-5 3 1 6 6zM778 2625l-3-2-5-24 2-3 20 4 2 3zM872 2617l-17-2-1-2 5-16 18 4zM974 2614l-15-7 1-3 10-8 2 1 3 14zM1236 2612l-4-11 2-4 15 4-11 12zM1044 2721l-4-4-8-18 15-14 3-1 15 19zM665 2705l3-16 5 0 13 10 0 3-18 6zM768 2718l-3-1-2-14-10-12 5-3 20 3-6 10zM968 2719l-5-4-7-18 12-7 13 15zM590 2710l-10-14 2-3 12 2-1 12zM874 2710l-12-3 6-11z"/>
<path fill="#d7d7d7" d="M1422 2893l-1120 0 0-1130 1120 0zM1040 2887l2-4 4-90 2-3 68-1 24-2 2-88 2-3 60-1 90-7 21-3-2-24 7-24 6-130 80-10 2-2 4-82 1-114-3-56-84-8-4-89-86-3-4-2-1-90-7-88-89-6-8-88-75-5-118-3-116 0-74 3-48 5-10 85-58 1-34 4-3 26 0 58-1 3-74 1-18 2-3 20 0 66-86 6-4 44 0 46-1 3-70 1-20 2-2 122 5 136 88 8 0 122 4 60 91 5 7 83 3 4 20-1 24-6 18 8 116 4 11 93 3 5 38 0 34 4 116 3zM952 1958l-17-13 19-11 8 9zM768 1949l-2-6 8-5 4 7zM854 1959l-2 0-6-12-12-8 24-2zM1048 2044l-8-11 12-8 6 14zM858 2057l-9-18 17-8 9 16-1 2-10-3zM964 2058l-16-11 8-15 18 9zM676 2047l-11-2 5-12 8 5 0 7zM780 2059l-14-4-1-2 3-17 2-2 17 9-5 14zM488 2126l0-49-3-26-5-1-63 7-4 64 53 6zM854 2166l-2-8 8-25 0-24 2-2 16 14 1 34-3 4zM972 2143l-30-1 2-28 26-3zM1044 2142l-18-11 15-20 3 0 17 12zM592 2138l-17-3 7-12 11 2zM770 2137l-6-6 4-8 8 8zM676 2155l-15-14 21-15 3 3-7 26zM1154 2141l-2 2-19-4 11-13zM772 2256l-24-23 20-31 4 7-3 26 5 16zM664 2243l-8-28 29-10 6 28-1 2zM1144 2254l-2-1-6-20 4-18 15 16zM580 2244l-3-1-11-22 2-3 24 9zM968 2245l-12-9-14-1-2-2 2-5 26-10zM868 2222l-2 12-11-5 1-3 10-5zM1054 2243l-22-2-2-4 0-14 22-1zM1234 2237l-2-14 2-2 12 8zM502 2242l-12 2 2-17 11 12zM894 2326l-34 0 2-34 2 0 14 21 16 10zM954 2333l-3-2-6-20 17-10 4 26zM410 2330l-17-5-1-20 20 6zM676 2336l-14-17 14-13 12 13zM1036 2335l-8-15-17-7 15-1 12-6zM1238 2325l-10-8 6-3 6-8 1 3zM764 2330l-10-11 18-10 5 12zM500 2337l-17-4 5-23 18 9zM1142 2329l0-16 12 2 0 11zM590 2333l-10-4 0-8 2-2 10 2 1 2zM576 2422l-10-15 8-24 12 20zM472 2418l-4-3-11-16 15-8 4 2 12 14zM674 2431l-13-30 3-2 30 12-2 5zM964 2429l-15-10 0-14 22 6zM1058 2428l-3-1-5-22 2-1 21 11zM1138 2438l-9-29 1-3 19 9zM773 2417l1-2 26-6 3 2 6 16-25 2zM868 2439l-23-8 11-21 2-1 14 16zM1242 2423l-12-3-1-3 11-7zM492 2508l-13-7 3-16 16 4zM946 2513l-7-14-9-12 2-2 20 0-6 12zM566 2536l-3-3-6-26 23-14 16 22zM833 2507l3-4 20 0 18-8 1 2-19 33-4-1zM696 2521l-2 3-28-5-1-18 3-2 20-3 3 1zM778 2533l-20-4 2-31 24 9 1 2zM1148 2514l-13-7 5-9 12 1zM1060 2516l-2 0-2-5-7-2 5-9 12 1zM1236 2535l-17-10 9-17 18 11zM1042 2619l-2-4 7-22 0-24 3-3 5 23 6 8 4 14-1 2zM588 2612l-18 1-3-2 10-28 14 26zM1134 2615l-7-18 27-12 4 24zM654 2614l-10-17 2-2 12 0 18-6 1 2-19 23zM492 2606l-6-7 6-5 6 7zM778 2623l-6-24 2-2 19 6zM872 2616l-16-2 4-16 16 3zM974 2613l-14-8 10-8zM1236 2611l-2-13 14 3zM1044 2720l-10-21 14-14 2 1 12 17zM685 2701l-17 6-2-2 4-15 16 9zM768 2714l-2-1-2-11-8-11 2-1 19 3-6 8zM968 2718l-4-3-7-16 11-8 11 14zM590 2708l-10-13 2-1 12 1zM874 2709l-12-4 6-8z"/>
<path fill="#dfdfdf" d="M1422 2893l-1120 0 0-1130 1120 0zM1044 2891l2-4 2-94 4-2 90-1 2-3 0-86 2-4 174-4 3-2-1-22 3-28 3-132 4-2 80-4 2-2 2-88-1-174-3-2-82-2-2-2-2-90-90-2-2-2-4-182-92-4-5-90-199-4-116 0-128 4-5 88-1 2-92 2-3 28 0 60-1 2-92 1-3 21 0 66-87 4-3 94-1 2-70 0-22 2 0 124 2 140 4 2 86 2 1 2 0 122 3 62 92 2 1 2 5 89 22 0 24-3 20 4 116 3 6 101 200 5zM952 1957l-16-12 16-9 8 7zM853 1955l-1 1-4-9-9-6 1-2 16 0zM770 1948l-3-5 7-4 3 6zM1050 2041l-7-8 7-5 5 9zM858 2054l-7-13 15-8 8 14-10-2zM964 2056l-13-9 5-13 16 7zM676 2046l-8-1-2-2 4-8 6 4zM780 2058l-13-5 3-17 16 7zM490 2128l0-57-1-24-75 2-6 2-2 72 1 4 57 2zM968 2139l-24 0 2-20 20-4zM1044 2141l-14-12 14-16 16 10zM854 2164l8-29 1-18 7 0 6 6 0 32zM591 2137l-15-2 8-10 7 2zM770 2135l-4-4 2-7 6 7zM676 2153l-10-12 16-13zM1152 2141l-18-2 10-10zM772 2254l-20-21 6-12 12-16-3 28zM666 2238l-5-19 21-11 4 23zM580 2241l-2 0-10-20 22 6zM1144 2250l-2 0-4-17 4-12 12 10zM866 2233l-10-6 10-5zM966 2223l-1 16-1 1-8-6-14-1 0-2 22-9zM1236 2235l-2-12 10 6zM1054 2241l-21-2-3-14 20-1zM501 2241l-10 2 1-12 2-1 8 9zM892 2323l-28-1 2-23 10 14zM954 2331l-7-20 15-9 1 25zM410 2328l-16-5-1-16 19 6zM676 2332l-11-13 11-11 11 11zM756 2320l2-3 14-6 3 10-11 5zM1034 2327l-2 0-4-8-8-5 15-3zM1238 2323l-8-6 8-7 2 1zM500 2334l-14-3 4-17 14 5zM1154 2325l-10 4-2-15 10 1zM590 2331l-9-2 1-9 10 3zM576 2419l-8-14 6-20 10 18zM472 2415l-11-14 5-6 6-3 14 15zM674 2429l-10-26 2-2 26 10zM1058 2427l-5-18 1-2 16 8zM962 2425l-11-6 1-11 16 5zM1138 2435l-8-26 2-1 15 7zM806 2425l-20 1-10-9 2-2 22-5zM866 2435l-20-5 10-17 2-1 11 13zM1241 2419l-3 1-7-3 9-5zM944 2506l-12-19 18 0-5 10zM492 2507l-12-6 4-13 13 1zM566 2534l-6-25 20-14 10 20zM694 2521l-28-4 1-16 23-4zM835 2507l21-2 16-6-18 29zM778 2531l-18-2 2-29 21 9zM1058 2515l-2-5-5-1 4-8 9 0zM1148 2513l-12-6 6-8 9 2zM1236 2533l-14-10 8-12 13 8zM1044 2613l5-20 1-24 4 22 6 14-1 2zM574 2611l-3-2 7-22 12 22zM1135 2611l-6-14 25-11 3 21zM656 2613l-9-16 25-5zM492 2605l-4-6 4-4 5 6zM870 2615l-12-2 4-14 13 4zM972 2612l-11-7 9-6zM778 2621l-4-20 16 2zM1236 2609l-2-8 2-2 8 2-6 9zM1044 2717l-8-16 12-14 10 16zM667 2705l3-13 2-1 12 8-1 2zM768 2711l-8-19 14 2zM968 2717l-10-18 10-7 9 13zM590 2706l-8-12 11 3zM870 2707l-6-2 4-5z"/>
<path fill="#e7e7e7" d="M956 1943l-4 8-12-6 12-5zM770 1947l-1-4 5-1 0 3zM852 1949l-5-4 1-2 4 0zM674 2041l-4 0 2-2zM962 2052l-8-7 4-7 9 5zM778 2054l-9-3 1-10 2-2 10 6zM868 2045l-4-1-4 3-2-4 6-3zM964 2135l-16 0 2-13 12-2zM1044 2131l-4-6 4-5 6 3zM587 2129l1 4-7 0 3-4zM770 2132l-2-3 2-1 1 3zM862 2149l4-20 4 1 0 15zM1147 2137l-1 2-7-2 5-4zM676 2147l-4-6 6-6zM670 2230l-2-9 8-3 2 9zM766 2240l-6-9 6-12zM580 2235l-2 0-6-10 2-1 10 3zM865 2225l-1 5-5-3zM963 2227l-1 8-14-4 14-5zM1050 2239l-14-2-2-10 14 0zM1240 2229l-2 2-2-4zM1144 2238l-2-5 2-4 2 4zM500 2239l-6 1 0-7zM878 2318l-9-1 1-9 9 9zM407 2323l-1 1-8-3-2-11 12 4zM1236 2320l-4-3 6-6zM676 2327l-6-8 6-6 7 6zM956 2321l-3-6 5-4 0 8zM1030 2321l-7-6 7-1 1 1zM1152 2323l-8 3 0-10 6 1zM498 2331l-9-2 3-12 9 4zM764 2321l0-2 4-1-1 3zM588 2329l-5-2 1-5 5 1zM576 2414l-6-9 4-16 7 14zM472 2411l-7-10 7-6 10 10zM686 2413l-10 8-7-14zM962 2419l-2 1-4-3 0-4 7 2zM1058 2423l-2-12 8 4zM1138 2430l-4-18 10 5zM796 2421l-6 0-3-2 7-3zM1238 2415l0 2-4 0zM862 2431l-11-2-1-2 8-9 7 7zM482 2499l4-8 8 0-4 12zM942 2498l-4-8 8 1zM570 2526l-4-15 12-9 7 11zM1058 2513l-2-4-3 0 3-6 5 2zM1146 2510l-7-5 3-3 6 1zM687 2513l-11 0-2-2 1-4 9-3zM776 2524l-11-1 1-17 12 5zM849 2509l9-2-4 8zM1236 2529l-10-6 4-9 8 5zM1050 2602l2-13 2 10zM1152 2591l0 14-14 1-4-7zM584 2606l-9-1 5-10 5 10zM658 2608l-6-9 14-3 1 1zM492 2603l-2-4 2-2 2 4zM780 2615l-3-10 1-2 8 2zM870 2611l-10 0 2-8 10 1zM970 2607l0 1-6-3 4-3zM1242 2603l-4 3 0-4zM669 2703l3-10 10 6zM768 2707l-4-12 8 1zM968 2714l-6-13 6-6 6 10zM1046 2709l-3-6 5-6 4 6z"/>
<path fill="#eeeeee" d="M962 2047l-4-2 2-3 3 1zM776 2051l-4-2 2-5 4 3zM960 2131l-7 0 1-6 5 0zM1046 2233l-7 0-1-4 6-1zM404 2320l-4-3 0-3 4 1zM496 2327l-4-1 2-5 3 2zM476 2405l-4 2-3-4 3-3zM576 2408l-2-5 2-4 2 4zM1138 2425l-2-9 5 3zM491 2495l-3 4-2-2 2-3zM574 2517l-2-6 6-2 2 4zM772 2518l-2-1 2-3 2 1zM1234 2524l-5-3 3-3 3 3zM1147 2601l-5 2-1-4 5-3zM658 2601l1-2 4 0-3 3zM780 2611l-1-4 3 0zM869 2607l-1 2-5 0 3-4zM677 2699l-5 0 2-3zM968 2709l-3-6 3-3 2 5z"/>
</g>
<path d="M201 1066 L246 1066" stroke="#e2e2e2" stroke-width="5" stroke-linecap="round" fill="none" style="mix-blend-mode:lighten"/>
<path d="M520 976 L569 976" stroke="#e2e2e2" stroke-width="5" stroke-linecap="round" fill="none" style="mix-blend-mode:lighten"/>
<path d="M574 1023 L617 1023" stroke="#e2e2e2" stroke-width="5" stroke-linecap="round" fill="none" style="mix-blend-mode:lighten"/>
<path d="M665 1160 L709 1160" stroke="#e2e2e2" stroke-width="5" stroke-linecap="round" fill="none" style="mix-blend-mode:lighten"/>
<path d="M153 1207 L208 1207" stroke="#e2e2e2" stroke-width="5" stroke-linecap="round" fill="none" style="mix-blend-mode:lighten"/>
<path d="M663 1207 L709 1207" stroke="#e2e2e2" stroke-width="5" stroke-linecap="round" fill="none" style="mix-blend-mode:lighten"/>
<path d="M384 1392 L384 1447" stroke="#e2e2e2" stroke-width="5" stroke-linecap="round" fill="none" style="mix-blend-mode:lighten"/>
<path d="M431 1394 L431 1447" stroke="#e2e2e2" stroke-width="5" stroke-linecap="round" fill="none" style="mix-blend-mode:lighten"/>
<path d="M479 1394 L479 1447" stroke="#e2e2e2" stroke-width="5" stroke-linecap="round" fill="none" style="mix-blend-mode:lighten"/>
</g></g>
<path d="M201 1066 L246 1066" stroke="rgb(146,0,0)" stroke-width="1.6" fill="none"/>
<path d="M520 976 L569 976" stroke="rgb(146,0,0)" stroke-width="1.6" fill="none"/>
<path d="M574 1023 L617 1023" stroke="rgb(146,0,0)" stroke-width="1.6" fill="none"/>
<path d="M665 1160 L709 1160" stroke="rgb(146,0,0)" stroke-width="1.6" fill="none"/>
<path d="M153 1207 L208 1207" stroke="rgb(146,0,0)" stroke-width="1.6" fill="none"/>
<path d="M663 1207 L709 1207" stroke="rgb(146,0,0)" stroke-width="1.6" fill="none"/>
<path d="M384 1392 L384 1447" stroke="rgb(146,0,0)" stroke-width="1.6" fill="none"/>
<path d="M431 1394 L431 1447" stroke="rgb(146,0,0)" stroke-width="1.6" fill="none"/>
<path d="M479 1394 L479 1447" stroke="rgb(146,0,0)" stroke-width="1.6" fill="none"/>
<rect x="906.7" y="886.0" width="549.8" height="560.7" fill="rgb(146,0,0)"/>
<path d="M906.7 885.5H1457.5V1446.7" fill="none" stroke="#b0b0b0" stroke-width="1" stroke-dasharray="1.5 1.5"/>
<defs><clipPath id="clipD"><path d="M1185.5 956.5 1215.5 956.5 1215.5 991.5 1284.3 991.5 1284.3 1024.6 1318.5 1024.6 1318.5 1060.6 1352.7 1060.6 1352.7 1131.7 1387.7 1131.7 1387.7 1232 1353.3 1232 1353.3 1268 1318.2 1268 1318.2 1304 1285.8 1304 1285.8 1337.5 1250 1337.5 1250 1370.8 1146.5 1370.8 1146.5 1408.4 1115 1408.4 1115 1372.4 1047 1372.4 1047 1338.2 1012.8 1338.2 1012.8 1266.2 978.6 1266.2 978.6 1232 944.4 1232 944.4 1131.7 977.7 1131.7 977.7 1094.8 1013.7 1094.8 1013.7 1026.4 1082 1026.4 1082 991.3 1185.5 991.3Z"/></clipPath>
<filter id="fD" filterUnits="userSpaceOnUse" x="906.7" y="886.0" width="549.8" height="560.7" color-interpolation-filters="sRGB"><feGaussianBlur stdDeviation="0.80"/><feComponentTransfer><feFuncR type="table" tableValues="0 0 0 0 0.5 1 1 1 0.5"/><feFuncG type="table" tableValues="0 0 0.5 1 1 1 0.5 0 0"/><feFuncB type="table" tableValues="0.5 1 1 1 0.5 0 0 0 0"/></feComponentTransfer></filter></defs>
<g clip-path="url(#clipD)"><g filter="url(#fD)">
<rect x="906.7" y="886.0" width="549.8" height="560.7" fill="#141414"/>
<g transform="scale(.5)" fill-rule="evenodd">
<path fill="#181818" d="M2912 2894l-1098-1 0-1121 1099 1z"/>
<path fill="#202020" d="M2912 2894l-1098-1 0-1121 1099 1z"/>
<path fill="#282828" d="M2912 2894l-1098-1 0-1121 1099 1z"/>
<path fill="#2f2f2f" d="M2912 2894l-1098-1 0-1121 1099 1z"/>
<path fill="#373737" d="M2912 2894l-1098-1 0-1121 1099 1z"/>
<path fill="#3e3e3e" d="M2912 2894l-1098-1 0-1121 1099 1zM2442 2246l16-15-16 12z"/>
<path fill="#464646" d="M2912 2894l-1098-1 0-1121 1099 1zM2471 2041l-8 0 5 3zM2300 2230l10-2 4-10-9 3zM2440 2243l4 5 16-15 22-2-6-6-16-3-20 18zM1982 2335l4-8-1-6-12 0 4 10z"/>
<path fill="#4e4e4e" d="M2912 2894l-1098-1 0-1121 1099 1zM2475 2039l-1-2-22 0-1 2 13 9 6-2zM2391 2085l-7 2 4 2zM2114 2199l12-2-4-11-5 5zM2098 2229l-6-6 5-20-13-2-3 10 7 16zM2274 2238l2 2 18-6 20-3 8-20 5 2-5-4-18 6-8 10-10-14-6-2-10 8zM2440 2245l6 4 16-13 18-2 4-3-1-4-13-10-10-2-8 10-14 11zM2408 2256l11-17-5 4zM2042 2252l8-8-10-1 0 4zM2320 2263l1-10 5-4-6-5-2 0-1 5zM2051 2271l-5-2-10 1-8 6-9 1 11 3 9-1zM2356 2273l-8-2-16 2 10 4 8 0 4 3zM2254 2309l4 0 20-22 2 1 6-9-7 0-2 8zM2026 2296l0-5-6-7 2 7 4 2zM1991 2337l-5-6 4-14-24 0-2 2 5 10 9 7zM2058 2344l-2-5 0 5zM2132 2386l6-9-6-11-2-1-8 2-1 2 6 8 3 8zM2084 2429l0-2-4 0 2 3zM2157 2437l-7 1-3 3 6 0zM2194 2461l-12-8-3 6 3 2zM2207 2471l-11-10 0 2z"/>
<path fill="#555555" d="M2912 2894l-1098-1 0-1121 1099 1zM2350 2062l6-3-2-23-2-3-3 2zM2479 2035l-69 0 32 4 20 13 8-3zM2262 2051l2-14-6 10zM2312 2063l0-11-4 7zM2429 2085l14-14-5-1-5 3zM2490 2091l5 0 15-16 8 3 0-3-8-3-8 1-10 9zM2397 2083l-3-4-6-1-6 4-12 1-6 6 22 8zM2230 2100l2-3-6-3 0 5zM2274 2108l3-3-5-7 0 7zM2172 2130l-2-6-2 3zM2419 2147l2-10-5-4-1 0zM2272 2155l12-4 6 2 3-6-9-1zM2224 2153l-2-4-18 0 14 6zM2110 2204l10-4 13-1-9-22-8 10 0 8zM2102 2233l0-6 4-22-16-5-11 1-1 27 4 5 8-5zM2426 2203l-4-2 2 4zM2254 2310l4 0 14-15 11 6 21-21 16-2 14 5 14-3 8 9 6-16-18-4-22 0 0-14 8-7 25-11-27-34-8 4-18 3-4 4-3-5-17-2-10 6-20 4-16 12-1 10 4 2 15 21 12 0 0-2-8-4-12-13 24-15 6 18 22-12 22 0 4-7 22 10-18 4-4-2-2 2-1 8 3 22-18 8-22-1-6-5-12 26-8 7zM2444 2250l10-3 8-7 10-1 14-6-2-9-18-14-6-2-10 13-14 12 4 13zM2406 2259l14-18 2-6-12 8-6 12zM2034 2241l8 15 12-10 7 1-3-6zM2100 2274l2-1 5-16-3-9-1 9-9 10zM2448 2272l3-5-3-6zM2039 2319l1-8-6-7-6-19 20-3 13-15-21-2-10 9-14 3-10-6 0 10 8 1 4 11 7 2zM2092 2319l-5-10-3-2zM1997 2339l-10-8 7-17-50 0-2 5 0 4 16 0 20 16zM2060 2347l2-2-6-9-14-12 13 17-1 6zM2303 2355l-3-4-4 0zM2269 2357l-15-1-6 4-22-3 24 11 6 9 6-2 1-6zM2128 2411l4-2 0-18 9-14-7-17-25 5 9 4 9 10 3 20zM2545 2373l-9-4-2 2 0 3zM2616 2382l0-8-4 0zM2704 2413l-4-4-7 4zM2184 2425l0-6-4 4zM2012 2437l5 2 14-6 4-6-25 0zM2088 2435l0-9-13 1 8 8zM2144 2443l12-2 9-8-17 4zM2050 2461l8-8 5-2-15-17zM2512 2443l-18-3-2 3 0 2zM2223 2475l-4-8 9-20-2-3-30 10-12-11-2 1-4 13 0 6 16 4 12 10 4-2zM2546 2517l2-6 3 0-13-10 7 8zM2104 2513l-6-3-3 3 5 2zM2394 2685l0-7-2 1z"/>
<path fill="#5d5d5d" d="M2912 2894l-1098-1 0-1121 1099 1zM2264 2064l2-3 1-14-3-6 2-9-7 9-7 16zM2348 2066l9-5-3-29-8 1-2 28zM2482 2033l-75 0 3 8 30 2 18 14 13-6 3-8zM2314 2073l2-20-2-2-4 2-6 12zM2420 2099l26-26 0-4-10 0-10 4-6 18zM2486 2093l14-2 10-12 10 5 1-11-7-4-24 3-1 13zM2361 2087l17 18 4 2 21-28-6-6-11-1-7 7-17 1zM2232 2103l6-12-14-5-2 11zM2274 2112l6-11-10-11 0 15zM2232 2141l-10-2-32 1-11-17-7-3-15 19 7 4 24 4 26 10 14-2 2-4-2-8zM2422 2159l9-6 1-10-18-13-6-1 6 8 5 22zM2058 2351l6-4-8-13-14-15 10-32 32 3 12-4 4 3 11-34-7-28 6-20 12-5 14-2 2 2-12-37-12-18-28-1-10-5-1 2 1 4 4 3 8 0 34 15 4 4-12 15 1 11-7 8-18-4-15 0 0 38 3 3 12-11 6 2 10 8-5 20-15 14-15-8-5-26-34-1 10 21 12 2-12-1-12 14-14 2-12-7 0 16 6 0 3 8 11 4 12 22 17 20-1 12zM2334 2147l-6-5-2 1 4 7zM2258 2170l12-9 12-5 12 3 2-2 2-12-16 0-15 12zM2472 2168l1-9-5-1-3 5zM2264 2186l2-5-6-10 1 12zM2254 2311l4 0 10-9 7 5 26 2 15-21 8 1 22-5 12 13 2-1 7-23-17-4-26-2 0-9 7-9 29-12 1-4-29-36-14 8-20 3-16 0-6-3-8 4-38 8-5 20 9 5 14 22 20 1-5-10-9-8 10-7 2 1 2 18 2 1 7-15 15-9 27 1-3 12 3 22-19 7-18-1-14-9-17 37zM2430 2205l-11-6 3 9zM2446 2252l18-9 14-3 10-7-4-13-24-19-12 16-14 13 6 17zM2142 2224l6-3-8-17 0 13-3 4zM2408 2262l18-31-12 5-9 9-4 10zM2004 2248l5-7-1-3-5 1zM2448 2273l4-6-4-9zM2506 2277l15-4 3-9-4-4-4 11zM2655 2315l1-2-4-10-16-18 1-6-13-4 4 12-4 12 10-6 18 10-4 10zM2382 2317l4 0 11-38-4 0-13 12zM2172 2297l-4-3-14 2-2-11-4-3-3 3 3 2 2 13zM2098 2332l2-7-9-18-5-2-6 1 0 3 4 0zM2002 2341l-13-10 8-16-1-3-56 1-1 20 5 3 8 1 8-7 16 12zM2126 2415l9-2-3-10 1-10 3-8 8-8-5-12-1-9-13-1 11-9-6-15-4 2-2 20 2 4-26 2-2 6 16 3 11 11 3 10 0 14-4 10zM2616 2385l6-6-4-23-5-1 0-6 5-2 2-10-2-5-28 6-2 10 13 17 4 2 8 12-1 4zM2342 2367l-6-4-14 3-13-15 1-2-26 1-5-3-9-10 7 8-1 2-20 0-10 8-20-4-12 2 8 6 27 12 5 8 17-2 13-25 16 6 15 13-3 8 2 4 8-10zM2485 2371l-1-4-4-2 2 7zM2530 2369l1 4-1 10 8-6 14 3 7-3-23-12zM2709 2415l-9-14-20 14zM1947 2415l-9-8 0 9zM2239 2479l-9-18 5-12-1-14-10-3-4 9-22 6-12-14 2-19-20 15-20 6-5 8 15 0 14-14 11 6-9 30 18 6 12 12 10-5zM2068 2451l-9-6-11-16 4-4-40-1-7 3 0 10 5 4 12 1 20-7 4 14-2 22 14-15zM2093 2435l1-10-25 0 15 13 4 1zM2488 2441l2 6 6-2 22-2-6-5-12-2-2-4zM2135 2463l-1-2-25 0 3 5zM2559 2513l-26-22-1-6-6 5-22 5-11 10 21-6 14-6 13 16 1 21 2 3 6-18zM2142 2491l2 10 11-4-9-7zM2112 2513l-14-5-6 5 6 2 4 5zM2484 2588l4-5 6-19 6-3 1-6-12-2-6 32zM2084 2563l8-3 11 1-10-4zM2101 2627l23-2 4-8zM2510 2628l14-11-12 8zM2450 2670l-2-16-16-15-9 2-11 14 2 4 30 4zM2180 2666l4-1 4-12-2-1zM2396 2694l2-1-1-10-3-11-5 11 4 10zM2240 2689l-2-7 0 5zM2327 2693l-11-6-8 6z"/>
<path fill="#656565" d="M2912 2894l-1098-1 0-1121 1099 1zM2248 2031l0-4-10 0 6 4zM2248 2085l13-10 6 0 3-26-4-8 4-14-2 0-9 12-14 28zM2486 2029l-78 0-4 2 6 14 26 1 18 15 18-7 6-15zM2344 2069l14-8-4-31-12 3-2 28zM2516 2042l-5-3 1 3zM2314 2083l8-6-5-4 1-22-2-1-6 1-10 20zM2382 2114l4-1 0-6 23-30-9-10-16-1-8 9-14 1-3 5 0 6 22 22zM2482 2095l12-3 9 1 9-9 12 5 0-18-8-4-28 4 0 12zM2418 2103l11-8 21-22-2-6-14 1-16 7-2 22zM2235 2107l10-20-19-4-6 2 1 12zM2274 2115l2-6 7-10-13-15-1 1-1 18zM2464 2114l1-7-3-1zM2554 2125l1-16-3-1-3 1-1 4zM1938 2338l10 7 0 5 6 3 0-8 8-10 12 9 26 1-9 22 6 0 10-22-16-16 17-34-4-4 4-2 1 6 14 2 12 22 17 20-2 15 12 0 6-5-12-18-11-10 11-30 16 1 14 8 16-7 11-30 2-10-8-26 7-20 8-3 12-1 3 12-5 7 8 5 6-4 5 0-12-24-6-26 7-8 1-8 7-3 6-8 22 3 8 5 8-1 18 6 27-4-1-8 4-2 2 8 4-4 6-14-8-6 0 11-18 0-8-7-24 0-8-12-14-7-4 9-18 19-18 3-8-3-38-1-14-6 0 18 14-2 31 14 2 8-7 9 1 13-7 8-16-5-18 1 0 32-2 4-44 0 10 11 5 15-11 12-12 2-18-8 0 38-2 4-60 1-1 7zM2443 2147l-31-20-11-2 11 12 5 18-1 6 6-1zM2338 2147l0-2-10-8-7 0 1 8 10 8zM2387 2321l15-38-2-5-13-1-19 16-1-2 5-16-1-2-21-5-24-3 6-16 30-11 5-9-30-36-4-2-19-28-14-4 1-14-3-2-16 0-16 12-6 8-10-1 7 9 4 14 3 3 4-7-5-10 10-8 9-3 20 4 10 5 4 7 14 15-12 12-20 4-16 0-8-5-6 4-30 5-17 8-1 18 14 5 11 15 3 9 14 3-12 17-10-5 8 10-5 16 7 0 2 4 6 1 4-3 20-1 26 4 14-19 22-5 14 14zM2472 2175l3-18-9-1-6 11zM2448 2274l6-7-4-10 18-12 10-3 12-7-4-17-18-15-2-8-12 8-22 24 8 20 6 6zM2433 2205l-15-8-3 0 4 12 3 3zM2643 2207l1 4 6 0 1-2-5-3zM2522 2249l12-22-14-8zM2408 2264l3-7 11-16 6-13-16 7-11 10-3 8zM2086 2272l-14-7-1-2 4-16 15-17 6 2 9 7-4 20zM2000 2255l12-20-10 0-2 2zM2270 2267l8-22 16-9 22 1 2 2-3 10 3 22-18 6-18-1zM2616 2307l13 0 7-5 8 4 0 5 10 6 6-4-6-14-13-16 7-12 10-7 2 2 0-24-3 7 3 6-12 16-32-2 8 16zM2504 2277l4 1 14-3 5-4 4-12-9-10-6 20zM2202 2290l5-3 4-18-3-8-7 2zM2182 2303l-10-15-16 3-1-6-9-4-2 0-5 6 7 2 2 10 2 2 18-3zM2096 2338l6-9 0-8-8-15-8-4-11 3 2 4 8 2 11 18zM2348 2367l-12-9-11 1-9-10 6-2-24 2-16-1-15-17-5-11-2 13 3 4-7 2-12 10-14 0-12 4-6-2-2 2 38 22 4 6 20-2 13-6 7-13 8 3 9 8-3 8 10 6 6-9 20-4zM2658 2337l0-8 5-2-1-2-4 4zM2334 2342l6-7-2-9-3 5zM2122 2419l14-2 2-2-4-10 0-10 4-10 9-8-5-12 0-10-8-22-4-4-10 4-3 16-21 6-1 10 1 2 18 3 10 9 2 8 1 14-2 8-5 8zM2616 2388l3-5 7-4-3-24 1-4-3-4 1-10-4-7-28 6-4 17 9 12 9 3 6 9 0 9zM2493 2373l-3-10-16-11-4 3 10 21 6 1zM2525 2369l4 6-1 15 12-9 12 2 11-8-18-6-5-6-6-2zM2678 2419l35 0-12-22 0-22 3-13-10 7 2 4 0 24-18 15-1 5zM1963 2419l-17-9-12-13 0 20 2 2zM2606 2405l2-2-2-6-1 6zM2242 2482l0-22-1-3 1-32-12 1-12-3-4 14-14 3-12-11 3-16 5-4-1-2-32 22-17 5-6 11 20-2 10-7 8 3-7 28 21 9 10 13 14-8zM2320 2435l10 2 8 8 18-12 6-12-4-2-6 2-4-2-14 6-4 7zM2002 2439l6 5 6-2 12 3 12-4 2 2 3 26-9 18 2 0 22-28 14-8-12-7-8-14 8-6 8 4 10 9 6 4 6 0 7-6 2-12-95 0-2 2zM2483 2437l5 13 10-4 25-1-7-8-11-6-5-8zM2538 2433l4 10 4 1 26-9-30-4zM2408 2441l-10-1-5 3 5 2zM2640 2449l6 2 12-4-12-3-4 1zM2606 2463l-1-8-8-2-2 4zM2137 2463l-5-4-14 0-10-4-2 2 4 10 24-1zM2568 2517l-32-28 4-12-14 12-14 4-10 0-12 9-10-1 7 6 7 1 34-10 9 11 1 30 6 2 8-23zM2631 2491l-4-6-6-2 3 8zM2141 2503l1 2 20-7 26-1-1-12-9 0-16 10-14-7-7-1-2 6zM2135 2511l-25-1-12-4-6 2-3 5 1 3 8 0 6 9 8-6 10 7 4 0zM2456 2519l3-2-1-4zM2070 2535l0 34 4 4 4-4 14-6 21 0-12-8-9 1-16 12-2-21zM2484 2594l10-24 11-5 2-10-13-1-8-5 0 12-6 26zM2201 2579l-9-4-5 0zM2090 2631l22 0 18-4-1-4 8-18-18 12-15 4-2 4zM2496 2631l16 0 10-8 4 0 0-18 0 4-4 6-14 12-10 0zM2080 2631l-10-13 0 11 2 2zM2194 2671l5-12 1-20-6-7-18 31 4 5zM2454 2677l-4-26-10-10-4-7-9 3-17 1-6 2-1 17 7 2 0 10 12 9 14 3zM2353 2669l23-15 7 1-7-3zM2404 2697l3-2-6-2-7-27-8 21 4 10zM2244 2693l-2-10-4-5-2 13zM2332 2697l-16-15 0 3-6 5-10 5 4 2z"/>
<path fill="#6c6c6c" d="M2912 2894l-1098-1 0-1121 1099 1zM2250 2035l2-10-10-1-4 2 0 3zM2274 2119l2-9 10-13-10-12 20-6 16 13 21-15-1-2-12-4 1-22-11 1-14 26-4-3-20-2 1-20-6-10 7-16-12-1-2 1 3 6-7 9-9 23-9 10-1 6-19 4-1 12 21 14 12-19 16-6 1 19zM2356 2085l24 24 0 11 12 0-2-15 20-26 2 20 4 8 6-7 13-7 19-20 0-8 18-9 7-17 10-12-85-1-3 3 7 20 26 1 17 15-19 2-18 6-10-11-22-3-10 12-12 3zM2342 2073l16-10-4-34-15 2-1 2-3 30zM2524 2046l-4-4-8-4-2 1 2 7zM2220 2072l-12-11-2-14 0 20zM2537 2093l-9-2-1-22-9-4-30 5-2 3-1 8-7 14 28-1 6-6 10 5 2 9 2 0zM2508 2137l4-6-40-3-5-17 3-8-2-2-10 1 3 7-1 7 10 14 24 7zM2556 2131l0-27-18 5-2 2-1 10 6 8zM2406 2285l-2-8-6-3-16 0-4 3-4-4-47-10 5-13 20-9 14-2 7-14-24-30-14-4-3-9-8-13-6-4-6-10-8-1 0-9-2-2-22-1-14 11-6 7-14-3-1-2 6-6 2-6 9-12-24-19 6 25-18 2-12-12-14 0-6-8-20-10-6 14-18 18-18 2-2-3-12-3-32-1-16-9 0 30 16-5 23 11 3 32-6 7-16-4-20-1-2 35-44 1 12 14 5 12-11 13-14 2-18-10-1 41-59 1-3 5-1 20 1 10 6 6-1 14 24 10-6-24 6-7 10 7 18 0-8 18-16 8 4 4 12-7 14-1 13-20-5-9-13-11 15-32 14 1 12 21 17 20-3 18 14 2 9-8-11-13-4-9-8-8 12-26 10 1 8 5-8 2 6 8 8 1 10 15 0 16 10-14 1-12-7-12-7-4 14-8 11-28 3-14-3-12-6-12 2-10 6-10 14-2 1 8-7 10 12 7 8-6 8-1-14-24-5-26 16-12 7-10 14 2 11 6 11-1 12 4 18-5 18 0 12 12 6 16 6 5 4-11-3-6 13-10 8 2 10-1 15 7 1 8 13 14-10 8-19 5-16 0-10-7-4 3-24 3-30 16 1 16 17 4 13 16 3 11 8 1-6 10-10-3-10 5 2 14 5 6-2 8 15-1 2 4 7 1-3 22-18 11-20 6-8-3-4 2 44 30 24-1 20-7 6-4 4 2-3 8 9 3 6 7 8-10 21-4 8-6 1-2-12-10-8-4-6 1-4-5 11-4 6-6-3-17-4 7-4 15-34 4-12-1-16-16-7-16 1-3 20-3 30 6 13-18 19-4 10 10 8 1 26 20zM2446 2147l-1-2-5 0-28-20-16-2 15 16 4 16-2 6-3 2 4 3 2-3 7-2zM2344 2145l-16-13-12-1 2 14 10 6 4 6zM2474 2183l0-22 4-6-16-2-6 14 2 9zM2522 2180l-4-9 2-6-4-5-8 5zM2493 2235l-5-19-12-11-2-16-14 5-2 4-11 7-13 13-2-9 4-2-1-2-19-10-3-6-1-5 2 7-26 6 30 18 8 10-16 8-15 16 7 11 6 6 4-9 18-29 9 19 6 6 1 16 2 6 6-6 1-4 18-18zM2202 2207l1-6-3-3-2 1zM2639 2209l1 10 4-3 19-1-15-10zM2573 2283l-5-3-14-19 0-6-16-4 12-18 22-4 0-2-30-1-16-9 0-6-8 8 1 24 2 6-5 18-10 8-6 0 6 4 22-4 4-4 6-20 26 28-1 6zM2619 2231l10-4-9-2zM2610 2311l30-2 14 8 8-4-1-8-15-24 4-7 6-4 7 5-1-46-8 14 4 14-12 13-24 0-6-3-5 0 8 18zM1998 2259l16-26 4 0-20 0zM2086 2271l-14-8 3-14 15-18 6 2 8 8-4 17zM2316 2271l-16 6-18-2-11-10 8-20 15-8 22 1-1 11zM2192 2309l14-8 11-2-6-14 2-16-7-11-18 1-1 2 5 24-1 22zM2190 2307l-10-20-8-6-12 4-18-6-9 12 11 0 2 8 4 4 18-3 18 7zM2439 2285l-5-6-6 0zM2466 2295l4-4-10-11 4 15zM2566 2312l1-3-3-7zM2660 2352l3-1-3-22 5-2-3-3-5 5-3 8 2 12zM2120 2423l20-4 2-2-6-12 0-10 4-10 10-10-5-10 0-8-10-24-5-5-16 3-2 9-12 4-9 9 1 15 20 3 11 10 2 8 0 16-4 8-7 6zM2616 2390l4-7 10-4-3-18 5-10-8-4 1-8-5-6 0-6-30 7-7 23 6 8 14 4 5 8-2 4 1 6zM2480 2384l20-13-4-12-20-16-8 9-7-1zM2173 2359l-7-6 4-4-12 4 2 3 10 4zM2676 2422l42-1-15-26 0-18 7-10 2-8-2-6-12 11-14 1 0 2 7 10 0 20-15 12-1 6zM2520 2369l6 8-1 8 3 8 14-8 6 2 19-14-17-4-8-10-8-1-8 4zM2045 2367l-9-2-6 2 4 1zM2469 2383l-17-6-5 2 1 4zM1985 2421l-6-2-11-13-8 6-14-7-12-14-2-6 0 36zM2608 2408l3-5-5-11-5 13zM2086 2513l4 4 8 1 8 11 6-2 14 11 8-21 6-8 8-5 12-4 34 0 2-11 6 5 16-10 24 0 2-3 0-56-2-2-14 1-15-7-3 14-8 3-11-9 2-10 6-6 0-2-5-2-22 17-12 3-3 4-11 3-8 13 24 0 8-4 4 2-6 26 16 8-12 1-14 12-6-4-8 2-4-5-5 10 1 13-28 1-10-4-8 3zM2342 2459l6-5 8-19 11 4-8-6 7-12-10-4-6 0-10-5-4 2-6 15-12 2 0 6 12 3zM2467 2417l-7 0-3 4 7 2zM2479 2435l7 18 12-6 16-2 13 2-9-12-9-6-5-10-8 0zM2000 2489l36 1 23-29 19-12-1-2-15-4-6-8 0-3 4-4 24 15 6 1 11-9 2-12-5-2-98 1 0 21 6 4 10-4 20 6 6 20-12 19-26 0-4-7zM2613 2473l-5-18-15-6-19-18-26 0-8-4-7 4 7 21 12 3 6-2 14-14 19 10-6 12 15 1zM2418 2439l-18 0-4-2-18 4 18 7zM2665 2447l-1-4-16-4-10 3-3 7 9 2 4 3zM2137 2463l-5-6-14-1-8-6-6 7 4 10 4 1 22 0zM2576 2515l-24-15-12-11 10-24-8-3 2 9-18 17-14 4-14 0-8 7-18-3-2 1 16 12 12 2 30-9 5 7 1 34 10 3 2-1 8-24 18-1zM2466 2491l12-6-2-10-8-2zM2650 2493l-18-3-4-5-12-6 4 15zM2590 2493l4-4-4-5-4 5zM2661 2491l-10 2 9 1zM2456 2521l7-4-1-18-8 16zM2072 2581l9-10 13-7 22 2 22-5-7-10-3-11-16 17-6-4-14 1-14 10-10-39 0 46zM2478 2603l6-1 0-5 10-20 16-6 2-17-18-1-12-6 1 16-6 24 4 8zM2428 2579l-7-2-21-22-4-1-4 3 2 11 18 13zM2490 2634l24 0 8-8 6 3 1 4 0-64 1-3 10-1-12-2-7 14 1 6-6 3 12 9-6 18-14 13-12 0zM2068 2633l50 1 16-4-1-7 7-16 8-6 6-26 2-1 20 9 10-4 12 5 8-5-18-7-35-1-21 32-16 11-12 4-4 7-18 7-14-19zM2387 2699l19 1 8-9-12-2-5-18-2-10 1-1 12 1-2 18 12 9 28-5 8-4 3-4-5-26-8-10-5-10 3-4-18 9-22 1-4 2-4 21-2 1 2 2-4 18-7 10zM2204 2677l3-36-11-15-9 11-15 24 8 8 22 6zM2348 2673l4-1 24-17 14 2-16-7-14 7-10 9zM2248 2698l-3-15-7-9-4 22zM2335 2699l-5-8-16-13 1 7-9 7-12 2-2-1-6 6 8-3 8 4z"/>
<path fill="#747474" d="M2912 2893l-1098 0 0-1120 1099 0zM1998 2492l40 0 4-8 18-21 24-18 10 0 12-10 2-14-120-1-6-3-6-6-6-16-12 12-10-5-11-13-1-18 26 6 8 15 4-11 6-7 8-3 16-2 11-16-9-15-11-9 15-31 12 1 11 20 16 20-5 21-20 6-2 3 47 0-14-6 9-1 10-9-13-16-5-11-5-5 11-22 4 0 3 2-2 2 5 8 12 2 10 14-1 18-9 10 4 14 24 3 6 4 4 7 0 24-4 7-10 7 10 6 24-4 3-4-7-12-1-12 5-10 12-10-22-48-20 2-6 3 0-20-4-9-6-2 11-6 13-30 2-18-9-22 7-16 9-2 0 6-10 10 17 10 10-7 11-1-10-20-6-8-5-24 10-8 11-4 3-5 9 1 13 8 14-2 10 1 18-6 16 0 13 11 6 18-12 14-19 11-20 9-2-2-8 8 8 3 6 7 20 5 12 15 3 10 3 4-2 3-4-1-19 10 1 20-2 2-9-20 1-6-8-21-4-4-20-3 1 8-7 12 1 6-5-2-16 9-20-7-10 18 2 1 12-2 3 7 5 3 18-3 20 8 4 5 10 3 22-6 2-5 1 3 21 0 2 3 7 1-2 22-15 9-22 7-10-4-7 4 49 33 8-3 19 0 19-6-1 6 13 2 10 10 8-12 14-2 4 2 16-12-16-15-12-7 8-2 3-4-5-22-6 10-4 14-32 4-14-2-14-16-6-16 20-3 34 8 12-18 14-4 9 9 11 0 20 14 6 7 9-11 13-28-3-12-9-3-20 1-48-10 3-12 21-10 17-2 8-18-21-26-22-5-4-15-6-8-6-3-14-21-26-2-20 15-9-3 21-28-28-18 9-14 11-5 1 15 9 19 3-11 12-14-2-6 7-1 18 12 18-17 10-6 7 0-1-6 14-10-6-36-20 4-4 32 4 8-12-4 0-20-12 2-14 24-14-12-6-2-8-18 6-14 9-4-3-2-38 1-5 7 15 8 2-8 3 6-11 27-14 14-22-15-2-14-5 2 0 20 24 8-13 6 1 10 23 18 4 27-18-1-14-16-6-1-28-17-2 1-6 17-18 19-18 1-4-4-18-6-26 0-10-6-4-4-3 0 0 38 19-5 14 7 2 10 7 8 3 14-8 7-14-3-20-1-2-3-2 36-70 1-1 3-1 69-58 1-4 6-1 22 4 18-6 42 0 32 3 2 62 0 3 2 0 18 4 4 15-5 19 7 5 20-10 16-4 1-21-1-7-13-1 3zM2472 2297l20-12-26-18 14-14-2-6 19-14-7-20-7-6-1-10-5-10-1-26 4-6-2-2-18-2-8 12 10 26-6 9-16 9-24-14-4-14 4-14 32-18 0-4-8 1-22-14-6-6-14-5-4-16 12-16 2 12 6 12 10-12 14-6 19-20-1-4 16-9 7-21 10-12-3-4-84 1-4 3 10 27 24 0 11 11-13 1-12 4-12-15-28-2-11 16-7 2-7 12 26 26 1 17 16 0 14 15 2 10-2 7-12 5 12 4-2 10 2 10-16 5-6 4-13 1 13 9 8 1 18 11 6 7-12 7-16 15 10 15 8 6 2-11 18-27 9 17 6 6 1 22 2 1 4-4 10 25zM2509 2039l5 12-2 3 17-5-1-3-7-5-9-3zM2464 2135l28 7 24-1 8-11 34 4-1-23 2-10-11 0-24 10 0 16-4 3-20 0-26-4-5-15 7-13 18-4 16 1 4-2 4 2 4 13 20-17-12-3 0-21-7-4-35 5-3 3-9 21-8 4-14 3 5 10 0 12 6 8zM2597 2095l-1-5-17 1 13 9zM2206 2103l0-2-21 2zM2074 2114l4-2 1-3zM2334 2159l14-14-20-18-5-2-11-13 1 31 15 9 4 7zM2564 2313l6-6-8-18 16-6-8-3-15-19 3-13-9-3 6-10 13-3 10-5-12-7-18-1-8 2-10-6 2-6 0-12 3-8-5-3-8-15 4-13-8-11-2 0-15 12 27 30 1 18-13 12 0 22 4 8-4 18-10 7-10-1 10 7 22-3 7-4 5-14 2 0 18 20-3 8zM2565 2159l10-4-3-1zM2664 2196l2-13-9-8-9-12-12-1 20 19 4 12zM2322 2193l-6 6-18 6-16-1-12-7-13 2 5-10 6 3 4-19 6-5 18-3 16 6 2 14zM2204 2218l0-17-4-6-8 4zM2605 2315l33-4 18 7 11-7-17-30 4-6 8 4 4-2 0-62-17-12-13 6-2 12-8-2-8 1 0 15 26-13 16 0-9 17 6 18-11 12-24 0-6-4-10-2 8 20-7 18zM2172 2233l13-4-15-2 4-22-5 4-3 20zM2086 2270l-14-7 4-14 14-17 6 2 7 7-3 16zM2018 2274l-20-13 16-26 8-1 14 13 4 12-12 14zM2315 2271l-15 5-18-1-10-10 7-18 15-10 20 2 3 28zM2443 2289l-3-8-3-2-15-2 8 8zM2451 2315l-3-5-6-1 0 2zM2710 2334l0-19-2 4zM2412 2342l0-13-6-5 1 13zM2660 2356l6-3-3-6-1-16 5-4-5-3-6 5-5 18 0 4zM2610 2410l3-7-3-10 0-1 8 2 2-9 12-6 0-14 8-12-1-2-12-6 0-4-6-8-1-8-28 5-6 10-6 21 4 5 18 3 3 4-2 8 2 8-3 12-4 6zM2528 2396l18-7 25-18-19-4-6-10-11-4-11-23 0 7 6 18-15 14 8 8 0 8zM2450 2392l22-1 8-2 2-4 10-9 15-7-4-12-23-23-13 17-13-2 16 26-14-4-10 4-1 4zM1968 2365l-5-14 3-6 6 4 11 0-6 12zM2180 2345l-22 5-3 3 3 6 12 4 6-6-4-4zM2720 2424l0-7-16-22 0-14 10-16-4-16-14 13-20 1-1 2 11 18-1 14-9 8-3 6 1 13zM2066 2636l58 1 14-4-2-10 6-12 16-10 2-12 2-1 10 4 16-8 10 4 10-9-20-9-30-1-14-5-11-15-3-10 1-10 7-15 14-10 10-2 45-1-3-2 17-12 17 1 6-2 0-65-8 2-10-1-32-19-22 17-8 3-10 0-3 6-7 2-9 16 35 0-6 28-10 9-10 3-6-7-6 13 0 9-26 1-8-2-10 3-5 9 7 5 8 1 10 15 6 3-6 15-16 1-14 9-1-13-8-26 1-8-4-5-1 1 0 62 2 10-2 8 0 40zM2317 2433l1 7 12 3 12 20-8 9 12-4-1-5 12-26 11 4 8 5 18 6 10-6 12-3 8-8-14 3-10-1-8-3-4 4-16 2-10-7 7-12-18-8-5 0-8-6-8 18-12 2zM2644 2423l-10-14-11 2zM2204 2427l-10-6 1-6 7-6 4 6zM2400 2417l-2-6-6 0 1 6 3 1zM2470 2415l-2-2-10 0-9 10 17 3zM2474 2433l8 22 12-3 6-5 14-1 18 3-14-17-4-3-3-10-3-3-8 1-7-2zM2452 2515l4 8 10-6 2-18 14 11 18 3 26-7 4 3-3 18 2 20 17 5 10-27 18-1 11-11-31-15-10-9 5-10-1-8 7-10 17-18 15 8-5 8 1 4 15 3 11 9 3 6 4 15 46 0 2-7-2-1-12 3-18-2-4-5-12-9-5-20-12-6-21-20-28 0-12-7-12 9 9 18 6 22-15 16-14 4-16-1-8 5-15-4 10-6-5-14-20-15 8 21-2 14-6 2zM2080 2443l-14-1-7-7 3-3zM2667 2449l0-10-15-6-18 5-5 11 1 2 12 0 8 6zM2138 2463l-6-7-12-3-8-8-10 10 5 12 3 2 24 1zM2594 2499l7-10-9-10-8 12zM2408 2519l10-14 1-4-7-14-8-5-15 7 5 15zM2061 2487l-11-1-7 5 15 1zM2370 2507l-4-3-1 3 1 1zM2530 2636l2-3 0-62 2-2 15-2-3-3-20-5-10 19-3-1 3-2 2-22-2-3-2 2-20 0-14-8-1 1 1 22-6 22 2 6-10 21 20-6-1-13 9-16 16 3 16 11-5 18-13 11-14 0-2 5-13 6 37 2 4-7 3 1 1 5zM2389 2581l9 6 20-3 4-3 22 2 13-30-5 1-12 24-16-2-22-23-8-1-8 5zM2068 2609l4-24 13-14 9-4 22 1 24-4 6 9-20 30-12 8-8 2-8 12-14 6zM2598 2565l-2-1-6 3 6 1zM2344 2675l2 1 6-3 24-17 16 5-3 18-9 12 2 10 2 1 24 0 14-11 26-5 11-11-4-14-1-16-8-14 14-12-2-12-22 20-7 0-7 4-24 1-7 7-3 14-12-5-24 11-5 4zM2202 2689l4-14 5-8 4-30-6-12 1-2 8-2-2-10-6 2-16 9-25 35 11 14 17 4-1 8zM2282 2627l2-4-4-2zM2134 2686l3-3 0-22 4-6-1-13-7 7 0 34zM2402 2682l-6-19 2-2 7 2zM2252 2702l-6-21-8-11-6 29zM2339 2701l-21-25-6-2-2 1 3 10-9 6-10 2-6-2-9 10 3 2 10-2 8 2 38 0zM2202 2703l-2-5-18-3-10 1-9 7 5 2 32 0zM2365 2701l-3-2-10 1-6-3 4 6z"/>
<path fill="#7c7c7c" d="M2912 2893l-1098 0 0-1120 1099 0zM2130 2697l8-7 12 17 57 0-4-12 4-20 9-12 8-38-8-16-8 1-12 6-31 39 15 18 12 4-4 13-14 0-4 6-18 11-4-10-10-9 0-27 7-8-1-16-4-14 4-9 46-25 8 3 6-9 10-2-21-10-3-3-30 0-13-5-7-6-5-8-2-18 6-14 13-11 10-2 55-1-5-4 10-8 14-1 9-3 1-64-2-4-8 3-10-2-32-19-22 17-8 3-14-1-8-7-3-10 1-10 4-8 14-12-5-4-15-36-6-8-20 2-4-5 0-15-5-6 6-4 14-30 3-22-7-16 1-1 16 8 10-8 16-1 6 7 15 7-3 1 0 3 4 14-10 14-16 10-22-8-13 20 7 8 4-6 6 0 3 4 7 5 18-4 20 9 2 7 9 3 5 7 6-8 16-8 22-2 2 3 6 2-2 20-12 7-24 9-14-6-6 6 52 35 8-4 30-2 18 3 8 6 2 14 2 1 8-20 6-1 10 6 6-11 17-11-1-2-4 1-12-14-8-5 5-4-7-28-7 12-3 14-32 5-12-1-11-12-9-18 2-2 16-2 20 3 18 7 12-18 8-2 8 5 16 1 17 12 9 10 10-15 4 23 12 13-4-15 2-10-12-12 11-24-4-16-11-3-24 2-18-3-6-4-19-4 3-10 20-9 22-3 9-20-3-6 6 2 12 0 11 6 3 6-6 2-19 18 21 24 3-14 17-25 2 1 6 14 6 6 2 24 3 0 10 22 17 1 10-5 11-2 7-12-24-12 4-8-5-14 22-16-22-44-2-26 5-8-24-5-8 11 9 30-4 8-17 9-21-13-4-14 4-14 7-2 28-18-3-6-9 4-22-13-8-9-6-2-6-18 5-6 9 20 11-14 21-10 18-20 16-3-3-11 5-18 10-10-1-8-91 0-12-2 10 4 10 28-4 2-24-2-20 19 3-7-6-36-23 3-2 1-4 25-2-11-14 3-12 23-22-18-6-12 5-14 16-8-51 0-4 11 18 9-10 24-12 12-22-15-1-13-9 0 0 24 16 6 1 2-5 2-1 8-5 3-14 4-18 1-7 24-15 16-18 3-6-7-24-7-20 0-6-3-5-6 7-4 0-7-16 13 0 44 20-8 6 2 17 22 4 14-7 6-12-3-20-1-8-10 0 38-2 3-68 1-2 4 0 68-4 2-54 0-4 4-2 10 3 30-5 44 0 37 4 1 62 1 2 3 0 21 2-2 4 2 16-7 17 6 6 20-9 14-4 3-20-2-8-15-4-11 0 34 4 1 60 0 4 2 0 141 4 1 64 1 6-2 1 1-7 8zM2333 2019l-11 0 4 7zM2562 2315l6-3 5-7-6-14 15-6 0-2-12-4-14-18 5-18 0-6 21-8-1-6-7 0-14-11-10 0-12 4-4-3 0-11 8-7 0-6-10-5-6-11 6-12 16 4-13-24 3-6 22 2-2-26 5-12-17-1-8 3-1-2 9-9 14-3-26-1-1-3-1-21-17-1 7-6 10-2 1-6-13-12-10 3-2-2 4 15-4 14-20 2-4 4-4 7-16 2-9 13-5 2 8 16-1 14 4 6-1 10 28 6 13 0-9 8 20 16 14 18 1 16-13 12-1 18 6 14-3 16-10 8-15-2 15 10 24-2 10-6 4-8 10 10 0 12zM2415 2059l1-2 12 0 8 6-16 4zM2408 2185l-10 2-12 8-22 0-27-6-5-20-10-6-9-16 1-1 14 8 6 9 19-18 0-2-23-19 0-9-10-12 12-12 8-6 14 1 25 25-1 20-5 6 5 8 2-12 18-1 10 9 3 10-2 4-23 8 22 8-1 6zM2600 2142l0-54-2-1-16 0-6 4 21 16-3 28zM2147 2089l-17 0 4 6 8-1zM2240 2137l-16-1-17-19 1-14 6-8 23 16 5 24zM2266 2113l-14-10 4-7 6-3zM2522 2127l-20 3-26-4-5-15 7-13 16-4 18 2 4 3 5 12zM2259 2151l1-4 14-15 4-21 14-16 18 10 2 24-4 14-10-3-20 0-16 11zM2553 2165l23-8 2-4-8 0zM2137 2175l9-9 16-6 20 11 14-2 28-10 16 0 13 12 4 16-13 14-32 16-5-2-3-16-6-7-10 7 5 6 7 14-12 5-16 0 6-21-2-1-11 7-3 16-2 1-10-19-8-10zM2600 2320l38-8 20 7 12-10-14-28 13 0 0-100-23-22-16 0-2 4 6 0 20 18 4 13 5 5-1 8-2 2-10-7-18 7-1 4-13 0-2 26 8-7 12-6 6 2 8-1-2 10 8 20-12 12-22-1-8-6-13-1 8 22-7 18-3 18zM2318 2195l-20 9-16-1-12-8 3-18 5-7 18-4 16 7 2 17zM2604 2185l2-4-2-3-2 5zM2124 2213l-1-2 3-2zM2018 2274l-19-13 15-25 6-1 15 12 4 12-11 13zM2086 2269l-12-5-1-3 3-11 14-17 12 8-2 16zM2246 2271l-28 13-6-21-7-10 5-15 23 5 10 14zM2273 2265l9-20 12-7 21 3-2 8 3 16-2 5-14 5-18-1zM2446 2295l-2-14-3-2-25-4 12 12zM2116 2414l-12 4-112 0-8-1-6-5-4-11 0-14 3-8 9-6 21-2 12-12-11-18 0-4-11-10 13-27 12 1 10 18 16 20-4 18-22 7-4 7 93 2 7 6 4 8 0 16zM2710 2336l2-23-3-2 3-8-2-2-8 0 6 12-1 6zM2076 2355l-14-18-8-16 10-17 6 9 14 1 9 13-1 18zM2454 2320l-4-13-13-2-1 6 10 3zM2443 2375l7 25 12-1 18-5 2-8 10-9 18-7 10 9 8 19 14-4 33-25-1-2-16 1-4-3-26-46-12-2 6 16-1 16 3 6-10 8-1-6-3-2-12-3-16-17 0-14-17 28-13 0-2 4 9 12-15 7zM2658 2457l13-8-1-16-14-7-4 3-18-21-6-1-14 4-1-14 1-2 4 1 4-11 16-8-1-8 9-14 4 0 10 6 8-4-3-12-2-14 4-4-5-4-6 5-8 20-18-5-8-10 0-10-30 5-6 11-9 28 23 3 3 3-1 8 1 10-3 10-5 8 16 4-5 6 10-4 27 14 0 2-13 4-6 16 18 1 10 7zM2158 2362l8 3 0 2 14-10-3-2 16-14-5-9-2 0-4 10-30 9zM2725 2427l-2-10-17-24 0-9 10-13 2-12-6-5-2-7-14 12-22 2-6 4 13 22 0 8-7 6-3 10 3 16zM1973 2355l-5 1-1-5 5 1zM1956 2401l-6-2-7-8-1-13 18 5 4 10zM2412 2390l2-12-6 3-1 4zM2316 2499l9-4 9-15 18-5-5-12 11-25 12 5 8 8 16 4 11-8 14-4 11-12-12 1-10 4-8 0-10-5-6 5-12 1-6-4 6-12-28-11-12-14 3 13-5 12-14 3 0 17 12 3 10 17-22 26zM2404 2419l0-12-16-1 3 13 5 2zM2665 2499l1-15-16 4-16 0-16-11-5-24-6-2-27-27-16 3-12 0-16-9-16 10-5-15-13 3-12-5-20 19-1-1 5-18-18-1-3 1-11 14 26 4 12 29 16-5 6-5 12-1 18 4 6 20-13 16-13 4-18-2-6 2-6-2 3-2-4-8-3-15-9-7-2-24-21 6 19 38-3 14-13 2-4 14-4 6 9 3 6 9 14-10 2-9 8 5 24 4 20-4-2 14 4 27 22 5 9-28 21-2 15-16-25-12-8-1-12-9 4-8-2-10 6-10 7-4 9-11 10 6-2 7 2 5 15 5 11 16-2 2-12-13-13 17 15 14 12-16-1-2 1-2 2 6-2 8zM2080 2559l-10-36 1-8-6-12 2-14-4-4-1-12-1 12-18 2 29-32 12-7 12-1 14-12 2-7 4 3 24-3 6-5 0 6-14 20 26-2 10 4-3 20-11 12-10 3-8-9-8 21-30 0-13 5-5 10 10 6 8 2 11 16 0 12-17 3zM2139 2463l-9-10-6-2-10-11-2 0-12 13 6 16 28 3zM2361 2509l10 0-3-8 12-13 7 11 4 18 15 14 13-24 3-10-9-18-7-2-26 10-14 12zM2578 2571l20 0 2-1 0-56-10 19 1 16-3 14zM2339 2535l-11-2-1 2 11 2zM2342 2695l8 10 58 0 16-11 24-3 15-14-6-14-2-22-3-6 17-12 19-4-2-20 8-16 14 2 18 12-5 14-13 12-16 0-2 5-4 3-26 7-1 23 3 0 2-21 69-1 2-4 0-62 19-2-8-9-22-7-2 3-8-18 0 11-20 0-16-10-3 0 1 28-5 24-3 6-2-3-12 8-1 7-17 15-12-1-6 3-20 0-12 11-4 10-8-3-24 11-6-2-5 24 15-6 20-15 16 3-2 18-11 16-1 8-6-4-18-1-10-5zM2385 2591l1 3 30-6 8-6 16 1 6 3 21-43-13 2-4 12-12 19-12-2-22-24-8-1-8 4-5 6zM2069 2609l3-23 9-5 9-10 6-2 22 1 16-3 2 2 3 6-18 26-9 6-6 2-8 15-14 6zM2282 2630l4-7-10-7 4 14zM2250 2619l-23 4 1 2 12-2 6-4zM2254 2707l3-2-8-24-13-16-1 18-2 4-3 16zM2402 2676l-3-7-1-6 5 2zM2343 2705l-25-33-10-3 4 14-6 6-12 3-8-5-10 11-15 7z"/>
<path fill="#838383" d="M2912 2893l-1098 0 0-1120 1099 0zM2128 2709l4 0 2-11 4 3 2 8 70 1 2-1-8-14 4-20 14-16 6-26 12-3 30-13 10 18 7-12-7-8-10-3-24 3-4 5-18 3-8-16-14 1-17 15-14 20-10 10 19 21 6 3-2 7-8 1-7 10-17 10-4-9-8-9 0-26 8-10-5-26 3-8 44-22 8 0 9-12 14 0-26-12-1-5-34-1-14-5-8-9-3-10 0-10 3-10 8-9 12-5 69-2-8-6 7-6 10 0 10-4 1-2-1-71-8 4-10-1-34-20-23 18-9 3-13-3-8-10-1-10 5-10 38-30 3-5 8-4-2 5 12 4 46 31 8-5 46 0 9 6 3 16 4 1 3-1 3-12 2 0 5 18-5 7-12 1-1 22 1 6 12 0 7 10-20 26 1 19 14-5 8-11 18-4-8-19 10-24 12 5 10 11 12 4 14-11 14-4 16-16 17 25 10 24-3 13-19 1-3 9-9 13 19 4 8 9 16-10 2-5 32 6 13-2 0 26-5-7-2 16-16 1-22-13-1-9 1-3-8 8-10 2-7 21-11 16-10-1-22-24-12-1-12 9 1 25-3 8 5 4 9 18 2 14-12 4 1 6-7 9-12 3-6-7-16-7 4-6-8-1-2-4-6 13 4 24 0 23 18-7 20-16 16 4-3 16-13 18-20 0-18-9-2 2-16-22-12-3 5 18-7 6-10 2-10-7-8 7-12 5-8 1-6-18-14-19-1 23-3 4-4 19-10-2-2 3 0 3 128-2 2-6 2 6 60 0 18-11 24-3 15-17 1-34 71-2 1-66 20-1-2-7 18 3 0 4 29-1 1-70 69-2-1-18-2 4-2-6-8 2-8-1-4 5-14 0-4-4-12-7-2-23-7-8 0-14 2-2 11-5 9 5-5 4-8 18 24 1 12 10 18-9 2-22 55-2-1-10-9-20-1-10-2-3-2 5 4 12-2 1-8-13 0-4 11-14 3-12-2-5-10-10-16 12-16 2-6-3-6-12-1-14 3-4-6-4-7 6-7 18-18-5-7-9-1-12-24 2 40-11 22 8 13-11-5-10 3-16 0-104-9-12-14-11-18 0-5 9 9 0 19 16 1 11 5 7-1 5-8-3-18 7-16-1-2 34 11-8 13-5 7 5 10 24-9 11-24 0-10-9-8-1 3-19-9-1 5 9-3 12-10 19 10-5 4 8-7 20-4 22 3 2-4 1-7 13-9 27-18-1-8-12 0-13-18-33-24-3 13 29-1 20-4 1-18-3-15-16 1-27-21 39-11 0-6 8 7 10-11 5-1 3 10 34-15 19-18 2-12 6-6 0-12-6-8 6-6 1-5-4 7-8-1-2-33-14-8-12 0-2 8 3 6-17 18-10 3-6-9 0-14-17-8-34-8 15-4 13-30 5-10 0-16-16-5-14 17-4 20 4 22 9 12-19 22 4 4-2 18 12 10 12 8-10 3 16 18 18-3 4 6-2-8-22 2-14-7-10 8-20-1-11 10 10 24 10 2-7 6 9 24 0 20-3 14-17 18-2 12-10 3 3 0 12 11 30 2 1 6-3 8-10-4-10 10-5 4-5-16-6-13-18 7-22 22-8-3-10-9 1-20-15-14 3 9-9-1-10-12-6-6-10 4-8 12 5 4 10 2-13 27-10 1-6-8 0-16 9-4-19 11-2-4-14 0-14 7-16-13-2 13-3 5-5-35-2-1-24-2-2 2-2 0-10-12-14-7 0-5 6-3-2-1 2 4 14-5 13-18 2-6 5-6-14 5-18 7-8 5-2-3-11-88 0-20-2-1 1 12 8 6 10 4 16-25-1-16 13-6-38 21-8-57-1-1 1 8 12-1 14-16 4-12 22-21-16-6-12 6-14 23-10-62-1-3 5 0 8 18 12-9 20-12 13-21-15-1-12-12-4 0 32 12 4-4 4-34 9 1 13-6 14-15 17-18 3-6-9-24-7 15-10-11-25-16 21 0 11-8 1-6-4 3-2 1-10-4-1-9 5-7 8 0 48 24-8 22 24 2 12-6 5-12-3-20-1-10-16-2 45-70 2-2 72-54 1-6 3-3 14 3 28-5 44 1 42 66 2 2 66 67 2 1 142 67 2zM2358 2023l-2 2-11 0 9-5zM2429 2063l-5 1-2-3zM2602 2148l1-63-21-1-10 7 1 2 7 2 15 12 1 14-4 16zM2122 2087l12 16 4-2 12-13 17-1zM2358 2142l-21-17-6-2 6-16-5-8 8-7 6-1 8-4 24 24-2 20zM2454 2143l-2-7-12 6-22-13-8-10 14-18 20-9 2 0 11 19zM2240 2136l-16-1-15-18 0-14 5-7 22 15 5 22zM2308 2141l-31-4-1-14 2-11 14-15 18 10 1 20zM2521 2127l-19 2-26-6-2-12 4-11 16-5 18 3 8 13zM2390 2156l0-17 10-2 7 6 1 8zM2406 2181l-20 13-24 0-24-5-3-22 21-21 6-1 12 16 32 14zM2333 2165l-9-4-6-11 10 5zM2438 2204l-20-11-4-14 5-14 29-16 2 2-4 6 9 16 3 16-3 6zM2504 2272l-17-5-7-20 26-16-9-20-7-5-10-19-2-26 8-9 24 19 15 20 1 14-13 10-3 14 8 20-4 17zM2138 2177l1-4 8-6 15-5 18 15 44-17 14 0 13 11 4 16-12 14-25 11-10 0-3-13-7-10-36 20-4 9-6-11-10-10zM2314 2195l-16 8-16-1-11-9 5-18 4-6 14-2 16 5zM2604 2187l5-6-5-10-2 0-1 12zM2174 2219l8-22 8 10 4 10-8 3zM2390 2233l8-10 6-1 4 3 1 2-9 6zM2148 2353l-10-22-6-8-12 0-8-10-3-12 17-32 4-26-2-4 2-2 4 2 14-11 12 1 17 12 5 18-10 13-14 9-25-8-15 24 12 12 8-9 12 8 18-5 18 8 3 10-7 20-20 7-4-2-9 5zM2086 2269l-10-5-2-3 2-10 14-17 6 3 6 6-3 14zM2444 2279l-33-8 3-14 10-12 6-11 2 0 6 14 5 5zM2018 2273l-18-12 14-24 6-1 14 11 4 10-1 4-8 10zM2244 2270l-24 13-7-20-7-10 4-14 22 5 10 13zM2300 2274l-18-2-8-7 7-18 13-8 4 2 14 0 2 2-1 8 2 18zM2404 2267l-30 5-18-3-6-5-18-3 4-10 18-8 24-3 10 8zM2710 2337l2-11 4 2 4-5-4-22-4-3-14 0 7 15zM2477 2309l-21 3-4-8-20-4-2 11 16 4 12 12zM2042 2357l-20 4-13-20-1-6-10-8 12-25 12 1 9 16 14 16 1 8zM2204 2343l5-20 15-9 24-3 0 2 7 2-2 20-13 8-22 7zM2090 2346l-14 6-14-17-6-14 2-4 6-4 20 2 8 12zM2158 2368l-2-1 0-3zM2601 2373l-1 8 1 10-2 10-7 10 8 4-12 10-6-5-20 5-10-1-26-18-24 9-16-8-8 7 0-7-18-2 20-6 4-14 10-8 16-6 9 10 11 20 10-4 38-28zM2617 2407l-1-8 4-2 4-12 17-8 3-6 14-2-8 12 6 3 6-17 14 22 0 6-4 3-3 11-1 12-8-3-8 9-16-19zM2121 2401l-5 11-10 5-116 0-8-3-4-5-3-6 0-14 5-11 10-5 114 0 8 2 6 6 3 6zM2412 2394l4-20-12 7-2 6zM1954 2395l-6-4 0-6 7 2 2 4zM2387 2419l11 4 12-4 0-16-20-1-4 5zM2038 2471l-12 16-20-1-7-15-4-14 21-11 16 6zM2080 2557l-9-34 2-10-3-10 3-10-8-8-2-18 9-11 14-7 10 2 10 19 18 3 0 2-12 19-14 2-14 4-6 13 12 7 8 2 10 15 0 10-2 2-14 2zM2154 2482l-10 3-8-12 4-12-11-10 1-1 28-2 8 3-2 20zM2536 2471l-14 16-10 3-6-2-18 0-5-9-4-18 17-6 6-6 14-1 16 5zM2588 2502l-16-6-12-2-7-5 1-6-4-11 7-11 8-4 7-7 7 3-2 4 5 8 12 6-15 20zM2406 2544l3-15 11-19 4-17-5-10-7-6-10-2-18 5-4 5-8 2-15 12 2 6-2 6 3 1 12-2 0-7 8-5 6 17 6 12 10 8zM2050 2483l6-7 0 7zM2272 2519l9-2-7 0zM2552 2555l6-23 22-1 4-4 2 2-4 16-6 14zM2340 2541l0-12-14 2-1 6 3 6zM2402 2624l-7-15 0-14 21-4 8-8 16 1 10 6 20-42 3 23-3 14-4 6-12 8-2 12-16 14-26 0zM2284 2597l12-10-2-28 1-4-7 0 1 2-3 27-10-1zM2333 2575l1 2 4 0 12-7 6 0 2-3-6-1-12 7-6-5zM2084 2629l-14-20 2-22 24-16 22 2 13-2 2 4-19 26-8 5-8 16zM2508 2622l-16-1-2-2-4-20 8-14 14 1 17 11-5 14zM2470 2631l12-6 7 0-3 3zM2273 2673l-3-9-6-1 2 8z"/>
<path fill="#8b8b8b" d="M2912 2893l-1098 0 0-1120 1099 0zM2126 2712l284-1 18-10 24-3 16-19 0-32 2-2 66 0 4-2 0-62 2-4 60 0 4-2 0-66 2-4 64 0 3-2 1-66 2-4 50 0 4-2 0-12-9-22-2-14 5-22-1-6-9-9-6-2-16 12-14 3-6-2-7-14-1-12 3-4-7-6 14-12 26 4 3 2 3 20 2 3 2-4 4 1 4-2 6-10-2-10-8-17-20-1-12 3-10-4 0-117-10-13-16-11-20 0-4 9-8 0 6 7 12-2 17 14 4 18-23 8-19-4-2 2 1 25-22-2-6-13-10 3-20-17-2-32 30-12 1-8-13 0-9 4-1-10 6-2-6-16 0-16 8-16 12 4 14 11 1 13-4 20 11 11 2-1 2-4 0-64-4-2-20 0-4 3-4-3-34 0-2-4 0-32-12-17-12 0-5 3-2 4-4 0 4 4 3 10-5 14-17 2-6 4-5-12 5-18 6-7 9-1-3-1 2-7-4-8-176-2-1 2 10 16-1 12-15 4-11 21-16-14-4-1-6-12 6-13 20-7 12-6-2-2-72 0-3 6 2 12 17 10-8 20-12 11-20-13-2-12-8-5-6-2-1 3 0 38-2 2-87 1-14 11-12 5-6 0-8 6-7 11-1 103-4 1-66 1-1 3-1 69-4 1-50 0-7 6-2 12 2 30-4 44 0 44 3 2 63 0 2 4 0 62 3 2 60 0 4 1 1 141 3 2 63 0 2 4 0 60zM2362 2062l-4-37 22-7 12 7 9 24-23 0zM2116 2123l14-10 20-24 21 0 1 16-5 12-15 18-18 2-6-9zM2358 2141l-17-16-8-4 8-24 13-9 20 19 3 6-1 16zM2440 2141l-20-12-8-10 12-16 20-10 12 18-3 22zM2520 2125l-2 2-14 1-26-5-3-10 5-12 16-5 16 3 7 14zM2240 2135l-16-1-14-17-1-12 5-7 21 13zM2306 2140l-28-4-2-13 3-10 13-14 17 8 1 22zM2405 2149l-6 0 1-6 5 2zM2404 2179l-19 14-23 0-22-4-4-20 18-17 4-1 8 10 12 3zM2436 2203l-17-10-4-14 5-13 22-13 8 16 4 4 3 14-3 7zM2328 2161l-5-6 5 2zM2508 2223l-4-10-13-8-10-18-2-24 7-10 23 18 15 20 0 13-14 11zM2109 2191l-5 6-12-3-20-1-9-16 0-10 23-8 20 21zM2156 2211l-13-16-4-18 2-4 7-5 14-5 17 18 2 16zM2254 2185l-12 15-18 8-16-1-2-8-10-13-8 4-4-9 12-6 8-7 22-7 12 0 11 10zM2606 2190l6-11-10-18-2 20zM2312 2195l-14 7-16-1-10-8 4-16 4-7 20-1 10 4zM2548 2183l-2 1-9-5-3-4 2-5 8 2zM2178 2216l1-7 3-5 7 9-5 3zM2158 2280l-29-11 4-26 15-13 12 0 14 11 6 16-9 14zM2488 2267l-6-20 26-17 10 21-4 14-10 6zM2582 2280l-12-4-12-17 6-20 24-9 14 17-4 14-11 18zM2654 2257l-8 10-24 0-10-10-6-2 6-23 1 11 1 2 11-10 11-6 6 3zM2086 2268l-12-7 3-10 13-16 11 8-3 13zM2444 2278l-31-7 2-14 17-22 6 14 4 4zM2026 2271l-8 2-17-12 15-23 8 0 9 9 4 10-2 6zM2244 2269l-24 12-6-18-6-10 4-14 20 5 9 11zM2312 2270l-12 4-18-3-7-6 7-18 12-8 6 3 12 0 2 23zM2399 2265l-25 6-16-2-8-6-16-2 4-11 14-6 24-4 12 9zM2576 2364l-16 0-8-11 2-24-18-33-16-3 7-10 11-2 7-4 1 8 12 32 2 1 8-4 9-11 1-10 8-7 10-3 2 2-6 14-2 14 1 12-7 14zM2374 2433l-2-2 8-8-39-20 8-22 22-14 3-8-14 2-12-16-9-36 19 1 6-1 15 10 13 16 4-6 3 10 9 6 6 8-6 12 19-6-7-8-5-16 3-20-2-4 6-21 6 3-4 18 22 5 8 7 4 13 12-13 2 2-12 21-10 1-8 12 4 6-7 4 3 12 3 4 4 22-15 17-14 1-18 7-18-7-6 7zM2119 2307l1-1 10 9 10-12 12 7 6-4 10-1 15 6 4 10-7 20-18 6-6-1-8 3-8-18zM2517 2353l-19-3-14-15 4-31 16-3 16 32zM2040 2356l-18 3-12-18-2-8-8-6 12-24 10 2 8 14 14 16 1 8zM2206 2343l-1-2 5-18 20-10 16-1 7 3-2 20-11 7-22 7zM2325 2339l-29 5-10 0-14-15-6-14 16-3 24 6 22 9zM2648 2345l-17-4-7-8 1-14 13-6 21 8 1 2-6 5zM2078 2351l-16-17-4-13 8-6 16 0 9 12-2 18zM2152 2704l-3-9-9-10 2-24 9-12-5-24 2-4 10-6 12-2 18-11 8-2 12-16 15-1-25-12 2-6-2-1-38-1-11-4-7-6-4-8-2-8 2-10 8-12 14-6 85 0-5-10-6 6-7-6 1-2 14-5 4 2 2-1 0-76-2-3-8 4-10 0-34-21-26 19-12 2-8-4-5-7-1-8 2-8 38-31 10-4 10 2 48 31 8-5 48 1 7 6 1 16 10 1 4-8 3 9-3 6-14-2 0 43 8-7 6 1 3 5-17 23 0 25 2 1 22-7 4-4 14-3 2 1-10 6 6 12-1 4 15-1 10-5 2 6 7 8 5 13 8 11-8 1-11 9-1 21-5 11 9 8 10 28-2 2-22 4-28-4-4-20-10 22-2 10 3 22-1 19-12-15-7-2-3-4-12 0 10 8 6 18-7 6-9 1-14-8-6 3-18 5-4-12-14-19 5-2-13-4 3-14 7-2 8-6 14-6 12 9 4 6 7-9 3-10-10-10-14-1-16 2-6 7-18 3-5-9-3-8-16 1-19 17-24 28 19 18 5 8-11 16zM2385 2421l13 4 17-4 0-36 5-16-19 8-3 12 12 8-20 2-5 8zM2537 2403l10-10 29-22 23 2 0 20-2 8-9 12 2 2-4 3-2-2-30 6-7-5zM2502 2414l-19-11 0-14 11-12 16-4 9 10 9 18-15 10zM2119 2401l-4 10-9 4-116 0-6-2-6-6-1-18 4-10 9-4 114-1 8 3 6 6zM2666 2410l-14 14-15-17-17-2 4-18 16-9 4 0 26 15 1 2zM2459 2489l-26 0-7 11 1-9-3-6-12-10-14-3-12 3-8 9-16 4-14-25 10-22 12 4 14 16 6 2 18-14 14-4 14-15 15 23 10 22zM2037 2471l-11 14-18 0-8-14-3-14 19-10 12 4 5 4zM2144 2484l-7-11 4-12-8-10 23-2 10 4-4 20-8 8zM2535 2471l-13 15-10 3-6-3-16 0-5-7-3-16 14-7 6-6 14-1 14 4zM2082 2499l-16-14-2-18 8-10 14-7 10 3 8 18 11 2-15 20zM2649 2485l-15 1-15-11-1-22 24 0 11 10zM2576 2493l-19-4-6-16 8-12 13-7 10 13 10 4-8 13zM2106 2548l-12 1-12 6-10-30 2-15 1 3 23 11 9 13zM2436 2572l-6-2-22-23 3-18 11-16 24 4 10 12-8 26zM2512 2549l-16 1-21-13 2-22 17 0 19 4zM2262 2540l2-15 20-8-14-1-8 5-6-3 5 11zM2328 2549l12-1 2-23-16 3-2 3-1 10zM2560 2539l0-4 5 0-2 4zM2280 2604l10-11 13-8-1-18 6-14-18 0-14-6 2 6 8 6-2 16-14-2-6 4zM2327 2577l11 3 10-4 16 2 1-13-11-1-11 5-5-3-8-13zM2458 2591l-2-2 12-27 2 11-2 7zM2084 2628l-14-19 2-20 6-2 20-14 28 2-20 28-8 18zM2234 2583l10-2-4-8zM2454 2595l-4 16-14 13-26-3-9-16 1-8 12-2 12-11 14 1zM2506 2622l-14-2-4-21 8-14 12 2 16 10-5 14zM2276 2676l-8-22-11 3 5 16zM2214 2709l-8-14 3-20 11-14 14-4 0 24-3 6-5 18-8-2zM2388 2663l-2 16-12 16-20 1-20-11 20-9 20-16z"/>
<path fill="#939393" d="M2912 2893l-1098 0 0-1120 1099 0zM2123 2715l133 1 2 29 4 2 3-2 1-31 144-1 20-9 24-3 17-22 1-31 70-2 1-63 1-3 64-2 1-67 1-3 64-1 5-6 0-62 1-3 52-1 2-1 2-11-9-26-1-14 4-26-8-16 8-16-2-15-8-17-43-2-1-116-9-14-17-10-40-1-1-3-1-67-66-2-1-35-13-19-8-1-18 3-10-13-86 0-6-6-4 4-162 0-4 6 3 12-1 2 19 10-9 20-10 10-20-13-2-14-8-5-8-1-2 3-2 39-84 1-16 10-20 6-4 3-10 15 0 102-4 2-67 0-1 72-4 2-50 0-8 5-2 15 2 30-4 44 0 47 66 2 2 3 0 63 68 3 0 141 66 2zM2298 2065l-14-12-6-2-5-10 5-12 34-14 11 16-1 10-14 5zM2362 2059l-4-34 20-7 12 7 5 10 3 13-20-1zM2482 2067l-4-10 3-16 7-8 12-2-1 2 7 6 3 8-3 14-18 3zM2134 2136l-7-13 8-14 17-19 16 0 1 13 2 2-5 14-14 15zM2358 2140l-14-15-9-4 8-22 11-9 10 7 12 16-2 16zM2440 2140l-20-11-7-10 12-16 17-8 4 2 9 16-3 18zM2519 2125l-15 2-24-5-3-9 5-12 14-5 15 3 8 14zM2651 2199l-19 7-20-6-12 7-2 11-8-1-2-5-14 3-18-14-2-16 0-16 30-12 2-8-2-2-16 0-7-24 0-12 7-16 10 2 16 12 0 12-5 22 8 8 1 4 4 2-4 24 7 10-1 5 4-3 7-14-5-14 8 9 6-5 8-2 20 16 0 14zM2238 2135l-14-2-12-14-2-14 4-6 20 12 6 20zM2306 2139l-24-3-3-3-2-10 3-10 14-14 14 8 1 20zM2436 2202l-16-9-4-12 5-14 19-12 8 14 4 4 4 14-3 6zM2508 2213l-16-8-9-16-2-26 5-8 21 16 16 20 0 12zM2401 2179l-17 13-24 0-19-5-3-18 16-12 4 4 20 4zM2108 2191l-6 5-14-3-14 0-9-14 1-12 20-7 20 21zM2253 2185l-11 13-14 8-20-4-11-17-5-1-1-3 15-12 20-7 12 0 10 9zM2156 2208l-12-13-4-18 9-8 13-5 15 17 2 16zM2310 2195l-12 6-16-1-9-7 4-16 3-5 20-2 8 3zM2543 2179l-3 0-1-4 3 0zM2182 2212l-2-1 0-3 4 3zM2654 2257l-8 9-22 0-16-13 2-8 2 3 14-13 10-5 8 6zM2158 2278l-27-9 4-26 13-12 12 1 14 11 5 14-10 14zM2490 2267l-7-18 25-17 9 19-3 12-10 7zM2580 2278l-8-3-13-18 5-17 22-8 14 15-2 12-12 18zM2086 2268l-10-5-1-4 5-12 10-11 8 5 2 4-2 10zM2442 2276l-28-6 2-13 16-21 6 13 4 4zM2020 2272l-17-11 0-2 11-19 6-2 4 2 8 8 4 9-8 12zM2243 2269l-23 11-11-27 2-12 3-1 18 5 8 10zM2312 2269l-12 4-18-3-6-5 7-18 11-7 6 3 12 1zM2397 2263l-27 7-12-2-8-6-15-3 3-8 14-6 24-4 10 8zM2562 2363l-10-12 5-30 11-6 15-20 5-3-2 13 3 22-6 12-6 22zM2516 2352l-18-3-13-14 4-30 15-2 15 32zM2040 2354l-17 3-8-14-5-4 0-6-8-7 10-21 8 0 9 14 14 16 1 8zM2133 2319l7-14 12 6 6-4 10-1 16 7 1 8-7 20-14 5-8-2-8 3-7-16zM2382 2422l-40-19 8-22 24-14 4-12-18 3-12-15-8-32 18 1 6-2 14 9 14 17 18 13-10 22 7 0-10 6-3 14 5 4-9 1-5 9zM2676 2356l-7-15-1-10 3-2-7-6 0-2 14-10 24 3 5 21 5 6-18 14-12 2zM2206 2341l6-18 18-10 14-1 7 3-1 20-10 6-22 7zM2324 2337l-30 6-8 0-14-16-4-12 14-2 24 6 19 8zM2434 2423l-15-2-3-24 0-14 8-18 7-4-9-10-6-16 4-23 26 5 7 6 6 22-10 2-10 14-2 6 3 14 4 6 4 18zM2659 2323l-5 4-6 17-2 0-16-5-6-8 2-12 12-6zM2078 2349l-15-16-4-10 7-7 16 0 8 11-1 16zM2372 2579l1-16-25 2-7-4-4-6 3-1 4-29-2-4-16 4-4 10 0 12-12 4-20 0-23-12-1-14 18-6 5-4-33-1-7-7-1-98-8 7-10 1-36-22-26 20-12 2-8-5-4-7-1-8 4-8 37-29 10-3 8 2 42 28 4 4 10-6 44 0 6 2 5 8 0 66 1 3 8-8 2 1-11 18 0 30 1 2 14-4 16 3 6 10 26-4 8 9 10 22-14 10-2 15zM2539 2401l37-29 21 3-1 8 1 10-2 8-11 13-28 6zM2502 2413l-18-10 0-14 10-10 16-5 16 25-14 11zM2118 2401l-4 9-8 4-116 0-6-2-4-5-2-18 4-9 8-4 114 0 6 1 6 6zM2652 2422l-14-15-17-4 3-14 3-4 15-6 27 16-5 14zM2409 2427l-7 3-4-1 8-3zM2460 2477l-4 11-26 0-18-14-22-4-12 13-14 3-14-23 7-18 3-3 10 4 18 20 20-15 14-4 14-15 14 21zM2024 2485l-16 0-10-24 1-4 17-9 14 5 6 16-6 12zM2144 2483l-7-10 5-12-8-9 16-2 14 2-3 21-7 7zM2533 2471l-11 14-10 3-6-3-14 0-5-6-3-16 12-5 8-8 12 0 13 3zM2082 2497l-14-12-3-18 9-10 12-5 8 1 8 18 11 4-15 18zM2648 2483l-12 2-4-4-6-1-6-4-1-21 21-2 13 12zM2576 2490l-16-2-8-15 8-12 12-5 9 11 9 6zM2267 2607l-17 1-8 10-18 3-5-8-1-8-21-2 13-18 37-2-5-16-12 12-16-2-12-6 2-9-42-1-9-2-9-7-5-9 0-12 4-10 9-8 10-2 72-1 14 5 8 8 3 10 0 10-5 10 12-9 3 7 14 10-2 6-5 0-6 3-14 13 12 18zM2104 2547l-10 1-12 5-9-28 2-10 23 10 8 12zM2434 2569l-24-22 2-18 10-15 22 4 11 11-8 26zM2511 2549l-15 0-20-12 2-21 16 0 16 5zM2320 2663l-6-5-4-8-26-4-2-9 8-16-12-12 14-16 19-12 0-8 3-7 7 1 1 12 16 4 4-1 22 3-20 12-6-3-1 9-15 22-3 16 3 16zM2084 2627l-13-20 2-16 25-16 7 28-8 18zM2436 2623l-22-3-2-10-4-7 1-4 5-2 12-12 12 0 14 10-1 14zM2343 2623l-3-18 10-9 20-11 13 10 10 28-25 4zM2506 2621l-12-1-2-3-4-16 8-15 12 2 14 9-4 13zM2154 2642l-4-18 4-3 18-2 18-11-22 25zM2237 2649l1-4 18-12 9 6-5 5-14 5zM2154 2702l-13-17 0-12 3-6 0-6 10-11 20 19 4 8-9 16zM2302 2688l-6 1-16-10-6-10-2-14 2-4 10-2 18 15 7 19zM2214 2707l-7-12 2-20 11-13 14-2-1 21-4 8-2 14-9-1zM2336 2685l19-8 19-16 12 2-1 16-11 15-20 1zM2264 2679l-8 2-6-10 4-2 3 6z"/>
<path fill="#9a9a9a" d="M2912 2893l-1098 0 0-1120 1099 0zM2120 2718l132 0 3 3 0 26 1 3 6 1 6-4 0-28 2-3 142 0 20-9 26-4 16-22 0-30 71-2 1-66 65-2 1-70 62-1 6-3 2-4 0-64 52-1 5-5 1-10-9-28-1-14 4-24-6-14 6-18-2-19-10-16-40 0-2-3-1-114-9-14-20-11-38-1-1-70-67-2 0-32-13-22-25 0-12-11-88-1 0-32-4-2-5 4 0 26-3 3-162 1-4 8 3 14 18 10 0 2-8 18-9 9-19-13-1-12-4-5-8-5-6-1-5 5-1 38-84 1-16 10-22 7-13 20 0 100-71 1-1 73-51 1-10 5-3 18 2 34-4 40 1 50 67 2 1 67 67 1 1 142 67 2zM2298 2063l-12-11-6-1-5-10 5-12 20-6 12-5 9 13-1 10-12 3zM2364 2058l-6-31 20-8 11 6 7 22-18-1zM2483 2065l-4-8 3-16 6-8 12 1 5 5 3 8-3 14-17 2zM2134 2134l-5-11 7-14 16-18 15 0 1 12 2 2-6 14-12 13zM2358 2138l-14-15-7-2 7-21 12-9 16 16 3 6-1 14zM2440 2139l-20-11-6-7 12-18 16-7 11 17-2 18zM2519 2125l-15 1-22-5-3-8 5-12 12-4 14 2 8 14zM2586 2145l-16 0-7-20 0-16 7-12 9 2 14 12 1 10zM2306 2137l-22-2-4-2-2-10 2-10 14-13 12 7 2 20zM2238 2134l-14-2-11-13-2-12 3-6 14 6 6 5zM2436 2201l-15-8-3-12 4-14 18-10 6 12 6 6 3 12-3 4zM2510 2211l-4 0-14-8-7-14-3-24 6-8 18 14 16 20 0 10zM2574 2213l-16-14-3-28 29-13 14-1 2 4-3 20 6 10-13 18zM2107 2191l-5 4-28-3-7-13 1-10 18-7 18 19zM2398 2179l-16 12-22 0-18-4-2-18 14-7 22 3 3 4zM2209 2199l-13-18 10-10 20-7 10-1 10 8 5 14-9 12-14 7zM2158 2207l-13-12-4-16 3-5 6-5 12-3 14 15 2 14zM2632 2205l-14-4-5-4 5-20 6-6 8-2 19 14 0 12-2 4zM2310 2193l-12 8-16-2-7-6 3-16 4-5 18-1 8 3zM2156 2277l-23-10 3-24 14-11 9 1 13 11 5 13-10 14zM2580 2277l-8-3-12-17 5-16 21-8 13 16-2 10-13 17zM2653 2257l-7 8-22 0-13-12 15-16 10-5 8 6zM2492 2267l-3-4-5-14 24-15 9 17-3 10-10 8zM2086 2267l-9-4-1-4 2-8 12-14 9 6-1 12zM2442 2275l-27-6 2-12 15-20 9 16zM2020 2271l-16-12 10-17 6-2 4 1 8 8 3 8-7 12zM2241 2269l-17 8-4 1-10-23 2-14 20 5 7 9zM2311 2269l-11 3-16-2-6-4 6-19 10-6 6 3 10 0 2 17zM2395 2263l-25 7-12-3-8-6-13-2 3-8 12-5 22-4 10 7zM2562 2361l-9-12 5-26 2-4 9-4 13-16 6 28-6 12-6 21zM2516 2350l-18-2-12-13 4-29 15-1 13 30zM2038 2354l-14 3-8-14-5-4 0-8-7-6 8-18 8 0 8 12 14 16 0 8zM2179 2339l-15 6-8-3-8 2-5-13-7-10 6-13 10 5 6-4 10-2 14 6 1 12zM2393 2339l-13 12-20 4-11-14-7-29 16 1 6-3 13 9zM2692 2354l-14 1-8-14-1-10 4-2-8-6 13-11 22 3 3 4 3 16 5 6zM2207 2341l7-19 16-8 14-1 6 4-1 18-9 5-22 8zM2322 2337l-28 6-8-1-13-15-4-10 13-3 24 6 17 7zM2434 2362l-12-12-5-15 5-22 22 4 8 6 0 6 4 14-8 2zM2658 2323l-5 4-7 16-14-4-7-8 1-11 12-6zM2086 2344l-10 4-12-14-4-11 8-6 15 0 7 10zM2318 2543l-10 7-20-1-20-12 1-12 15-5 8-5-34-1-6-5-2-100-2-4-8 9-10 1-36-22-26 20-10 2-8-3-4-7-1-8 3-7 38-29 8-2 8 2 40 26 6 8 10-9 44 0 6 3 4 8-2 112 4 1 7 17zM2422 2421l-6-24 1-12 7-18 10-3 4 17 5 6 4 16-13 18zM2380 2419l-36-18 6-19 26-14 18 7-4 18-7 12zM2502 2412l-18-11 1-12 10-10 13-4 10 10 7 14-13 10zM2541 2401l35-27 18 1 1 20-2 6-9 11-28 6zM2117 2401l-4 8-9 4-114 0-6-3-4-5-1-16 4-8 7-4 114 0 6 2 6 6zM2652 2419l-2 0-12-14-15-2 2-12 4-6 13-5 25 15-3 12zM2457 2485l-3 2-24-1-16-13-22-6 18-15 14-4 12-13 12 18 10 22zM2376 2482l-12 3-13-22 7-19 4-1 8 4 17 20zM2022 2485l-14-2-9-22 2-4 15-8 12 4 7 16-7 12zM2144 2482l-6-9 4-12-7-8 15-2 13 2-3 19-6 7zM2531 2473l-9 11-8 3-10-3-12 0-4-7-3-12 13-6 6-8 12 0 12 4zM2082 2495l-14-12-1-14 1-4 6-7 12-5 8 2 8 18 9 2-13 16zM2647 2483l-11 1-16-9 1-20 19-1 11 9zM2574 2489l-14-2-6-14 8-12 10-5 8 12 9 5-7 10zM2257 2537l-5 14-12 8-76 0-8-1-8-5-6-8-1-10 5-14 12-8 76 0 8 1 8 5 6 8zM2376 2562l-24 0-9-5 3-39 28-4 8 7 9 22-12 10zM2104 2546l-10 1-12 5-8-27 2-9 22 11 7 10zM2434 2567l-22-22 2-16 10-14 20 4 9 12-6 22zM2508 2548l-12 0-20-13 2-18 16 0 14 4zM2084 2625l-12-18 1-14 1-3 7-1 17-12 6 24-9 20zM2312 2643l-24-10 3-12-10-12 11-15 24-14 22 7-3 16-14 18-6 20zM2242 2617l-18 3-4-7-2-10-18-2 12-15 18 1 10-3 10 3 0 20zM2346 2623l-4-18 28-18 12 10 9 24-23 5zM2436 2621l-18-1-3-3-2-16 15-15 10 1 13 10-1 12zM2506 2620l-12-2-2-3-3-14 9-14 10 2 14 10-4 10zM2154 2701l-5-10-7-6 0-12 3-6 0-4 9-11 23 23-10 18zM2308 2683l-6 4-6 1-16-11-5-8-1-14 10-3 18 13zM2214 2705l-6-12 2-18 10-12 4 1 8-2 1 19-5 8-2 12-8 0zM2385 2665l-2 16-9 12-18 1-17-9 17-8 5-6 13-9z"/>
<path fill="#a2a2a2" d="M2912 2893l-1098 0 0-1120 1099 0zM2118 2721l132 0 2 3 1 27 9 6 8-6 0-29 2-3 140 0 22-8 18-1 8-3 16-24 0-27 2-3 66 0 4-2 0-62 2-4 60 0 4-2 0-66 2-4 60 0 6-4 2-4 0-60 2-4 50 0 7-6 0-16-7-26-1-14 3-22-5-14 6-20-3-22-12-14-38 0-4-2 0-112-10-18-20-10-35 0-3-2 0-68-4-2-62 0-2-3 0-29-12-23-8-2-18 1-14-10-84 0-2-3 0-31-6-4-7 8-1 25-2 3-160 0-4 3-2 5 1 14 3 5 18 11-8 18-8 8-18-13-1-13-5-6-8-5-8-1-5 4-1 36-2 4-80 0-19 10-22 6-13 22 0 98-4 2-66 0-1 4-1 68-4 2-46 0-11 6-3 18 1 34-3 42 1 52 3 2 62 0 2 4 1 62 3 2 62 0 2 2 1 140 3 2 62 0 2 2 1 62zM2280 2050l-4-7 4-12 14-6 6 0 10-5 2 1 7 10-1 10-10 2-8 17-2 0-11-9zM2364 2057l-5-28 4-4 15-5 9 5 8 20-17 0zM2484 2064l-4-9 3-14 5-7 12 1 4 4 3 8-3 12-16 2zM2134 2132l-4-9 11-18 11-13 14 1 1 10 2 4-5 11-12 13zM2358 2137l-12-14-7-4 7-18 10-8 19 20-3 14zM2440 2138l-20-11-5-6 11-17 14-7 4 3 8 13-3 18zM2518 2123l-13 2-21-5-3-7 5-12 10-3 12 2 9 13zM2586 2142l-14 1-2-2-6-18-1-12 7-13 8 3 15 10 0 10zM2238 2133l-14-2-9-10-3-8 0-6 2-4 14 5 6 5zM2304 2136l-20-2-4-3 1-16 13-13 12 7 1 18zM2434 2199l-12-6-4-10 5-14 15-10 8 12 5 4 2 10-3 6zM2510 2209l-4 0-12-6-8-14-2-24 4-6 16 12 17 20 0 10zM2574 2210l-14-13-3-26 23-10 16-1 2 1-2 20 5 8-13 18zM2106 2191l-4 3-27-3-6-10 1-12 16-6 18 19zM2212 2199l-13-18 10-10 19-7 10 1 6 6 5 16-7 8-14 8zM2395 2179l-13 11-24 0-14-3-3-16 1-2 12-6 22 3 2 5zM2158 2205l-12-10-3-14 3-7 14-7 14 14 3 14zM2648 2199l-14 6-19-8 4-18 7-8 8 0 16 12 0 12zM2309 2193l-11 7-16-2-6-5 3-16 3-4 18-1 8 3zM2156 2276l-19-7-3-4 3-20 13-11 8 0 13 11 4 12-9 12zM2580 2275l-8-2-11-16 5-15 10-5 10-2 11 14-2 10-7 11zM2652 2257l-6 7-22 0-12-11 14-15 10-5 8 7zM2492 2266l-3-5-3-12 20-14 10 16-3 10-9 6zM2086 2266l-7-3-3-4 2-7 12-14 7 5 2 4-2 8zM2440 2274l-24-5 2-12 4-7 6-3 4-8 8 14 2 20zM2024 2270l-6 0-13-11 11-18 8 1 7 7 3 6-2 8zM2240 2268l-16 8-4 0-9-21 2-12 1-2 18 6 6 8zM2309 2269l-7 2-16-1-7-5 6-18 9-5 6 3 10 0 1 16zM2393 2263l-23 6-11-2-9-7-10-1-1-2 3-6 8-4 24-4 11 8zM2564 2360l-10-11 4-24 4-6 8-4 12-14 5 26-6 12-6 20zM2515 2349l-17-3-11-11 5-27 12-2 13 29zM2036 2353l-12 2-6-12-6-4 0-8-6-8 8-15 6 0 7 11 13 14 1 10zM2177 2339l-13 5-8-4-6 3-13-22 7-11 8 5 8-5 8-2 11 5 3 12zM2391 2339l-11 10-20 4-10-14-6-24 22-3 10 7zM2209 2341l5-18 17-8 11-1 6 3-1 18-7 4-20 8zM2320 2335l-26 7-7-1-13-14-4-10 12-2 24 6 14 6zM2436 2359l-2 0-12-12-4-12 3-16 3-4 20 3 7 5-1 6 4 14-7 2zM2646 2342l-14-4-6-7 2-12 10-4 19 8-5 4zM2692 2353l-10 2-4-2-6-12-1-10 2-2-5-4 0-2 12-10 21 4 4 18 4 6zM2078 2347l-14-14-3-10 7-5 14-1 7 10-3 14zM2248 2401l-6 10-10 3-38-23-26 20-8 3-10-4-4-11 6-10 34-26 8-3 6 2 42 27 5 6zM2422 2419l-5-24 0-10 7-16 8-2 5 14 5 7 4 15-12 16zM2380 2417l-34-16 0-2 6-16 24-13 15 7-3 16-7 12zM2542 2401l34-26 17 2 0 18-1 6-8 10-28 5zM2502 2411l-16-10 0-10 10-12 12-3 8 9 6 13-12 11zM2115 2401l-3 7-8 3-114 0-8-6-1-16 3-7 6-3 114 0 6 2 4 4zM2650 2417l-10-12-16-3 2-11 4-5 12-5 22 14-2 12zM2308 2548l-16 1-22-12 0-11 16-5 12-8-40 0-6-6-1-112 3-6 4-2 44 0 5 2 3 4 1 110-4 8 6 2 6 16-3 14zM2455 2485l-23 0-18-13-20-5 16-13 16-6 10-11 12 18 8 20zM2364 2484l-12-23 6-15 4-2 8 4 16 19-10 14zM2022 2484l-13-1-9-22 16-11 12 5 6 14-6 10zM2144 2481l-5-8 4-12-5-8 16-2 8 3-2 17-6 7zM2529 2473l-7 10-8 3-10-3-10 0-5-6-1-12 10-4 8-9 10 0 11 3zM2082 2493l-13-10-1-14 6-10 12-5 8 3 6 16 9 2-13 16zM2646 2482l-10 1-15-8 0-14 2-6 17 0 10 8 0 4zM2574 2488l-14-3-5-12 7-11 10-5 8 12 7 4-6 10zM2255 2537l-5 13-12 7-74 0-8-1-7-5-5-8-1-8 4-12 11-8 76 0 8 1 7 5 5 8zM2376 2559l-22 1-10-4 2-35 26-6 7 6 10 22-11 8zM2436 2564l-4-1-19-18 3-16 8-13 18 4 9 11-5 20zM2102 2544l-8 1-12 6-7-24 1-9 2 0 20 10 6 9zM2508 2547l-12 1-18-13 2-16 16 0 12 4zM2084 2624l-12-18 2-15 10-2 12-9 2 1 5 20-9 19zM2312 2640l-23-9 3-12-10-12 10-12 24-13 20 5-2 16-15 18zM2203 2601l9-14 18 1 10-3 9 2 0 20-7 9-18 3-4-6-2-11zM2434 2621l-16-2-2-2-1-16 13-14 10 1 12 11-1 10zM2390 2621l-22 4-22-4-2-16 26-17 12 11zM2506 2619l-10-1-4-4-2-13 8-13 9 1 14 10-4 10zM2154 2700l-11-17 0-8 4-8-1-4 8-9 22 21-10 17zM2307 2683l-5 3-6 1-14-9-6-9-1-12 11-3 15 11zM2342 2685l14-6 7-8 11-9 10 3-1 16-9 11-18 1zM2214 2702l-5-9 3-20 8-9 4 2 8-2 0 17-5 8-2 12-7-1z"/>
<path fill="#aaaaaa" d="M2912 2893l-1098 0 0-1120 1099 0zM2260 2764l13-11 1-31 140 0 22-8 20-1 9-4 14-24 1-29 70-1 1-66 65-2 1-70 61-1 4-2 5-9 0-60 51-1 10-9-1-18-6-24 2-36-5-14 5-20-2-26-15-13-41-1 0-110-9-20-24-11-34 0-2-71-66-1-1-31-11-24-8-2-21 0-13-9-84 0-1-33-9-9-10 13-2 27-158 0-4 2-5 9 1 14 3 6 7 1 13 9-7 16-8 8-17-12-1-14-4-6-8-6-10-2-4 1-4 5-2 39-78 0-22 10-22 5-12 24-1 98-70 2-2 72-47 1-12 5-3 6-3 146 2 3 64 0 2 63 3 4 64 2 1 142 67 2 2 66 133 1 2 31zM2280 2049l-3-6 5-13 12-4 8 0 8-4 7 9 0 8-9 3-8 17-10-8zM2364 2055l-4-26 6-4 12-4 7 4 7 18-14 0zM2484 2063l-3-8 3-14 4-6 12 1 4 3 2 8-3 12-15 1zM2136 2131l-5-8 5-11 16-19 12 1 1 9 3 4-4 9-12 14zM2358 2136l-12-15-6-2 6-16 10-9 6 4 12 15-2 12-3 4zM2440 2136l-19-9-5-6 11-16 13-6 11 14-3 18zM2517 2123l-11 1-21-5-2-6 5-12 10-3 10 3 8 14zM2584 2140l-12 1-2-2-5-16-1-12 6-12 8 3 14 11-4 22zM2238 2131l-8 1-8-3-9-14 1-10 2-2 16 9zM2304 2135l-18-2-5-4-1-8 2-6 12-11 11 5zM2434 2198l-12-6-2-9 4-14 14-9 6 11 6 6 2 8-2 4zM2510 2207l-6 0-10-5-7-13-2-22 3-5 15 9 16 20 1 8zM2574 2208l-12-11-4-26 22-8 16-1-1 19 4 8-13 16zM2104 2191l-2 2-26-2-6-10 4-12 12-4 18 18zM2391 2181l-11 8-22 0-12-2-3-16 11-6 21 2 3 6zM2213 2197l-11-16 8-9 18-7 10 2 5 4 4 16-7 8-12 7zM2160 2203l-6-1-8-9-2-12 4-7 12-6 12 13 4 14zM2307 2193l-9 6-16-2-5-4 3-16 2-3 18-1 6 2 3 14zM2634 2204l-14-5-3-4 3-16 6-6 6-2 17 14 0 12zM2156 2275l-16-6-4-6 2-17 12-11 8 0 13 12 3 8-9 14zM2651 2257l-5 6-20 1-11-11 13-14 8-4 8 7zM2494 2265l-4-3-4-11 20-15 9 15-2 8-11 8zM2578 2274l-6-3-10-16 4-12 18-7 9 9 3 6-2 8-8 12zM2086 2266l-8-4-1-5 7-12 6-6 8 6-2 10zM2440 2273l-22-4 1-12 3-6 7-4 3-7 8 13zM2024 2270l-4 0-15-11 11-17 8 1 6 6 3 6-2 8zM2239 2267l-15 8-4-2-8-18 2-12 18 4 5 8zM2310 2267l-10 4-16-3-4-3 6-18 8-5 16 5zM2391 2261l-23 7-8-1-10-8-10-2 3-6 7-3 22-4 11 7zM2566 2358l-5-3-5-8 6-26 8-5 10-12 6 23-6 11-5 19zM2514 2348l-16-3-10-10 4-26 12-1 12 27zM2036 2351l-11 2-6-10-6-4 0-10-6-6 7-14 6 1 5 9 14 14 1 10zM2176 2339l-12 4-8-4-6 2-10-18 4-10 8 4 9-6 7-1 10 4 2 13zM2389 2337l-11 10-18 3-10-12-5-21 1-2 10 1 10-3 9 6zM2210 2341l6-18 16-7 10-1 5 2-1 18-26 11zM2684 2353l-5-2-6-12-1-8 2-2-5-4 13-10 18 4 7 22-15 11zM2318 2335l-30 5-14-14-3-9 11-1 24 6 12 6zM2436 2357l-12-10-5-12 3-16 4-3 16 2 7 5-1 8 4 12-7 2zM2646 2342l-12-4-7-7 0-8 3-4 8-4 18 8-4 4zM2078 2346l-13-15-2-8 5-4 14-1 5 7-2 16zM2246 2401l-6 9-10 2-36-23-28 21-6 2-8-3-4-10 4-8 34-26 8-3 6 2 40 26 5 5zM2424 2417l-6-22 0-10 6-14 8-2 3 12 7 8 3 12-11 16zM2378 2415l-31-16 5-15 24-12 13 7-3 16-6 10zM2544 2401l32-25 15 3 1 16-2 6-8 9-26 4zM2502 2409l-16-10 1-8 9-10 10-4 10 10 5 10-11 10zM2114 2401l-3 6-7 3-114 0-5-3-2-4-1-14 3-6 5-3 114 0 9 5zM2661 2405l-11 10-10-11-15-3 2-10 5-5 10-3 20 13zM2304 2512l-46-1-5-4-1-112 5-6 45-1 7 5 1 112zM2454 2483l-20 1-18-13-17-4 13-12 14-5 10-10 10 15 9 20zM2364 2482l-11-21 5-13 4-2 8 3 15 18-9 12zM2020 2483l-10 0-9-20 2-4 13-8 11 4 5 14-5 10zM2144 2480l-5-7 5-12-5-6 11-3 12 3-4 18-4 4zM2528 2473l-7 10-7 2-10-4-10 0-5-14 9-4 9-10 9-1 9 3zM2084 2492l-4-1-9-8-2-12 1-6 4-4 12-5 6 1 7 16 7 4-10 12zM2646 2481l-10 0-14-6 0-12 2-6 16-2 7 6 2 8zM2574 2487l-14-3-4-9 7-12 9-4 6 10 7 6zM2317 2529l-3 12-8 6-18-1-17-11 0-8 17-5 10-7 12-1zM2253 2537l-5 12-10 6-74 0-8-1-6-4-4-7-1-8 5-12 10-6 74 0 8 2 6 4 4 6zM2374 2558l-18 0-10-5 1-28 3-4 22-4 6 6 8 20-9 8zM2102 2543l-8 1-8 6-4-1-6-22 2-8 20 10 4 6zM2436 2562l-4-1-17-16 2-16 7-11 18 3 8 12-5 18zM2506 2547l-10 0-17-12 1-15 16 0 10 3zM2086 2623l-13-18 1-12 10-3 12-8 6 17-8 20zM2292 2629l2-10-9-12 8-12 19-11 22 4-2 15-8 10-7 6-5 16zM2242 2616l-18 2-4-7 0-9-14-3 8-11 12 0 2 2 12-4 6 1 2 20zM2434 2620l-14-2-3-5 0-12 13-13 8 1 11 10-2 10zM2506 2618l-10-2-4-5-1-10 7-12 8 1 14 9-4 9zM2348 2621l-3-16 25-15 11 9 7 20-22 4zM2154 2698l-2-5-8-10 0-8 4-12 8-7 19 19-9 16zM2305 2683l-9 3-14-9-5-8-1-10 10-4 14 10zM2345 2685l13-6 6-8 10-8 8 4 0 14-8 9-18 2zM2215 2701l-5-8 3-20 7-7 4 2 8-1-1 14-5 8-2 10z"/>
<path fill="#b1b1b1" d="M2912 2893l-1098 0 0-1120 1099 0zM2260 2773l15-16 2-32 137-1 24-6 20-2 11-5 13-24 1-28 69-1 2-67 64-2 2-70 58-1 6-2 6-9 0-60 50-1 11-7-1-22-5-24 2-36-4-16 4-18-1-28-5-6-13-7-40-1 0-110-9-22-25-9-33-1-2-70-66-2-1-30-12-26-10-2-18 1-16-8-81-1-2-34-11-14-4 3-9 17 0 24-3 3-154 0-8 3-4 12 2 14 3 4 9 2 11 8-6 16-7 7-17-13-1-8 2-6-2-6-14-8-10-3-4 2-5 7-1 38-78 1-22 8-23 5-12 28-1 96-70 1-2 73-46 1-14 4-2 7-2 150 4 3 62 1 1 62 3 4 64 2 1 142 67 2 2 67 134 1 1 30zM2364 2052l-4-22 8-5 10-3 7 5 5 14-12 1-12 11zM2280 2047l-2-4 6-13 10-3 8 1 8-3 6 8-1 6-7 2-8 16-8-7zM2502 2058l-18 3-2-6 2-14 4-5 10 0 5 3 2 12zM2136 2130l-4-7 4-9 16-19 11 0 1 8 4 4-4 8-12 14zM2358 2134l-10-13-5-4 4-12 11-9 15 17-1 10-5 6zM2440 2135l-18-8-4-6 10-16 10-5 6 4 6 9-4 18zM2514 2123l-8 0-20-5-1-7 5-10 8-2 9 2 8 14zM2582 2138l-10 0-6-15-1-12 5-10 6 2 15 10-3 18-2 5zM2237 2131l-13-2-7-8-4-8 3-8 12 4 5 4zM2302 2134l-14-2-6-5 0-12 14-10 8 4 1 18zM2432 2197l-9-6-2-6 4-16 11-7 6 9 7 6 2 8-3 4zM2510 2205l-6 0-10-5-5-9-3-24 4-4 11 8 17 20 1 8zM2574 2205l-10-8-4-16 0-10 18-7 16 0-1 15 4 8-13 16zM2104 2189l-4 3-24-3-4-8 3-10 11-4 17 16zM2215 2197l-10-18 7-6 16-6 8-1 5 5 5 16-6 6-12 7zM2389 2181l-11 8-29-2-3-2-1-14 9-5 20 2 2 6zM2162 2201l-8-1-7-7-2-10 4-8 11-5 12 13 2 12zM2646 2199l-12 4-14-6-1-2 3-16 4-5 6-1 15 10 1 10zM2306 2193l-8 5-16-2-4-3 3-16 1-2 18-1 6 2 2 11zM2156 2273l-13-4-6-6 3-16 12-11 6 1 12 12 2 6-9 14zM2578 2272l-6-3-9-14 3-10 18-8 11 14-3 8-6 10zM2626 2263l-9-10 11-13 8-4 8 8 6 13-4 5zM2494 2264l-4-4-3-9 19-13 9 13-2 8-11 7zM2086 2265l-6-3-2-5 7-12 5-5 6 5 1 4-2 6zM2238 2267l-12 6-6-2-6-14 0-14 18 5 5 7zM2302 2270l-16-2-4-3 6-18 6-4 8 4 7 0 0 20zM2440 2272l-14-1-7-4 0-10 13-15 7 11zM2024 2269l-4 1-14-11 10-15 8 0 8 11-2 8zM2389 2261l-23 6-6-1-10-8-8-1 1-4 7-4 22-4 10 7zM2566 2356l-9-9 3-16 3-10 17-15 5 23-5 8-6 19zM2034 2351l-8 1-6-9-7-6 1-10-5-4 5-12 6 1 4 7 14 14 0 10zM2174 2339l-10 3-8-5-6 2-8-16 4-8 6 3 10-6 6-1 10 4 0 12zM2512 2346l-16-4-7-7 5-25 8-1 2 2 11 24zM2387 2337l-9 7-16 5-11-14-5-18 10 1 10-4 8 5zM2212 2341l6-18 14-7 8 0 4 1 1 18-25 11zM2317 2333l-29 7-13-15-2-6 9-3 24 7 12 6zM2436 2354l-12-9-4-10 3-14 5-4 14 2 6 4-1 8 3 10-6 2zM2646 2340l-10-2-8-7 0-8 3-4 7-3 17 7-4 4zM2692 2351l-11 0-6-12 0-10-3-4 10-8 17 2 7 20zM2084 2341l-6 3-12-11-2-10 8-4 10 0 5 8zM2245 2401l-6 8-9 1-36-23-32 23-10-3-3-8 5-8 34-26 6-2 46 29zM2432 2416l-8-1-5-24 1-8 4-10 6-2 5 12 6 8 3 10zM2376 2413l-27-14-1-2 5-12 23-10 11 6-3 14zM2502 2408l-14-9-1-8 10-10 9-2 9 8 4 10-10 10zM2547 2401l5-6 14-8 10-9 13 1 0 18-7 11-16 4-10-1zM1984 2401l0-14 6-5 114 0 6 2 2 5 0 14-8 5-112 0-6-2zM2650 2413l-8-9-16-3 2-8 4-6 8-4 21 14-2 8zM2304 2510l-44 1-6-4 0-114 4-3 44-1 6 4 1 110zM2452 2483l-16 0-20-14-13-4 11-9 14-5 8-9 9 13 8 20zM2374 2479l-8 2-12-20 6-13 4-1 5 2 14 18zM2020 2483l-10-2-8-18 3-4 11-7 9 3 6 14-4 8zM2518 2483l-4 1-19-5-3-12 8-4 8-9 15 1 3 8 0 12zM2144 2479l-4-6 5-12-5-6 10-2 10 2-1 16-5 5zM2644 2481l-6 0-15-6 0-12 4-6 13-1 6 5 2 8zM2086 2490l-6 0-8-7-2-10 1-6 3-5 6-4 6-1 6 2 6 16 6 2-8 10zM2574 2485l-14-3-3-7 7-12 6-3 5 3 3 8 6 4zM2314 2529l-3 12-7 5-16-2-15-9 1-8 16-4 8-6 10-1zM2251 2537l-5 11-10 5-72 0-12-4-4-6-1-8 4-10 9-6 74 0 12 5 4 7zM2374 2555l-16 1-11-5 1-24 3-4 19-4 5 4 9 20-8 6zM2436 2559l-6-1-14-13 3-16 7-10 14 3 9 13-5 15zM2101 2541l-17 8-7-22 1-6 18 8 5 6zM2506 2545l-10 1-16-12 0-11 16-1 8 2zM2086 2622l-12-17 0-11 12-3 10-7 5 15-8 20zM2294 2627l1-10-7-6-2-6 8-10 16-9 22 4-2 13-8 10-7 6-5 13zM2208 2599l8-10 10 0 2 3 12-5 7 2 0 18-5 8-18 2-4-6 2-8-2-3zM2434 2619l-13-2-2-6-1-10 12-12 8 1 7 5 3 6-2 8zM2506 2617l-9-2-4-6-1-8 8-11 6 1 13 8-3 8zM2387 2619l-21 3-14-1-2-2-3-14 23-13 10 9zM2156 2696l-11-13 0-8 5-12 6-6 18 18-9 16zM2304 2683l-8 2-14-10-3-6-1-9 10-2 10 7zM2347 2685l11-5 7-9 9-7 7 3-1 6 1 8-7 8-16 2zM2216 2700l-5-7 3-20 4-5 6 2 6-2 1 13-6 8-3 9-4 0z"/>
<path fill="#b9b9b9" d="M2912 2893l-1098 0 0-1120 1099 0zM2260 2784l4-2 14-21 1-30 1-4 136 0 24-6 18-1 14-5 12-26 1-24 1-4 68 0 2-4 1-62 3-2 60-1 2-5 1-64 3-2 54 0 8-3 4-11 1-56 3-2 46 0 10-4 3-4-1-24-4-26 1-36-3-14 3-18-1-33-19-11-37 0-3-2-1-106-8-25-27-9-31 0-1-4-1-66-4-2-62 0-1-4-1-26-10-27-10-3-22 1-14-7-80 0-1-4-1-30-14-22-4 2-12 26 0 22-2 4-156 0-9 6-4 18-3 3-22-6-8 3-4 10 0 32-2 4-74 0-24 7-25 5-11 30 0 94-4 2-66 0-2 4 0 68-4 2-42 0-14 4-3 8-3 96 2 60 4 2 60 0 2 4 0 58 2 4 6 2 56 0 4 2 0 140 3 2 61 0 4 2 0 62 2 4 132 0 2 4 0 26zM2366 2052l-5-15 1-6 6-5 10-3 6 4 4 12-2 2-8 0zM2282 2047l-3-4 7-12 8-3 8 2 6-3 5 6 0 6-6 2-7 14-7-6zM2232 2065l-9-6-8-8 1-8 8-8 8 0 12 10-6 14zM2502 2057l-18 1-1-3 2-14 3-4 8-1 6 3 2 12zM2136 2128l-2-7 18-25 10 1 1 6 4 4-4 8-11 13zM2358 2133l-10-14-4-2 4-11 10-9 9 8 5 10-1 6-3 6zM2514 2122l-8 0-18-5-1-6 5-10 13 0 9 14zM2440 2134l-18-8-3-5 9-15 10-5 6 6 4 8-3 14zM2582 2136l-10-1-5-18-1-6 4-8 6 1 14 11-3 16zM2236 2130l-12-1-7-8-3-8 2-7 16 7zM2302 2132l-13-1-7-6 0-8 14-11 7 3zM2432 2196l-8-5-2-6 4-15 10-6 4 7 8 7 2 7zM2510 2203l-6 0-8-3-5-9-3-22 2-4 9 6 18 20-1 8zM2574 2203l-8-8-5-22 13-6 18-1 0 13 2 8-12 14zM2103 2189l-3 2-22-2-4-6 3-12 9-3 15 15zM2218 2197l-10-18 6-6 16-6 6 1 4 5 4 14-16 12zM2386 2181l-10 7-26-2-3-1 0-14 7-4 20 2 2 7zM2162 2200l-10-3-5-6-1-6 4-10 10-4 8 8 4 10 0 6zM2305 2193l-9 4-12-1-4-3 2-17 18-1 5 2 2 10zM2644 2199l-8 3-15-7 2-14 3-5 6-2 14 9 1 10zM2154 2272l-12-5-3-6 2-12 4-6 7-5 6 1 10 10 2 6-9 14zM2578 2271l-4-2-11-14 3-9 16-7 7 6 4 8-7 13zM2650 2257l-6 5-18 0-8-7 5-8 7-7 6-2 8 8zM2080 2261l-2-4 7-12 5-4 6 6 0 6-10 11zM2496 2264l-5-5-2-8 17-12 8 12-2 7-10 7zM2022 2269l-14-10 8-14 8 1 7 7-3 12zM2236 2266l-10 6-6-3-5-12 0-12 3-1 14 5 3 4zM2300 2269l-17-4 6-18 5-3 14 5 0 18zM2438 2270l-12 0-6-3 0-10 12-13 6 9zM2386 2261l-20 6-6-1-10-8-7-3 7-6 20-4 12 8zM2568 2355l-9-8 1-14 5-12 13-13 6 21-6 8-4 18zM2512 2345l-16-4-6-6 6-23 6-1 12 24zM2034 2349l-8 2-4-8-8-6 1-10-4-6 5-9 4 2 16 17 1 12zM2174 2337l-8 4-10-5-6 0-6-11 2-6 2-2 4 3 10-7 6-1 7 3 2 6zM2385 2335l-7 7-16 4-10-11-4-16 8 0 10-5 7 5zM2213 2341l6-18 15-6 6-1 4 3 0 16-24 10zM2645 2339l-8-2-9-6 0-8 5-4 5-2 16 6zM2315 2333l-27 5-12-13-2-6 8-2 24 7 10 5zM2436 2352l-12-10-3-9 3-12 6-3 12 1 5 4-2 10 3 8-5 2zM2686 2350l-4-1-8-22 10-9 12 1 9 20-13 10zM2082 2341l-4 2-12-12-2-6 10-5 8 0 4 7zM2243 2401l-5 7-8 0-36-23-32 24-8-2-3-8 3-6 34-26 6-2 46 28zM2432 2415l-7-2-5-22 0-6 4-10 6-2 3 10 7 8 2 8zM2376 2411l-26-14 4-12 14-4 6-4 11 4zM2549 2401l4-6 13-7 10-9 11 2 1 16-6 9-24 4zM2504 2407l-16-10 0-6 10-10 6-1 10 8 4 7-10 11zM2111 2401l-2 4-5 2-80 0-6 2-28-2-5-6 0-12 2-4 5-2 112 0 6 4zM2650 2411l-8-9-14-2 1-7 5-6 6-3 19 13-1 6zM2304 2509l-44 1-5-5-1-108 4-6 44-1 5 5 1 108zM2451 2481l-13 1-20-13-12-4 10-8 14-6 6-6 8 12 8 20zM2366 2480l-11-19 3-9 6-4 6 3 12 16-8 10zM2018 2482l-7-1-7-18 12-9 9 3 5 14-4 6zM2144 2478l-3-5 4-10-1-8 14 0 2 2-2 14-4 4zM2516 2483l-20-5-3-9 7-4 10-11 10 1 4 8 0 12-4 6zM2644 2479l-6 1-13-5-1-10 5-8 11 0 5 4 2 8zM2094 2487l-14 1-6-5-2-10 0-6 4-5 10-3 6 2 5 14 6 2zM2574 2484l-12-3-4-6 8-12 4-2 4 2 4 10 5 2zM2312 2529l-4 12-6 3-16-2-11-7-1-6 16-5 8-5 10-1zM2249 2537l-5 10-8 4-72 0-10-4-4-6-1-6 5-10 8-4 72 0 10 4 4 6zM2372 2554l-14 0-10-4 2-21 4-6 14-3 6 5 8 18-7 6zM2436 2557l-6-1-12-11 3-16 5-9 13 3 8 14-4 12zM2100 2540l-16 8-6-21 1-4 17 7 4 5zM2505 2545l-9 0-16-12 2-10 14 0 8 2zM2086 2621l-12-17 1-9 13-3 8-6 3 13-7 18zM2242 2614l-18 2-4-7 2-8-2-2-8-2 6-7 6 0 4 3 9-4 8 0 2 18zM2296 2625l-1-2 1-6-5-6-2-6 5-9 14-8 22 3 0 10-8 10-9 6-5 13zM2424 2617l-4-5-1-9 11-13 6 0 10 10 0 7-12 11zM2506 2616l-6-1-6-6-2-6 8-12 6 1 11 7-1 6zM2351 2619l-2-14 21-12 7 6 8 18-21 4zM2156 2695l-10-13 0-5 5-12 5-6 17 16-10 16zM2302 2683l-6 1-14-10-2-5 0-8 8-2 10 7zM2350 2685l8-4 14-15 8 1 0 14-6 7-16 2zM2216 2699l-4-6 3-20 3-4 6 2 6-1 0 11-6 8-2 8z"/>
<path fill="#c1c1c1" d="M2912 2893l-1098 0 0-1120 1099 0zM2256 2791l12-2 12-24 2-35 134 0 46-7 14-6 11-26 1-27 70-1 2-66 58-1 6-3 2-68 56-1 9-3 4-14 1-54 48-1 12-4 2-3 0-26-4-28 1-36-2-14 3-18-1-38-21-8-40-2-1-106-7-26-30-9-30-1-1-70-67-1-1-29-9-28-12-3-22 0-14-6-80 0-1-33-10-24-3-2-12 2-10 30-2 25-158 1-8 6-8 16-20-5-8 4-4 13-2 35-72 0-52 10-4 7-6 28-1 92-71 2-1 72-45 1-16 5-2 6-2 100 1 62 5 3 60 0 2 59 2 6 6 3 59 1 1 142 67 2 1 66 134 1 2 31 10 24zM2366 2051l-4-18 7-6 9-3 4 3 4 12-8 1zM2312 2037l-6 4-6 12-6-5-11-1-2-4 4-10 7-3 12 1 4-2zM2232 2064l-16-13 2-8 8-7 6 0 11 9zM2485 2057l1-16 4-3 10 1 3 6-1 10zM2136 2127l-1-6 13-18 6-6 6 0 1 6 5 4-4 8-10 11zM2358 2132l-8-13-4-2 3-8 9-10 8 6 5 10-1 6-4 6zM2514 2121l-6 1-19-7 4-12 5-3 6 2 9 13zM2440 2132l-16-5-4-4 8-16 8-4 8 6 3 6-3 14zM2580 2134l-7-1-4-10-1-12 2-6 5 0 14 10-3 15zM2300 2131l-10-1-6-4-2-5 1-4 13-10 6 4 1 16zM2236 2129l-6 0-8-3-6-11 0-7 16 5zM2430 2194l-6-3-1-6 4-14 7-5 14 13 1 4-3 3zM2510 2201l-8 0-8-5-3-7-2-18 2-4 7 5 17 19 1 6zM2220 2196l-10-17 4-4 20-7 5 5 4 14-15 11zM2383 2181l-7 6-12-2-8 2-6-1-2-7 0-6 6-4 18 1 3 7zM2574 2200l-6-5-5-22 11-5 16 1 3 16-12 14zM2102 2189l-24-1-2-5 4-12 6-1 14 13zM2170 2195l-8 3-10-3-4-4-1-8 5-8 6-2 6 4 7 12zM2303 2193l-7 3-12-1-3-2 1-15 6-2 16 2 2 7zM2636 2201l-13-6 1-14 4-5 4 0 14 9-1 12zM2154 2271l-9-4-5-8 2-10 10-10 6 2 11 14-9 12zM2496 2263l-5-6-1-5 15-11 8 10-1 5-10 8zM2576 2269l-12-14 2-7 16-8 9 11 0 4-5 9zM2646 2260l-20 1-5-6 4-8 6-6 5-2 12 16zM2084 2263l-4-4-1-4 9-13 2 0 5 5 0 4-6 10zM2236 2265l-10 5-6-3-4-10 0-12 16 5zM2307 2267l-5 2-17-4 5-18 4-3 13 5zM2022 2268l-12-9 6-13 8 1 6 6-3 12zM2385 2259l-21 7-14-9-5-2 5-5 20-4zM2421 2267l0-10 11-11 5 7 2 16zM2512 2343l-16-3-5-5 5-22 6-1 11 23zM2568 2353l-9-8 7-24 10-10 7 18-5 8-4 15zM2032 2348l-6 1-3-6-9-6 1-12-2-4 3-7 4 1 15 16 0 12zM2173 2337l-7 3-10-5-4 0-6-10 2-5 4 2 16-9 6 3 1 13zM2362 2344l-10-12-2-11 6-1 10-5 6 4 11 16-7 5zM2214 2341l6-18 14-5 8 1 0 16-22 9zM2313 2331l-23 7-12-13-3-6 7-1 32 11zM2436 2350l-12-10-2-7 2-9 8-5 10 1 4 3-2 10 2 8-5 2zM2644 2338l-12-5-4-4 2-6 8-6 14 6zM2686 2349l-3-2-7-18 10-10 10 2 7 18-11 9zM2080 2341l-2 1-10-11-2-7 10-3 6 1 3 5zM2241 2401l-3 5-6 1-38-24-32 24-7-2-2-6 3-6 34-25 4-1 44 27zM2432 2413l-5-2-6-20 0-6 3-9 4-1 13 22zM2375 2409l-23-12-1-2 3-8 20-8 8 4zM2504 2406l-15-11 1-4 8-8 6-2 10 8 2 6zM2551 2401l-1-2 17-10 9-9 8 2 2 15-5 8-23 2zM1986 2401l0-12 2-3 4-2 112 0 6 5 0 12-6 5-80 0-6 2-8-2-20-1zM2650 2409l-6-7-15-3 1-6 6-6 4-1 17 11-1 6zM2304 2508l-44 0-4-3 0-108 2-5 44 0 4 3 0 108zM2450 2479l-2 2-8 0-22-14-9-2 7-6 15-6 5-6 7 10zM2366 2478l-10-17 3-8 5-3 6 3 11 14-7 8zM2018 2481l-6 0-7-16 4-6 7-4 7 2 6 14zM2516 2482l-18-5-2-2 0-6 4-2 10-12 10 1 2 5 0 16zM2144 2477l-3-4 5-10-2-6 6-2 8 2-1 14-3 3zM2642 2479l-16-4-1-8 5-9 8-1 5 4 3 10zM2094 2485l-14 1-6-4-1-9 4-10 3-2 11 0 4 14 4 4zM2574 2483l-12-3-3-5 7-11 4-2 3 1 4 10 4 2zM2277 2535l-1-6 16-4 6-4 8-1 4 9-2 8-6 6-16-3zM2247 2537l-4 8-7 4-72 0-10-4-3-10 3-8 8-4 72 0 9 4zM2372 2552l-12 0-11-5 1-16 6-7 12-2 3 3 8 18zM2438 2553l-10-1-8-7 2-16 4-7 11 1 8 14-2 10zM2099 2539l-15 8-5-18 1-5 16 7zM2502 2544l-6 0-14-11 0-9 20 2zM2086 2620l-11-17 1-8 20-5 2 9-7 18zM2222 2613l-1-4 3-8-4-3-6-1 4-6 6 0 4 4 10-5 6 0 2 17-2 4-16 4zM2296 2621l2-4-8-14 6-7 12-6 22 3-2 8-6 8-11 8-3 8zM2434 2617l-10-2-3-12 11-12 9 4 5 8-2 5zM2506 2615l-6-2-6-4-1-6 7-11 6 1 10 8zM2354 2619l-3-14 19-10 6 4 7 16-1 2zM2156 2694l-9-13 0-4 9-16 16 14-10 16zM2301 2683l-5 0-12-8-3-6-1-6 10-2 8 6zM2353 2685l7-4 12-14 4 0 2 2 1 12-5 6-14 2zM2216 2697l-2-4 1-18 3-5 10 3 2 6-8 16z"/>
<path fill="#c8c8c8" d="M2912 2893l-1098 0 0-1120 1099 0zM2250 2796l22 0 2-3 10-28 1-32 133-1 42-4 19-5 11-30 1-26 67 0 4-2 1-66 55 0 8-2 3-70 55 0 11-4 3-14 1-54 47 0 16-6 0-20-3-38 1-36-2-14 2-18-1-40-3-4-20-5-40-2 0-103-6-30-32-8-30-1 0-69-4-2-63 0-1-28-8-30-14-3-22 0-16-5-77 0-1-32-8-26-4-3-18 1-2 2-9 32-1 24-158 2-8 4-10 13-20-5-6 4-5 18-1 34-72 1-54 8-3 7-6 30-1 91-70 2-1 3-1 69-44 2-16 3-2 4-2 26 0 144 6 4 60 0 1 58 3 8 64 3 1 141 67 3 1 63 1 3 134 1 1 30 9 28zM2366 2049l-4-15 9-7 7-2 6 12-10 4zM2310 2037l-4 2-6 11-4-3-12-1-2-3 4-10 6-2 16 1zM2232 2063l-14-10-1-4 1-5 10-8 4 1 10 8zM2500 2055l-15 0 1-12 2-4 8-1 4 2 2 11zM2136 2124l1-5 15-19 7-1 1 4 5 6-11 14-4 3zM2358 2130l-10-15 2-5 10-9 10 12 0 4-6 10zM2512 2120l-4 1-16-6-1-4 4-8 3-2 6 2 8 13zM2438 2131l-17-8 8-16 7-3 10 11-4 14zM2578 2132l-4-1-4-10-1-10 3-5 17 11-3 10zM2300 2130l-8-1-9-8 1-4 12-8 5 2zM2234 2129l-12-4-6-10 0-6 15 4zM2430 2193l-4-2-2-4 5-16 5-4 13 12 1 4zM2510 2199l-10 0-5-4-2-6-2-18 1-3 22 23 0 5zM2222 2195l-9-16 4-4 17-6 7 14 0 4-13 9zM2379 2183l-5 3-10-2-13 1-1-12 4-3 18 1 2 8zM2591 2183l-12 14-5 1-4-5-6-20 8-3 16 1zM2100 2189l-21-2-1-4 3-10 5-2 14 13zM2164 2197l-14-6-2-6 6-10 4-1 6 5 6 10 1 4zM2302 2193l-6 2-13-2 0-14 5-2 16 2 1 6zM2642 2199l-6 1-10-5 0-14 2-3 4 0 13 7-1 12zM2154 2270l-7-3-5-10 5-12 7-5 4 3 9 12zM2648 2257l-4 3-16 1-5-6 3-8 8-6 4 2zM2084 2262l-4-3 0-4 8-12 2 0 5 8-7 10zM2498 2262l-7-9 13-11 8 12-10 8zM2576 2268l-10-15 2-5 14-6 8 13-4 7zM2022 2268l-12-11 6-10 10 2 3 4-3 12zM2235 2265l-7 3-8-3-3-8-1-11 4 0 12 5zM2306 2267l-4 1-16-3-1-2 6-16 3-2 12 5zM2383 2259l-19 7-14-10-4-1 4-4 18-4zM2422 2267l0-10 10-9 2 1 4 18zM2570 2352l-8-5-1-4 7-22 8-8 6 16-5 8-3 12zM2152 2334l-3-7 0-4 5 0 12-8 7 2-1 20-6 2-12-6zM2510 2342l-14-4-4-3 6-21 4 0 10 23zM2032 2347l-5 0-11-10 0-14-2-2 2-5 2-1 16 16zM2362 2341l-8-10-3-8 15-6 5 2 10 14-5 4zM2216 2341l4-16 14-6 7 0 0 16-21 9zM2311 2331l-21 6-13-16 0-2 5 0 30 10zM2644 2337l-15-8 1-5 8-6 12 5zM2436 2347l-10-8-3-6 3-8 10-5 8 3-2 10 2 6zM2686 2348l-6-11-2-8 8-8 7 0 7 11 2 7-11 8zM2080 2339l-2 1-10-9-1-6 9-3 6 1 2 2zM2240 2401l-3 4-5 1-38-25-32 24-6 0-2-6 3-4 37-27 43 27zM2430 2411l-2 0-6-24 2-9 4-1 2 6 8 9 2 5-5 10zM2374 2406l-4 0-18-11 2-7 20-7 6 4zM2504 2405l-14-10 1-4 11-9 10 7 3 4zM2552 2400l2-3 14-8 8-7 7 1 1 14-4 7-22 1zM1988 2401l0-12 4-3 112 0 4 3 0 12-4 3-80 0-6 3-6-3-22 0zM2650 2406l-6-5-14-2 6-11 4-1 14 10 1 4zM2302 2507l-42 0-3-2 0-108 1-4 44 0 3 2 0 108zM2372 2475l-6 1-8-15 2-8 8-1 12 15zM2448 2479l-8 0-26-16 18-9 4-4 5 7zM2016 2481l-3-2-7-14 5-6 7-3 4 2 6 13zM2144 2476l-2-3 4-8 0-8 11 0-1 14zM2516 2481l-18-5-1-5 15-15 8 1 1 20zM2642 2478l-16-4 0-6 6-9 6-1 4 3 2 10zM2092 2485l-12 0-5-4 0-14 3-4 8-1 5 1 4 14 3 2zM2574 2481l-12-2-2-4 10-13 8 14zM2308 2529l-4 10-4 2-14-2-8-6 1-4 11-2 10-5 4 0zM2438 2551l-10-1-7-7 4-16 3-4 8 2 8 14zM2245 2537l-3 6-8 4-70 0-8-3-3-9 3-7 6-3 72 0 8 4zM2370 2550l-10 0-9-5 1-12 6-8 8-1 4 3 7 16zM2098 2537l-14 9-4-20 16 7zM2502 2543l-5 0-13-10-1-6 1-2 17 2zM2244 2611l-14 3-8-2 3-11-8-6 5-3 6 5 12-7 4 1zM2086 2619l-10-16 0-6 18-6 3 6-7 20zM2298 2620l1-5-6-12 3-6 10-5 14 0 8 3-4 10-14 10-4 8zM2428 2616l-5-7-1-6 12-11 10 10 0 5-10 9zM2506 2614l-10-5-2-4 8-12 14 8zM2382 2615l-18 4-8-1-3-13 17-9 4 3zM2156 2692l-8-15 8-14 15 12-9 14zM2300 2681l-4 1-12-9-2-8 10-2 5 4zM2356 2685l4-2 11-14 6 0 1 12-4 5-14 2zM2216 2695l0-20 2-4 10 4 1 4-9 16z"/>
<path fill="#d0d0d0" d="M2912 2893l-1098 0 0-1120 1098 0zM2246 2802l33-1 8-34 0-28 1-3 130-1 44-3 22-5 9-32 0-22 1-3 66-1 4-1 1-63 1-3 54-1 9-2 2-66 1-3 54-1 12-3 3-15 0-50 1-3 46-1 14-2 4-4-3-110 1-62-4-4-22-4-36 0-3-2 0-102-5-32-34-6-26 0-3-2-1-69-4-1-62-1-1-3 0-24-7-32-14-3-24 0-16-3-76-1-1-3 0-28-6-28-3-4-30 2-8 34 0 22-2 3-148 1-14 2-15 12-21-4-4 5-2 13-2 38-2 3-68 1-58 6-2 4-6 36 0 90-4 2-66 0-2 4 0 68-4 2-40 0-18 3-1 3-3 110 1 68 7 2 58 1 2 3 0 54 2 8 8 2 54 0 4 2 0 141 4 1 60 0 4 2 0 62 2 4 132 1 2 3 0 26 7 32zM2368 2047l-5-12 10-8 5-1 3 9-9 6zM2308 2035l-6 13-18-3 5-12zM2232 2061l-15-12 1-3 10-9 4 1 9 9zM2500 2053l-14 2 2-15 10-1 2 2zM2137 2123l1-4 16-20 9 8 0 4-11 13zM2358 2129l-8-14 10-13 10 13-8 12zM2512 2119l-4 1-16-7 5-10 5 0zM2438 2130l-16-7 6-12 6-6 11 10-4 14zM2576 2130l-2-1-4-18 2-4 16 10-2 8zM2234 2128l-12-4-5-13 13 2zM2300 2127l-6 1-10-7 0-2 14-9zM2226 2195l-3-2-6-16 15-7 4 3 4 12zM2428 2192l-2-5 3-14 5-3 11 9 1 4zM2512 2196l-10 1-6-2-2-4-2-20 5 2 16 18zM2100 2187l-20 0 4-14 2 0zM2377 2183l-5 2-8-3-12 2 0-11 18-2zM2576 2195l-4-2-6-16 1-4 19 0 2 2 0 7zM2168 2194l-4 1-14-5 0-5 4-8 4-2 4 4 6 10zM2300 2193l-4 1-12-1 0-14 19 0 1 6zM2640 2199l-13-6 0-12 3-2 14 6-1 12zM2154 2268l-4-1-7-12 6-10 5-3 11 13zM2498 2261l-6-8 12-10 8 10-10 8zM2576 2266l-10-13 2-4 12-6 9 12-3 5zM2646 2258l-18 2-3-3 4-10 5-5 10 10zM2084 2262l-4-7 8-11 6 5-7 12zM2232 2265l-4 2-8-4-3-14 1-3 14 5zM2304 2267l-18-4 5-14 3-3 12 7zM2022 2267l-11-10 5-9 10 2 2 3zM2380 2258l-16 7-16-12 20-5zM2424 2267l-1-10 11-7 2 17zM2028 2346l-12-10 0-17 2-2 14 12 1 14zM2152 2331l-2-4 16-11 5 1-1 20-4 1zM2510 2341l-16-6 6-19 2 0 9 21zM2572 2350l-10-7 7-22 5-5 6 13-4 8zM2217 2341l4-16 18-6 1 16-20 8zM2378 2333l-16 6-9-14 15-7 11 13zM2644 2336l-14-7 1-4 7-7 10 5zM2309 2329l-19 7-12-15 2-2zM2078 2339l-10-10 0-3 10-3 4 1zM2436 2345l-10-8-2-4 2-6 12-6 5 2-1 16zM2688 2346l-2-1-6-14 7-8 3-1 4 1 6 14zM2238 2401l-2 2-4 1-38-25-32 24-4 1-2-5 38-29 42 27zM2430 2410l-7-23 3-8 13 16zM2373 2405l-19-10 2-6 18-5 3 1zM2504 2404l-13-11 11-10 11 8zM2581 2385l1 14-2 3-22 1-5-4 15-8 8-8zM1989 2399l0-10 3-2 112 0 3 4 0 10-3 2-80 0-6 4-4-4-22 0zM2653 2399l-3 5-12-6-6 1-1-2 7-9zM2302 2506l-44-1 0-111 46 1 0 108zM2368 2475l-10-16 2-5 6-2 4 3 8 12zM2447 2477l-5 1-25-15 19-11zM2144 2475l-1-4 4-6 1-7 8 0-1 13zM2516 2480l-17-7 13-16 2-1 4 1 1 20zM2014 2480l-7-15 6-6 5-2 3 2 6 12-9 8zM2642 2476l-15-3 7-14 4-1 3 3zM2092 2483l-12 0-4-2 0-6 2-11 8-1 4 2 3 12 3 2zM2574 2480l-12-3-1-2 9-12 7 14zM2305 2529l-4 10-3 1-18-7 2-4 8 0 10-5 4 1zM2438 2549l-12-2-4-4 6-19 6 1 8 15zM2086 2545l-2 0-3-16 1-2 15 8zM2370 2548l-18-3 0-10 8-8 6-1 9 17zM2500 2543l-16-11 0-5 14 0 2 2zM2243 2537l-3 5-6 3-70 0-6-2-3-8 3-6 4-2 72 0 6 3zM2222 2611l4-10-6-7 4 0 4 4 14-7 3 18-2 2-13 3zM2086 2618l-10-17 0-4 18-4 2 4-7 18zM2300 2618l-6-17 3-4 7-3 6 1 10-1 6 2-4 9-10 5-8 9zM2432 2615l-4-2-4-10 10-10 10 12zM2506 2613l-11-8 7-12 13 8zM2357 2617l-2-12 15-7 2 1 9 16zM2158 2691l-9-14 9-12 12 10zM2299 2681l-11-6-6-8 10-2 4 2zM2360 2687l-2-2 12-14 5-2 1 14zM2218 2693l-2-2 2-19 10 7z"/>
<path fill="#d7d7d7" d="M2912 2893l-1098 0 0-1120 1098 0zM2240 2807l44-1 5-37 1-30 128-1 70-5 2-3 5-33 1-24 71-2 1-66 54-1 10-2 2-69 54-1 14-3 2-68 46-1 16-2 3-3-1-182-28-5-38-1-1-102-3-34-36-5-28-1-1-70-67-2-1-26-5-35-58-4-74-1-5-62-3-3-34 1-6 2-6 60-150 1-12 2-20 8-18-4-3 3-1 10-4 50-66 1-64 5-5 44 0 88-71 2-1 72-61 3-3 3-1 185 8 2 58 1 2 56 2 10 65 2 1 142 67 2 1 66 134 2 2 30 4 34zM2368 2045l-4-6 0-3 13-9 2 8-7 4zM2302 2046l-16-1-1-2 3-8 4-2 12 3zM2232 2060l-14-11 12-11 10 9zM2499 2053l-11 0 0-12 12 0zM2138 2122l16-21 9 8-11 13zM2358 2127l-6-12 8-11 9 11-7 10zM2510 2119l-15-6 3-9 2-1 11 14zM2438 2129l-15-6 9-16 11 8zM2576 2127l-4-8-1-8 1-2 15 8-1 5zM2298 2127l-13-8 13-8zM2233 2127l-11-3-4-12 12 2zM2428 2191l-1-2 5-18 13 10zM2226 2193l-6-16 12-5 7 13zM2374 2183l-4 1-6-3-10 3-1-1 1-10 16 0zM2511 2195l-11 0-4-2-2-21 17 19zM2098 2185l-17 0 5-11zM2576 2192l-2 0-6-18 18 2 0 5zM2167 2193l-16-4-1-2 6-10 2-1 10 15zM2298 2193l-13-2 1-12 16 1 1 3zM2640 2198l-11-5 1-13 13 5zM2152 2267l-7-12 9-12 9 12zM2084 2261l-3-6 7-10 6 6zM2500 2261l-6-8 10-9 7 9zM2576 2264l-9-11 13-9 7 11-1 3zM2646 2257l-18 2-1-2 7-14zM2230 2265l-10-4-2-14 13 4 1 12zM2302 2267l-14-4 6-16 11 6-1 12zM2379 2257l-17 6-13-10 17-4zM2022 2266l-10-9 4-7 11 3zM2436 2265l-12 1 0-9 10-6zM2572 2348l-8-4 0-3 5-10 2-10 3-4 5 14-4 6zM2030 2344l-2 1-11-10 1-17 13 11zM2166 2337l-14-10 16-10 3 2-1 14zM2362 2336l-7-11 13-6 9 12zM2508 2339l-14-5 6-17 10 20zM2219 2341l4-16 11-5 4 1 0 14-16 7zM2307 2329l-17 6-11-14zM2644 2335l-13-6 1-4 6-6 10 6zM2436 2342l-10-7 0-4 14-9 2 1-2 16zM2688 2345l-6-14 8-8 9 14zM2078 2337l-9-10 9-3 4 1zM2236 2401l-4 1-38-25-32 24-4 1 0-3 36-28 40 26zM2430 2408l-6-21 0-5 2-1 11 14zM2504 2402l-12-9 8-9 11 7zM2578 2386l2 13-2 2-20 0-3-2 15-8 6-6zM2375 2387l-2 14-3 2-15-10 1-3zM1991 2399l1-10 110 0 3 2-1 10-80 0-6 5-4-5-22 0zM2652 2399l-2 2-18-4 6-8zM2302 2505l-42 0-1-2 0-106 1-2 43 0zM2370 2473l-3 0-7-12 0-5 8-2 9 13zM2445 2477l-25-14 16-8zM2016 2479l-8-12 7-8 3-1 8 13zM2144 2474l0-3 5-12 6 0 0 12zM2516 2479l-15-6 13-16 3 2zM2640 2475l-12-2 8-13 3 1 3 12zM2092 2481l-14 0-1-2 1-13 11-1zM2574 2479l-11-4 7-10 6 12zM2438 2546l-14-3 4-16 2-2 10 16zM2303 2529l-5 9-14-3-3-4 19-5zM2368 2546l-14-3-1-2 1-5 10-9 8 16zM2500 2541l-3 0-13-12 14-1zM2086 2543l-3-12 1-2 11 6zM2241 2537l-2 4-5 2-70 0-5-2-2-6 2-4 5-2 70 0 5 2zM2224 2611l3-10 15-9 2 17-2 2-12 2zM2432 2614l-7-9 9-10 9 10zM2506 2611l-10-6 6-10 11 6zM2086 2616l-10-17 16-3 2 1zM2302 2616l-5-15 1-4 4-2 23 2-3 5-10 5zM2379 2613l-19 3-2-1-2-8 14-8zM2158 2690l-8-11 8-13 11 9zM2298 2679l-13-8-1-3 10-1zM2361 2685l10-14 3 0 2 10-2 2zM2218 2692l0-19 9 6z"/>
<path fill="#dfdfdf" d="M2912 2893l-1098 0 0-1120 1098 0zM2234 2812l52 1 4-2 2-68 2-2 126 0 74-3 4-61 2-2 66 0 4-2 0-62 2-4 63-2 1-66 2-4 67-2 1-68 4-2 58-1 5-3-1-190-4-2-62-2-2-2-2-136-4-2-60-2-2-2 0-68-4-2-62 0-2-2-2-58-2-4-132-2-2-2-2-62-2-4-51 2-2 62-2 2-149 0-34 5-20-2-2 5-1 60-2 2-131 3-1 3-2 44-1 86-4 2-66 1-1 3-1 68-4 2-58 1-2 3-1 192 9 2 57 0 2 2 1 65 62 1 4 2 1 140 3 2 62 0 2 2 1 62 1 3 133 1 2 2 2 62zM2368 2043l-3-6 9-7 2 0 1 5zM2303 2037l-1 8-16-2 4-8zM2232 2059l-12-10 10-10 8 8zM2498 2052l-9-1-1-8 10-2zM2142 2121l12-19 9 7-11 12zM2506 2116l-9-5 3-6 8 10zM2358 2125l-4-10 6-7 7 7-6 10zM2436 2127l-11-4 7-15 8 9zM2586 2119l-10 6-4-14zM2296 2125l-9-6 9-6 2 10zM2232 2126l-10-4-2-9 9 2zM2428 2189l4-16 10 8zM2228 2191l-6-12 10-5 5 11zM2370 2181l-14 1 1-7 11 0zM2097 2185l-13 0 2-9zM2510 2194l-12-1-2-16zM2585 2179l-9 9-6-11zM2164 2191l-12-4 5-8 1-1zM2302 2181l-6 11-8-1-1-2-1-8zM2640 2197l-9-6-1-9 11 3zM2154 2264l-6-9 6-11 7 11zM2643 2257l-14 0 5-12zM2084 2260l-2-5 6-9 5 5-7 9zM2500 2259l-3-6 7-7 7 7zM2576 2262l-8-9 12-6 5 8zM2230 2263l-8-4-2-10 9 4zM2302 2266l-12-5 4-13 9 5zM2375 2257l-13 4-10-8 14-2zM2022 2265l-8-8 4-5 8 1zM2426 2265l-1-8 9-4 0 12zM2166 2335l-10-6 0-2 12-8zM2362 2334l-5-7 11-6 6 9zM2508 2338l-13-5 5-12zM2572 2345l-5-6 3-6 2-12 5 10zM2642 2334l-10-7 6-6 9 4zM2028 2342l-10-7 2-12 9 6zM2220 2341l4-14 12-4 0 10-2 2zM2301 2329l-9 3-10-9zM2078 2334l-2 0-5-7 9-2zM2436 2339l-9-6 11-8 1 2zM2690 2343l-6-10 6-8 7 12zM2197 2375l-1 2-5-2 3-2zM2184 2383l-1-2 7-5 2 1zM2204 2379l-2 1-5-3 1-1zM2210 2383l-2 1-5-3 1-1zM2182 2384l-1-1 1-1 2 1zM2176 2389l-1-2 5-4 1 2zM2216 2387l-2 1-5-3 1-1zM2430 2404l-5-17 1-2 10 10zM2577 2387l0 12-17 0 0-2zM2174 2390l-1-1 1-1 2 1zM2222 2391l-2 1-5-3 1-1zM2370 2401l-12-8 0-2 15-2zM2504 2399l-9-6 5-6 9 6zM2168 2395l-1-2 5-4 2 2zM2228 2395l-2 1-5-3 1-2zM2647 2397l-11 0-1-2 3-4zM2026 2397l-8 8-6-10 2-2 8 0zM2166 2396l-1-1 1-1 2 1zM2160 2401l0-2 4-4 2 2zM2230 2399l-3-2 1-2 3 2zM2300 2504l-40-1 0-107 42 1 0 106zM2368 2473l-8-14 2-2 6 0 7 10zM2440 2473l-15-10 11-5zM2512 2475l-8-4 10-13 0 17zM2016 2477l-5-10 7-8 7 12zM2145 2471l5-12 4 1-2 10zM2640 2473l-8 0 4-10 2 0zM2090 2481l-12-2 2-12 8 0zM2573 2477l-9-2 6-8zM2438 2543l-12-2 4-14zM2301 2529l-5 6-11-2zM2086 2542l-2-11 9 4zM2370 2543l-4 1-10-3-1-2 9-8zM2497 2539l-11-8 10-1zM2239 2537l-5 4-70 0-4-2-1-4 5-4 70 0 4 2zM2240 2596l2 13-12 2-4-2 2-8zM2506 2609l-7-4 4-8 7 4zM2086 2612l-8-13 13 0zM2298 2599l2-2 8 2 15 0-19 13zM2432 2613l-4-8 6-7 7 7zM2360 2615l-1-8 11-6 7 12zM2158 2688l-6-9 6-11 9 7zM2296 2677l-10-7 8 0zM2364 2684l8-12 3 9zM2220 2688l-1-3 1-9 5 5z"/>
<path fill="#e7e7e7" d="M2301 2043l-11-1 1-5 9 2zM2370 2039l-2-2 2-2zM2230 2055l-6-6 6-8 4 6zM2496 2050l-5-1 0-4 5-1zM2146 2119l-1-2 9-10 4 3-6 8zM2504 2114l-5-3 1-3zM2360 2120l-2-5 2-3 3 3zM2429 2121l3-8 5 6-3 3zM2582 2119l-6 3-2-9zM2228 2123l-4-2-2-5 6 1 2 4zM2294 2122l-5-3 5-4 2 6zM2093 2183l-8 0 1-5zM2228 2187l-2-6 4-3 3 5zM2432 2184l2-6 3 3zM2160 2189l-6-2 4-6 4 6zM2576 2185l-2-6 6 2zM2505 2189l-5 0 0-6zM2294 2188l-3-1 1-3 4 1zM2636 2191l-2-5 4 3zM2154 2261l-3-6 3-8 5 8zM2086 2258l-1-3 3-6 3 2zM2300 2263l-8-4 4-8 4 4zM2505 2253l-5 0 2-3zM2576 2260l-4-5 6-6 4 6zM2641 2255l-9 0 4-6zM2020 2260l-2-4 4-1zM2370 2257l-6 2-7-4 7-2zM2428 2263l-1-4 5-3 1 5zM2370 2329l-8 1-2-3 6-3zM2643 2331l-9-4 6-4 3 2zM2162 2329l-1-2 1-1 2 1zM2506 2335l-8-2 2-8 2 1zM2026 2338l-6-5 2-5 4 3zM2078 2329l-2 4-4-4zM2226 2336l1-5 3-3 2 3zM2434 2334l-2-3 4-3zM2690 2340l-3-7 3-4 4 6zM2572 2339l-2-2 2-7 2 3zM2430 2400l-2-11 6 6zM2502 2398l-3-3 1-4 5 2zM2576 2397l-14 0 12-7zM2369 2397l-7-4 6-1zM2643 2395l-6 0 3-2zM2017 2397l7 0-6 5zM2368 2466l-4-5 2-1 4 3zM2148 2470l2-8 2 0 0 6zM2438 2467l-2 1-6-3 4-3zM2016 2473l-2-4 2-5 4 5zM2510 2472l-2-3 2-3 2 1zM2636 2472l-2-1 2-5 2 5zM2086 2476l-4-1 0-4 4 0zM2571 2475l-4-2 1-2 2 1zM2434 2540l-6-1 2-9zM2496 2537l-7-6 7 0zM2086 2539l0-6 4 4zM2237 2537l-3 2-70 0-3-4 3-2 70 0zM2364 2540l-4-2 2-3 3 2zM2228 2607l2-5 9-1-3 6zM2303 2601l10 2-7 4zM2506 2606l-3-3 1-3 5 3zM2086 2606l-2-3 2-1 3 1zM2434 2608l-2-3 2-4 3 4zM2374 2611l-10 1-1-5 5-3zM2158 2681l-2-2 2-5 3 3zM2370 2681l-1-2 3-4 1 4zM2220 2686l0-8 4 3z"/>
<path fill="#eeeeee" d="M2297 2041l-3 0 0-2 3 0zM2576 2258l-2-3 2-1 3 1zM2641 2327l-1 2-2-2z"/>
</g>
<path d="M1013.7 1059.7 L1047 1059.7" stroke="#e2e2e2" stroke-width="5" stroke-linecap="round" fill="none" style="mix-blend-mode:lighten"/>
<path d="M944.4 1163.2 L976.8 1163.2" stroke="#e2e2e2" stroke-width="5" stroke-linecap="round" fill="none" style="mix-blend-mode:lighten"/>
<path d="M1355 1163.2 L1387.8 1163.2" stroke="#e2e2e2" stroke-width="5" stroke-linecap="round" fill="none" style="mix-blend-mode:lighten"/>
<path d="M944.4 1198.7 L977.7 1198.7" stroke="#e2e2e2" stroke-width="5" stroke-linecap="round" fill="none" style="mix-blend-mode:lighten"/>
<path d="M1354 1198.7 L1387.5 1198.7" stroke="#e2e2e2" stroke-width="5" stroke-linecap="round" fill="none" style="mix-blend-mode:lighten"/>
<path d="M1218 1337.5 L1218 1370.8" stroke="#e2e2e2" stroke-width="5" stroke-linecap="round" fill="none" style="mix-blend-mode:lighten"/>
</g></g>
<path d="M1013.7 1059.7 L1047 1059.7" stroke="rgb(146,0,0)" stroke-width="1.6" fill="none"/>
<path d="M944.4 1163.2 L976.8 1163.2" stroke="rgb(146,0,0)" stroke-width="1.6" fill="none"/>
<path d="M1355 1163.2 L1387.8 1163.2" stroke="rgb(146,0,0)" stroke-width="1.6" fill="none"/>
<path d="M944.4 1198.7 L977.7 1198.7" stroke="rgb(146,0,0)" stroke-width="1.6" fill="none"/>
<path d="M1354 1198.7 L1387.5 1198.7" stroke="rgb(146,0,0)" stroke-width="1.6" fill="none"/>
<path d="M1218 1337.5 L1218 1370.8" stroke="rgb(146,0,0)" stroke-width="1.6" fill="none"/>
<text x="186.6" y="710.3" font-size="23.5" font-weight="bold" text-anchor="middle" textLength="29.2" lengthAdjust="spacingAndGlyphs">-30</text>
<text x="274.7" y="710.3" font-size="23.5" font-weight="bold" text-anchor="middle" textLength="29.2" lengthAdjust="spacingAndGlyphs">-20</text>
<text x="362.8" y="710.3" font-size="23.5" font-weight="bold" text-anchor="middle" textLength="29.2" lengthAdjust="spacingAndGlyphs">-10</text>
<text x="450.9" y="710.3" font-size="23.5" font-weight="bold" text-anchor="middle" textLength="10.6" lengthAdjust="spacingAndGlyphs">0</text>
<text x="539.0" y="710.3" font-size="23.5" font-weight="bold" text-anchor="middle" textLength="21.2" lengthAdjust="spacingAndGlyphs">10</text>
<text x="627.1" y="710.3" font-size="23.5" font-weight="bold" text-anchor="middle" textLength="21.2" lengthAdjust="spacingAndGlyphs">20</text>
<text x="715.2" y="710.3" font-size="23.5" font-weight="bold" text-anchor="middle" textLength="21.2" lengthAdjust="spacingAndGlyphs">30</text>
<text x="140.5" y="161.2" font-size="23.5" font-weight="bold" text-anchor="end" textLength="21.2" lengthAdjust="spacingAndGlyphs">30</text>
<text x="140.5" y="249.6" font-size="23.5" font-weight="bold" text-anchor="end" textLength="21.2" lengthAdjust="spacingAndGlyphs">20</text>
<text x="140.5" y="338.1" font-size="23.5" font-weight="bold" text-anchor="end" textLength="21.2" lengthAdjust="spacingAndGlyphs">10</text>
<text x="140.5" y="426.5" font-size="23.5" font-weight="bold" text-anchor="end" textLength="10.6" lengthAdjust="spacingAndGlyphs">0</text>
<text x="140.5" y="514.9" font-size="23.5" font-weight="bold" text-anchor="end" textLength="29.2" lengthAdjust="spacingAndGlyphs">-10</text>
<text x="140.5" y="603.4" font-size="23.5" font-weight="bold" text-anchor="end" textLength="29.2" lengthAdjust="spacingAndGlyphs">-20</text>
<text x="140.5" y="691.8" font-size="23.5" font-weight="bold" text-anchor="end" textLength="29.2" lengthAdjust="spacingAndGlyphs">-30</text>
<text x="298.8" y="97.2" font-size="48.0" font-weight="bold" textLength="272.0" lengthAdjust="spacingAndGlyphs">GlcA-GalNAc</text>
<text x="28.8" y="68.0" font-size="60.0" font-weight="bold" textLength="37.0" lengthAdjust="spacingAndGlyphs">A</text>
<text x="396.7" y="758.4" font-size="42" font-weight="bold" textLength="106" lengthAdjust="spacingAndGlyphs">1<tspan font-size="26" dy="-15">st</tspan><tspan dy="15"> PC</tspan></text>
<text transform="translate(97.5,461.5) rotate(-90)" x="0" y="0" font-size="42" font-weight="bold" textLength="114" lengthAdjust="spacingAndGlyphs">2<tspan font-size="26" dy="-15">nd</tspan><tspan dy="15"> PC</tspan></text>
<text x="888.8" y="708.2" font-size="23.5" font-weight="bold" text-anchor="middle" textLength="29.2" lengthAdjust="spacingAndGlyphs">-40</text>
<text x="960.2" y="708.2" font-size="23.5" font-weight="bold" text-anchor="middle" textLength="29.2" lengthAdjust="spacingAndGlyphs">-30</text>
<text x="1031.6" y="708.2" font-size="23.5" font-weight="bold" text-anchor="middle" textLength="29.2" lengthAdjust="spacingAndGlyphs">-20</text>
<text x="1103.0" y="708.2" font-size="23.5" font-weight="bold" text-anchor="middle" textLength="29.2" lengthAdjust="spacingAndGlyphs">-10</text>
<text x="1174.4" y="708.2" font-size="23.5" font-weight="bold" text-anchor="middle" textLength="10.6" lengthAdjust="spacingAndGlyphs">0</text>
<text x="1245.8" y="708.2" font-size="23.5" font-weight="bold" text-anchor="middle" textLength="21.2" lengthAdjust="spacingAndGlyphs">10</text>
<text x="1317.2" y="708.2" font-size="23.5" font-weight="bold" text-anchor="middle" textLength="21.2" lengthAdjust="spacingAndGlyphs">20</text>
<text x="1388.6" y="708.2" font-size="23.5" font-weight="bold" text-anchor="middle" textLength="21.2" lengthAdjust="spacingAndGlyphs">30</text>
<text x="1460.0" y="708.2" font-size="23.5" font-weight="bold" text-anchor="middle" textLength="21.2" lengthAdjust="spacingAndGlyphs">40</text>
<text x="884.8" y="130.5" font-size="23.5" font-weight="bold" text-anchor="end" textLength="21.2" lengthAdjust="spacingAndGlyphs">40</text>
<text x="884.8" y="200.5" font-size="23.5" font-weight="bold" text-anchor="end" textLength="21.2" lengthAdjust="spacingAndGlyphs">30</text>
<text x="884.8" y="270.5" font-size="23.5" font-weight="bold" text-anchor="end" textLength="21.2" lengthAdjust="spacingAndGlyphs">20</text>
<text x="884.8" y="340.5" font-size="23.5" font-weight="bold" text-anchor="end" textLength="21.2" lengthAdjust="spacingAndGlyphs">10</text>
<text x="884.8" y="410.5" font-size="23.5" font-weight="bold" text-anchor="end" textLength="10.6" lengthAdjust="spacingAndGlyphs">0</text>
<text x="884.8" y="480.5" font-size="23.5" font-weight="bold" text-anchor="end" textLength="29.2" lengthAdjust="spacingAndGlyphs">-10</text>
<text x="884.8" y="550.5" font-size="23.5" font-weight="bold" text-anchor="end" textLength="29.2" lengthAdjust="spacingAndGlyphs">-20</text>
<text x="884.8" y="620.5" font-size="23.5" font-weight="bold" text-anchor="end" textLength="29.2" lengthAdjust="spacingAndGlyphs">-30</text>
<text x="884.8" y="690.5" font-size="23.5" font-weight="bold" text-anchor="end" textLength="29.2" lengthAdjust="spacingAndGlyphs">-40</text>
<text x="957.0" y="98.0" font-size="48.0" font-weight="bold" textLength="423.8" lengthAdjust="spacingAndGlyphs">GlcA2S-GalNAc4S6S</text>
<text x="776.2" y="66.0" font-size="50.0" font-weight="bold" textLength="30.0" lengthAdjust="spacingAndGlyphs">B</text>
<text x="1121.5" y="757.3" font-size="42" font-weight="bold" textLength="106" lengthAdjust="spacingAndGlyphs">1<tspan font-size="26" dy="-15">st</tspan><tspan dy="15"> PC</tspan></text>
<text transform="translate(841.0,461.5) rotate(-90)" x="0" y="0" font-size="42" font-weight="bold" textLength="114" lengthAdjust="spacingAndGlyphs">2<tspan font-size="26" dy="-15">nd</tspan><tspan dy="15"> PC</tspan></text>
<text x="150.3" y="1473.7" font-size="23.5" font-weight="bold" text-anchor="middle" textLength="29.2" lengthAdjust="spacingAndGlyphs">-30</text>
<text x="243.7" y="1473.7" font-size="23.5" font-weight="bold" text-anchor="middle" textLength="29.2" lengthAdjust="spacingAndGlyphs">-20</text>
<text x="337.0" y="1473.7" font-size="23.5" font-weight="bold" text-anchor="middle" textLength="29.2" lengthAdjust="spacingAndGlyphs">-10</text>
<text x="430.4" y="1473.7" font-size="23.5" font-weight="bold" text-anchor="middle" textLength="10.6" lengthAdjust="spacingAndGlyphs">0</text>
<text x="523.8" y="1473.7" font-size="23.5" font-weight="bold" text-anchor="middle" textLength="21.2" lengthAdjust="spacingAndGlyphs">10</text>
<text x="617.1" y="1473.7" font-size="23.5" font-weight="bold" text-anchor="middle" textLength="21.2" lengthAdjust="spacingAndGlyphs">20</text>
<text x="710.5" y="1473.7" font-size="23.5" font-weight="bold" text-anchor="middle" textLength="21.2" lengthAdjust="spacingAndGlyphs">30</text>
<text x="147.0" y="889.3" font-size="23.5" font-weight="bold" text-anchor="end" textLength="21.2" lengthAdjust="spacingAndGlyphs">30</text>
<text x="147.0" y="983.6" font-size="23.5" font-weight="bold" text-anchor="end" textLength="21.2" lengthAdjust="spacingAndGlyphs">20</text>
<text x="147.0" y="1077.9" font-size="23.5" font-weight="bold" text-anchor="end" textLength="21.2" lengthAdjust="spacingAndGlyphs">10</text>
<text x="147.0" y="1172.2" font-size="23.5" font-weight="bold" text-anchor="end" textLength="10.6" lengthAdjust="spacingAndGlyphs">0</text>
<text x="147.0" y="1266.5" font-size="23.5" font-weight="bold" text-anchor="end" textLength="29.2" lengthAdjust="spacingAndGlyphs">-10</text>
<text x="147.0" y="1360.8" font-size="23.5" font-weight="bold" text-anchor="end" textLength="29.2" lengthAdjust="spacingAndGlyphs">-20</text>
<text x="147.0" y="1455.1" font-size="23.5" font-weight="bold" text-anchor="end" textLength="29.2" lengthAdjust="spacingAndGlyphs">-30</text>
<text x="264.5" y="860.4" font-size="48.0" font-weight="bold" textLength="323.5" lengthAdjust="spacingAndGlyphs">GlcA-GalNAc4S</text>
<text x="33.3" y="851.9" font-size="52.0" font-weight="bold" textLength="31.0" lengthAdjust="spacingAndGlyphs">C</text>
<text x="377.0" y="1522.0" font-size="42" font-weight="bold" textLength="106" lengthAdjust="spacingAndGlyphs">1<tspan font-size="26" dy="-15">st</tspan><tspan dy="15"> PC</tspan></text>
<text transform="translate(97.8,1224.1) rotate(-90)" x="0" y="0" font-size="42" font-weight="bold" textLength="114" lengthAdjust="spacingAndGlyphs">2<tspan font-size="26" dy="-15">nd</tspan><tspan dy="15"> PC</tspan></text>
<text x="905.8" y="1473.7" font-size="23.5" font-weight="bold" text-anchor="middle" textLength="29.2" lengthAdjust="spacingAndGlyphs">-40</text>
<text x="974.6" y="1473.7" font-size="23.5" font-weight="bold" text-anchor="middle" textLength="29.2" lengthAdjust="spacingAndGlyphs">-30</text>
<text x="1043.4" y="1473.7" font-size="23.5" font-weight="bold" text-anchor="middle" textLength="29.2" lengthAdjust="spacingAndGlyphs">-20</text>
<text x="1112.2" y="1473.7" font-size="23.5" font-weight="bold" text-anchor="middle" textLength="29.2" lengthAdjust="spacingAndGlyphs">-10</text>
<text x="1181.0" y="1473.7" font-size="23.5" font-weight="bold" text-anchor="middle" textLength="10.6" lengthAdjust="spacingAndGlyphs">0</text>
<text x="1249.8" y="1473.7" font-size="23.5" font-weight="bold" text-anchor="middle" textLength="21.2" lengthAdjust="spacingAndGlyphs">10</text>
<text x="1318.6" y="1473.7" font-size="23.5" font-weight="bold" text-anchor="middle" textLength="21.2" lengthAdjust="spacingAndGlyphs">20</text>
<text x="1387.4" y="1473.7" font-size="23.5" font-weight="bold" text-anchor="middle" textLength="21.2" lengthAdjust="spacingAndGlyphs">30</text>
<text x="1456.2" y="1473.7" font-size="23.5" font-weight="bold" text-anchor="middle" textLength="21.2" lengthAdjust="spacingAndGlyphs">40</text>
<text x="903.6" y="894.6" font-size="23.5" font-weight="bold" text-anchor="end" textLength="21.2" lengthAdjust="spacingAndGlyphs">40</text>
<text x="903.6" y="964.6" font-size="23.5" font-weight="bold" text-anchor="end" textLength="21.2" lengthAdjust="spacingAndGlyphs">30</text>
<text x="903.6" y="1034.6" font-size="23.5" font-weight="bold" text-anchor="end" textLength="21.2" lengthAdjust="spacingAndGlyphs">20</text>
<text x="903.6" y="1104.6" font-size="23.5" font-weight="bold" text-anchor="end" textLength="21.2" lengthAdjust="spacingAndGlyphs">10</text>
<text x="903.6" y="1174.6" font-size="23.5" font-weight="bold" text-anchor="end" textLength="10.6" lengthAdjust="spacingAndGlyphs">0</text>
<text x="903.6" y="1244.6" font-size="23.5" font-weight="bold" text-anchor="end" textLength="29.2" lengthAdjust="spacingAndGlyphs">-10</text>
<text x="903.6" y="1314.6" font-size="23.5" font-weight="bold" text-anchor="end" textLength="29.2" lengthAdjust="spacingAndGlyphs">-20</text>
<text x="903.6" y="1384.6" font-size="23.5" font-weight="bold" text-anchor="end" textLength="29.2" lengthAdjust="spacingAndGlyphs">-30</text>
<text x="903.6" y="1454.6" font-size="23.5" font-weight="bold" text-anchor="end" textLength="29.2" lengthAdjust="spacingAndGlyphs">-40</text>
<text x="1020.0" y="860.4" font-size="48.0" font-weight="bold" textLength="322.4" lengthAdjust="spacingAndGlyphs">GalNAc6S-GlcA</text>
<text x="775.0" y="852.0" font-size="52.0" font-weight="bold" textLength="34.0" lengthAdjust="spacingAndGlyphs">D</text>
<text x="1130.5" y="1522.0" font-size="42" font-weight="bold" textLength="106" lengthAdjust="spacingAndGlyphs">1<tspan font-size="26" dy="-15">st</tspan><tspan dy="15"> PC</tspan></text>
<text transform="translate(841.0,1225.3) rotate(-90)" x="0" y="0" font-size="42" font-weight="bold" textLength="114" lengthAdjust="spacingAndGlyphs">2<tspan font-size="26" dy="-15">nd</tspan><tspan dy="15"> PC</tspan></text>
<rect x="394" y="1545" width="798" height="51" fill="#efefef"/>
<rect x="421.00" y="1555" width="12.43" height="34" fill="#000087"/>
<rect x="432.83" y="1555" width="12.43" height="34" fill="#000097"/>
<rect x="444.66" y="1555" width="12.43" height="34" fill="#0000a7"/>
<rect x="456.48" y="1555" width="12.43" height="34" fill="#0000b7"/>
<rect x="468.31" y="1555" width="12.43" height="34" fill="#0000c7"/>
<rect x="480.14" y="1555" width="12.43" height="34" fill="#0000d7"/>
<rect x="491.97" y="1555" width="12.43" height="34" fill="#0000e7"/>
<rect x="503.80" y="1555" width="12.43" height="34" fill="#0000f7"/>
<rect x="515.62" y="1555" width="12.43" height="34" fill="#0008ff"/>
<rect x="527.45" y="1555" width="12.43" height="34" fill="#0018ff"/>
<rect x="539.28" y="1555" width="12.43" height="34" fill="#0028ff"/>
<rect x="551.11" y="1555" width="12.43" height="34" fill="#0038ff"/>
<rect x="562.94" y="1555" width="12.43" height="34" fill="#0048ff"/>
<rect x="574.77" y="1555" width="12.43" height="34" fill="#0058ff"/>
<rect x="586.59" y="1555" width="12.43" height="34" fill="#0068ff"/>
<rect x="598.42" y="1555" width="12.43" height="34" fill="#0078ff"/>
<rect x="610.25" y="1555" width="12.43" height="34" fill="#0087ff"/>
<rect x="622.08" y="1555" width="12.43" height="34" fill="#0097ff"/>
<rect x="633.91" y="1555" width="12.43" height="34" fill="#00a7ff"/>
<rect x="645.73" y="1555" width="12.43" height="34" fill="#00b7ff"/>
<rect x="657.56" y="1555" width="12.43" height="34" fill="#00c7ff"/>
<rect x="669.39" y="1555" width="12.43" height="34" fill="#00d7ff"/>
<rect x="681.22" y="1555" width="12.43" height="34" fill="#00e7ff"/>
<rect x="693.05" y="1555" width="12.43" height="34" fill="#00f7ff"/>
<rect x="704.88" y="1555" width="12.43" height="34" fill="#08fff7"/>
<rect x="716.70" y="1555" width="12.43" height="34" fill="#18ffe7"/>
<rect x="728.53" y="1555" width="12.43" height="34" fill="#28ffd7"/>
<rect x="740.36" y="1555" width="12.43" height="34" fill="#38ffc7"/>
<rect x="752.19" y="1555" width="12.43" height="34" fill="#48ffb7"/>
<rect x="764.02" y="1555" width="12.43" height="34" fill="#58ffa7"/>
<rect x="775.84" y="1555" width="12.43" height="34" fill="#68ff97"/>
<rect x="787.67" y="1555" width="12.43" height="34" fill="#78ff87"/>
<rect x="799.50" y="1555" width="12.43" height="34" fill="#87ff78"/>
<rect x="811.33" y="1555" width="12.43" height="34" fill="#97ff68"/>
<rect x="823.16" y="1555" width="12.43" height="34" fill="#a7ff58"/>
<rect x="834.98" y="1555" width="12.43" height="34" fill="#b7ff48"/>
<rect x="846.81" y="1555" width="12.43" height="34" fill="#c7ff38"/>
<rect x="858.64" y="1555" width="12.43" height="34" fill="#d7ff28"/>
<rect x="870.47" y="1555" width="12.43" height="34" fill="#e7ff18"/>
<rect x="882.30" y="1555" width="12.43" height="34" fill="#f7ff08"/>
<rect x="894.12" y="1555" width="12.43" height="34" fill="#fff700"/>
<rect x="905.95" y="1555" width="12.43" height="34" fill="#ffe700"/>
<rect x="917.78" y="1555" width="12.43" height="34" fill="#ffd700"/>
<rect x="929.61" y="1555" width="12.43" height="34" fill="#ffc700"/>
<rect x="941.44" y="1555" width="12.43" height="34" fill="#ffb700"/>
<rect x="953.27" y="1555" width="12.43" height="34" fill="#ffa700"/>
<rect x="965.09" y="1555" width="12.43" height="34" fill="#ff9700"/>
<rect x="976.92" y="1555" width="12.43" height="34" fill="#ff8700"/>
<rect x="988.75" y="1555" width="12.43" height="34" fill="#ff7800"/>
<rect x="1000.58" y="1555" width="12.43" height="34" fill="#ff6800"/>
<rect x="1012.41" y="1555" width="12.43" height="34" fill="#ff5800"/>
<rect x="1024.23" y="1555" width="12.43" height="34" fill="#ff4800"/>
<rect x="1036.06" y="1555" width="12.43" height="34" fill="#ff3800"/>
<rect x="1047.89" y="1555" width="12.43" height="34" fill="#ff2800"/>
<rect x="1059.72" y="1555" width="12.43" height="34" fill="#ff1800"/>
<rect x="1071.55" y="1555" width="12.43" height="34" fill="#ff0800"/>
<rect x="1083.38" y="1555" width="12.43" height="34" fill="#f70000"/>
<rect x="1095.20" y="1555" width="12.43" height="34" fill="#e70000"/>
<rect x="1107.03" y="1555" width="12.43" height="34" fill="#d70000"/>
<rect x="1118.86" y="1555" width="12.43" height="34" fill="#c70000"/>
<rect x="1130.69" y="1555" width="12.43" height="34" fill="#b70000"/>
<rect x="1142.52" y="1555" width="12.43" height="34" fill="#a70000"/>
<rect x="1154.34" y="1555" width="12.43" height="34" fill="#970000"/>
<rect x="1166.17" y="1555" width="12.43" height="34" fill="#870000"/>
<rect x="421" y="1555" width="757" height="34" fill="none" stroke="#222" stroke-width="1.2"/>
<line x1="554.0" y1="1582" x2="554.0" y2="1589" stroke="#222" stroke-width="1.2"/>
<line x1="694.4" y1="1582" x2="694.4" y2="1589" stroke="#222" stroke-width="1.2"/>
<line x1="836.7" y1="1582" x2="836.7" y2="1589" stroke="#222" stroke-width="1.2"/>
<line x1="979.0" y1="1582" x2="979.0" y2="1589" stroke="#222" stroke-width="1.2"/>
<line x1="1119.3" y1="1582" x2="1119.3" y2="1589" stroke="#222" stroke-width="1.2"/>
<text x="349.4" y="1575.4" font-size="32.0" font-weight="bold" textLength="56.0" lengthAdjust="spacingAndGlyphs">Low</text>
<text x="1201.7" y="1582.3" font-size="32.0" font-weight="bold" textLength="62.0" lengthAdjust="spacingAndGlyphs">High</text>
</svg></body></html>
